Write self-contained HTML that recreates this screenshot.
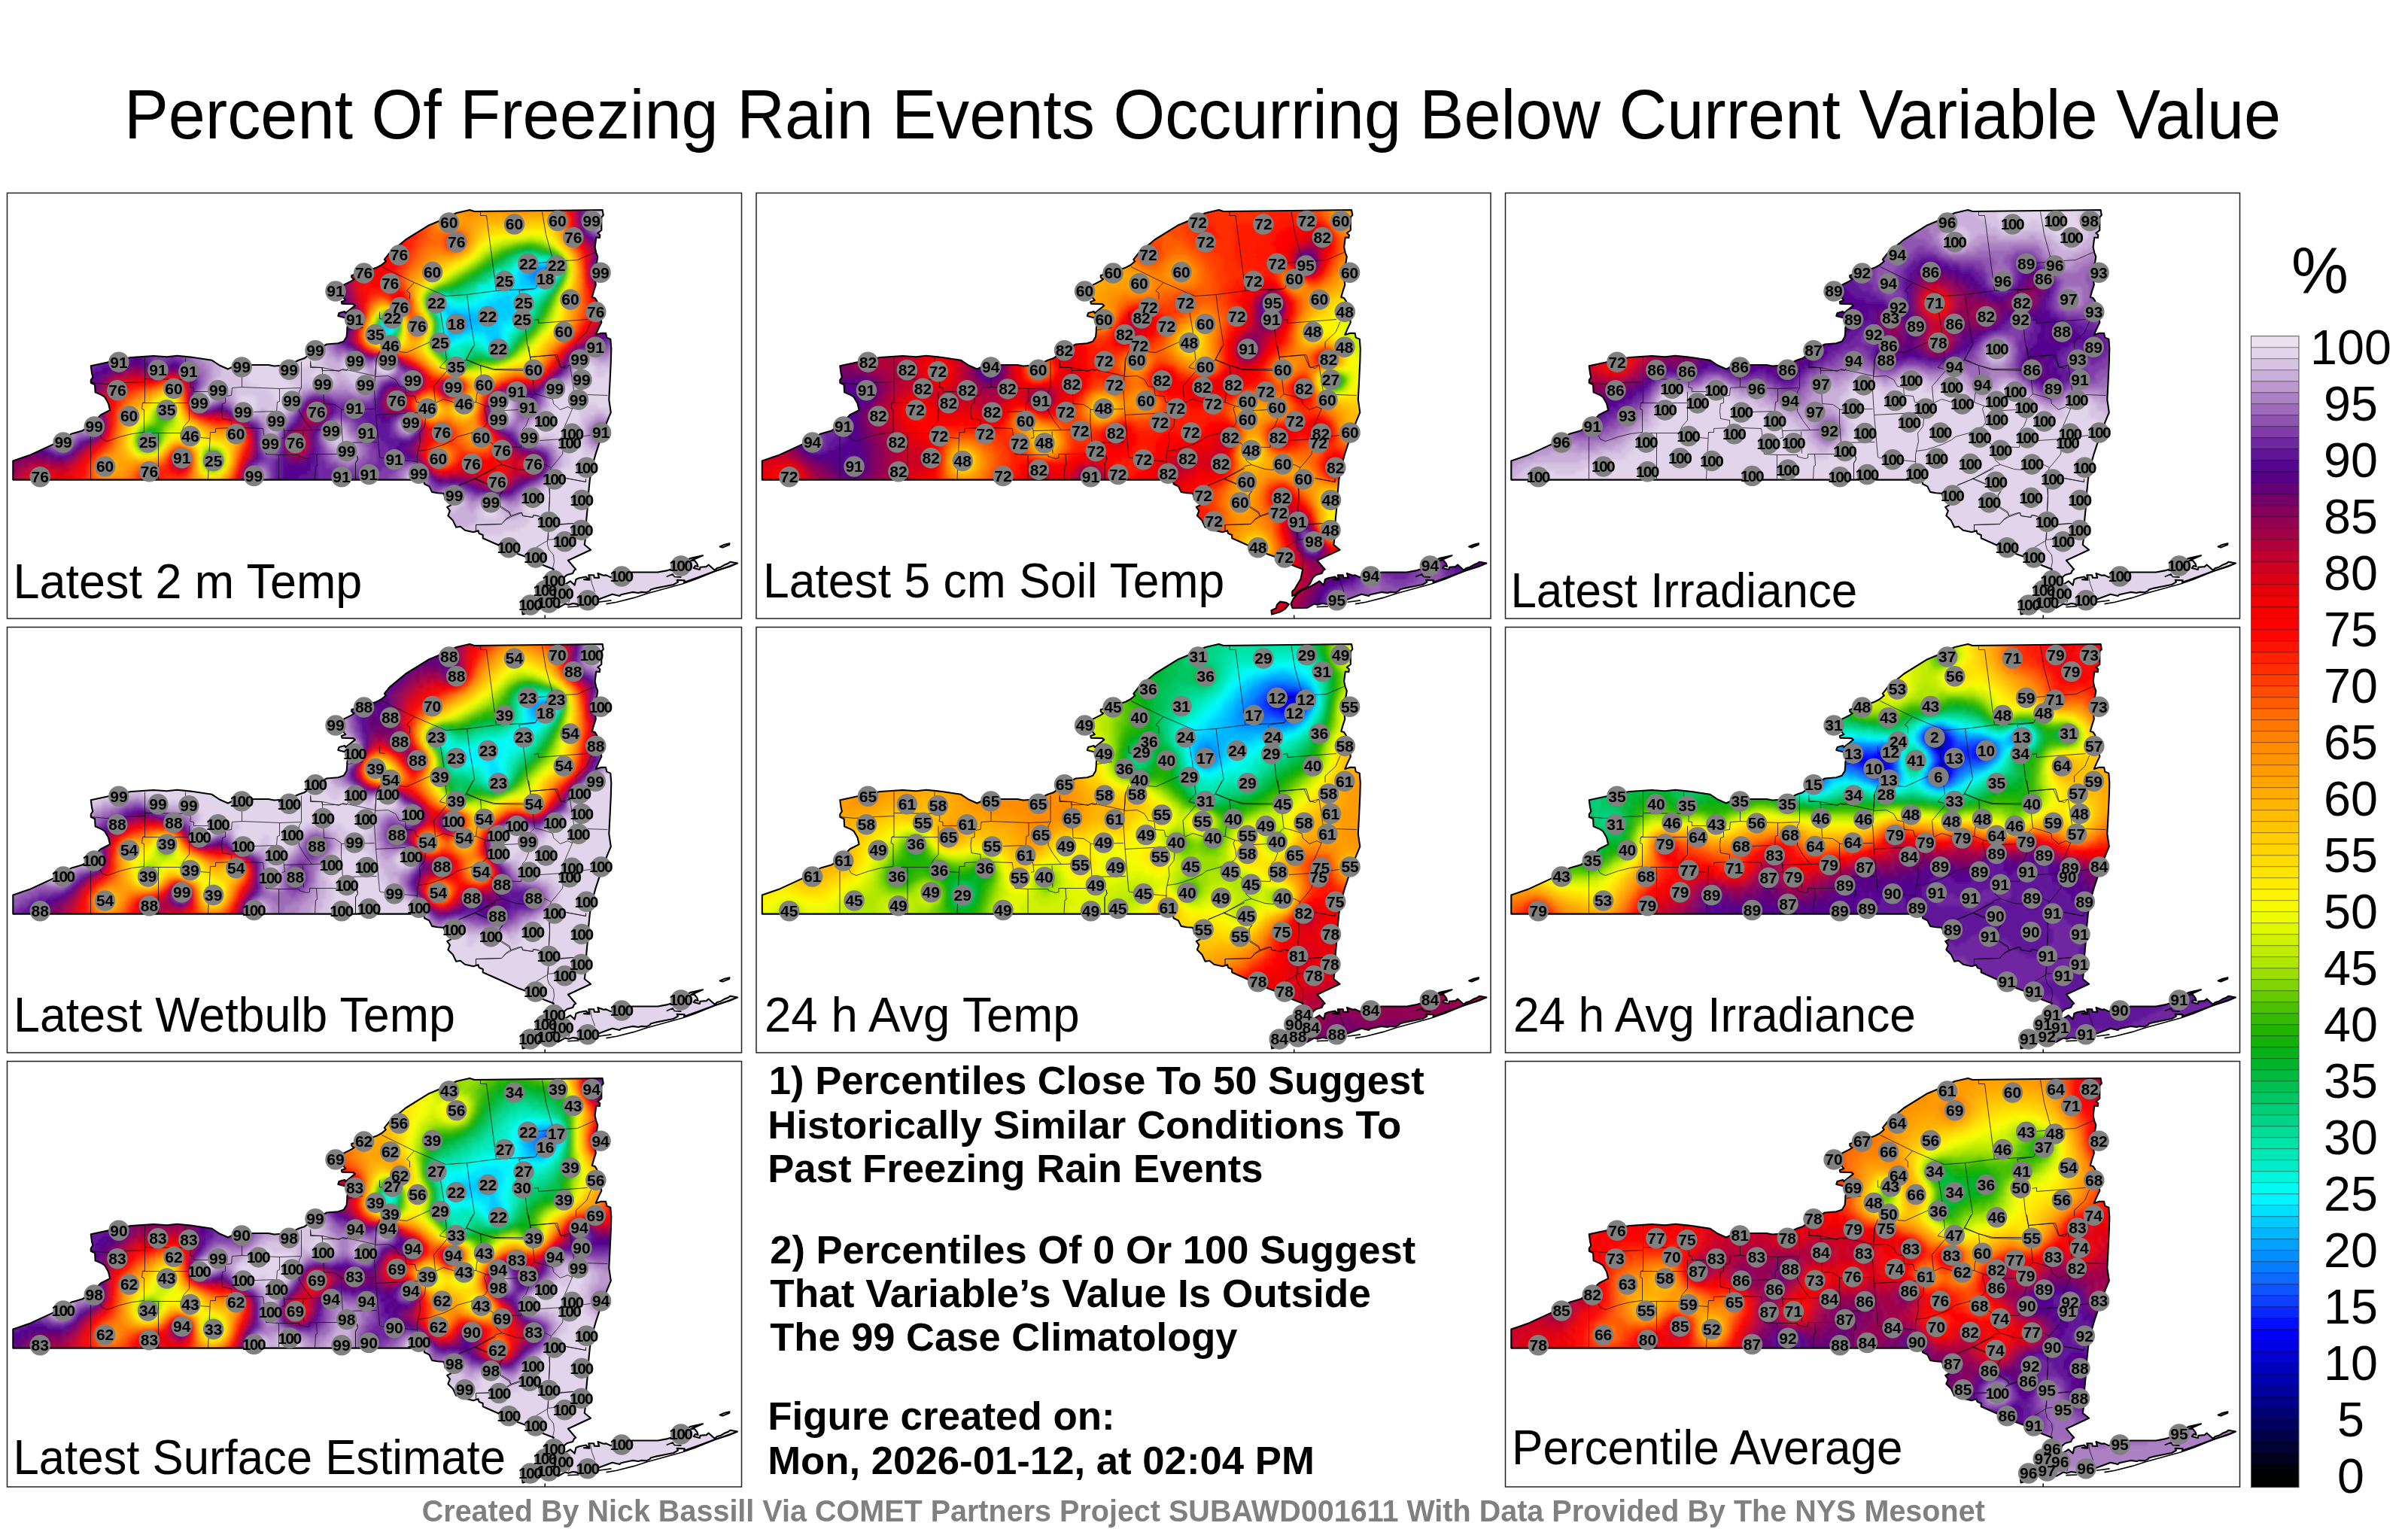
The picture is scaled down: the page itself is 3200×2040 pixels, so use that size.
<!DOCTYPE html><html><head><meta charset="utf-8"><title>Freezing Rain Percentiles</title><style>html,body{margin:0;padding:0;background:#fff}svg{display:block}text{font-family:"Liberation Sans",sans-serif}</style></head><body><svg width="3200" height="2040" viewBox="0 0 3200 2040"><g opacity="0.999"><defs><clipPath id="c"><path d="M7.8,381.1 7.8,356.1 29.5,348.6 62.0,333.6 85.8,319.9 99.6,316.1 109.6,309.8 124.6,294.8 136.6,288.6 134.6,279.8 129.6,271.1 125.8,268.6 117.1,264.8 116.6,254.8 111.3,252.3 111.3,248.5 113.8,244.8 112.6,239.8 111.3,229.8 134.6,224.8 164.6,218.5 194.6,216.5 212.2,217.8 225.9,216.3 247.2,218.5 272.2,222.3 282.2,229.0 293.5,234.0 302.2,229.8 324.7,228.5 347.3,228.5 354.8,230.0 374.8,228.5 387.3,222.3 394.8,219.8 409.8,208.5 424.8,201.0 439.8,199.8 447.3,197.3 451.1,191.0 451.8,183.5 451.8,179.6 453.6,172.1 449.8,165.9 439.8,163.4 441.1,159.6 448.6,157.6 449.8,159.6 462.3,149.6 459.8,147.6 444.8,147.1 444.3,144.6 449.8,142.6 447.3,139.6 444.8,129.6 447.3,122.1 457.3,117.1 461.1,114.6 457.8,112.1 457.8,109.6 464.8,107.6 474.9,104.6 489.9,99.6 497.4,95.8 503.3,90.8 501.3,88.3 508.3,79.6 529.6,62.0 559.6,43.3 574.6,37.0 597.2,26.5 614.7,22.5 620.9,24.5 791.1,22.5 792.3,29.5 789.8,32.0 789.8,49.5 784.8,53.3 787.8,55.8 787.3,59.5 782.8,59.0 781.1,72.1 782.8,79.6 784.8,84.6 783.6,92.1 779.8,99.6 781.1,112.1 782.3,122.1 779.8,129.6 777.3,138.4 781.1,139.6 783.6,143.4 786.1,149.6 788.6,162.1 789.8,172.1 786.1,179.6 782.3,188.4 788.6,186.4 795.6,186.4 796.8,192.1 801.8,194.1 802.8,207.2 802.3,224.7 801.1,249.7 799.8,274.7 802.3,291.7 797.3,303.6 789.8,323.6 782.3,346.1 777.3,363.6 774.3,381.1 772.8,396.2 771.0,421.2 769.8,433.7 768.5,458.7 767.3,467.5 775.6,474.2 745.4,488.3 755.7,500.2 753.7,501.3 751.6,505.4 744.1,507.5 740.0,510.9 735.9,519.2 733.8,521.2 731.7,524.6 723.5,527.4 719.4,530.1 715.3,534.2 712.3,535.6 712.3,529.4 715.3,526.7 719.4,519.8 723.5,513.0 724.9,506.1 726.3,500.0 713.9,495.2 689.3,483.5 679.7,480.1 654.7,468.7 632.2,458.7 632.2,454.5 627.2,452.5 625.9,448.7 619.7,450.7 608.4,448.2 602.2,443.2 596.7,444.2 592.2,434.9 585.9,428.7 588.4,422.4 584.7,417.4 589.7,414.9 588.4,409.9 582.2,407.4 580.9,401.2 579.7,399.2 572.1,398.7 564.6,397.4 560.9,389.9 554.6,386.7 553.4,381.1Z M712.6,551.6 710.5,545.9 713.9,539.0 719.4,532.2 724.9,528.1 731.7,525.3 744.8,518.2 748.3,515.8 754.2,521.1 755.9,513.5 760.0,511.8 769.3,510.0 772.2,512.9 766.4,513.7 773.9,514.1 772.8,507.7 779.7,507.7 780.3,511.2 786.7,511.4 785.0,505.6 792.5,508.3 796.0,507.9 801.8,510.6 815.8,507.5 830.9,504.0 864.6,504.0 876.2,501.9 883.2,499.8 897.2,492.6 907.6,485.6 924.5,481.9 908.8,488.5 913.5,488.5 916.9,492.6 918.1,496.6 914.6,495.5 912.3,498.4 920.4,500.5 921.0,497.2 929.2,496.6 932.1,494.0 940.2,501.3 943.7,498.4 948.3,497.2 953.0,494.3 957.6,492.6 961.1,490.2 970.4,492.0 960.0,496.6 940.8,502.5 920.4,510.0 899.5,517.6 900.1,514.7 890.2,514.4 891.4,517.2 885.5,520.5 873.9,522.8 862.3,525.1 855.3,526.9 854.2,528.6 849.5,530.9 842.5,530.4 839.0,531.5 830.9,530.4 815.8,533.8 814.0,535.6 804.2,533.3 786.7,539.7 775.1,543.7 760.0,546.6 751.8,545.5 746.0,547.2 741.4,546.1 732.1,551.3Z M684.5,554.8 690.6,552.0 692.0,547.2 696.1,543.1 703.7,544.2 707.8,546.6 703.0,552.7 696.1,556.8 685.1,559.9Z M947.2,469.9 952.4,467.6 960.0,465.8 959.4,467.6 950.7,471.1Z"/></clipPath><filter id="b" x="-5%" y="-5%" width="110%" height="110%"><feGaussianBlur stdDeviation="2.2"/></filter><g id="o"><path d="M111,252 131,254 158,252 183,251M183,219 183,278 180,279 179,287 182,288 182,318M182,318 166,320 150,324 133,330 126,327 124,323 118,314M111,324 111,380M183,247 243,248M237,219 237,225 244,253 243,258 248,259 248,264 267,264M180,279 242,279M242,264 242,279 242,302 235,310 231,319M182,319 201,319 231,319M201,319 201,380M257,325 269,326M298,312 277,313 277,318 270,318 269,337 267,380M312,245 312,258 299,259 298,269 290,270 290,279 286,280 285,290 286,300 298,302 298,307 298,312M312,258 362,260 390,259M391,224 391,259 388,264 388,290 395,302 405,315 368,316M362,260 362,277 359,278 358,290 328,291M358,290 366,304 368,316 369,325 365,326M298,312 313,312 340,313 341,319 344,347 361,348 361,380M361,348 388,348 388,350 398,353 402,352 402,347 411,347 412,362 410,363 409,380M393,317 394,346M403,225 403,232 419,232 441,237 446,234 451,235 466,238 488,243M419,232 419,239 421,280 435,281 444,287 444,305 446,332 446,347 411,347M444,288 488,287M446,332 491,331M465,349 466,354 463,359 463,380M405,315 445,314M489,244 488,262 490,294 495,351M489,244 506,243 516,248 521,257 529,258 530,269 542,270 544,278 556,279 569,279M491,219 489,244M619,204 610,222 628,229 648,234 686,234M610,222 584,237 567,257 569,279M629,229 630,240 624,269 623,278M569,279 580,274 593,278 623,278 636,283 634,287 637,297 638,305 635,310 616,319M636,283 661,289 680,288 701,267M490,295 546,292 556,300 555,310 548,319 549,330 546,343 545,349 545,370M495,351 497,352 545,357M546,343 560,341 581,334 593,328 598,324 616,319M616,319 645,333 647,337 683,338M647,337 651,355 658,361 676,367 686,368 715,361 723,365M658,361 650,363 646,366 623,379 600,389M621,379 640,387 658,397 655,401 656,418 667,425 670,430M623,460 623,441 657,440 663,434 670,430 684,425 685,429 699,431 700,428 706,429 720,437M693,300 689,310 685,314 683,338M708,329 738,327 775,322M751,287 741,310 740,330 738,347 730,357 723,365 721,370 721,395 721,409 720,424 719,460M742,379 769,384 769,380M735,440 771,438M693,204 695,218 699,250 701,267 713,270 725,274 726,280 735,288 745,284 751,287M695,218 731,215 736,232 746,229 748,229 753,262 752,269 751,287M771,268 798,269M680,288 693,300M463,381 463,359 466,354 465,349M498,98 541,119 583,137 611,135 650,130 702,127M629,25 629,30 637,30 650,130M711,25 716,55 724,84 741,90 758,89 776,81 781,79M724,84 717,92 706,93M724,84 713,106 702,127 680,130 683,138 689,181 691,200 695,218 696,223M541,119 531,130 535,133 535,141M495,158 495,167 502,168M453,182 473,179M576,159 580,183 583,213 584,222 576,230 575,232 583,234M611,135 615,166 618,183 621,202 610,221 629,229 646,235 686,236M521,211 531,212 562,198M495,210 490,223 490,233 489,244M700,169 706,168 706,173 771,168M776,171 770,185 756,198 756,206M695,218 728,215 735,231 743,233 748,228M403,223 404,231 418,232 419,236 441,236 445,235 451,236 453,233M601,388 621,380 649,366M621,380 638,387M659,396 654,402M657,417 668,424 669,429M623,448 623,441 657,440 663,433 669,429 681,425 684,425 685,429 698,431 699,428 707,430M720,391 721,402 720,418 720,423M734,441 752,439M718,461 727,460M718,462 703,471M719,452 718,462 718,467 720,474 726,481 727,490 725,499M743,379 769,384 769,380M775,509 777,519 781,530M749,537 746,545" fill="none" stroke="#000" stroke-opacity="0.8" stroke-width="0.9" clip-path="url(#c)"/><path d="M7.8,381.1 7.8,356.1 29.5,348.6 62.0,333.6 85.8,319.9 99.6,316.1 109.6,309.8 124.6,294.8 136.6,288.6 134.6,279.8 129.6,271.1 125.8,268.6 117.1,264.8 116.6,254.8 111.3,252.3 111.3,248.5 113.8,244.8 112.6,239.8 111.3,229.8 134.6,224.8 164.6,218.5 194.6,216.5 212.2,217.8 225.9,216.3 247.2,218.5 272.2,222.3 282.2,229.0 293.5,234.0 302.2,229.8 324.7,228.5 347.3,228.5 354.8,230.0 374.8,228.5 387.3,222.3 394.8,219.8 409.8,208.5 424.8,201.0 439.8,199.8 447.3,197.3 451.1,191.0 451.8,183.5 451.8,179.6 453.6,172.1 449.8,165.9 439.8,163.4 441.1,159.6 448.6,157.6 449.8,159.6 462.3,149.6 459.8,147.6 444.8,147.1 444.3,144.6 449.8,142.6 447.3,139.6 444.8,129.6 447.3,122.1 457.3,117.1 461.1,114.6 457.8,112.1 457.8,109.6 464.8,107.6 474.9,104.6 489.9,99.6 497.4,95.8 503.3,90.8 501.3,88.3 508.3,79.6 529.6,62.0 559.6,43.3 574.6,37.0 597.2,26.5 614.7,22.5 620.9,24.5 791.1,22.5 792.3,29.5 789.8,32.0 789.8,49.5 784.8,53.3 787.8,55.8 787.3,59.5 782.8,59.0 781.1,72.1 782.8,79.6 784.8,84.6 783.6,92.1 779.8,99.6 781.1,112.1 782.3,122.1 779.8,129.6 777.3,138.4 781.1,139.6 783.6,143.4 786.1,149.6 788.6,162.1 789.8,172.1 786.1,179.6 782.3,188.4 788.6,186.4 795.6,186.4 796.8,192.1 801.8,194.1 802.8,207.2 802.3,224.7 801.1,249.7 799.8,274.7 802.3,291.7 797.3,303.6 789.8,323.6 782.3,346.1 777.3,363.6 774.3,381.1 772.8,396.2 771.0,421.2 769.8,433.7 768.5,458.7 767.3,467.5 775.6,474.2 745.4,488.3 755.7,500.2 753.7,501.3 751.6,505.4 744.1,507.5 740.0,510.9 735.9,519.2 733.8,521.2 731.7,524.6 723.5,527.4 719.4,530.1 715.3,534.2 712.3,535.6 712.3,529.4 715.3,526.7 719.4,519.8 723.5,513.0 724.9,506.1 726.3,500.0 713.9,495.2 689.3,483.5 679.7,480.1 654.7,468.7 632.2,458.7 632.2,454.5 627.2,452.5 625.9,448.7 619.7,450.7 608.4,448.2 602.2,443.2 596.7,444.2 592.2,434.9 585.9,428.7 588.4,422.4 584.7,417.4 589.7,414.9 588.4,409.9 582.2,407.4 580.9,401.2 579.7,399.2 572.1,398.7 564.6,397.4 560.9,389.9 554.6,386.7 553.4,381.1Z M712.6,551.6 710.5,545.9 713.9,539.0 719.4,532.2 724.9,528.1 731.7,525.3 744.8,518.2 748.3,515.8 754.2,521.1 755.9,513.5 760.0,511.8 769.3,510.0 772.2,512.9 766.4,513.7 773.9,514.1 772.8,507.7 779.7,507.7 780.3,511.2 786.7,511.4 785.0,505.6 792.5,508.3 796.0,507.9 801.8,510.6 815.8,507.5 830.9,504.0 864.6,504.0 876.2,501.9 883.2,499.8 897.2,492.6 907.6,485.6 924.5,481.9 908.8,488.5 913.5,488.5 916.9,492.6 918.1,496.6 914.6,495.5 912.3,498.4 920.4,500.5 921.0,497.2 929.2,496.6 932.1,494.0 940.2,501.3 943.7,498.4 948.3,497.2 953.0,494.3 957.6,492.6 961.1,490.2 970.4,492.0 960.0,496.6 940.8,502.5 920.4,510.0 899.5,517.6 900.1,514.7 890.2,514.4 891.4,517.2 885.5,520.5 873.9,522.8 862.3,525.1 855.3,526.9 854.2,528.6 849.5,530.9 842.5,530.4 839.0,531.5 830.9,530.4 815.8,533.8 814.0,535.6 804.2,533.3 786.7,539.7 775.1,543.7 760.0,546.6 751.8,545.5 746.0,547.2 741.4,546.1 732.1,551.3Z M684.5,554.8 690.6,552.0 692.0,547.2 696.1,543.1 703.7,544.2 707.8,546.6 703.0,552.7 696.1,556.8 685.1,559.9Z M947.2,469.9 952.4,467.6 960.0,465.8 959.4,467.6 950.7,471.1Z" fill="none" stroke="#000" stroke-width="2.1" stroke-linejoin="round"/><path d="M744.8,550.1 760.0,549.5" fill="none" stroke="#000" stroke-width="1.6"/><path d="M785.5,543.7 803.0,541.4" fill="none" stroke="#000" stroke-width="1.6"/><path d="M970.4,492.0 940.8,502.7 914.6,513.5 897.2,519.5 850.7,532.3 833.2,537.9 810.0,543.7 796.0,546.1" fill="none" stroke="#000" stroke-width="1.6"/><path d="M876.2,510.0 884.4,506.5 886.7,510.0 896.0,510.6" fill="none" stroke="#000" stroke-width="1.6"/></g></defs>
<text transform="translate(164.9,184.0) scale(0.9450,1)" font-size="93.4">Percent Of Freezing Rain Events Occurring Below Current Variable Value</text>
<g transform="translate(9.5,256.5)"><rect x="0" y="0" width="976" height="565.5" fill="#fff" stroke="#222" stroke-width="1.5"/><g clip-path="url(#c)"><g filter="url(#b)"><g transform="scale(5) translate(0,.5)" stroke-width="1.25" fill="none"><path stroke="#0d69ff" d="M143 20h1m-3 1h3m-2 1h1"/><path stroke="#087cff" d="M141 20h2m1 0h1m-5 1h1m0 1h1m1 0h1m-25 12h2m-2 1h2"/><path stroke="#038fff" d="M143 19h2m-6 1h2m-2 1h1m4 0h1m-6 1h2m0 1h2m-24 10h3m-4 1h1m2 0h1m-4 1h1m2 0h1m-3 1h1"/><path stroke="#00a2ff" d="M139 19h4m2 0h1m-8 1h1m6 0h1m-8 1h1m-1 1h1m0 1h2m2 0h1m-26 9h4m-4 1h1m3 0h1m-22 1h2m19 0h1m-22 1h1m20 0h1m-5 1h1m1 0h2"/><path stroke="#00b6ff" d="M138 19h1m-2 1h1m-1 1h1m-1 1h1m6 0h1m-7 1h1m0 1h3m-28 5h2m-1 1h2m1 1h2m-3 1h1m4 0h3m-24 1h1m15 0h1m5 0h4m-27 1h1m16 0h1m5 0h3m-26 1h1m16 0h1m5 0h1m-7 1h1m4 0h1m-6 1h4m8 1h2m-2 1h2m-2 1h2"/><path stroke="#00caff" d="M138 18h2m3 0h2m-8 1h1m-2 1h1m-1 1h1m8 0h1m-10 1h1m-1 1h2m-2 1h3m3 0h1m-11 3h2m-4 1h4m-18 1h1m11 0h7m-18 1h1m8 0h9m-19 1h2m2 0h15m-10 1h10m-33 1h1m24 0h6m-7 1h5m-29 1h1m21 0h7m-8 1h8m-10 1h1m5 0h4m-15 1h3m9 0h1m-1 1h1m2 0h1m-4 1h1m1 1h1"/><path stroke="#00e0ff" d="M140 18h3m-7 1h1m-2 2h1m-1 1h1m-2 1h2m8 0h1m-13 1h4m-5 1h10m-11 1h8m-9 1h3m2 0h3m-23 1h2m11 0h3m4 0h2m-19 1h1m7 0h3m7 0h1m-22 1h1m3 0h8m9 0h1m-21 1h1m19 0h2m-21 1h1m18 0h2m-4 1h3m-5 1h3m-3 1h1m-32 1h2m14 0h1m14 0h1m-16 1h1m5 0h5m4 0h1m-13 1h2m6 0h1m3 0h1m-16 1h3m8 0h1m3 1h1m-3 1h1"/><path stroke="#00f4ff" d="M137 18h1m7 0h1m0 1h1m-12 1h1m-2 1h1m-2 1h2m10 0h1m-14 1h2m-3 1h1m11 0h1m-14 1h1m10 0h1m-13 1h1m8 0h2m-13 1h2m8 0h1m-22 1h1m8 0h2m9 0h1m-19 1h1m4 0h2m11 0h1m-1 1h1m-21 3h1m19 0h1m-21 1h1m17 0h2m-20 1h1m15 0h2m-2 1h1m-1 1h1m-18 1h1m5 0h2m2 0h2m-12 1h1m3 0h1m-4 1h2m9 0h1m0 1h1m2 0h1"/><path stroke="#00fbf3" d="M136 18h1m-2 1h1m10 1h1m-15 2h1m-2 1h1m-2 1h1m-2 1h1m12 0h1m-16 1h2m11 0h1m-15 1h1m11 0h1m-22 1h1m6 0h1m12 0h1m-25 1h1m5 0h4m14 0h1m-1 1h1m-24 1h1m22 0h1m-23 1h1m21 0h1m-38 1h1m35 1h1m-3 1h1m-33 1h1m30 0h1m-11 2h2m7 0h1m-13 1h1m5 0h1m5 0h1m-15 1h1"/><path stroke="#00f4dc" d="M137 17h5m-12 3h1m3 0h1m-5 1h4m12 0h1m-18 1h3m-4 1h3m-6 1h5m-5 1h4m-4 1h2m14 0h1m-18 1h2m13 0h1m-27 1h1m4 0h1m3 0h2m14 0h2m-2 1h1m-26 1h1m24 0h1m-1 1h1m-2 2h1m-39 2h1m35 0h1m-21 2h1m17 0h1m-13 2h5m-11 1h1m3 0h1m6 0h1m5 0h1m-6 1h1m1 1h2m-94 23h1m-1 1h1"/><path stroke="#00edc8" d="M142 17h3m-10 1h1m10 0h1m-13 1h1m-2 1h1m10 4h1m-2 1h1m-29 2h2m6 0h1m16 0h1m-22 1h3m16 4h1m-24 1h1m21 1h1m-2 1h1m-38 1h1m15 0h1m18 0h1m-35 1h2m31 1h1m-14 2h2m3 0h1m-10 1h4m-66 30h1"/><path stroke="#00e8b8" d="M136 17h1m-5 3h1m12 3h1m-22 3h1m17 0h1m-29 1h1m2 0h1m3 0h2m18 0h1m-2 1h1m-2 1h1m-1 1h1m-2 3h1m-40 1h1m3 0h1m11 0h1m-13 1h1m11 0h1m19 1h1m-2 1h1m-21 2h1m18 0h1m-12 1h3m-5 1h1m5 0h1m5 0h1m-15 1h3m7 0h1m2 0h1m-13 1h2m-83 22h1m15 5h1m0 1h1"/><path stroke="#00e3a8" d="M138 16h2m5 1h1m-12 1h1m-2 1h1m12 3h1m-23 3h1m-2 1h1m-6 1h3m18 4h1m-26 1h1m22 3h1m-39 2h1m14 1h1m-1 2h1m18 0h1m-19 1h1m5 0h2m2 0h1m-9 1h1m3 0h1m5 0h1m-10 1h1m0 1h2m-85 21h1m-1 1h1m1 0h1m16 4h1"/><path stroke="#00dc98" d="M137 16h1m2 0h1m-6 1h1m-4 2h1m-2 1h1m-3 1h1m-2 1h1m-2 1h1m-5 2h1m20 0h1m-24 1h2m20 0h1m-31 1h1m28 0h1m-2 1h1m-2 1h1m-28 2h1m-13 1h1m37 0h1m-2 2h1m-3 2h1m-35 1h1m11 0h1m20 0h1m-2 1h1m-12 3h2m-4 2h1m-4 1h1m-82 20h1"/><path stroke="#00d488" d="M136 16h1m4 0h2m-9 1h1m-2 1h1m13 1h1m-1 1h1m-21 2h1m-2 1h1m-3 1h1m20 0h1m-24 1h1m-7 1h1m2 0h2m-9 3h1m27 1h1m-27 3h1m24 0h1m-37 3h1m30 3h1m-19 3h1m5 0h1m3 0h1m5 0h1m-16 1h1m11 0h1m-9 1h1m-3 1h1m-82 19h1m-2 3h1"/><path stroke="#00cd77" d="M135 16h1m7 0h1m2 1h1m-15 1h1m-2 1h1m-3 1h1m-2 1h1m-3 1h1m-2 1h1m-3 1h1m-3 1h1m-7 1h1m1 0h2m-7 2h1m29 0h1m-2 1h1m-2 2h1m-41 1h1m-2 1h1m3 0h1m34 2h1m-41 1h1m15 0h1m22 0h1m-40 1h1m37 0h1m-37 1h2m33 0h1m-3 3h1m-11 1h3m-4 1h1m5 0h1m1 0h1m-11 2h1m-85 19h1m17 5h1m-2 1h1m-1 1h1m0 1h1"/><path stroke="#00c664" d="M138 15h2m4 1h1m-12 1h1m13 1h1m-18 1h1m-4 2h1m19 0h1m-24 2h1m21 0h1m-25 1h1m-3 1h1m-7 1h1m29 0h1m-2 1h1m-32 3h1m28 0h1m-40 2h1m37 0h1m-27 2h1m24 0h1m-26 1h1m-16 3h1m34 2h1m-21 1h1m0 1h1m7 1h1m3 0h1m3 0h1m-15 1h1m4 0h1m-5 1h1m-80 20h1m-4 2h1m1 0h1m16 2h1m-1 3h1"/><path stroke="#00bf51" d="M136 15h2m2 0h1m-7 1h1m-3 1h1m-2 1h1m-3 1h1m-2 1h1m-3 1h1m-2 1h1m-3 1h1m-3 1h1m-3 1h1m25 0h1m-4 4h1m-2 2h1m-29 1h1m26 1h1m-43 2h1m39 1h1m-37 2h1m10 1h1m21 0h1m-20 4h1m7 0h1m1 0h1m-6 2h1m-83 19h1m-5 1h1m-1 1h1m3 0h1m16 5h1"/><path stroke="#00b93e" d="M141 15h1m-9 1h1m11 0h1m-16 2h1m-4 2h1m-4 2h1m22 0h1m-26 1h1m-6 2h2m-6 1h1m-2 1h1m30 1h1m-3 4h1m-3 3h1m-37 2h1m33 0h1m-25 1h1m22 0h1m-24 2h1m19 2h1m-9 1h1m-84 14h1m-6 6h2m14 6h1m2 1h1m-4 2h1"/><path stroke="#00b32a" d="M135 15h1m6 0h2m-13 2h1m-3 1h1m-2 1h1m-3 1h1m-2 1h1m-3 1h1m-4 2h1m25 0h1m-31 1h1m27 2h1m-3 3h1m-31 1h1m27 3h1m-7 7h1m-3 2h1m-10 1h1m-2 1h1m-82 13h2m-8 6h1"/><path stroke="#06b018" d="M137 14h3m-6 1h1m-3 1h1m-3 1h1m-4 2h1m-4 2h1m-4 2h1m-3 1h1m-5 1h1m29 1h1m-3 3h1m-2 2h1m-30 2h1m27 0h1m-44 1h1m40 2h1m-27 1h1m24 0h1m-41 1h1m38 0h1m-2 1h1m-2 1h1m-22 2h1m1 2h1m7 0h1m2 0h3m-13 1h1m1 1h1m-79 11h1m-1 2h1m-6 4h1m2 0h1m-5 4h1"/><path stroke="#12b008" d="M136 14h1m3 0h1m-8 1h1m10 0h1m-14 1h1m14 0h1m-18 1h1m17 0h1m-20 1h1m-3 1h1m-2 1h1m-3 1h1m-2 1h1m-3 1h1m26 0h1m-30 1h1m-5 1h1m-4 3h1m32 0h1m-34 1h1m31 1h1m-45 2h1m42 0h1m-3 3h1m-40 4h1m11 2h1m1 2h1m9 1h2m3 0h1m-8 1h1m-4 1h1m-79 13h1m-3 6h1m-2 2h1m-3 1h1m18 1h1m-1 3h1"/><path stroke="#22b300" d="M135 14h1m5 0h1m-10 1h1m-3 1h1m-4 2h1m20 1h1m-25 1h1m23 0h1m-28 2h1m-3 1h1m-3 1h1m28 1h1m-35 1h1m-9 8h1m36 0h1m-38 1h1m-8 1h1m15 0h1m-17 1h1m5 1h1m-4 1h1m1 0h1m32 2h1m-2 1h1m-2 1h1m-3 1h1m-11 2h1m-80 10h1m0 1h1m-4 1h1m2 0h1m-4 1h1m0 1h1m-5 2h3m0 2h1m-5 4h1m17 0h1m-3 2h1m-1 1h1m1 2h1"/><path stroke="#36b900" d="M134 14h1m7 0h1m-12 1h1m13 0h1m-18 2h1m-4 2h1m-4 2h1m25 0h1m-29 1h1m-5 2h1m-6 3h1m33 0h1m-2 2h1m-34 1h1m31 1h1m-2 2h1m-30 1h1m-1 1h1m-10 1h1m35 0h1m-2 1h1m-2 1h1m-2 1h1m-2 1h1m-13 5h1m-7 1h1m3 0h1m-82 10h1m-2 1h1m2 2h1m-4 1h1m1 0h1m-3 2h1m-6 1h1m4 0h1m-7 2h1m5 1h1m-3 2h1m14 0h1m1 0h1m-1 5h1"/><path stroke="#4cc100" d="M137 13h4m-8 1h1m9 0h1m-15 2h1m-3 1h1m-2 1h1m21 0h1m-26 2h1m-3 1h1m-4 2h1m-4 1h1m31 0h1m-35 1h1m30 5h1m-33 2h1m30 0h1m-46 1h1m42 2h1m-43 4h1m12 0h1m-1 1h1m12 5h1m-87 16h3m-6 1h1m-3 4h1m17 3h1m0 4h1"/><path stroke="#64cb00" d="M135 13h2m4 0h1m-10 1h1m-3 1h1m-3 1h1m-4 2h1m-2 1h1m-3 1h1m-4 2h1m28 0h1m-32 1h1m28 3h1m-2 2h1m-46 3h2m1 1h1m38 2h1m-46 1h1m42 2h1m-2 1h1m-2 1h1m-2 1h1m-2 1h1m-24 1h1m21 0h1m-22 1h1m19 0h1m-20 1h1m16 0h1m-17 1h1m9 0h4m-7 1h1m-81 10h1m-5 2h1m-1 1h1m-1 1h1m3 0h1m-6 1h1m3 0h1m-2 1h1m-1 1h1m-8 1h1m0 4h1m21 2h1m-1 1h1m-6 1h1"/><path stroke="#7ed500" d="M134 13h1m7 0h1m-12 1h1m12 0h1m-16 1h1m-3 1h1m19 0h1m-22 1h1m-4 2h1m-4 2h1m-3 1h1m-5 2h1m-4 2h1m33 3h1m-2 2h1m-41 2h1m38 0h1m-2 2h1m-2 1h1m-38 1h1m-8 1h1m14 0h1m-10 1h1m8 2h1m17 4h1m-91 11h1m-4 5h1m3 3h1m-8 3h1m21 1h1"/><path stroke="#9adf00" d="M138 12h2m-7 1h1m-4 1h1m-3 1h1m17 0h1m1 2h1m-25 1h1m-4 2h1m-3 1h1m-4 2h1m31 0h1m-37 2h1m34 0h1m-2 2h1m-36 4h1m32 1h1m-2 2h1m-46 5h1m38 2h1m-5 3h1m-17 2h1m6 0h2m-85 9h2m-4 2h1m4 1h1m-1 1h1m-7 1h1m4 1h1m-9 1h1m6 0h1m-2 3h1m-2 2h1m-2 1h1m12 0h1m4 1h1m-2 4h1"/><path stroke="#b0e700" d="M136 12h2m2 0h2m-11 1h2m10 0h1m-15 1h1m15 0h1m-20 2h1m-2 1h1m-4 2h1m-6 3h1m-8 6h1m34 2h1m-34 3h1m31 0h1m-33 4h1m28 0h1m-38 1h1m35 0h1m-2 1h1m-2 1h1m-3 2h1m-2 1h1m-5 2h1m-6 1h1m-83 11h1m-7 2h1m5 1h1m-9 1h1m6 1h1m-10 1h1m7 0h1m10 4h2m2 5h1"/><path stroke="#c0ec00" d="M134 12h2m6 0h1m-13 1h1m-3 1h1m-2 1h1m-5 3h1m-4 2h1m28 0h1m-32 1h1m-4 2h1m-3 1h1m-4 3h1m35 1h1m-37 1h1m-12 2h1m45 0h1m-48 1h1m-2 2h1m45 1h1m-2 1h1m-42 4h1m11 3h1m0 1h1m12 2h1m-7 1h2m-80 8h1m77 1h1m-84 2h1m-2 2h1m6 1h1m-3 3h1m5 0h1m-8 2h1m13 1h1m-4 6h1m1 1h1"/><path stroke="#d0f100" d="M139 11h1m-8 1h2m-5 1h1m14 0h1m-19 2h1m-2 1h1m-2 1h1m-4 2h1m27 0h1m-31 1h1m29 1h1m-34 1h1m31 2h1m-38 1h1m35 1h1m-2 3h1m-45 2h1m42 1h1m-2 2h1m-5 5h1m-39 1h1m36 0h1m-2 1h1m-27 1h1m24 0h1m-2 1h1m-3 1h1m-20 1h1m16 0h1m-5 1h1m-9 1h1m2 0h2m-85 8h1m-2 1h1m4 0h1m77 0h1m-12 1h2m8 0h1m-87 4h1m8 1h1m-2 1h1m2 0h3m-2 1h1m1 0h1m-17 1h1m-1 1h1m18 1h1m-19 1h1m22 0h1m-22 1h2m17 5h1"/><path stroke="#dff700" d="M137 11h2m1 0h2m-11 1h1m11 0h1m-16 1h1m-2 1h1m19 1h1m-26 3h1m26 0h1m-30 1h1m-4 2h1m31 1h1m-36 1h1m-3 1h1m-3 2h1m-1 4h1m35 0h1m-2 3h1m-34 1h1m-1 2h1m30 0h1m-48 1h1m45 0h1m-2 1h1m-38 1h1m6 0h1m-12 1h1m10 0h1m4 6h1m12 0h1m-11 1h1m5 0h1m-84 7h1m68 2h2m-75 1h1m-2 2h1m-2 1h1m8 0h1m-1 1h1m-12 1h1m10 0h2m-3 1h2m3 0h1m-17 1h1m8 1h1m6 0h1m-17 2h1m22 0h1m-19 2h1m12 1h1m1 4h1"/><path stroke="#edfc00" d="M135 11h2m5 0h1m-14 1h2m14 1h1m-20 1h1m19 0h1m-22 1h1m-2 1h1m23 0h1m-26 1h1m-6 3h1m-4 2h1m32 3h1m-2 2h1m-2 4h1m-36 1h1m0 3h1m31 0h1m-49 1h1m6 4h1m7 1h1m27 0h1m-2 1h1m-2 1h1m-3 1h1m-3 1h1m-4 1h1m-5 1h2m-87 7h1m1 0h1m77 1h2m-3 1h1m-1 1h1m1 0h1m-86 1h1m7 1h1m1 3h1m-5 2h1m2 0h1m3 0h1m-3 1h1m1 0h1m-11 3h1m10 0h1m-17 1h1m15 0h1m-1 2h1"/><path stroke="#f7fb00" d="M139 10h2m-10 1h4m8 0h1m-16 1h1m15 0h1m-18 1h1m-7 5h1m-3 1h1m-4 2h1m-4 2h1m35 0h1m-3 5h1m-2 4h1m-50 1h1m47 1h1m-41 1h1m-1 1h1m38 0h1m-2 1h1m-2 1h1m-46 1h1m43 0h1m-2 1h1m-5 4h1m-98 11h1m4 0h1m68 2h1m-69 1h1m-10 1h1m-2 1h1m-2 1h1m11 0h1m1 1h1m-16 1h1m10 1h2m5 2h4m-14 1h1m9 0h1m6 3h1m-8 2h1m5 1h1m-2 1h1"/><path stroke="#fcf400" d="M137 10h2m2 0h2m-14 1h2m-5 2h1m-2 1h1m-4 3h1m26 0h1m-33 3h1m-7 4h1m-2 1h1m37 1h1m-2 3h1m-2 4h1m-42 1h1m39 1h1m-41 2h1m-10 1h1m8 0h1m5 0h1m-13 2h1m11 2h1m27 0h1m-28 1h1m25 0h1m-26 1h1m23 0h1m-24 1h1m19 0h1m-4 1h1m-14 1h1m9 0h1m-5 1h2m-88 8h1m74 0h1m-77 1h1m74 1h1m8 0h1m-72 5h1m-4 2h1m3 0h1m-2 1h1m4 0h1m1 1h1m-25 1h1m0 1h1m4 0h1m18 0h1m-1 2h1m-7 3h1"/><path stroke="#ffec00" d="M136 10h1m6 0h1m-16 1h1m15 0h1m-18 1h1m17 0h1m-22 3h1m-2 1h1m-4 2h1m-3 1h1m-5 3h1m-3 1h1m36 1h1m-3 6h1m-50 1h1m11 0h1m-7 1h1m41 2h1m-51 1h1m7 5h1m36 0h1m-2 1h1m-3 3h1m-4 1h1m-21 1h1m16 0h1m-4 1h1m-7 1h1m2 0h1m-87 6h1m82 2h1m-79 1h1m-10 1h1m83 0h1m-86 1h1m10 1h1m0 1h1m-15 1h1m15 0h1m1 2h1m-20 1h1m10 0h1m2 0h1m5 0h1m-21 1h1m9 0h1m6 0h1m6 0h1m1 2h1"/><path stroke="#ffe400" d="M138 9h5m-13 1h6m8 0h1m-18 1h1m-2 1h1m-2 1h1m20 0h1m0 1h1m0 1h1m-28 2h1m-3 1h1m-3 1h1m-2 1h1m-2 1h1m-7 6h1m38 0h1m-40 1h1m-10 2h1m46 1h1m-1 1h1m-37 1h1m34 2h1m-2 1h1m-2 1h1m-2 1h1m-39 1h1m36 0h1m-33 1h1m29 2h1m-2 1h1m-4 2h1m-15 3h1m4 0h1m-86 5h2m0 1h1m66 1h2m10 0h1m-5 2h1m-9 1h1m1 0h1m8 0h1m-89 2h1m-3 4h1m11 1h1m8 0h1m-22 2h1m17 0h1m7 5h1m-8 1h1m1 2h2"/><path stroke="#ffdc00" d="M137 9h1m5 0h1m-16 1h2m15 1h1m-22 3h1m25 5h1m-1 1h1m-1 1h1m-38 1h1m-3 1h1m-2 1h1m38 1h1m-41 1h1m-1 3h1m-11 1h1m-3 2h1m49 1h1m-37 4h1m-2 2h1m-13 1h1m11 1h1m30 0h1m-3 3h1m-3 1h2m-6 1h1m-17 1h1m12 0h1m-3 1h1m-4 1h1m-85 4h1m80 1h1m-85 1h1m81 0h1m-84 1h1m7 0h1m64 0h1m8 0h1m-84 1h1m73 0h1m3 0h1m8 0h1m-89 1h1m10 1h1m-14 2h1m14 0h1m-17 2h1m18 0h1m0 1h1m-8 1h1m8 0h1m-7 1h1m8 0h1m0 1h1m-26 2h1m21 6h1"/><path stroke="#ffd400" d="M139 8h5m-15 1h3m4 0h1m7 0h1m-18 1h1m-2 1h1m-2 1h1m-3 3h1m-2 1h1m26 0h1m-32 2h1m31 0h1m-35 1h1m-2 1h1m-2 1h1m35 1h1m-42 3h1m38 3h1m-1 1h1m-48 1h1m1 1h1m1 2h1m41 1h1m-2 2h1m-2 1h1m-2 1h1m-2 1h1m-39 1h1m36 0h1m-32 3h1m28 0h1m-29 1h1m0 1h1m10 4h1m1 0h1m-88 5h1m83 0h1m-11 1h1m5 3h1m-86 1h1m-2 1h1m16 2h1m4 3h1m2 1h1m-27 2h1m8 0h1m8 0h1m-11 1h1m-6 1h3m13 4h1m5 0h1"/><path stroke="#ffcc00" d="M138 8h1m5 0h1m-17 1h1m3 0h4m9 0h1m-20 1h1m18 0h1m0 2h1m-23 1h1m-5 4h1m-4 1h1m-6 4h1m37 1h1m-2 3h1m-41 4h1m38 0h1m-1 1h1m-39 1h1m-15 2h1m-1 5h1m13 3h1m30 0h1m-2 2h1m-2 1h1m-26 1h1m19 0h1m-4 1h1m-11 1h1m5 1h1m-84 4h1m0 2h1m68 1h1m-81 2h1m79 0h1m6 1h1m-75 1h1m-16 2h1m23 3h3m-16 1h1m-2 1h1m-9 3h1m3 0h1m19 3h1m-7 2h1m3 0h1"/><path stroke="#ffc400" d="M139 7h6m-17 1h4m5 0h1m7 0h1m-19 1h1m-3 2h1m21 2h1m-25 1h1m-3 2h1m-3 1h1m-5 2h1m-2 1h1m-2 1h1m-4 2h1m-2 1h1m40 0h1m-2 3h1m-2 5h1m-38 2h1m-1 2h1m34 1h1m-37 1h1m34 0h1m-40 1h1m2 1h1m-1 1h1m32 0h1m-8 5h4m-23 1h1m12 1h1m-7 1h1m1 1h1m-84 2h2m-4 1h1m80 1h1m-85 1h1m72 0h1m-75 1h1m-2 1h1m82 0h1m-73 1h1m76 0h1m-91 1h1m78 0h1m7 0h1m1 0h1m-91 2h1m16 0h1m2 2h1m0 1h1m-23 1h1m27 0h1m-29 1h1m15 0h1m11 0h1m-29 1h1m17 0h1m9 0h1m-1 1h1m-28 1h1m17 0h1m8 0h1m-1 1h1"/><path stroke="#ffbc00" d="M138 7h1m6 0h1m-19 1h1m4 0h1m2 0h2m-11 1h1m-2 1h1m20 1h1m-23 1h1m23 2h1m-27 1h1m27 2h1m-35 1h1m-6 4h1m38 3h1m-53 5h1m49 3h1m-1 1h1m-38 1h1m35 0h1m-1 1h1m-53 1h1m10 1h1m37 1h1m-48 1h1m8 0h1m36 0h1m-42 1h2m37 2h1m-2 2h1m-2 1h1m-8 1h1m-5 2h1m-5 1h1m1 0h1m-89 4h1m85 1h1m-91 2h1m80 0h1m-83 1h1m84 0h1m-6 1h1m5 0h1m-88 1h1m18 2h1m-21 1h1m-1 1h1m22 0h1m3 0h2m-29 4h1m1 2h1m5 0h1m10 0h1m-1 1h1m8 0h1m-9 4h1m1 1h2"/><path stroke="#ffb400" d="M139 6h6m-18 1h5m5 0h1m-12 1h1m6 0h2m11 0h1m-22 1h1m20 0h1m-1 1h1m-23 1h1m24 4h1m-32 2h1m-4 1h1m-2 1h1m-2 1h1m-2 1h1m-3 1h1m-2 1h1m-2 2h1m-1 1h1m-1 1h1m40 1h1m-1 1h1m-1 1h1m-53 1h1m11 0h1m-14 2h1m51 2h1m-54 1h1m10 1h1m-12 1h1m13 1h1m-3 1h2m-8 1h1m2 0h1m4 1h1m32 0h1m-33 1h1m0 1h1m29 0h1m-30 1h1m2 2h1m17 0h1m-14 1h1m9 0h1m-90 4h1m2 0h1m-6 1h1m83 0h1m-79 1h1m66 0h1m11 0h1m-89 1h1m-2 1h1m82 0h1m5 0h1m-79 1h1m63 1h1m4 0h1m-84 1h1m15 1h1m-18 2h1m23 2h3m2 0h1m-1 1h1m-17 1h1m1 0h1m13 0h1m-30 3h1m0 1h1m17 2h1m-1 1h1m6 2h1m-6 1h1m2 0h1"/><path stroke="#ffac00" d="M128 6h3m6 0h2m6 0h1m-29 1h2m7 0h1m5 0h2m1 0h2m9 0h1m-22 1h1m-2 1h1m-1 1h1m22 2h1m-25 1h1m-4 3h1m29 0h1m-35 1h2m33 3h1m-41 1h1m39 0h1m-44 3h1m41 2h1m-43 2h1m-7 2h1m46 1h1m-1 1h1m-1 1h1m-44 3h1m40 1h1m-2 1h1m-40 1h2m36 0h1m-2 1h1m-40 1h1m2 0h1m34 0h1m-31 5h1m26 0h1m-19 3h1m0 1h1m3 0h1m-4 1h2m-2 1h1m-3 1h1m1 0h1m-88 1h1m73 0h1m2 1h1m4 0h1m-5 1h1m-83 1h1m82 0h2m6 0h1m-8 1h1m-71 1h1m63 0h1m2 0h1m8 0h1m-3 1h1m-91 1h1m18 0h1m2 2h1m71 1h1m-1 1h1m-81 1h1m-16 1h1m-1 1h1m-1 1h1m10 0h1m-11 1h1m82 0h1m-88 1h2m-3 1h3m30 0h1m-34 1h2m22 1h1m7 0h1"/><path stroke="#ffa400" d="M129 5h2m7 0h6m-28 1h4m6 0h2m3 0h3m1 0h2m-21 1h1m2 0h1m4 0h2m8 0h1m-19 1h3m5 0h1m-2 4h1m-2 2h1m-8 3h1m-2 1h1m-2 1h1m37 0h1m-40 1h1m-3 1h1m-2 1h1m41 0h1m-44 1h1m42 0h1m-2 4h1m-52 2h2m4 3h1m4 1h1m38 1h1m-44 1h1m41 1h1m-39 1h1m-11 4h1m5 0h2m34 2h1m-2 2h1m-8 2h5m-8 1h1m-3 1h1m-4 2h1m-4 1h1m-79 1h1m-11 2h1m-2 1h1m74 0h1m-78 2h1m83 0h1m1 1h1m-88 1h1m88 0h1m1 0h1m-71 2h1m1 1h1m3 0h3m63 1h1m-95 1h1m93 0h1m1 0h1m-97 1h1m12 1h1m4 0h1m11 0h1m-19 1h1m71 1h2m-88 1h3m9 0h1m74 0h1m-90 1h1m2 0h7m-11 1h1m3 0h1m-5 1h1m2 0h2m-4 1h2m23 2h1m4 0h1"/><path stroke="#ff9c00" d="M117 5h2m7 0h3m2 0h7m6 0h1m-25 1h1m3 0h2m8 0h1m11 0h1m-32 1h1m4 0h4m-5 1h1m3 0h1m-1 1h1m-1 1h1m-1 1h1m23 0h1m0 2h1m-28 2h1m-3 1h1m-6 1h1m-2 1h1m37 0h1m-40 1h1m-2 1h1m-3 1h1m-2 1h1m42 2h1m-1 1h1m-2 3h1m-43 1h1m41 0h1m-45 5h1m-12 1h1m53 0h1m-43 3h1m1 0h1m-2 4h1m34 0h1m-35 1h1m4 4h1m24 0h1m-21 1h1m-77 3h1m79 0h1m-84 1h1m84 0h1m-88 1h1m-3 1h1m76 0h1m6 0h1m-88 2h1m12 0h1m70 0h1m-86 1h1m-2 2h1m83 0h1m3 1h1m-90 3h1m24 0h3m66 0h2m-96 1h1m30 0h1m61 0h1m2 0h1m-66 1h1m61 0h1m0 1h2m-97 2h1m19 0h1m10 0h1m-32 1h1m-3 1h1m-3 1h1m10 0h2m-8 1h2m-2 1h1m-6 1h1m2 0h2m20 1h1m1 2h3"/><path stroke="#ff9400" d="M126 4h17m-27 1h1m2 0h3m2 0h2m19 0h1m-31 1h1m5 0h3m-9 2h1m4 0h3m24 0h1m-32 1h2m4 0h1m24 0h1m-1 1h1m1 4h1m-35 2h4m-6 1h1m-2 1h1m-2 1h1m-2 1h1m-4 3h1m-1 1h1m-1 1h1m43 1h1m-54 3h1m-2 1h1m10 0h1m41 0h1m-47 1h1m45 0h1m-55 1h1m12 0h1m40 0h1m-45 1h1m41 4h1m-41 1h1m38 0h1m-53 1h1m50 0h1m-51 1h1m48 0h1m-47 1h1m44 0h1m-38 1h1m2 2h1m31 0h1m-32 1h1m20 3h1m-5 2h1m-87 1h1m1 0h1m0 1h1m79 1h1m-16 1h1m-77 1h1m74 0h1m6 1h1m-8 1h1m-79 1h1m15 0h1m76 0h1m-9 1h2m-69 1h1m73 0h1m-73 1h1m69 0h3m-94 1h1m22 0h1m69 0h1m-1 1h1m-63 3h1m64 0h1m-98 1h1m85 1h1m-88 1h1m31 0h1m55 0h1m-91 1h1m89 0h1m-79 1h1m75 0h2m-84 1h2m-10 1h1m6 0h1m27 0h1m-30 1h1m-5 1h3m29 0h1m-9 1h1m6 0h1m-7 1h1m3 0h1"/><path stroke="#ff8c00" d="M127 3h13m-23 1h4m2 0h3m17 0h2m-23 1h2m-10 2h1m32 0h1m-34 1h1m0 1h1m2 0h1m2 0h1m0 1h1m-1 3h1m27 2h1m-38 1h2m-3 1h1m38 0h1m-41 1h1m-2 1h1m-2 1h1m-2 1h1m-2 1h1m-1 4h1m43 1h1m-51 2h1m48 4h1m-1 1h1m-2 2h1m-38 10h1m28 0h1m-29 1h1m26 0h1m-11 2h1m-4 2h1m-89 1h1m-3 1h1m-3 1h1m89 0h1m-93 1h1m12 0h1m-15 1h1m-3 4h1m81 0h2m4 0h1m-89 1h1m89 0h1m1 1h1m1 0h1m-64 1h1m60 0h1m-1 1h1m-94 1h1m92 0h1m-94 1h1m93 0h1m-96 2h1m85 0h1m-88 1h1m85 0h1m-54 1h1m52 0h1m-75 1h1m-16 1h1m7 1h1m-9 1h1m6 0h1m-7 1h1m3 0h2m19 2h1m5 0h1"/><path stroke="#ff8200" d="M123 3h4m13 0h2m-21 1h2m-8 1h1m30 0h1m-33 1h1m32 0h1m-34 3h1m4 0h2m1 2h1m-1 1h1m25 0h1m-28 2h1m-9 1h3m4 0h1m-9 1h1m-2 1h1m-2 1h1m-2 1h1m-2 1h1m-2 1h1m43 7h1m-1 1h1m-1 1h1m-56 1h1m11 0h1m42 0h1m-57 3h1m14 0h1m-1 2h1m-4 1h1m-10 4h1m7 1h1m1 1h1m34 0h1m-2 2h1m-25 3h1m14 0h1m-13 1h1m0 1h1m-82 1h1m80 1h1m3 0h1m-91 1h1m84 0h1m-88 1h1m80 1h1m2 0h1m6 0h1m-95 2h1m-2 2h1m17 0h1m75 0h1m-11 1h1m9 0h1m-6 1h1m4 0h1m-71 1h1m66 0h1m3 0h1m-5 1h1m4 0h1m-98 1h1m97 1h1m-1 1h1m-100 1h1m15 0h1m2 0h1m13 0h1m62 0h3m-11 1h1m-91 1h1m90 0h1m-93 1h1m15 0h1m-18 1h1m35 0h1m55 0h1m-83 1h1m-2 1h1m-2 1h1m16 0h1m9 0h1m-29 1h1m17 0h1m-24 1h5m18 0h1m-1 1h1"/><path stroke="#ff7600" d="M119 3h4m19 0h2m1 1h1m-33 4h1m-1 1h1m0 1h3m4 0h1m26 1h1m0 2h1m-38 1h3m-4 1h2m3 0h1m-6 1h1m39 0h1m-42 1h1m-2 1h1m-2 1h1m-2 1h1m-2 2h1m45 0h1m-47 1h1m45 0h1m-47 1h1m45 0h1m-1 1h1m-46 2h1m-9 1h1m-3 1h1m53 3h1m-1 1h1m-2 2h1m-42 2h1m39 0h1m-2 1h1m-2 1h1m-2 1h1m-2 1h1m-41 1h1m38 0h1m-36 2h1m24 4h1m2 0h2m-8 1h1m-3 1h1m-85 1h1m-8 1h1m-4 1h1m76 0h1m-67 1h1m67 0h1m-83 1h1m-2 1h1m93 0h1m-96 2h1m79 1h1m-61 1h1m64 0h3m-66 1h1m2 1h5m60 0h1m-92 1h1m91 1h1m5 0h1m-66 1h1m58 0h1m0 1h1m0 1h1m-97 1h1m33 0h1m51 0h1m3 0h1m-76 1h1m6 0h1m67 1h1m-78 1h1m-6 1h1m-13 1h1m25 0h1m-26 2h1m7 0h1m-8 1h1m5 0h1m26 0h1m-33 1h5m17 0h1m8 0h1"/><path stroke="#ff6a00" d="M144 3h1m1 1h1m0 1h1m-35 1h1m-1 1h1m-1 3h1m3 0h1m30 0h1m-36 1h3m-3 1h2m-3 1h3m-4 1h1m3 0h1m34 0h1m-41 1h1m6 0h3m-10 1h1m-2 1h1m-2 1h1m43 1h1m-1 1h1m-47 1h1m45 0h1m-47 4h1m45 1h1m-1 1h1m-55 1h1m1 0h1m51 0h1m-1 1h1m-50 1h1m48 0h1m-47 2h1m1 0h1m0 1h1m41 1h1m-42 1h1m-4 1h1m42 0h1m-57 1h1m13 0h1m-5 5h1m2 1h1m35 1h1m-34 1h1m30 2h1m-27 1h3m17 0h2m2 0h1m-97 2h1m-4 1h1m81 0h1m-86 1h1m8 1h1m64 0h1m-79 1h1m-4 3h1m16 0h1m63 3h1m6 1h1m-90 1h1m30 0h1m59 1h1m-59 1h1m-35 2h1m33 0h1m58 0h1m-76 1h1m67 0h3m5 0h1m4 0h1m-85 1h1m-19 1h1m-2 1h1m88 1h1m3 0h1m-95 1h1m12 0h1m12 0h1m10 0h1m-27 1h1m-12 1h1m9 0h1m-11 1h1m0 1h1m7 0h1m15 0h1m-24 1h1m5 0h2m14 0h1"/><path stroke="#ff5c00" d="M145 3h1m-34 4h1m35 0h1m-37 1h1m35 0h1m-37 1h1m35 0h1m-37 1h1m5 0h3m-9 1h1m8 0h1m-11 1h2m2 0h1m-5 1h1m3 0h1m5 0h1m-12 1h1m-2 1h1m41 0h1m-43 1h1m-2 1h1m43 1h1m-46 1h1m-2 1h1m-2 2h1m-1 1h1m1 5h1m-12 2h1m55 1h1m-1 1h1m-58 1h1m-2 3h1m-1 2h1m2 3h1m46 2h1m-34 3h1m30 0h1m-31 1h1m1 1h1m25 0h1m-9 1h1m-91 1h1m1 0h1m83 1h1m-93 1h1m-3 1h1m78 0h1m12 0h1m-95 1h1m76 0h1m-79 1h1m84 0h2m-10 1h1m16 1h1m-17 1h1m-81 2h1m-1 1h1m23 0h1m71 0h1m-7 1h1m0 2h1m-93 1h1m91 0h1m-1 1h1m7 0h1m-102 1h1m17 0h1m71 0h1m3 0h1m-96 1h1m21 0h1m69 0h1m4 0h4m-66 1h1m56 0h1m-70 1h1m68 0h1m-96 1h1m17 0h1m7 0h1m65 1h1m-83 3h1m14 0h1m10 0h1m-37 1h1m9 0h1m13 0h1m-24 1h1m8 0h1m12 0h1"/><path stroke="#ff4c00" d="M112 6h1m35 0h1m-38 3h1m-1 1h1m-1 1h1m4 0h1m-7 1h1m10 0h1m27 0h1m-40 1h1m-2 1h1m6 0h1m3 0h1m-13 2h1m43 1h1m-46 1h1m-2 1h1m-2 2h1m-1 3h1m0 2h1m-10 2h1m-2 1h1m5 0h1m4 0h1m45 0h1m-1 1h1m-49 1h1m1 0h1m-1 1h1m-1 1h1m44 0h1m-46 1h1m-1 1h1m43 0h1m-2 2h1m-2 1h1m-2 1h1m-54 1h1m51 0h1m-2 1h1m-44 1h1m41 0h1m-38 2h1m34 1h1m-31 3h1m16 2h1m-92 1h1m-5 1h1m10 0h1m80 0h1m-95 1h1m-3 1h1m87 0h1m-12 1h1m-79 1h1m-2 2h1m95 0h1m-97 1h1m19 0h1m1 1h1m2 1h1m58 0h1m3 0h1m0 1h1m7 0h1m-65 1h1m56 0h1m7 0h1m-100 1h1m90 0h1m-1 1h1m8 0h1m-10 1h1m-58 1h1m50 0h1m4 0h3m7 0h1m-10 1h1m2 0h1m4 0h1m-16 1h1m-52 1h1m50 0h1m-76 2h4m73 0h1m1 0h1m-95 1h1m12 0h1m24 0h1m-39 1h1m11 0h1m13 0h1m-3 2h1m-24 1h1m10 0h1m8 0h3m12 0h1"/><path stroke="#ff3d00" d="M146 3h1m0 1h1m-37 3h1m-1 1h1m-2 1h1m-1 1h1m-1 1h1m6 0h1m-9 1h1m6 0h1m-8 1h1m6 0h1m-9 1h1m8 0h1m-10 1h1m-2 1h1m44 0h1m-46 1h1m-2 1h1m-2 2h1m-1 5h1m47 0h1m-1 1h1m-56 1h2m53 0h1m-53 1h1m51 0h1m-47 2h1m45 1h1m-1 1h1m-46 1h1m43 1h1m-2 2h1m-58 3h1m11 4h1m37 1h1m-25 5h1m12 0h1m-93 1h1m-4 1h1m-5 1h1m-3 1h1m77 0h1m15 1h1m-97 1h1m16 1h1m-19 1h1m18 1h1m76 1h1m-1 1h1m-71 1h3m54 0h1m1 0h3m-56 1h1m-34 1h1m-2 3h1m87 0h4m-93 1h1m-2 1h1m86 0h1m7 0h2m-98 1h1m94 0h1m4 0h2m-103 1h1m18 0h1m75 1h1m-97 1h1m-1 3h1m11 0h1m12 0h1m-26 1h1m11 0h1m7 0h4m13 0h1m-38 1h1m18 0h2"/><path stroke="#ff2e00" d="M148 5h1m-39 2h1m-1 1h1m-2 1h1m-1 1h1m-1 1h1m10 0h1m28 0h1m-42 1h1m-1 1h1m41 0h1m-33 1h2m31 0h1m-45 1h1m-2 2h1m-2 2h1m-2 1h1m-1 1h1m-1 1h1m-1 1h1m-1 1h1m48 0h1m-57 3h1m2 0h1m5 0h1m-11 1h1m57 2h1m-49 1h1m-12 1h1m57 1h1m-45 1h1m-16 1h1m13 1h2m-14 5h1m5 1h1m42 1h1m-37 2h1m32 2h1m-2 1h1m-97 2h1m-9 1h1m8 0h1m82 0h1m-97 1h1m78 0h1m-82 1h1m-2 1h1m84 0h1m-87 2h1m78 1h1m-57 3h1m5 1h1m-31 1h1m88 0h1m0 1h1m-1 1h1m9 0h1m-102 1h1m90 0h1m-5 1h1m-53 2h1m65 0h1m-9 1h4m2 0h2m-9 1h1m-98 1h1m38 0h1m-21 1h1m75 0h1m-83 2h1m24 0h1m-40 1h1m20 0h3m1 0h1m-12 1h1m5 0h1m-7 1h1m4 0h1m18 0h1"/><path stroke="#ff1f00" d="M147 3h1m-39 5h1m-2 1h1m40 0h1m-42 1h1m40 0h1m-42 1h1m9 0h2m-13 1h1m9 0h1m2 0h1m-14 1h1m9 0h1m2 0h1m-14 1h1m44 1h1m-47 1h1m-2 2h1m-2 1h1m48 3h1m-1 1h1m-57 3h3m-4 1h1m57 1h1m-1 1h1m-60 2h1m58 0h1m-1 1h1m-3 3h1m-3 3h1m-2 1h1m-2 1h1m-3 2h1m-42 1h1m1 1h1m2 2h1m32 0h1m-33 1h1m0 1h1m21 1h6m-100 1h1m80 0h1m9 0h1m-97 1h2m-5 1h1m88 0h1m-92 1h1m83 0h1m5 0h1m-92 2h1m96 0h1m-99 5h1m-1 1h1m30 0h1m66 0h1m-11 1h1m0 1h1m-55 1h1m-1 1h1m53 0h1m-55 1h1m49 0h1m15 0h1m-18 1h1m16 0h1m-1 1h1m-107 1h1m38 0h1m65 0h1m-9 1h1m-79 1h1m69 0h1m6 0h1m-7 1h1m-93 1h1m14 0h1m2 0h3m6 0h1m-28 1h1m19 0h2m-8 1h1m5 0h1m3 0h1m-25 1h1m18 0h1m-20 1h1m14 0h4"/><path stroke="#ff1200" d="M148 4h1m0 2h1m-1 1h1m-1 1h1m-43 1h1m-1 1h1m-1 1h1m-2 1h1m-1 1h1m-1 1h1m-1 1h1m-2 2h1m-2 1h1m-2 2h1m49 0h1m-51 1h1m49 0h1m-51 1h1m-1 1h1m-1 1h1m-7 1h3m4 0h1m-9 1h1m3 0h1m4 0h1m48 0h1m-54 1h1m52 0h1m-60 2h1m-1 1h1m59 0h1m-2 3h1m-47 1h1m44 0h1m-45 1h1m42 1h1m-2 1h1m-5 4h1m-47 1h1m42 3h1m-102 4h1m69 0h2m-82 2h2m-4 1h1m79 0h1m1 0h1m14 0h1m-2 1h1m-99 1h1m78 0h1m-62 1h1m-20 2h1m-1 1h1m-1 1h1m21 0h1m2 1h2m55 0h1m3 2h2m11 0h1m-101 2h1m89 0h1m-3 1h2m12 0h1m-104 1h1m-2 1h1m37 0h1m-40 1h1m19 0h1m2 0h1m-5 1h1m85 0h1m-108 1h1m98 0h7m-107 2h1m20 0h1m18 0h1m56 0h1m-82 1h2m3 0h1m72 0h2m-77 1h1m2 0h1m3 0h1m-28 1h1m19 0h1m19 0h1m-41 1h1m15 0h1m2 0h1m-20 1h1"/><path stroke="#ff0600" d="M148 3h1m-43 7h1m-1 1h1m-2 1h1m12 0h2m30 0h1m-46 1h1m12 0h2m31 0h1m-47 1h1m-1 1h1m-1 1h1m-2 1h1m48 0h1m-51 1h1m49 0h1m-51 1h1m49 0h1m-52 1h1m-1 1h1m-1 1h1m-7 1h2m4 0h1m-7 1h4m-4 1h1m3 0h1m2 0h1m50 0h1m-54 1h1m-7 1h1m-1 1h1m6 0h1m3 0h1m48 0h1m-1 1h1m-52 1h1m1 0h1m48 1h1m-1 1h1m-62 2h1m13 1h1m44 0h1m-9 9h1m-38 1h1m-65 4h1m95 0h1m-102 1h1m92 0h1m-101 1h1m88 0h1m-92 1h1m-2 1h1m79 0h1m-63 1h1m-20 1h1m78 0h1m-80 1h1m78 0h1m18 0h1m-72 4h2m3 1h1m50 0h1m-50 1h1m50 0h1m-51 1h1m52 0h1m11 0h1m-13 1h1m-3 1h1m-3 1h1m17 1h1m-20 1h1m18 0h1m-83 1h1m62 0h1m18 0h1m-69 1h1m65 0h2m-109 1h1m98 0h2m-3 1h1m-100 1h1m93 0h1m-95 1h1m15 0h1m2 0h1m4 0h1m1 0h1m-11 1h1m2 0h1m-21 1h1m17 0h2m21 0h1m-42 1h1"/><path stroke="#fc0000" d="M149 5h1m-45 5h1m-2 1h2m-2 1h1m-1 1h1m-1 1h1m47 0h1m-49 1h1m-1 1h1m48 0h1m-51 1h1m-2 1h1m-2 1h2m-7 1h3m1 0h2m-7 1h7m-7 1h7m-7 1h1m2 0h4m-7 1h1m4 0h3m-8 1h1m5 0h2m-8 1h1m6 0h1m1 0h1m50 1h1m-53 2h1m2 0h1m47 5h1m-62 3h1m-1 1h1m57 0h1m-58 2h1m5 2h1m3 1h1m41 0h1m-41 1h1m36 3h1m-2 1h1m-101 1h1m69 0h1m2 0h1m3 0h1m-86 1h5m7 0h1m66 0h1m-83 1h1m80 0h2m16 0h1m-102 1h1m17 0h1m-1 1h1m-20 1h1m87 0h1m1 0h1m-71 3h1m77 0h1m-18 2h1m-53 1h1m68 0h1m-15 2h1m-86 1h1m86 0h2m-1 1h1m-90 1h1m86 0h1m16 1h1m-20 1h1m-89 1h1m39 0h1m67 0h1m-110 1h1m88 1h1m18 0h1m-9 1h8m-110 1h1m27 0h1m78 0h3m-87 1h1m17 0h1m55 0h1m10 0h3m-112 1h1m17 0h2m6 0h1m83 0h2m-112 1h1m17 0h2m90 0h2m-122 1h1m8 0h1m111 0h1m-114 1h2m41 0h1"/><path stroke="#f70000" d="M149 4h1m0 7h1m-48 1h1m-1 1h1m-1 1h1m-1 1h1m49 0h1m-52 1h2m-3 1h2m-4 1h3m-6 1h5m-6 1h1m3 0h1m-6 1h1m-1 1h1m-1 1h1m-1 1h1m59 0h1m-61 1h1m-1 1h1m8 0h1m-10 1h1m7 0h1m2 0h1m50 2h1m-52 1h1m50 0h1m-1 1h1m-1 1h1m-2 1h1m-63 3h1m59 0h1m-2 1h1m-60 2h1m56 0h1m-2 1h1m-55 1h1m52 0h1m-50 1h1m47 0h1m-4 4h1m-34 2h1m-71 1h1m3 0h1m95 0h1m-110 1h2m78 0h1m20 0h1m-104 1h1m79 1h1m-83 1h1m78 1h1m-5 1h2m1 0h1m-80 2h1m21 1h1m32 0h1m25 0h1m17 0h1m-76 1h1m74 0h1m-69 1h1m2 1h1m-35 1h1m85 1h1m-1 1h2m14 0h1m-18 1h1m-88 1h1m50 0h1m-53 1h1m106 0h1m-87 1h2m16 1h1m67 0h1m-111 1h1m21 0h1m87 0h1m-112 1h1m41 0h1m67 0h1m8 0h1m-20 1h7m3 0h1m8 0h1m-121 1h1m98 0h1m8 0h1m3 0h1m-114 1h1m109 0h1m2 0h1m-124 1h3m7 0h1m109 0h1m2 0h1m-125 1h2m1 0h2m5 0h1m111 0h1m-123 1h5m3 0h2"/><path stroke="#ef0004" d="M149 3h1m0 5h1m-1 1h1m-1 1h1m0 2h1m-50 1h1m49 0h1m-53 1h3m-3 1h3m-4 1h3m-4 1h3m-5 1h3m-5 1h2m-2 1h1m-2 1h1m-1 1h1m60 1h1m0 3h1m-53 1h2m-11 1h1m8 0h3m50 0h1m-63 1h1m9 0h2m-12 4h1m60 1h1m-2 1h1m-57 7h1m8 3h1m37 0h1m-37 1h1m0 1h1m-80 3h1m82 0h1m23 0h1m-110 1h1m17 0h1m63 0h1m-84 1h1m85 0h1m-88 2h1m75 0h2m12 0h1m9 0h1m-101 1h1m77 0h1m-79 1h1m78 0h1m-25 1h1m24 0h1m-81 1h1m53 0h1m-55 1h1m24 0h1m-26 1h1m-1 1h1m99 0h1m-16 2h1m-1 1h1m-49 1h1m65 0h1m-67 1h1m12 0h1m33 0h1m-36 1h1m55 2h1m-85 1h1m-6 1h1m4 0h1m82 0h1m6 0h1m-120 1h1m23 0h1m68 0h1m18 0h1m6 0h1m1 0h1m-123 1h1m25 0h1m2 0h1m65 0h1m5 0h1m5 0h2m-119 1h3m6 0h1m43 0h1m65 0h1m-121 1h1m3 0h1m4 0h2m109 0h1m-116 1h5m111 0h1m2 0h1m-126 1h1m5 0h3"/><path stroke="#e5000c" d="M150 6h1m-1 1h1m2 7h1m-61 6h1m-1 3h1m-1 1h1m-1 1h1m61 0h1m-63 1h1m62 1h1m-63 3h1m62 0h1m-64 1h1m62 0h1m-64 1h1m61 1h1m-3 3h1m-2 1h1m-2 1h1m-56 4h1m7 2h1m40 0h1m-114 5h4m3 0h1m70 0h1m4 0h1m-87 1h1m103 0h4m1 0h1m-112 1h1m85 0h1m16 0h1m-3 1h1m-103 1h1m80 0h1m6 0h1m-14 1h1m2 0h2m-5 1h1m0 1h3m-25 1h1m-29 2h3m25 0h2m-24 1h1m3 2h1m47 0h1m-86 2h1m37 0h1m11 1h2m33 0h1m19 1h1m-109 1h1m40 0h1m12 0h1m32 0h1m-89 1h1m87 0h1m21 0h1m-112 1h1m88 0h1m-91 1h1m42 0h1m68 0h1m-114 1h1m91 0h1m20 0h1m4 0h1m2 0h1m-79 1h1m69 0h1m4 0h1m-18 1h5m7 0h1m5 0h2m-133 1h1m3 0h1m4 0h1m98 0h2m9 0h1m5 0h1m-127 1h1m5 0h4m45 0h1m70 0h1m-127 1h1m123 1h1"/><path stroke="#da0016" d="M150 4h1m-1 1h1m0 6h1m2 5h1m-1 1h1m-1 1h1m-62 1h1m-2 2h1m-1 1h1m61 0h1m-62 5h1m-1 1h1m63 1h1m-1 3h1m-2 2h1m-64 1h1m61 0h1m-5 4h1m-2 1h1m-55 2h1m6 1h1m43 0h1m-3 3h1m-2 1h1m-102 1h2m98 0h1m-113 1h2m4 0h3m6 0h1m70 0h2m-90 1h1m17 0h1m63 0h1m8 0h1m19 0h1m-114 2h1m75 1h1m24 0h1m-103 2h1m-1 1h1m21 0h1m53 0h1m-20 1h1m-1 1h1m-28 1h1m53 2h1m17 1h1m-18 1h1m17 0h1m-19 1h1m-87 1h1m52 0h1m-55 1h1m50 0h1m2 0h1m-4 1h1m2 0h1m53 0h1m-69 1h1m-21 1h1m88 0h1m-1 1h1m4 0h2m-7 1h1m2 0h1m-119 1h1m114 0h1m2 0h1m-130 1h4m6 0h1m27 0h2m86 0h1m3 0h1m-132 1h1m5 0h4m98 0h1m2 0h2m5 0h2m7 0h1m-129 1h1m120 0h1m-122 1h1m55 0h1m65 0h1m4 0h1m-128 1h1m55 0h1m67 0h1m1 0h1"/><path stroke="#ce0022" d="M150 3h1m1 9h1m0 1h1m0 2h1m-1 4h1m-63 1h1m61 0h1m-1 1h1m-63 2h1m-1 1h1m62 0h1m-64 1h1m-1 1h1m63 0h1m0 2h1m-65 1h1m63 4h1m-3 3h1m-2 1h1m-63 1h1m0 2h1m0 1h1m54 0h1m-2 1h1m-43 3h1m39 0h1m-39 1h1m-67 2h1m2 0h1m-16 1h1m111 0h1m-115 1h1m-2 1h1m104 0h1m-13 1h1m-95 1h1m75 0h1m1 0h1m14 0h1m-94 1h1m74 1h1m25 0h1m-46 1h1m-57 1h1m-1 1h1m23 0h1m29 0h1m-24 1h1m22 0h1m-21 1h1m1 1h1m-37 2h1m37 0h1m11 1h2m52 0h1m-56 1h1m55 0h1m-22 1h1m21 0h1m-112 2h1m54 0h2m55 0h1m-114 1h1m43 0h1m-46 1h1m90 0h1m23 0h1m2 0h1m2 0h1m-123 1h1m115 0h2m-119 1h1m116 0h2m-130 1h1m4 0h2m1 0h3m117 0h3m3 0h1m-136 1h1m113 0h5m-120 1h1m120 0h1m7 0h1m-130 1h1m-2 1h2m123 0h1"/><path stroke="#c0002f" d="M151 10h1m2 4h1m-64 6h1m-1 1h1m-1 1h1m0 5h1m64 0h1m0 2h1m-1 1h1m-1 1h1m-2 3h1m-2 1h1m-65 2h1m60 1h1m-62 1h1m59 0h1m-6 5h1m-116 4h4m74 0h1m-82 1h1m85 1h1m25 0h1m-32 1h1m-85 1h1m82 0h1m20 0h1m-26 1h1m1 0h1m-7 1h1m-54 1h1m32 1h1m19 0h1m-22 1h1m22 0h1m2 0h1m-81 2h1m31 0h1m24 0h1m-3 1h1m27 0h1m17 0h1m-102 2h1m51 2h1m31 1h1m-89 2h1m110 0h1m-59 1h1m2 0h1m30 0h1m-63 1h1m86 0h1m0 1h2m-74 1h1m77 0h1m-135 1h4m5 0h1m27 0h1m2 0h1m93 0h1m-137 1h1m7 0h1m48 0h1m-59 1h1m129 0h2m1 0h3m-137 1h1m120 0h1m-122 1h1m122 0h1m6 0h1m-132 1h1m124 0h1m4 0h1"/><path stroke="#b0003d" d="M151 8h1m-1 1h1m0 2h1m-62 12h1m-1 1h1m-1 1h1m64 0h1m-65 3h1m65 0h1m-66 2h1m64 2h1m-1 1h1m-66 1h1m-2 2h1m63 0h1m-2 1h1m-5 3h1m-57 2h1m8 2h1m4 3h1m-79 1h1m4 0h1m4 0h1m-14 1h1m18 0h1m-21 1h1m-2 1h1m21 0h1m84 0h1m4 0h2m-92 1h1m66 0h1m-91 1h1m22 0h1m52 0h1m4 0h1m-82 1h1m22 0h1m-24 1h1m-1 1h1m57 0h1m43 0h1m-79 1h1m34 0h1m17 0h1m1 0h2m-22 1h1m-59 2h1m53 0h1m1 0h1m-57 1h1m83 1h1m-34 1h1m-53 1h1m49 0h1m34 0h1m-32 1h1m-57 1h1m55 0h1m29 0h1m-31 1h1m29 0h1m-90 1h1m113 0h1m-116 1h1m56 0h2m31 0h1m25 0h1m-118 1h1m25 0h1m19 0h1m-48 1h1m-12 1h1m4 0h5m95 0h1m-108 1h1m107 0h1m-110 1h1m58 0h1m50 0h1m22 0h1m-135 1h1m113 0h1m5 0h2m10 0h1m-134 1h2m122 0h1m-126 1h2m128 1h2"/><path stroke="#a10049" d="M151 3h1m-1 1h1m-1 1h1m-1 1h1m-1 1h1m1 5h1m0 1h1m0 2h1m-1 1h1m-1 1h1m-66 3h1m-1 1h1m-1 1h1m64 1h1m-65 3h1m65 0h1m-67 1h1m0 2h1m0 2h1m63 4h1m-4 3h1m-2 1h1m-52 4h1m45 0h1m-44 2h1m1 1h1m38 0h1m-115 1h4m109 0h1m-117 1h2m6 0h1m8 0h1m97 0h1m-118 1h1m-2 1h1m93 1h1m16 0h1m2 0h1m-116 1h1m76 0h2m12 1h1m11 1h1m-29 1h1m-21 1h1m-56 1h1m75 0h1m25 0h1m-77 1h1m2 0h3m22 0h1m27 0h1m19 0h1m-49 1h1m28 0h1m18 0h1m-67 1h1m1 1h1m64 0h1m-65 1h1m11 1h1m1 0h1m31 0h1m-46 1h1m13 0h1m51 0h1m-108 1h1m40 0h1m8 0h1m57 0h1m-68 1h1m8 0h1m58 0h1m-113 1h1m43 0h1m8 0h1m-10 1h1m13 0h1m-35 1h1m29 0h1m2 0h1m57 0h4m1 1h1m-136 1h5m5 0h1m27 0h1m65 0h1m-107 1h2m39 0h1m17 0h1m-61 1h1m137 0h1m-141 1h2m137 0h1m-141 1h2m60 0h1m52 0h1m1 0h5m13 0h1m-136 1h1m61 0h1m61 0h1m9 0h1m-73 1h1m63 0h1m6 0h1m-5 1h1"/><path stroke="#930053" d="M152 10h1m2 4h1m-66 9h1m-1 1h1m65 0h1m-67 1h1m0 3h1m1 4h1m65 0h1m-67 1h1m64 1h1m-2 2h1m-2 1h1m-66 1h1m63 0h1m-64 2h1m0 1h1m56 0h1m-2 1h1m-3 3h1m-117 2h1m4 0h1m6 0h2m-17 1h1m9 0h3m69 1h1m32 0h1m-96 1h1m61 0h1m31 0h1m-118 1h1m89 0h1m18 0h3m-113 1h1m76 0h1m2 0h1m26 0h1m-108 1h1m104 0h1m-106 1h1m75 0h1m-19 1h1m1 1h1m15 0h1m-22 1h1m-55 1h1m26 0h2m3 0h1m1 1h1m24 0h1m-6 1h1m3 0h1m-5 1h3m-4 1h2m49 0h1m-65 1h1m13 0h1m50 0h1m-22 2h1m-88 1h1m-3 1h1m87 0h1m25 0h1m-116 1h1m54 0h1m33 0h1m26 0h1m-118 1h1m27 0h1m18 0h1m74 0h1m-124 1h1m91 0h1m-106 1h2m5 0h5m31 0h1m-46 1h2m42 0h1m-47 1h3m-3 1h1m113 1h1m21 0h3m-16 1h1m1 1h1m2 1h1m3 0h1"/><path stroke="#84005e" d="M153 11h1m0 1h1m0 1h1m-1 5h1m-67 4h1m65 0h1m1 3h1m-68 1h1m-1 1h1m0 2h1m0 1h1m66 3h1m-68 2h1m65 0h1m-68 2h1m-1 2h1m62 0h1m-3 1h1m-59 2h1m53 2h1m-116 2h3m-6 1h1m11 0h1m2 0h1m-19 1h1m-2 1h1m-2 1h1m-2 1h1m116 0h1m-34 1h1m-9 1h1m17 0h1m-38 2h1m1 0h1m1 2h1m14 0h1m0 1h3m-26 3h1m3 0h1m-6 1h1m2 0h1m-56 1h1m49 0h1m4 0h1m-7 1h1m5 0h1m51 0h1m-53 1h1m52 0h1m-54 1h1m27 0h1m-29 1h1m55 1h1m-63 1h1m4 0h1m28 0h1m-105 1h7m5 0h1m30 0h1m17 0h1m9 0h4m-78 1h3m60 0h1m77 0h1m-143 1h2m140 0h1m-2 2h1m-3 1h1m-19 1h2m12 0h1m-12 1h1m9 0h1m-8 1h1m5 0h1"/><path stroke="#74006a" d="M152 3h1m-1 1h1m-1 5h1m3 5h1m-1 1h1m-1 1h1m-2 3h1m-1 1h1m-1 1h1m-67 2h1m-1 1h1m-1 1h1m0 3h1m68 6h1m-69 2h1m66 0h1m-2 1h1m-2 1h1m-2 1h1m-60 4h2m-67 3h2m73 0h1m40 0h1m-120 1h2m7 0h1m8 0h1m61 0h1m37 0h1m-121 1h1m20 0h1m97 0h1m-121 1h1m22 0h1m-25 1h1m91 0h1m2 0h1m-18 1h2m5 0h1m-87 1h1m81 0h1m26 0h1m5 0h2m-117 1h1m93 0h1m-95 1h1m75 1h1m-51 1h1m35 0h1m13 0h1m-76 1h1m33 1h1m26 0h1m14 0h1m3 0h1m-80 1h1m34 0h1m17 0h1m-17 1h1m15 0h1m30 1h1m-45 1h1m10 0h1m4 0h1m-58 2h1m84 0h1m-87 1h1m-3 1h1m112 0h1m-28 1h1m27 0h1m-118 1h1m61 0h1m26 0h1m29 0h1m-134 1h5m8 0h1m123 0h1m-142 1h4m7 0h2m2 0h1m58 0h1m4 0h1m62 0h1m-143 1h1m75 0h2m-15 2h1m78 0h1m-31 1h1m0 1h1m26 0h1m-25 1h1m3 0h1m15 0h1m-14 1h1m2 1h1m3 1h2"/><path stroke="#640078" d="M152 5h1m-1 1h1m-1 1h1m-1 1h1m0 2h1m0 1h1m0 1h1m0 1h1m-69 10h1m67 0h1m-68 3h1m-1 1h1m-1 1h1m0 1h1m0 1h1m0 1h1m66 4h1m-70 2h1m67 0h1m-69 1h1m66 0h1m-68 1h1m0 1h1m61 0h1m-62 1h1m58 0h1m-57 2h1m2 0h1m2 0h1m47 0h1m-47 1h1m-72 1h4m68 0h1m43 0h1m-119 1h1m5 0h1m6 0h2m-18 1h1m10 0h1m2 0h1m-17 1h1m83 0h1m-86 1h1m119 0h1m-122 1h1m25 0h1m-27 1h1m25 0h1m51 0h1m-80 1h1m26 0h1m50 0h1m5 0h2m29 0h1m2 0h1m-119 1h1m-1 1h1m76 0h1m-20 1h1m3 0h1m43 0h1m-50 1h1m-30 1h1m4 0h3m41 0h1m-76 1h1m53 0h1m26 0h2m-22 1h1m15 0h1m-77 1h1m58 0h1m43 0h1m-65 1h1m12 0h1m5 0h1m-59 1h1m83 0h1m-29 1h1m27 0h1m21 0h1m-66 2h1m14 0h1m26 0h1m-89 1h1m45 0h1m6 0h1m7 0h1m25 0h1m-89 1h1m46 0h1m6 0h1m7 0h1m24 0h1m-103 1h3m59 0h1m6 0h1m32 0h1m31 0h2m-139 1h3m5 0h2m55 0h1m13 0h1m26 0h1m-95 1h2m30 0h1m62 0h1m-64 1h1m29 0h1m2 0h1m30 0h1m0 1h1m0 1h1m2 3h2m1 0h3m17 0h2m-76 1h1m58 0h1m12 0h1m-11 1h1m8 0h1m-6 1h1m2 0h1"/><path stroke="#570086" d="M156 17h1m-69 7h1m68 0h1m-70 1h1m0 4h1m2 5h1m-3 2h1m68 0h1m-4 3h1m-3 1h1m-62 2h1m56 0h1m-52 1h2m-68 1h3m-5 1h1m4 0h1m-9 1h2m7 0h1m4 0h1m2 0h1m59 0h1m-81 1h2m12 0h2m106 0h1m-124 1h1m23 0h1m-26 1h1m-2 1h1m120 0h1m-122 1h1m77 0h1m3 0h1m37 0h1m-10 1h1m2 0h1m4 0h1m-43 1h1m30 0h1m7 0h2m-58 1h1m15 2h1m-45 1h1m23 0h1m7 0h1m-28 1h1m39 0h1m-1 1h2m1 0h1m-26 1h1m-53 1h1m50 0h1m-2 1h1m6 0h1m47 0h1m-65 1h1m7 0h1m-9 1h1m14 0h1m51 0h1m-112 1h1m50 0h1m60 0h1m-29 1h1m28 0h1m-130 1h1m98 0h1m30 0h1m-130 1h3m71 0h1m23 0h1m34 0h1m-130 1h1m4 0h1m56 0h1m7 0h1m24 0h1m35 0h1m-77 1h1m6 0h1m6 0h1m-35 1h1m18 0h1m8 0h1m4 0h2m62 0h1m-80 1h1m9 0h5m-16 2h1m-1 2h1m75 0h1m-19 1h1m14 0h1m-13 1h1m3 1h1m4 0h1"/><path stroke="#550690" d="M153 3h1m-1 6h1m1 2h1m0 1h1m0 1h1m-1 1h1m-1 1h1m-1 1h1m-2 2h1m-70 6h1m0 2h1m-1 1h1m-1 1h1m-1 1h1m0 1h2m0 1h1m0 1h1m-2 3h1m68 1h1m-72 1h1m69 0h1m-71 1h1m68 0h1m-70 1h1m67 0h1m-68 1h1m64 0h1m-4 1h1m-120 2h3m-4 1h1m3 0h1m112 0h1m-120 1h1m6 0h1m5 0h3m-21 1h3m18 0h1m101 0h1m-126 1h2m22 0h1m59 0h1m-86 1h2m122 0h1m-125 1h1m26 0h1m-29 1h1m79 0h3m5 0h1m-89 1h1m77 1h1m16 0h1m2 0h1m14 0h2m-87 1h1m87 0h1m2 0h1m-60 1h1m1 0h1m14 0h1m30 0h1m9 0h1m-91 1h1m29 0h1m5 0h1m12 0h1m-13 1h1m41 0h1m-71 1h1m39 0h1m-13 1h1m11 0h1m-22 1h1m20 0h1m4 0h1m24 0h1m-66 1h1m35 0h3m6 0h1m-44 1h1m63 0h1m-48 2h1m49 0h1m-60 1h1m34 0h1m-88 1h1m85 0h1m-89 1h1m84 0h2m-99 1h2m9 0h1m84 0h2m-95 1h1m6 0h1m85 0h2m36 0h1m-130 1h1m2 0h1m88 0h2m-25 1h1m24 0h2m35 0h1m-71 1h1m7 0h1m-9 1h1m5 0h2m62 0h1m-71 1h8m-8 1h7m62 0h1m-80 1h1m9 0h5m34 0h1m28 0h1m-69 1h4m36 0h1m-42 1h4m44 0h1m16 0h1m-15 1h1m11 0h1m-10 1h2m6 0h1"/><path stroke="#601498" d="M153 4h1m0 6h1m2 2h1m-2 10h1m-70 3h1m-1 1h1m-1 1h1m-1 1h1m-1 1h1m-1 1h2m1 1h1m1 2h1m-3 2h1m-2 1h1m-2 1h1m71 0h1m-73 1h1m70 0h1m-72 1h1m69 0h1m-70 1h1m66 0h2m-67 1h1m61 0h1m-121 1h4m-5 1h1m3 0h2m56 0h1m-65 1h2m5 0h1m6 0h1m-21 1h6m12 0h1m3 0h1m-24 1h2m13 0h1m2 0h1m-20 1h1m-2 1h1m27 0h1m-29 1h1m87 0h1m35 0h1m-126 1h1m29 0h1m49 0h1m16 0h2m-20 1h1m5 0h1m2 0h1m7 0h1m-19 2h1m32 0h1m9 0h1m-93 1h1m30 0h1m3 0h1m52 0h2m1 0h1m-55 1h1m10 0h1m40 0h2m-84 1h2m20 0h1m8 0h1m9 0h1m40 0h1m-88 1h3m33 0h1m8 0h2m30 0h1m-106 1h1m53 0h1m9 0h1m5 0h5m30 0h1m-105 1h1m36 0h1m24 0h1m7 0h4m9 0h1m-32 1h1m8 0h1m9 0h4m3 0h1m-28 1h1m8 0h1m10 0h7m-36 1h1m7 0h1m8 0h1m11 0h7m-78 1h1m71 0h6m31 0h1m-111 1h1m58 0h1m14 0h5m32 0h1m-115 1h1m61 0h1m16 0h8m28 0h1m-128 1h1m73 0h1m17 0h4m-95 1h1m72 0h1m18 0h2m34 0h1m-127 1h1m70 0h1m18 0h2m-90 1h2m52 0h1m4 0h1m9 0h1m19 0h2m39 0h1m-98 1h1m20 0h1m4 0h1m9 0h1m19 0h4m-40 1h1m4 0h2m9 0h1m25 0h1m-38 1h2m8 0h2m-12 1h2m8 0h2m60 0h1m-73 1h2m7 0h3m-12 1h2m5 0h5m-12 1h2m4 0h6m4 0h2m51 0h1m-71 1h2m4 0h6m32 0h6m2 1h1m13 0h1m-13 1h2m5 1h3"/><path stroke="#7027a0" d="M154 3h1m-2 2h1m-1 3h1m2 3h1m0 6h1m-2 2h1m0 4h1m-72 8h4m-4 1h3m2 0h1m-6 1h2m0 1h1m2 0h1m-3 1h1m-3 3h1m72 0h1m-2 1h1m-72 1h1m69 0h1m-69 1h1m63 0h2m-125 1h2m4 0h2m53 0h1m58 0h1m-122 1h2m6 0h1m4 0h2m105 0h1m-127 1h6m8 0h1m3 0h2m1 0h2m49 0h1m-75 1h2m14 0h1m2 0h1m107 0h1m-129 1h2m16 0h2m6 0h1m56 0h1m-84 1h1m26 0h1m56 0h2m41 0h1m-2 1h1m-128 1h1m29 0h1m53 1h1m39 0h1m-95 1h1m92 0h1m-46 1h1m43 0h1m-7 1h1m-52 1h1m11 0h1m-11 1h1m49 0h1m2 0h1m-86 1h1m32 0h9m40 0h1m1 0h1m-81 1h1m17 0h1m10 0h8m41 0h2m-79 1h1m27 0h1m1 0h3m-17 1h1m14 0h3m10 0h1m-41 1h1m27 0h3m-29 1h1m26 0h2m7 0h1m-9 1h1m7 0h1m28 0h1m-59 1h1m20 0h2m6 0h1m5 0h1m25 0h1m22 0h2m-64 1h2m5 0h2m3 0h1m49 0h1m-139 1h1m76 0h3m-90 1h1m8 0h1m78 0h3m36 0h1m-127 1h1m6 0h1m49 0h1m4 0h1m10 0h1m13 0h4m37 0h1m-127 1h1m3 0h1m50 0h1m4 0h1m10 0h1m14 0h3m41 0h1m-60 1h1m14 0h4m-34 1h1m2 0h1m11 0h1m14 0h4m-35 1h1m2 0h1m12 0h2m13 0h10m-43 1h1m4 0h1m12 0h2m11 0h7m6 0h1m-46 1h1m5 0h1m12 0h4m7 0h6m-30 1h1m12 0h8m2 0h6m12 0h1m-42 1h1m12 0h16m43 0h1m-73 1h1m12 0h4m2 0h9m14 0h1m-49 1h1m4 0h1m12 0h11m20 0h1m24 0h1m-18 1h1m1 1h1m11 0h1m-6 1h1m3 0h1"/><path stroke="#803da8" d="M153 6h1m-1 1h1m0 2h1m0 1h1m1 1h1m0 1h1m-1 4h1m-3 4h1m-1 1h1m-68 11h2m-3 1h4m-3 1h2m70 3h1m-76 1h1m74 0h1m-75 1h1m72 0h1m-74 1h1m71 0h1m-122 1h2m49 0h1m66 0h2m-128 1h1m8 0h7m-21 1h5m9 0h4m2 0h2m-26 1h3m15 0h3m5 0h1m47 0h1m1 0h1m-78 1h2m17 0h2m6 0h1m55 0h1m-84 1h1m27 0h1m100 0h1m-101 1h1m0 1h1m57 0h1m-8 1h3m42 0h1m-48 1h1m6 1h1m12 0h1m-70 1h1m30 1h3m48 0h4m-57 1h1m6 0h1m49 0h1m4 0h1m-64 1h1m9 0h9m39 0h1m4 0h1m-88 1h1m3 0h1m77 0h1m3 0h1m-5 1h1m2 0h1m-51 1h1m47 0h2m-77 1h1m24 0h4m-67 1h1m40 0h1m9 0h1m10 0h1m4 0h1m11 0h1m-30 1h1m17 0h1m-69 1h1m42 0h1m24 0h2m38 0h1m24 0h2m-92 1h1m15 0h1m9 0h1m9 0h1m52 0h1m2 0h1m-139 1h2m44 0h1m26 0h1m9 0h1m30 0h1m20 0h1m1 0h1m-141 1h1m48 0h1m4 0h1m21 0h2m61 0h1m-148 1h1m56 0h1m4 0h1m10 0h1m11 0h2m-86 1h1m84 0h1m42 0h2m-128 1h1m1 0h1m68 0h1m11 0h2m45 0h1m-76 1h1m2 0h1m12 0h1m11 0h2m-29 1h2m13 0h1m11 0h2m46 0h1m-77 1h2m15 0h1m9 0h3m46 0h1m-79 1h1m2 0h1m15 0h3m6 0h2m7 0h2m39 0h1m-76 1h1m17 0h7m6 0h4m6 0h1m-20 1h2m6 0h4m40 0h1m-45 1h3m-33 1h1m28 0h3m40 0h1m-49 1h7m12 0h1m26 0h1m-27 1h3m4 0h1m16 0h1m-16 1h1m13 0h1m-13 1h2m2 0h2"/><path stroke="#8f54b0" d="M155 3h1m-2 1h1m1 6h1m1 1h1m-1 6h1m-2 1h1m-73 20h1m0 1h1m74 0h1m-2 1h1m-117 1h2m41 0h2m69 0h2m-114 1h2m42 0h2m60 0h1m-106 1h1m45 0h1m-46 1h1m53 0h1m-55 1h1m0 1h1m0 1h1m53 0h1m44 0h1m-99 1h1m51 0h2m43 0h1m-98 1h1m48 0h1m3 0h1m-54 1h1m-1 1h1m46 0h1m8 0h1m9 1h1m-38 1h1m3 0h2m11 0h1m44 0h1m-56 1h6m3 0h1m38 0h1m-80 1h2m71 0h1m-80 1h1m8 0h1m17 0h1m63 0h1m-2 1h1m-65 1h1m59 0h1m2 0h1m-117 1h1m51 0h1m29 0h2m29 0h3m-73 1h1m22 0h2m38 0h1m-106 1h1m42 0h1m17 0h1m5 0h1m11 0h1m4 0h1m21 0h1m26 0h2m-86 1h1m10 0h1m6 0h1m11 0h1m4 0h1m24 0h2m21 0h1m2 0h1m-137 1h1m68 0h1m42 0h1m19 0h1m-137 1h2m51 0h1m10 0h1m9 0h1m11 0h2m52 0h1m-77 1h1m9 0h1m42 0h1m19 0h1m1 0h2m-143 1h1m76 0h1m42 0h1m-122 1h1m67 0h1m10 0h1m45 0h2m-129 1h1m53 0h1m2 0h1m23 0h1m-27 1h2m14 0h1m9 0h1m48 0h1m-60 1h1m8 0h2m-10 1h2m5 0h2m-28 1h2m19 0h2m1 0h3m11 0h2m1 0h1m-5 1h1m39 0h1m-81 1h1m4 0h1m33 0h1m-35 1h1m32 0h2m7 0h1m-48 1h1m36 0h2m-38 1h1m2 0h1m31 0h3m37 0h1m-29 1h1m3 0h2m1 0h1m18 0h1m-26 1h2m6 0h1m1 1h1m2 0h2m7 0h1m-5 1h4"/><path stroke="#9d6bb9" d="M156 3h1m-3 2h1m-1 3h1m0 1h1m1 1h2m-2 12h1m-74 16h1m0 1h1m0 1h1m74 0h1m-76 1h1m73 0h1m-113 1h1m38 0h3m63 0h7m-112 1h2m101 0h1m-103 1h1m44 0h1m3 0h1m51 0h1m-102 1h2m44 0h2m-47 1h2m51 0h1m-53 1h2m50 0h1m-52 1h1m49 0h1m2 0h1m1 0h1m41 0h1m-98 1h1m46 0h1m47 0h1m-96 1h1m45 0h1m6 0h1m2 0h1m36 0h1m-49 2h1m20 0h1m24 0h1m-94 1h1m28 0h1m6 0h6m4 0h1m-19 1h1m14 0h3m34 0h1m3 0h1m7 0h1m-88 1h1m2 0h1m76 0h1m6 0h1m-90 1h1m81 0h1m-76 1h1m15 0h1m58 0h1m5 0h1m-81 1h1m73 0h1m4 0h1m-119 1h1m40 0h1m71 0h1m3 0h1m-66 1h1m12 0h2m15 0h1m30 0h3m-48 1h1m43 0h2m20 0h1m2 0h1m-25 1h1m19 0h1m4 0h1m-143 1h2m52 0h1m18 0h1m12 0h1m2 0h1m-90 1h1m73 0h1m43 0h1m18 0h1m-145 1h1m5 0h1m137 0h1m-145 1h1m72 0h1m8 0h1m62 0h3m-147 1h1m81 0h1m48 0h1m-59 1h1m8 0h1m49 0h1m-59 1h1m7 0h1m-9 1h1m6 0h1m51 0h1m-58 1h1m3 0h1m52 0h1m-56 1h1m16 0h1m-43 1h1m2 0h1m36 0h1m-2 1h1m-41 1h1m39 0h1m38 0h1m-76 1h1m34 0h2m6 0h1m30 0h1m-77 1h2m35 0h2m6 0h1m29 0h1m-31 1h1m6 0h1m20 0h1m-29 1h2m2 0h1m21 0h1m-27 1h3m8 0h1m13 0h1m-14 1h2m5 0h1m4 0h1m-3 1h1"/><path stroke="#ac81c3" d="M157 3h1m-3 1h1m-2 2h1m1 3h1m2 1h1m-2 8h1m-2 1h1m-74 20h1m0 1h1m-1 1h1m75 0h1m-113 1h2m35 0h1m73 0h1m-111 1h2m35 0h2m3 0h1m63 0h4m-110 1h2m-1 1h2m44 0h1m52 0h1m-99 1h2m42 0h1m53 0h1m-98 1h1m-1 1h1m47 0h1m4 0h1m-54 1h1m44 0h1m6 0h1m2 0h1m39 0h1m-52 1h1m48 0h1m-95 1h1m44 0h1m19 0h1m26 0h1m-94 1h1m28 0h11m5 0h1m-19 1h1m13 0h4m47 0h1m-94 1h1m5 0h3m74 0h1m-80 1h1m4 0h1m17 0h1m51 1h1m12 0h1m-68 2h1m65 0h1m-78 1h3m7 0h1m54 0h1m10 0h1m-118 1h1m43 0h1m39 0h1m26 0h1m3 0h1m17 0h4m-141 1h1m48 0h1m4 0h1m12 0h1m2 0h1m41 0h3m2 0h2m17 0h1m4 0h1m-145 1h4m48 0h1m3 0h1m17 0h1m13 0h1m31 0h1m17 0h1m-138 1h1m2 0h3m45 0h1m15 0h1m5 0h1m14 0h1m30 0h1m17 0h1m-138 1h1m50 0h1m15 0h1m6 0h1m62 0h1m-87 1h1m15 0h1m7 0h1m44 0h1m-126 1h1m3 0h1m51 0h1m2 0h1m20 0h1m45 0h4m13 0h1m-143 1h1m1 0h1m52 0h1m2 0h1m13 0h1m7 0h1m50 0h1m12 0h2m-90 1h2m15 0h1m6 0h1m51 0h1m-59 1h1m5 0h1m51 0h1m-59 1h2m3 0h1m-4 1h3m53 1h1m-80 1h2m38 0h1m2 0h1m-42 1h1m36 0h1m4 0h1m33 0h1m-77 1h1m36 0h1m-1 1h1m-1 1h1m4 1h1m29 0h1m-25 1h1m3 0h1m-7 1h2m5 0h1m-8 1h1m7 0h1m2 0h2m9 0h1m-14 1h1m8 0h1m1 0h2"/><path stroke="#bb98ce" d="M158 3h2m-4 1h2m-3 1h1m-2 2h1m2 2h3m-77 30h1m0 1h1m-1 1h1m-34 1h2m32 0h1m75 0h1m-110 1h2m31 0h2m2 0h3m60 0h1m1 0h2m4 0h2m-110 1h2m33 0h2m4 0h1m5 0h1m57 0h3m-107 1h2m39 0h1m-41 1h1m40 0h1m1 0h1m-44 1h1m41 0h2m4 0h1m47 0h1m-97 1h1m41 0h5m49 0h1m-97 1h1m42 0h1m51 0h1m-97 1h1m34 0h2m16 0h1m40 0h2m-96 1h1m33 0h5m4 0h1m-19 1h2m11 0h2m-35 1h1m-4 1h1m3 0h1m17 0h1m53 0h2m10 0h1m-94 1h1m9 0h1m73 0h1m8 0h1m-93 1h2m7 0h1m15 0h1m57 0h1m8 0h1m-69 1h1m53 0h1m4 0h1m7 0h1m-69 1h1m54 0h1m4 0h1m-68 1h2m65 0h1m21 0h3m-91 1h1m4 0h1m31 0h1m27 0h1m5 0h1m15 0h1m4 0h1m-89 1h1m14 0h2m15 0h1m33 0h1m15 0h1m-135 1h1m2 0h1m45 0h1m15 0h1m3 0h1m47 0h1m-123 1h2m52 0h1m1 0h1m34 0h1m-91 1h1m54 0h1m18 0h1m-79 1h1m3 0h1m54 0h1m19 0h1m62 0h1m-70 1h1m56 0h3m9 0h1m-141 1h1m71 0h1m5 0h1m52 0h1m9 0h2m-70 1h1m4 0h1m-1 1h1m53 0h1m-58 1h3m54 0h1m-1 1h1m-1 1h1m-40 1h2m36 0h1m-79 1h1m38 0h1m3 1h1m-46 1h1m1 0h1m42 0h1m32 0h1m-38 1h1m3 0h1m31 0h1m-34 1h1m31 0h1m-25 1h3m18 0h1m-23 1h1m20 0h1m-23 1h1m5 0h1m5 0h3m-8 1h1m1 0h2m5 0h1m4 0h1m-15 1h3m7 0h4m-13 1h1m9 0h2"/><path stroke="#c9afd9" d="M158 4h2m-4 1h1m2 0h1m-5 3h1m2 0h2m-3 12h1m-1 1h1m-76 18h1m-1 1h2m-1 1h1m-31 1h1m29 0h2m-31 1h2m28 0h1m68 0h1m-100 1h2m28 0h3m2 0h1m11 0h1m49 0h1m3 0h2m3 0h2m-107 1h2m27 0h5m9 0h1m3 0h1m53 0h5m-106 1h2m28 0h4m5 0h1m-40 1h2m29 0h3m6 0h1m2 0h1m-44 1h2m30 0h3m5 0h1m55 0h1m-97 1h1m31 0h4m5 0h1m9 0h1m43 0h1m-97 1h1m24 0h1m6 0h2m2 0h2m4 0h1m10 0h1m41 0h2m-97 1h1m23 0h9m5 0h1m52 0h1m-94 1h2m4 0h3m16 0h1m15 0h3m48 0h1m-94 1h1m3 0h3m1 0h2m16 0h1m66 0h1m-91 1h1m5 0h1m-8 1h1m22 0h1m56 0h1m-59 1h1m-15 1h1m5 0h2m5 0h1m68 0h1m-82 1h1m2 0h4m73 0h1m13 0h3m-90 1h1m3 0h1m59 0h1m7 0h1m12 0h2m3 0h2m-140 1h2m46 0h1m2 0h1m33 0h1m23 0h1m9 0h1m12 0h2m6 0h1m-142 1h1m2 0h1m45 0h1m69 0h1m13 0h1m-84 1h2m14 0h1m1 0h1m16 0h1m1 0h1m30 0h1m14 0h1m-140 1h1m55 0h1m14 0h1m3 0h1m47 0h1m15 0h1m-141 1h1m1 0h1m53 0h2m14 0h1m3 0h1m47 0h1m15 0h1m-141 1h1m55 0h1m15 0h1m4 0h1m47 0h1m2 0h4m8 0h1m-141 1h1m1 0h1m70 0h1m3 0h2m53 0h1m7 0h1m-85 1h2m16 0h1m3 0h1m54 0h1m7 0h1m-67 1h1m2 0h1m54 0h2m7 0h4m-71 1h2m1 0h1m55 0h1m-1 1h1m-1 1h1m-1 1h1m-2 1h1m-82 1h2m78 0h1m-79 1h1m38 0h1m37 0h1m-79 1h1m39 0h1m0 1h3m33 0h1m-2 1h1m-4 1h1m-20 1h1m17 0h1m-23 1h1m3 0h1m16 0h1m-23 1h2m4 0h1m4 0h1m3 0h1m6 0h1m-23 1h2m3 0h2m3 0h1m5 0h1m4 0h1m-22 1h3m1 0h4m1 0h1m6 0h2m2 0h2m-22 1h10m7 0h5m-22 1h10m7 0h4m-20 1h9m-8 1h6"/><path stroke="#d7c4e3" d="M157 5h2m-4 1h1m2 0h2m-5 1h1m2 0h2m-4 1h2m-78 32h2m0 1h1m-1 1h1m-1 1h2m-28 1h2m1 0h1m22 0h2m6 0h3m7 0h1m53 0h1m-98 1h4m20 0h3m5 0h1m3 0h1m57 0h1m3 0h1m5 0h1m-105 1h5m14 0h9m4 0h1m3 0h1m4 0h1m3 0h1m48 0h1m4 0h6m-105 1h6m12 0h7m1 0h3m3 0h2m2 0h2m4 0h1m1 0h1m49 0h1m4 0h5m-104 1h6m11 0h7m4 0h2m3 0h5m57 0h1m3 0h3m-103 1h8m10 0h8m3 0h2m4 0h5m11 0h1m43 0h2m-98 1h10m10 0h4m1 0h3m1 0h2m6 0h2m1 0h1m55 0h2m-98 1h12m9 0h2m15 0h3m22 0h1m27 0h7m-99 1h4m3 0h9m6 0h1m72 0h4m-101 1h3m6 0h10m5 0h1m73 0h3m-100 1h1m7 0h1m4 0h5m5 0h1m67 0h1m6 0h2m-92 1h1m4 0h6m3 0h1m54 0h1m13 0h1m-84 1h1m4 0h6m2 0h1m58 0h1m10 0h2m8 0h3m-91 1h1m2 0h5m59 0h1m10 0h1m7 0h9m-98 1h2m4 0h5m59 0h1m9 0h2m7 0h4m3 0h3m-92 1h3m69 0h1m9 0h2m7 0h1m-92 1h2m59 0h2m8 0h1m10 0h1m-132 1h2m47 0h2m33 0h1m1 0h1m32 0h1m11 0h1m-132 1h2m64 0h1m18 0h1m32 0h1m12 0h1m-65 1h1m49 0h1m13 0h1m-139 1h1m73 0h1m49 0h1m3 0h4m6 0h1m-139 1h2m54 0h1m15 0h4m49 0h2m4 0h2m5 0h1m-139 1h1m54 0h2m16 0h3m56 0h2m4 0h1m-65 1h3m56 0h1m4 0h2m-65 1h2m57 0h1m4 0h2m-65 1h1m57 0h2m3 0h5m-10 1h2m6 0h2m-10 1h2m-2 1h2m-3 1h1m-41 1h3m36 0h1m-82 1h2m40 0h1m-1 1h3m34 0h1m-2 2h1m-4 1h3m-26 1h3m-3 1h1m1 0h1m18 0h1m-22 1h1m1 0h2m6 0h1m1 0h1m-13 1h3m6 0h1m3 0h1m6 0h1m-20 1h1m6 0h2m3 0h1m6 0h1m-13 1h2m3 0h2m5 0h2m-14 1h7m4 0h3m-14 1h14m-16 1h15m-20 1h18m-17 1h13m-10 1h5"/><path stroke="#e2d4eb" d="M156 6h2m-2 1h2m-79 34h3m-5 1h5m-7 1h7m-22 1h22m70 0h2m-93 1h20m9 0h3m6 0h3m50 0h3m-93 1h14m14 0h3m6 0h3m50 0h4m-93 1h12m7 0h1m8 0h2m7 0h1m51 0h4m5 0h1m-99 1h11m7 0h4m68 0h3m3 0h3m-98 1h10m8 0h3m68 0h9m-97 1h10m8 0h1m10 0h1m58 0h9m-95 1h9m77 0h9m-92 1h6m69 0h4m4 0h9m-91 1h5m69 0h5m3 0h9m-111 1h2m9 0h4m5 0h5m69 0h6m2 0h9m-111 1h2m9 0h4m6 0h3m56 0h2m12 0h17m-100 1h4m6 0h2m56 0h3m13 0h8m3 0h5m-100 1h4m64 0h3m12 0h7m9 0h1m-32 1h3m12 0h7m-22 1h3m10 0h9m-10 1h10m-46 1h1m34 0h11m-12 1h12m-66 1h2m51 0h13m-66 1h2m51 0h3m4 0h6m-5 1h5m-4 1h4m-4 1h4m-3 1h4m-3 1h3m-3 1h6m-6 1h8m-8 1h7m-9 1h9m-10 1h10m-49 1h2m35 0h12m-12 1h12m-13 1h13m-13 1h12m-13 1h13m-17 1h17m-38 1h1m20 0h17m-38 1h1m9 0h1m9 0h18m-29 1h3m8 0h18m-29 1h3m8 0h18m-29 1h3m9 0h17m-17 1h17m-17 1h17m-18 1h18m-20 1h20m-24 1h24m-29 1h29m35 0h2m-68 1h30m33 0h6m-68 1h30m32 0h6m-66 1h29m31 0h5m-63 1h27m24 0h6m1 0h4m-59 1h23m23 0h8m4 0h3m-59 1h19m23 0h11m1 0h7m-59 1h15m23 0h21m-57 1h14m3 0h2m6 0h32m-54 1h52m-51 1h48m-48 1h45m-46 1h43m-44 1h42m-42 1h37m-37 1h34m-37 1h33m-34 1h27m-28 1h22m-23 1h21m-21 1h13m-13 1h6m-5 1h2"/></g></g></g><use href="#o"/><path d="M731.5 37.0h0M776.8 37.0h0M587.2 39.5h0M674.0 41.5h0M752.3 59.0h0M597.2 65.3h0M520.9 82.6h0M692.2 93.8h0M730.3 96.6h0M565.1 105.1h0M788.6 105.8h0M474.1 106.6h0M715.3 114.6h0M661.0 117.1h0M509.1 120.3h0M436.5 130.6h0M748.5 141.6h0M570.4 146.4h0M686.5 146.4h0M522.1 152.1h0M782.3 157.9h0M638.9 164.1h0M512.1 166.6h0M462.1 167.9h0M684.7 168.4h0M596.7 173.9h0M545.4 177.1h0M739.8 184.6h0M489.6 187.9h0M575.4 198.9h0M509.6 202.7h0M781.8 204.7h0M653.0 207.2h0M409.5 209.2h0M760.5 221.4h0M505.8 222.2h0M462.8 223.4h0M148.4 224.7h0M596.7 230.9h0M311.7 231.4h0M374.8 234.7h0M699.7 234.7h0M200.4 235.2h0M241.4 237.2h0M763.5 247.9h0M539.1 249.2h0M419.5 253.9h0M633.9 254.7h0M476.3 255.4h0M592.9 257.9h0M221.4 259.7h0M728.0 259.7h0M146.4 262.2h0M280.2 262.2h0M677.2 263.9h0M759.0 274.7h0M517.9 276.0h0M378.5 276.5h0M652.7 276.7h0M255.4 279.2h0M607.2 280.5h0M692.2 285.5h0M461.6 286.5h0M558.4 286.5h0M212.2 288.5h0M411.5 291.0h0M313.5 291.5h0M162.1 296.5h0M652.7 301.0h0M357.8 303.0h0M716.0 303.5h0M536.6 304.7h0M115.8 310.5h0M430.8 316.0h0M577.9 318.5h0M789.1 318.5h0M477.8 319.0h0M750.5 319.7h0M304.2 320.2h0M243.4 323.0h0M630.2 324.7h0M693.5 325.5h0M74.6 331.5h0M187.1 331.5h0M383.0 332.2h0M747.3 332.2h0M349.8 333.0h0M657.7 341.8h0M451.3 343.0h0M232.2 352.3h0M572.9 352.8h0M514.6 354.3h0M274.2 356.0h0M617.7 359.8h0M699.7 360.5h0M130.1 363.5h0M769.8 364.8h0M188.9 370.3h0M547.1 372.8h0M480.8 374.0h0M328.0 376.0h0M43.8 377.3h0M444.5 377.3h0M727.3 380.6h0M651.5 383.7h0M594.2 401.7h0M698.5 404.9h0M763.5 407.9h0M642.9 411.2h0M719.8 436.9h0M763.0 447.9h0M741.0 463.2h0M666.7 471.2h0M702.2 484.5h0M895.4 495.5h0M816.6 509.5h0M726.5 515.0h0M714.8 528.3h0M737.3 532.0h0M771.5 541.3h0M719.8 544.5h0M695.2 547.5h0" stroke="#808080" stroke-width="27.5" stroke-linecap="round" fill="none"/><g font-size="21" font-weight="bold" text-anchor="middle"><text x="731.5" y="44.3">60</text><text x="776.8" y="44.3">99</text><text x="587.2" y="46.8">60</text><text x="674.0" y="48.8">60</text><text x="752.3" y="66.3">76</text><text x="597.2" y="72.6">76</text><text x="520.9" y="89.9">76</text><text x="692.2" y="101.1">22</text><text x="730.3" y="103.9">22</text><text x="565.1" y="112.4">60</text><text x="788.6" y="113.1">99</text><text x="474.1" y="113.9">76</text><text x="715.3" y="121.9">18</text><text x="661.0" y="124.4">25</text><text x="509.1" y="127.6">76</text><text x="436.5" y="137.9">91</text><text x="748.5" y="148.9">60</text><text x="570.4" y="153.7">22</text><text x="686.5" y="153.7">25</text><text x="522.1" y="159.4">76</text><text x="782.3" y="165.2">76</text><text x="638.9" y="171.4">22</text><text x="512.1" y="173.9">22</text><text x="462.1" y="175.2">91</text><text x="684.7" y="175.7">25</text><text x="596.7" y="181.2">18</text><text x="545.4" y="184.4">76</text><text x="739.8" y="191.9">60</text><text x="489.6" y="195.2">35</text><text x="575.4" y="206.2">25</text><text x="509.6" y="210.0">46</text><text x="781.8" y="212.0">91</text><text x="653.0" y="214.5">22</text><text x="409.5" y="216.5">99</text><text x="760.5" y="228.7">99</text><text x="505.8" y="229.5">99</text><text x="462.8" y="230.7">99</text><text x="148.4" y="232.0">91</text><text x="596.7" y="238.2">35</text><text x="311.7" y="238.7">99</text><text x="374.8" y="242.0">99</text><text x="699.7" y="242.0">60</text><text x="200.4" y="242.5">91</text><text x="241.4" y="244.5">91</text><text x="763.5" y="255.2">99</text><text x="539.1" y="256.5">99</text><text x="419.5" y="261.2">99</text><text x="633.9" y="262.0">60</text><text x="476.3" y="262.7">99</text><text x="592.9" y="265.2">99</text><text x="221.4" y="267.0">60</text><text x="728.0" y="267.0">99</text><text x="146.4" y="269.5">76</text><text x="280.2" y="269.5">99</text><text x="677.2" y="271.2">91</text><text x="759.0" y="282.0">99</text><text x="517.9" y="283.3">76</text><text x="378.5" y="283.8">99</text><text x="652.7" y="284.0">99</text><text x="255.4" y="286.5">99</text><text x="607.2" y="287.8">46</text><text x="692.2" y="292.8">91</text><text x="461.6" y="293.8">91</text><text x="558.4" y="293.8">46</text><text x="212.2" y="295.8">35</text><text x="411.5" y="298.3">76</text><text x="313.5" y="298.8">99</text><text x="162.1" y="303.8">60</text><text x="652.7" y="308.3">99</text><text x="357.8" y="310.3">99</text><text x="715.4" y="310.8" letter-spacing="-1.6">100</text><text x="536.6" y="312.0">99</text><text x="115.8" y="317.8">99</text><text x="430.8" y="323.3">99</text><text x="577.9" y="325.8">76</text><text x="789.1" y="325.8">91</text><text x="477.8" y="326.3">91</text><text x="749.9" y="327.0" letter-spacing="-1.6">100</text><text x="304.2" y="327.5">60</text><text x="243.4" y="330.3">46</text><text x="630.2" y="332.0">60</text><text x="693.5" y="332.8">99</text><text x="74.6" y="338.8">99</text><text x="187.1" y="338.8">25</text><text x="383.0" y="339.5">76</text><text x="746.7" y="339.5" letter-spacing="-1.6">100</text><text x="349.8" y="340.3">99</text><text x="657.7" y="349.1">76</text><text x="451.3" y="350.3">99</text><text x="232.2" y="359.6">91</text><text x="572.9" y="360.1">60</text><text x="514.6" y="361.6">91</text><text x="274.2" y="363.3">25</text><text x="617.7" y="367.1">76</text><text x="699.7" y="367.8">76</text><text x="130.1" y="370.8">60</text><text x="769.2" y="372.1" letter-spacing="-1.6">100</text><text x="188.9" y="377.6">76</text><text x="547.1" y="380.1">99</text><text x="480.8" y="381.3">91</text><text x="328.0" y="383.3">99</text><text x="43.8" y="384.6">76</text><text x="444.5" y="384.6">91</text><text x="726.7" y="387.9" letter-spacing="-1.6">100</text><text x="651.5" y="391.0">76</text><text x="594.2" y="409.0">99</text><text x="697.9" y="412.2" letter-spacing="-1.6">100</text><text x="762.9" y="415.2" letter-spacing="-1.6">100</text><text x="642.9" y="418.5">99</text><text x="719.2" y="444.2" letter-spacing="-1.6">100</text><text x="762.4" y="455.2" letter-spacing="-1.6">100</text><text x="740.4" y="470.5" letter-spacing="-1.6">100</text><text x="666.1" y="478.5" letter-spacing="-1.6">100</text><text x="701.6" y="491.8" letter-spacing="-1.6">100</text><text x="894.8" y="502.8" letter-spacing="-1.6">100</text><text x="816.0" y="516.8" letter-spacing="-1.6">100</text><text x="725.9" y="522.3" letter-spacing="-1.6">100</text><text x="714.2" y="535.6" letter-spacing="-1.6">100</text><text x="736.7" y="539.3" letter-spacing="-1.6">100</text><text x="770.9" y="548.6" letter-spacing="-1.6">100</text><text x="719.2" y="551.8" letter-spacing="-1.6">100</text><text x="694.6" y="554.8" letter-spacing="-1.6">100</text></g><text transform="translate(8.1,538.2) scale(0.9828,1)" font-size="64">Latest 2 m Temp</text><path d="M714.7 565.5v-4.5" stroke="#000" stroke-width="1.5"/></g>
<g transform="translate(1005,256.5)"><rect x="0" y="0" width="976" height="565.5" fill="#fff" stroke="#222" stroke-width="1.5"/><g clip-path="url(#c)"><g filter="url(#b)"><g transform="scale(5) translate(0,.5)" stroke-width="1.25" fill="none"><path stroke="#00e8b8" d="M152 49h2"/><path stroke="#00e3a8" d="M153 50h1"/><path stroke="#00dc98" d="M152 50h1"/><path stroke="#00cd77" d="M154 49h1m-1 1h1"/><path stroke="#00bf51" d="M153 51h1"/><path stroke="#00b93e" d="M153 48h1m-3 1h1m-1 1h1m0 1h1"/><path stroke="#00b32a" d="M152 48h1m1 0h1m-1 3h1"/><path stroke="#06b018" d="M155 49h1m-1 1h1"/><path stroke="#36b900" d="M151 48h1m3 0h1m-5 3h1m3 0h1"/><path stroke="#4cc100" d="M156 49h1m-4 3h1"/><path stroke="#64cb00" d="M156 50h1m-5 2h1m1 0h1"/><path stroke="#7ed500" d="M156 48h1m-7 1h1m-1 1h1"/><path stroke="#9adf00" d="M154 47h1m1 4h1m-2 1h1"/><path stroke="#b0e700" d="M153 47h1m1 0h1m1 2h1"/><path stroke="#c0ec00" d="M157 38h1m-2 1h3m-2 1h2m-1 1h1m-2 7h1m-1 2h1m-7 2h1"/><path stroke="#d0f100" d="M157 37h1m-2 1h1m1 0h2m-1 1h1m-4 1h1m2 0h1m-3 1h1m1 0h1m-8 6h1m3 0h1m-7 1h1m-1 3h1m6 0h1m-2 1h1"/><path stroke="#dff700" d="M156 31h3m-4 1h4m-3 1h3m-3 1h3m-2 1h1m-10 1h2m6 0h3m-3 1h1m1 0h2m-5 1h1m4 0h1m-46 1h1m44 0h1m-1 1h1m-1 1h1m-3 1h3m-4 5h1m0 1h1m-1 1h1m-6 4h2m-63 4h1m-17 9h1m54 2h1m20 13h1m-1 7h2m-2 1h2m-21 5h1"/><path stroke="#edfc00" d="M156 30h3m-4 1h1m3 1h1m-5 1h1m3 0h1m-5 1h1m3 0h1m-12 1h2m5 0h2m1 0h2m-13 1h1m7 0h1m3 0h2m-13 1h2m5 0h1m4 0h2m-1 1h1m-48 1h1m40 0h1m5 0h1m-47 1h1m45 0h1m-6 1h1m4 0h1m-5 1h1m3 0h1m-4 1h3m-3 4h1m-1 3h1m-1 1h1m-2 1h1m-3 1h1m-64 3h1m-17 9h1m55 3h1m-79 3h2m97 10h1m-2 1h2m-1 5h1m-22 6h2m-2 1h1"/><path stroke="#f7fb00" d="M157 29h1m-3 1h1m-2 1h1m-1 1h1m-1 1h1m-1 1h1m-5 1h1m3 0h1m-5 1h1m3 0h1m-8 1h1m6 0h1m-40 1h1m38 0h1m-39 1h1m-3 1h1m40 0h1m1 3h1m3 0h1m-4 1h4m-4 1h4m-6 1h5m-10 1h1m7 0h2m-2 1h1m-1 1h1m-1 1h1m-8 3h1m3 0h1m-66 4h1m-15 9h1m53 1h1m-1 2h2m-79 1h2m96 17h1m1 1h1"/><path stroke="#fcf400" d="M155 29h2m1 0h1m-5 1h1m-2 2h1m-1 1h1m-5 1h2m1 0h2m-7 1h1m3 0h3m-3 1h3m-4 1h1m2 0h1m-40 1h1m1 0h1m31 0h1m-33 2h1m-2 1h1m40 1h1m0 2h1m-1 1h1m-3 1h1m5 0h1m-1 1h1m-2 1h2m-2 1h2m-2 1h1m-2 1h1m-2 1h1m-2 1h1m-67 3h1m1 0h1m-1 1h1m-19 8h1m1 0h1m-3 1h1m0 1h1m55 0h1m-3 1h1m-77 4h2m96 8h2m-3 1h1m-1 1h1m0 1h2m-2 3h2m0 1h1m-1 2h1m-24 5h1m2 0h1m-3 1h2"/><path stroke="#ffec00" d="M156 28h3m-6 3h1m-2 2h1m-5 1h1m2 0h1m-1 3h2m-6 1h1m1 0h1m3 0h1m-41 1h1m40 0h1m-41 2h1m1 0h1m32 8h1m-1 1h1m11 0h1m-2 1h2m-12 1h1m8 0h1m-2 1h1m-68 5h2m-17 6h1m0 3h1m52 2h1m-75 1h1m74 0h2m-80 1h1m2 0h1m94 9h1m2 1h1m-1 1h1m-1 1h1m-3 1h2m-2 1h2m-1 5h1m-22 2h2m-3 1h1m2 0h1"/><path stroke="#ffe400" d="M155 28h1m-2 1h1m-2 1h1m-2 1h1m-1 1h1m-4 1h3m-5 1h1m-2 2h1m-32 1h2m29 0h1m-30 1h1m32 0h1m-34 1h1m-5 1h1m3 0h1m37 1h1m0 4h1m-3 1h1m5 6h2m-11 1h1m7 0h2m-7 1h3m-65 1h1m-3 2h1m2 1h1m-19 6h1m-1 3h1m54 0h1m2 1h1m-80 1h2m77 0h1m-81 1h1m-1 2h1m2 0h1m97 8h1m-4 3h1m2 1h1m-1 2h1m-4 1h1m-1 1h1m-21 4h1m-1 3h1m2 0h1"/><path stroke="#ffdc00" d="M156 27h2m-4 1h1m-2 1h1m-2 1h1m-3 2h2m-4 1h1m-3 2h1m-33 2h1m-2 1h1m32 0h1m4 0h2m-40 3h1m3 0h1m-3 1h2m39 1h1m-8 5h1m11 5h1m-9 1h1m3 0h5m-71 1h1m1 0h1m-4 1h1m-14 8h1m-4 1h1m3 0h1m-1 1h1m52 0h2m0 1h1m-78 2h1m73 1h1m2 0h1m-80 3h2m96 6h1m-3 2h1m0 3h1m2 1h1m-4 1h1m-1 3h1m0 1h1m1 0h1m-21 2h1m-5 2h1m2 2h1"/><path stroke="#ffd400" d="M157 26h1m-3 1h1m-3 1h1m-2 1h1m-2 1h1m-1 1h1m-3 1h1m-33 5h1m35 2h1m0 1h1m-41 2h1m41 2h1m-7 3h1m-2 4h1m7 4h5m-68 1h1m-1 1h1m-5 1h1m-17 6h1m-1 2h1m3 1h1m-26 2h1m3 1h1m-1 1h1m73 0h2m18 8h1m1 0h1m-4 1h1m4 1h1m-6 1h1m4 0h1m-1 1h1m-5 2h1m3 2h1m-1 1h1m-1 1h1m-24 2h2m-4 2h1m4 0h1m-1 1h1"/><path stroke="#ffcc00" d="M157 25h1m-2 1h1m-3 1h1m-3 1h1m-2 1h1m-2 2h1m-4 2h1m-2 1h1m-32 2h3m-5 1h1m4 1h1m-7 1h1m5 0h1m28 0h3m-38 1h1m5 0h1m-2 2h1m35 4h1m-2 8h1m-63 1h1m64 0h2m1 1h4m-71 3h2m-18 4h2m1 1h1m51 2h1m-55 2h1m52 0h1m-1 1h1m4 0h1m-83 2h1m80 0h1m-77 1h1m-5 1h1m2 0h1m97 6h1m0 1h1m-6 3h1m4 1h1m-1 1h1m-1 1h1m-25 5h1m-2 1h1m-1 3h1m4 0h1m-2 1h1"/><path stroke="#ffc400" d="M157 24h1m-2 1h1m-2 1h1m-3 1h1m-4 3h1m-2 1h1m-2 1h1m-35 4h1m30 0h1m-28 1h1m26 0h1m-34 1h1m33 1h1m5 0h1m-41 2h1m5 0h1m-6 1h1m4 0h1m36 0h1m-41 1h3m37 2h1m-6 8h1m-57 2h1m59 0h1m1 1h2m-69 1h1m68 0h4m-68 1h1m65 0h2m-88 5h1m2 0h1m53 2h2m0 1h1m-60 1h1m-21 1h2m21 0h1m56 0h1m-78 1h1m-6 1h1m81 0h1m-5 1h1m-79 1h1m97 7h1m-17 12h1m0 1h1"/><path stroke="#ffbc00" d="M157 23h1m-2 1h1m-2 1h1m-2 1h1m-3 1h1m-2 1h1m-2 1h1m-2 1h1m-2 1h1m-33 4h3m26 0h1m-28 1h1m26 2h1m4 1h2m-38 4h1m3 0h1m-2 1h2m-28 10h2m58 0h1m1 1h1m-65 1h1m5 0h1m59 0h1m-61 1h1m34 0h2m25 0h1m-69 1h1m68 0h2m-70 1h1m2 0h1m64 0h4m-3 1h3m-3 1h1m-87 2h1m-1 1h1m-1 1h1m5 0h1m-1 1h1m49 1h1m-77 1h1m2 0h1m18 0h1m53 2h1m4 1h1m-4 1h3m-77 1h1m-4 1h2m96 4h1m2 1h1m-7 1h1m-1 1h1m0 3h1m-1 1h1m-20 5h3m21 0h1m-26 1h1m22 0h1m-25 1h1m-1 1h1m-1 1h1m5 2h1"/><path stroke="#ffb400" d="M156 6h1m-1 1h1m0 15h1m-2 1h1m-2 1h1m-2 1h1m-2 1h1m-3 1h1m-2 1h1m-2 1h1m-3 3h1m-2 1h1m-32 2h1m3 0h1m-7 1h1m5 0h1m-8 1h1m6 0h1m-1 1h1m-1 1h1m25 0h1m-27 1h1m33 0h1m-35 1h1m34 0h1m-43 1h1m6 0h1m-1 1h1m35 0h1m-40 1h1m2 0h1m35 0h1m-39 1h3m32 1h1m-4 1h1m-1 5h1m-57 2h1m36 1h1m-1 1h2m0 1h1m23 0h1m-27 1h3m24 0h1m-28 1h2m25 0h1m-1 1h2m-87 1h1m85 0h1m1 0h1m-88 1h3m82 0h3m-83 1h1m79 0h2m-81 1h1m50 1h1m-58 1h1m5 1h1m54 0h1m-57 1h1m-27 1h1m5 1h1m76 0h1m-78 1h1m76 0h1m-78 1h1m71 0h1m3 0h1m-83 1h1m78 0h2m-80 1h1m2 0h1m93 4h2m1 0h1m-5 1h1m-1 3h1m0 4h1m-1 1h1m-21 3h1m20 0h1m-23 1h1m5 0h1m18 0h1m-19 3h1"/><path stroke="#ffac00" d="M155 5h3m-3 1h1m1 0h2m-4 1h1m1 0h2m-3 1h2m-65 12h3m16 0h2m43 0h1m-66 1h5m15 0h2m43 0h1m-66 1h5m3 0h1m55 0h1m-69 1h1m10 0h4m39 0h2m11 0h1m-69 1h3m10 0h3m40 0h1m10 0h1m-68 1h3m63 0h1m-67 1h3m62 0h1m-65 1h1m61 0h1m-2 1h1m-2 1h1m-1 1h1m-58 1h2m54 0h1m-57 1h2m-2 1h2m23 1h4m25 0h1m-32 1h1m-4 4h1m-1 1h1m34 0h3m-38 1h1m1 2h1m-14 1h2m13 0h1m-15 1h1m38 1h1m-1 1h1m7 1h1m-1 1h1m-59 5h1m3 0h1m-6 1h1m5 0h1m6 0h2m27 0h1m20 0h1m-24 1h1m2 0h1m5 0h1m15 0h1m-26 1h1m3 0h1m3 0h2m16 0h1m-61 1h1m33 0h1m3 0h1m22 0h1m-25 1h1m23 0h1m-86 1h1m58 0h2m-61 1h1m1 0h1m83 0h1m-86 1h1m3 0h1m80 0h1m-86 1h1m84 0h1m-27 1h2m25 0h2m-27 1h1m-77 3h1m16 0h1m-17 1h1m76 0h1m-7 2h1m6 0h1m2 0h1m-5 1h1m2 0h3m-83 1h1m71 0h1m2 0h1m5 0h2m-84 1h1m72 0h3m-3 1h2m12 0h2m-16 1h2m13 0h2m-18 1h3m-3 1h2m18 0h1m4 0h1m-26 1h2m-3 1h3m-3 1h2m-2 1h2m19 1h1m0 5h1m-19 1h1m1 1h1m-7 2h1m-1 1h1m7 0h1m-9 1h1m7 1h1"/><path stroke="#ffa400" d="M156 4h3m-1 1h2m-6 1h1m4 0h1m-6 1h1m4 0h1m-5 1h1m2 0h2m-3 1h2m-1 9h1m-66 1h4m15 0h2m43 0h1m-68 1h3m3 0h2m13 0h1m2 0h1m-25 1h2m5 0h4m10 0h1m2 0h1m41 0h1m-68 1h3m5 0h3m1 0h2m9 0h2m28 0h1m12 0h1m-67 1h10m4 0h1m-14 1h6m2 0h2m42 0h1m-53 1h3m7 0h2m50 0h1m-63 1h2m59 0h1m-65 1h1m1 0h2m58 0h1m-62 1h3m57 0h1m-59 1h2m-2 1h3m54 0h1m-58 1h1m2 0h1m-4 1h1m2 0h1m52 0h1m-57 1h1m27 0h1m-28 1h1m23 0h1m4 1h1m-1 1h1m23 0h1m-1 1h1m-34 1h1m32 0h1m0 2h1m-26 3h1m-19 1h1m11 0h1m5 0h1m-21 1h1m15 0h1m3 0h1m19 0h1m13 0h1m-81 1h2m42 0h2m19 0h1m1 0h1m-68 1h2m63 0h1m8 3h1m-48 4h3m-3 1h1m2 0h1m24 0h1m2 0h1m-37 1h1m5 0h2m29 0h1m3 0h1m15 0h1m-66 1h1m45 0h3m2 0h1m14 0h1m-21 1h1m1 0h3m16 0h1m-67 1h1m4 0h1m34 0h1m3 0h1m-62 1h1m18 0h1m40 0h1m23 0h1m-87 1h1m60 0h1m24 0h1m-86 1h1m5 0h1m78 0h1m-85 2h1m84 0h1m-29 2h1m4 0h1m-81 1h3m16 0h1m-22 1h1m82 0h1m0 2h1m-86 1h1m85 0h2m1 0h1m-12 1h1m6 0h2m3 0h1m-8 1h5m2 0h3m-11 1h1m8 0h4m-92 1h2m73 0h1m2 0h1m10 0h1m2 0h1m-18 1h1m2 0h1m11 0h1m2 0h1m-16 1h1m12 0h3m-20 1h1m2 0h1m16 0h1m-21 1h1m2 0h1m16 0h1m-22 1h1m3 0h1m16 0h1m-22 1h1m2 0h1m-4 1h1m2 0h1m-4 1h4m-2 1h1m0 5h2m1 0h1m-5 1h1m-2 1h1m23 0h1m-17 1h1m-2 5h1"/><path stroke="#ff9c00" d="M156 3h4m-6 1h2m3 0h1m-6 1h1m1 4h1m2 0h1m-2 1h2m-2 7h1m-63 1h1m60 0h1m-61 1h1m13 0h1m2 0h1m-17 1h2m10 0h1m45 0h1m-56 1h1m8 0h1m44 0h1m-53 1h1m7 0h1m2 0h1m26 0h1m-1 1h1m12 0h1m-59 1h2m5 0h1m40 0h1m8 0h1m-61 1h7m2 0h2m47 0h1m-60 1h2m56 0h1m-60 1h2m55 0h1m-62 1h1m3 0h2m-6 1h3m2 0h1m54 0h1m-59 1h1m3 0h1m-5 1h1m56 0h1m-58 1h1m3 1h1m23 0h1m1 0h1m25 0h1m-56 1h1m1 0h1m27 0h1m-8 1h1m30 0h1m-33 1h1m7 1h1m-1 1h1m-1 1h1m23 0h1m-25 1h1m28 0h1m2 0h1m-33 1h1m-10 1h1m8 0h1m-21 1h2m10 0h1m-14 1h1m-1 1h1m2 0h1m12 0h1m23 0h1m1 0h1m-42 1h2m15 0h1m33 0h1m-11 1h1m-3 1h2m-50 5h2m9 0h1m-14 1h1m14 0h1m25 0h2m18 0h1m-55 1h1m3 0h1m50 0h1m-64 1h1m12 0h1m2 0h1m29 0h3m2 0h1m-44 1h1m31 0h1m-41 1h1m39 0h1m6 0h1m-2 1h1m20 0h1m-86 1h1m19 0h1m1 0h1m36 0h1m3 0h1m-60 1h1m55 0h1m1 0h1m-63 1h1m60 0h2m-62 1h1m7 0h1m51 0h2m23 0h1m-27 1h1m2 0h1m-62 1h1m7 0h1m77 0h2m-80 1h1m-28 1h1m4 1h1m20 0h1m48 0h1m-53 1h2m50 0h1m-78 1h1m7 0h1m68 0h1m8 0h1m-79 1h1m81 0h1m-91 1h1m7 0h1m82 0h2m-15 1h1m14 0h2m-94 1h1m5 0h1m70 0h1m4 0h2m2 0h4m4 0h1m-94 1h1m2 0h1m76 0h2m7 0h1m4 0h1m-20 1h1m4 0h1m-6 1h1m19 0h3m-19 1h1m13 0h2m7 0h1m-29 1h1m4 0h1m-7 2h1m4 0h1m16 0h1m-23 1h1m4 0h1m-1 1h1m-5 1h2m1 0h1m18 0h1m-22 1h3m-1 3h3m-4 1h1m4 0h1m-7 1h1m6 0h1m19 1h1m-29 1h1m-1 1h1m8 3h1"/><path stroke="#ff9400" d="M154 3h2m-3 2h1m-1 1h1m0 2h1m0 1h1m1 1h1m0 1h1m-1 5h1m-2 1h1m-61 1h1m13 0h4m-17 1h2m10 0h1m45 0h1m-57 1h2m13 0h1m39 0h1m-54 1h2m5 0h1m5 0h1m-12 1h1m5 0h1m4 0h1m27 0h1m10 0h1m-51 1h1m6 0h3m30 0h1m8 0h1m-50 1h1m36 0h1m10 0h1m-49 1h1m38 0h2m5 0h1m-57 1h3m2 0h4m45 0h2m-57 1h2m52 0h1m-55 1h1m53 0h1m-55 1h1m-7 1h2m5 0h1m-7 1h1m5 0h1m-1 1h1m23 0h2m-31 1h1m26 0h1m3 0h1m-28 1h1m20 0h1m-24 1h1m29 0h1m-11 2h1m-2 2h1m-1 1h1m33 0h1m5 0h1m-41 1h1m34 0h3m6 1h1m-53 1h1m0 1h1m9 0h1m26 0h2m-68 1h2m38 0h1m27 0h1m-70 1h1m2 0h1m22 0h1m2 0h1m13 0h1m3 0h1m17 0h1m3 0h1m-5 1h1m9 0h1m-59 6h1m2 0h1m7 0h1m1 0h1m45 0h1m-55 1h1m4 0h1m-13 1h1m44 0h1m3 0h3m-43 1h1m2 0h1m27 0h1m23 0h1m-52 1h3m36 0h1m12 0h1m-58 1h1m42 0h1m14 0h1m-84 1h1m56 0h1m6 0h3m-65 1h1m19 0h1m40 0h1m20 0h1m-81 1h1m57 0h1m21 0h1m-78 1h1m51 0h1m2 0h1m-4 1h1m2 0h1m-54 1h1m75 0h1m0 1h1m-101 2h1m22 0h1m54 0h1m-85 2h1m7 0h1m15 0h1m2 0h1m57 0h1m1 1h3m-13 1h1m13 0h1m1 1h1m-94 1h1m7 0h1m86 0h1m-11 1h2m9 0h1m-91 1h1m70 0h1m6 0h1m5 0h1m-8 1h1m8 0h1m4 0h1m-22 1h1m5 0h1m10 0h1m6 0h2m-26 1h1m17 0h1m1 1h1m-22 1h1m5 0h1m-1 1h1m15 1h1m-23 1h1m-1 1h1m4 0h1m-5 1h1m3 0h1m17 0h1m-22 1h4m-4 1h5m-5 1h2m3 0h1m-6 1h1m21 0h1m-24 1h1m-1 1h1m8 0h1m0 3h1"/><path stroke="#ff8c00" d="M153 3h1m-1 1h1m-1 3h1m2 3h1m0 1h1m0 1h1m-2 4h1m-60 1h1m13 0h2m-16 1h2m10 0h1m45 0h1m-57 1h1m8 0h1m5 0h1m39 0h1m-54 1h1m6 0h1m6 0h1m-13 1h1m3 0h1m7 0h1m37 0h1m-50 1h1m2 0h2m43 0h1m-49 1h1m3 0h2m3 0h2m-11 1h1m39 0h1m5 0h1m-47 1h1m36 0h1m2 0h1m3 0h1m-53 1h2m4 0h2m42 0h1m-53 1h2m49 0h1m-53 1h2m50 0h1m-53 1h1m51 0h1m-1 1h1m-60 1h1m0 1h1m28 0h1m2 0h1m24 0h1m-58 1h1m5 0h1m20 0h1m5 0h1m-33 1h1m23 0h1m7 0h1m22 0h1m-55 1h1m1 0h1m19 0h1m8 1h1m-1 1h1m-12 1h1m10 0h1m29 2h1m-8 1h1m8 0h1m-44 1h1m10 0h1m23 0h1m-47 1h1m3 0h1m7 0h1m9 0h1m-24 1h1m13 0h1m8 0h1m17 0h1m2 0h2m-71 1h1m2 0h1m21 0h1m4 0h1m17 0h1m16 0h1m4 0h1m-29 1h1m27 0h1m6 0h1m-78 1h1m2 0h1m23 0h2m40 0h1m-69 1h2m62 0h1m2 0h1m6 3h1m-48 1h2m-9 1h1m5 0h1m3 0h1m-9 1h1m2 0h1m29 0h1m2 0h1m-36 1h3m5 0h1m22 0h1m5 0h1m1 0h1m13 0h1m-53 1h2m5 0h1m34 0h1m-44 1h1m2 0h1m3 0h1m35 1h1m-71 1h1m1 0h1m15 0h1m6 0h1m42 0h1m15 0h1m-86 1h1m19 0h1m45 0h1m-67 1h1m6 0h1m52 0h1m-51 1h1m75 0h1m-86 1h1m9 0h1m-10 1h1m57 1h1m4 0h1m21 0h1m-103 1h3m15 0h1m84 0h2m-107 1h1m5 0h1m69 0h1m-78 1h1m7 0h1m13 0h1m-14 2h1m80 0h1m-82 1h1m82 0h1m-84 1h1m67 0h1m16 0h1m-18 1h1m-78 1h1m7 0h1m68 0h1m-77 1h1m5 0h1m77 0h2m1 0h2m7 0h1m-95 1h3m70 0h1m14 0h1m6 0h1m-16 1h1m18 0h2m-29 1h1m6 0h1m-8 1h1m6 0h1m12 0h1m0 1h1m-23 1h1m-1 1h1m6 0h1m-8 1h1m6 0h1m-1 1h1m-7 1h1m5 0h1m-6 1h1m4 0h2m15 0h1m-23 1h1m5 0h2m-8 1h1m6 0h1m-8 1h1m7 0h1m-10 1h1m9 0h1m-11 1h1m-1 1h1m-1 1h1m10 0h1m-1 2h1m-2 2h1"/><path stroke="#ff8200" d="M152 4h1m-1 1h1m1 4h1m0 1h1m0 1h1m0 1h1m-1 1h1m-1 1h1m-1 1h1m-2 1h1m-58 1h1m10 0h2m2 0h1m41 0h1m-57 1h1m8 0h1m5 0h1m39 0h1m-55 1h1m6 0h1m7 0h1m-14 1h1m4 0h1m45 0h1m-50 1h3m33 0h1m-36 1h2m8 0h1m23 0h1m-35 1h3m7 0h1m23 0h1m11 0h1m-47 1h9m-9 1h1m39 0h3m-44 1h1m37 0h4m-50 1h7m41 0h1m-50 1h1m-2 1h1m-1 1h1m-10 1h1m8 0h1m22 0h3m24 0h1m-59 1h1m28 0h1m4 0h1m-8 1h1m29 0h1m-57 1h1m33 0h1m-34 1h1m32 0h1m-12 1h1m31 0h1m-1 1h1m-1 1h1m-23 1h1m21 0h1m-35 1h1m11 0h1m21 0h1m-35 1h1m11 0h1m21 0h1m4 0h1m-49 1h3m40 0h2m1 0h1m-6 1h5m-72 1h2m68 0h2m-33 1h1m30 0h1m-47 1h1m4 0h1m17 0h1m27 0h1m-51 1h1m2 0h1m14 0h3m17 0h1m9 0h1m-48 1h2m45 0h1m-9 1h2m-41 3h1m2 0h1m-15 1h1m9 0h1m-12 1h1m8 0h2m6 0h1m32 0h2m9 0h1m-15 1h1m4 0h1m-54 1h1m39 0h1m23 0h1m-65 1h1m10 0h2m5 0h1m21 0h1m24 0h1m-66 1h1m9 0h1m3 0h3m23 0h1m25 0h1m-15 1h1m-66 1h1m53 0h1m25 0h1m-78 1h1m56 0h1m-66 1h1m59 0h1m25 1h1m-22 1h1m-54 1h1m-29 1h1m3 0h1m23 0h1m-10 1h1m85 0h1m-79 1h1m55 0h1m-77 1h1m13 0h1m4 0h1m57 0h1m4 1h2m0 1h2m0 1h1m-87 1h1m86 0h1m0 1h1m-90 1h1m67 0h1m10 0h1m-86 1h1m3 0h2m76 0h1m14 0h1m-25 1h1m16 0h1m11 0h1m-22 1h1m9 0h1m-20 1h1m-1 1h1m7 0h1m-1 1h1m13 0h1m-15 1h1m-1 1h1m14 0h1m-24 1h1m7 0h1m-1 1h2m-9 1h1m7 0h1m-9 1h1m8 0h1m-10 1h1m8 0h1m-10 1h1m9 0h1m-12 1h1m-1 1h1m-1 1h1m11 0h1m15 0h2m-18 4h1"/><path stroke="#ff7600" d="M152 3h1m-1 3h1m0 2h1m2 4h1m-1 1h1m-1 1h1m-1 1h1m-58 1h1m10 0h5m-15 1h1m8 0h1m5 0h1m39 0h1m-48 1h1m7 0h1m-15 1h1m4 0h1m9 0h1m36 0h1m-51 1h4m9 0h1m-1 1h1m22 0h1m1 0h1m10 0h1m-37 1h1m34 0h1m-36 1h1m33 0h1m-37 1h2m29 0h1m3 0h1m-44 1h6m-7 1h2m-4 1h2m38 0h1m-48 1h1m47 0h1m-50 1h1m48 0h1m-28 1h3m24 0h1m-29 1h1m3 0h1m-36 1h1m8 0h1m19 0h1m6 0h1m-36 1h1m25 0h1m8 0h1m-29 1h1m17 0h1m-20 1h1m17 0h1m31 0h1m-54 1h3m29 0h1m-13 1h1m11 0h1m-14 2h1m-7 3h1m5 0h1m32 0h1m4 0h1m-50 1h1m5 0h1m5 0h1m29 0h1m5 0h1m7 0h1m-51 1h1m6 0h1m10 0h1m15 0h1m15 0h1m-58 1h1m6 0h1m7 0h1m32 0h1m7 0h1m-77 1h1m36 0h1m22 0h1m6 0h2m1 0h2m-51 1h1m17 0h1m3 0h1m22 0h1m-71 1h1m2 0h1m22 0h1m37 0h1m4 0h1m-43 1h2m36 0h1m2 0h1m-42 1h2m-2 1h3m-12 1h2m6 0h1m48 0h1m-54 1h2m1 0h1m31 0h2m1 1h1m3 0h1m-32 1h1m-1 1h1m34 0h1m8 0h1m-10 1h1m9 0h1m-54 1h3m3 0h1m36 0h1m10 0h1m-84 1h1m3 0h1m13 0h1m8 0h1m30 0h1m12 0h1m12 0h1m-66 1h1m5 0h1m41 0h2m-60 1h1m11 0h2m43 0h1m18 0h1m-75 1h1m53 0h1m-6 1h1m4 0h1m-54 1h1m47 0h1m25 0h1m-85 1h1m-20 1h1m5 0h1m76 0h1m20 0h1m-106 1h1m7 0h1m21 0h1m75 0h1m-98 1h1m0 1h1m76 0h4m-81 1h1m82 0h2m-96 1h1m10 0h1m84 0h1m-97 1h1m10 0h1m85 0h1m-87 1h1m-2 1h1m-10 1h1m8 0h1m88 0h1m-98 1h1m6 0h1m76 0h1m4 0h1m9 0h1m-99 1h5m77 0h1m20 0h1m-32 1h1m8 1h1m10 0h1m-22 1h1m21 0h1m-23 1h1m-1 1h1m-1 1h1m9 0h1m-1 1h1m-10 1h1m9 0h1m-11 1h1m9 0h1m-11 1h1m10 0h1m12 0h1m-25 1h1m10 0h1m-12 1h1m-2 2h1m12 0h1m13 0h1m-15 6h1"/><path stroke="#ff6a00" d="M151 3h1m-1 1h1m-1 1h1m0 2h1m1 3h1m0 1h1m-56 3h1m10 0h2m-13 1h1m8 0h6m-15 1h1m8 0h1m5 0h1m39 0h1m-48 1h1m7 0h1m-16 1h1m5 0h1m9 0h1m36 0h1m-52 1h4m11 0h1m-1 1h1m34 0h1m-36 1h1m-1 1h1m25 0h1m-27 1h1m26 0h1m-29 1h2m21 0h1m8 0h1m-37 1h4m24 0h1m-34 1h3m31 0h1m-37 1h2m-10 1h3m2 0h3m-9 1h1m20 0h3m-25 1h1m20 0h1m3 0h1m-6 1h1m5 0h1m-9 1h1m29 0h1m-59 1h1m8 0h1m16 0h1m10 0h1m-1 1h1m19 0h1m-21 1h1m-35 1h1m20 0h1m-2 2h1m12 0h1m-1 1h1m-15 1h1m13 0h1m19 0h1m-35 1h1m13 0h1m19 0h1m6 0h1m-51 1h1m4 0h1m3 0h1m13 0h1m18 0h1m-37 1h1m3 0h1m12 0h1m16 0h1m-67 1h1m2 0h1m20 0h1m7 0h1m4 0h1m35 0h1m-75 1h1m4 0h1m44 0h1m14 0h1m8 0h1m-75 1h1m24 0h1m15 0h1m32 0h1m-75 1h1m4 0h1m25 0h1m11 0h1m28 0h1m1 0h1m-49 1h1m3 0h1m-4 1h1m2 0h1m44 0h1m-49 1h1m2 0h1m35 0h3m-42 1h1m3 0h1m-14 1h1m2 0h1m4 0h1m5 0h1m-8 1h1m7 0h1m26 0h1m5 0h2m-34 1h1m21 0h1m5 0h3m3 0h1m-54 1h1m39 0h1m13 0h1m7 0h1m-64 2h1m19 0h1m19 0h1m-57 1h2m14 0h1m18 0h1m20 0h1m-27 1h4m-36 1h1m6 0h1m62 0h1m-71 1h1m10 0h1m9 0h1m2 0h1m35 0h1m-61 1h1m85 0h1m-86 1h1m11 0h1m-12 1h1m-18 1h4m98 0h1m-105 1h1m7 0h1m11 0h1m56 0h1m-69 1h1m0 1h1m10 0h1m8 0h1m65 0h2m9 0h1m-109 1h1m11 0h1m10 0h1m6 0h1m46 0h1m14 0h7m-99 1h1m11 0h1m64 0h1m18 0h2m-86 1h1m84 0h1m-86 1h1m-13 1h1m76 0h1m20 0h1m-99 1h1m10 0h1m65 0h1m-77 2h1m8 0h1m65 0h1m10 0h2m1 0h1m-89 1h1m5 0h2m65 0h1m16 0h1m-19 2h1m9 1h1m-12 1h1m10 0h1m-12 1h1m10 0h1m12 0h1m-24 2h1m10 0h1m12 0h1m-25 1h1m11 0h1m-13 1h1m11 0h1m-13 2h1m-1 1h1m-1 1h1m12 0h1m-15 1h1m14 2h1m-1 1h1m-1 1h1m-1 1h1"/><path stroke="#ff5c00" d="M149 3h2m-1 1h1m-1 1h1m0 1h1m-45 3h2m44 0h1m-49 1h4m-5 1h1m2 0h4m-3 1h5m42 0h1m-48 1h6m41 0h1m-55 1h1m6 0h3m2 0h2m40 0h1m-48 1h1m6 0h2m38 0h1m-55 1h1m6 0h1m7 0h2m-17 1h1m5 0h1m9 0h2m35 0h1m-53 1h1m3 0h1m11 0h1m0 1h1m33 0h1m-35 1h1m-1 1h2m18 0h1m12 0h1m-34 1h2m18 0h1m11 0h1m-33 1h2m29 0h1m-32 1h2m26 0h2m-32 1h4m-10 1h3m2 0h5m-13 1h3m6 0h4m22 0h1m-43 1h2m3 0h3m8 0h5m22 0h1m-47 1h1m18 0h1m3 0h2m21 0h1m-48 1h1m18 0h1m5 0h1m21 0h1m-49 1h1m18 0h1m7 0h1m20 0h1m-32 1h1m9 0h1m0 1h1m-14 1h1m-18 1h1m-2 1h1m29 0h1m-35 1h3m17 0h1m13 0h1m18 0h1m-1 1h1m-35 1h1m33 0h1m-36 1h1m-7 1h4m1 0h2m33 0h1m-44 1h1m6 0h3m32 0h1m-66 1h1m21 0h1m8 0h3m38 0h1m-52 1h1m12 0h1m37 0h1m-52 1h1m14 0h1m35 0h1m-52 1h1m7 0h1m7 0h1m9 0h1m13 0h1m-40 1h1m16 0h1m6 0h1m14 0h1m8 0h1m-69 1h1m65 0h1m-70 1h2m22 0h1m38 0h1m-40 1h1m-1 1h1m40 0h1m-51 1h1m4 0h2m1 0h1m40 0h2m-52 1h1m40 0h1m3 0h1m3 0h1m2 0h1m7 0h1m-62 1h1m19 1h1m-22 1h1m20 0h1m18 0h1m15 0h1m6 0h1m-8 1h1m7 0h1m-82 1h1m36 0h1m35 0h1m8 0h1m-84 1h1m17 0h1m10 0h3m4 0h2m20 0h1m14 0h1m10 0h1m-77 1h1m10 0h1m7 0h1m31 0h1m11 0h1m13 0h1m-74 1h1m7 0h1m47 0h1m-56 1h1m53 0h1m-68 1h1m13 0h1m71 0h1m-73 1h1m-31 1h1m4 0h2m23 0h1m52 0h1m-76 1h1m21 0h1m72 0h1m-95 1h2m19 0h1m53 0h1m10 0h2m7 0h1m-107 1h1m11 0h1m64 0h1m9 0h1m6 0h3m2 0h1m7 0h1m-95 1h1m85 0h1m-87 1h1m12 0h3m69 0h1m-86 1h1m63 0h1m20 0h1m-86 1h1m63 0h1m20 0h1m-87 1h1m-1 1h1m86 0h1m-100 1h1m10 0h1m64 0h1m23 0h1m-90 1h1m77 0h1m12 0h2m-103 1h1m8 0h1m75 0h1m-13 1h1m10 0h1m7 0h1m-21 1h1m20 0h1m-22 1h1m21 0h1m0 1h1m-24 2h1m11 0h1m-13 1h1m12 0h1m0 1h1m10 0h1m-12 1h1m-14 1h1m12 0h1m-1 1h1m11 0h1m-27 1h1m13 0h1m-15 1h1m26 0h1m-29 1h1m15 1h1m13 0h1m-15 5h1m-2 1h1"/><path stroke="#ff4c00" d="M147 3h2m-1 1h2m-1 1h1m0 1h1m-41 1h2m39 0h1m-43 1h4m39 0h1m-44 1h4m-4 1h5m-9 1h2m4 0h3m40 0h1m-52 1h5m5 0h2m-13 1h2m2 0h2m6 0h2m-14 1h1m4 0h1m7 0h2m-16 1h1m5 0h1m9 0h1m-11 1h1m10 0h1m35 0h1m-53 1h1m3 0h1m12 0h2m-18 1h3m13 0h2m32 0h1m-34 1h2m-2 1h2m17 0h3m10 0h1m-32 1h1m21 0h1m-23 1h1m-1 1h2m16 0h1m-19 1h2m-2 1h2m-9 1h2m5 0h2m-12 1h1m4 0h1m4 0h2m-14 1h2m5 0h1m5 0h2m-25 1h1m4 0h6m6 0h1m6 0h1m-9 1h1m7 0h2m-12 1h2m9 0h1m-29 1h1m14 0h2m11 0h2m-15 1h1m13 0h1m17 0h1m-49 1h1m14 0h1m13 0h1m-15 1h1m13 0h1m-16 1h1m32 0h1m-55 1h1m3 0h1m15 1h1m14 0h1m-17 1h1m15 0h1m-18 1h1m34 0h1m-42 1h1m4 0h1m34 0h1m11 0h1m-14 1h1m8 0h1m-73 1h1m19 0h1m26 0h1m14 0h1m-67 1h1m4 0h1m28 0h3m14 0h1m13 0h1m-43 1h1m9 0h1m4 0h1m37 0h1m-53 2h1m16 0h1m-42 1h1m24 0h1m5 0h1m14 0h2m16 0h1m9 0h1m-74 1h1m29 0h1m38 0h1m-40 1h1m33 0h1m3 0h1m5 0h1m-58 1h3m4 0h1m40 0h1m1 0h1m-45 1h1m34 0h2m7 0h1m-7 1h1m1 0h1m-10 1h1m13 0h1m6 0h1m-63 1h1m39 0h1m21 0h1m-24 1h1m22 0h1m-64 1h1m21 0h1m17 0h1m23 0h1m-78 1h1m12 0h1m21 0h1m17 0h1m24 0h1m-77 1h1m10 0h1m20 0h1m35 0h1m-66 1h4m5 0h1m13 0h5m35 0h1m-74 1h1m13 0h2m4 0h1m5 0h1m-27 1h1m14 0h1m6 0h3m36 0h1m6 1h1m-84 1h6m11 0h1m65 0h1m18 0h1m-104 1h1m7 0h2m9 0h1m12 0h1m44 0h1m25 0h1m-105 1h1m10 0h2m91 0h1m-105 1h1m12 0h1m7 0h1m73 0h2m2 0h1m5 0h1m-93 1h2m17 0h1m55 0h1m3 0h2m6 0h1m-87 1h1m7 0h1m8 0h1m-18 1h1m10 0h1m3 0h1m69 0h1m-86 1h1m-1 1h1m-2 1h1m85 0h1m-87 1h1m-2 1h1m-13 1h1m11 0h1m62 0h1m28 0h3m-96 1h2m61 0h1m12 0h1m3 0h1m-19 1h1m-2 1h1m12 0h1m-14 1h1m-1 1h1m12 0h1m-14 1h1m12 0h1m-14 1h1m24 0h1m-26 1h1m0 1h1m-1 1h1m-1 1h1m-1 1h1m-2 1h1m-2 1h2m15 1h1m0 4h1m-2 3h1"/><path stroke="#ff3d00" d="M144 3h3m-2 1h3m-3 1h4m-37 1h3m34 0h1m-38 1h3m-2 1h2m-2 1h2m-1 1h2m37 0h1m-40 1h2m-1 1h2m37 0h1m-51 1h2m10 0h2m36 0h1m-52 1h1m1 0h2m10 0h2m35 0h1m-53 1h1m3 0h1m11 0h3m33 0h1m-53 1h1m3 0h1m12 0h4m-20 1h3m15 0h3m29 0h1m-33 1h3m-2 1h2m28 0h1m-31 1h2m-2 1h3m13 0h1m12 0h1m-30 1h3m-2 1h2m21 0h1m2 0h1m-27 1h1m-1 1h1m16 0h1m-18 1h1m17 0h1m-30 1h4m7 0h2m17 0h1m-32 1h1m3 0h1m8 0h1m18 0h1m-44 1h4m6 0h2m3 0h1m8 0h1m-27 1h1m7 0h6m2 0h1m10 0h1m-29 1h1m10 0h5m12 0h2m-17 1h1m15 0h1m16 0h1m-34 1h1m15 0h1m-2 1h1m16 1h1m-19 1h1m-32 1h1m14 0h1m15 0h1m-37 1h5m14 0h1m-2 1h1m34 0h1m-38 1h2m17 0h1m-25 1h1m23 0h1m26 0h2m-55 1h1m25 0h1m29 0h1m-59 1h1m-1 1h1m-2 1h1m11 0h1m2 0h1m13 0h1m12 0h1m-66 1h1m6 0h1m16 0h1m9 0h1m5 0h1m-34 1h1m16 0h1m8 0h1m7 0h1m9 0h1m-27 1h1m17 0h4m2 0h1m23 0h2m-70 1h1m20 0h1m38 0h1m-47 1h2m5 0h1m-9 1h1m3 0h2m1 0h1m7 0h1m32 0h1m-50 1h1m16 0h1m24 0h1m2 0h1m3 0h1m-51 1h1m18 0h1m21 0h1m6 0h1m5 0h1m-35 1h1m0 1h1m33 0h1m-58 1h1m22 0h1m15 0h1m18 0h1m-60 1h1m23 0h1m14 0h2m18 0h1m4 0h1m-81 1h1m15 0h1m23 0h1m15 0h1m18 0h2m4 0h1m-68 1h3m22 0h1m17 0h1m17 0h1m7 0h1m-85 1h1m13 0h5m10 0h1m1 0h2m5 0h1m20 0h1m14 0h1m-59 1h4m14 0h4m22 0h1m9 0h1m15 0h1m-71 1h1m3 0h2m-22 1h1m15 0h1m5 0h1m38 0h1m-79 1h2m6 0h2m8 0h1m14 0h1m44 0h1m-79 1h1m10 0h3m5 0h1m-7 1h2m5 0h1m12 0h1m61 0h3m-84 1h2m17 0h1m43 0h1m16 0h1m5 0h1m3 0h1m-90 1h1m5 0h1m67 0h3m14 0h1m-92 1h2m83 0h1m6 0h1m-93 1h2m7 0h1m5 0h1m-16 1h2m82 0h1m-101 1h1m15 0h1m83 0h1m-101 1h1m14 0h1m-16 1h1m14 0h1m61 0h1m23 0h1m-102 1h1m13 0h1m87 0h1m-103 1h1m13 0h1m-14 1h1m12 0h1m58 1h1m13 0h1m5 0h1m-22 1h1m21 0h1m-24 1h2m13 0h1m8 0h1m-25 1h2m23 0h1m-26 1h2m24 0h1m-26 1h1m14 0h1m-16 1h1m15 0h1m-16 1h1m15 0h1m-17 1h1m15 0h1m9 0h1m-27 1h1m15 0h1m-17 1h1m15 0h1m-18 1h1m16 0h1m-19 1h1m17 0h1m0 3h1m14 0h1m-16 1h1m-1 2h1m-1 1h1"/><path stroke="#ff2e00" d="M119 3h25m-27 1h21m3 0h4m-30 1h21m7 0h2m-30 1h21m8 0h5m-34 1h3m2 0h15m15 0h1m-36 1h3m3 0h7m4 0h2m17 0h1m-37 1h3m4 0h5m25 0h1m-37 1h2m4 0h5m-11 1h3m4 0h4m-10 1h2m3 0h5m-9 1h9m-23 1h1m14 0h8m-24 1h3m15 0h6m-24 1h3m17 0h4m26 0h1m-30 1h3m-3 1h4m-4 1h4m10 0h3m-17 1h8m6 0h1m3 0h1m-18 1h8m-8 1h8m5 0h1m11 0h1m-26 1h2m3 0h2m15 0h2m-25 1h3m12 0h1m-16 1h2m-2 1h2m-1 1h1m-14 1h3m10 0h1m-14 1h3m10 0h2m16 0h1m-39 1h1m6 0h2m12 0h1m16 0h1m-37 1h1m19 0h1m15 0h1m-36 1h2m17 0h1m-32 1h1m12 0h1m-1 1h1m16 0h1m15 0h1m-34 1h1m15 0h1m-32 1h1m13 0h1m-2 1h1m33 0h1m-55 1h1m5 0h1m12 0h1m17 0h1m16 0h1m-54 1h5m12 0h1m-16 1h2m10 0h2m36 0h1m-43 1h1m40 0h1m-46 1h3m41 0h1m-46 1h2m42 0h1m10 0h1m-56 1h2m41 0h1m11 0h1m-78 1h1m6 0h1m13 0h2m13 0h2m40 0h1m2 0h1m-61 1h3m28 0h1m11 0h1m-65 1h1m21 0h2m40 0h1m-58 1h1m16 0h1m8 0h1m8 0h1m7 0h1m13 0h1m-64 1h1m4 0h1m12 0h3m3 0h1m38 0h1m10 0h1m-58 1h1m2 0h2m2 0h1m7 0h1m31 0h1m-42 1h1m40 0h1m4 0h1m5 0h1m-19 1h1m4 0h1m1 0h1m4 0h1m-56 2h1m21 0h1m-24 1h1m23 0h1m14 0h2m-42 1h1m24 0h2m10 0h3m23 0h1m-79 1h2m12 0h1m25 0h3m8 0h3m21 0h4m-75 1h1m8 0h2m25 0h2m10 0h3m21 0h4m-82 1h1m7 0h1m4 0h2m26 0h2m14 0h1m19 0h1m-48 1h1m8 0h2m34 0h2m8 0h1m-87 1h1m27 0h1m5 0h1m4 0h2m31 0h1m-73 1h1m17 0h3m5 0h1m8 0h4m10 0h1m20 0h1m16 0h1m-104 1h9m6 0h2m17 0h5m1 0h1m24 0h1m-67 1h1m10 0h8m16 0h2m1 0h3m-41 1h1m14 0h5m15 0h6m-41 1h1m15 0h2m17 0h6m46 0h1m7 0h1m3 0h1m4 0h1m-105 1h1m16 0h1m3 0h1m13 0h1m3 0h3m46 0h1m4 0h2m7 0h3m-105 1h1m16 0h2m2 0h1m12 0h1m67 0h1m3 0h1m-107 1h1m17 0h1m3 0h1m10 0h1m-34 1h1m17 0h1m5 0h1m7 0h1m68 0h1m6 0h1m-109 1h1m17 0h1m-2 1h2m-3 1h2m59 0h1m-62 1h1m30 0h1m-33 1h2m59 0h1m30 0h1m-93 1h1m59 0h1m-76 1h1m14 0h1m58 0h1m14 0h3m-20 1h1m-2 1h1m-2 1h1m-1 1h1m-1 1h1m16 0h1m-18 1h2m-1 1h1m17 0h1m8 0h1m-27 1h1m-1 1h1m-1 1h1m-2 1h2m-4 1h3m-2 1h1m19 2h1m13 1h1m1 0h1m-17 5h1"/><path stroke="#ff1f00" d="M138 4h3m-5 1h7m-7 1h8m-26 1h2m15 0h4m3 0h8m-32 1h3m7 0h4m2 0h4m-20 1h4m5 0h10m-19 1h4m5 0h9m-17 1h4m4 0h8m18 0h1m-35 1h3m5 0h7m-7 1h6m-6 1h6m-6 1h5m21 0h1m-27 1h6m-6 1h6m4 0h1m14 0h1m-25 1h12m12 0h1m-25 1h10m-6 1h6m13 0h1m-19 1h2m2 0h1m-5 1h1m3 0h1m7 0h1m-19 1h3m2 0h1m5 0h1m-12 1h4m-5 1h2m-2 1h2m-2 1h1m-1 1h1m0 1h1m-29 1h1m4 0h1m22 0h1m-30 1h1m7 0h1m-10 1h1m9 0h1m0 1h1m18 0h1m14 0h1m-35 1h1m18 0h1m-33 1h1m12 0h1m17 0h1m-20 1h1m17 0h1m15 0h1m-48 1h1m11 0h1m18 0h1m-40 1h1m18 0h1m-19 1h1m5 0h1m10 0h1m19 0h1m15 0h1m-53 1h2m2 0h2m7 0h1m22 0h1m14 0h1m-51 1h9m26 0h1m-36 1h5m30 0h1m24 0h1m-73 1h1m12 0h3m31 0h1m-54 1h1m6 0h1m11 0h3m31 0h1m28 0h1m-64 1h2m32 0h1m10 0h1m-88 1h1m41 0h2m14 0h1m3 0h1m-64 1h2m41 0h3m18 0h1m11 0h1m-53 1h1m17 0h6m17 0h1m9 0h1m11 0h1m-46 1h1m3 0h3m8 0h1m38 0h1m-50 1h2m39 0h1m6 0h1m-55 1h1m42 0h5m-49 1h1m47 0h1m-29 1h1m1 1h1m16 0h1m15 0h1m-33 1h3m8 0h3m19 0h1m3 0h1m-65 1h1m27 0h2m7 0h1m23 0h3m-105 1h2m27 0h1m10 0h1m29 0h2m5 0h1m-78 1h2m37 0h1m29 0h4m3 0h3m-45 1h4m30 0h14m21 0h3m2 0h1m-85 1h1m41 0h10m7 0h1m18 0h1m-46 1h1m7 0h11m21 0h5m-94 1h7m8 0h1m34 0h1m4 0h2m5 0h3m1 0h2m9 0h1m-80 1h2m9 0h6m26 0h1m9 0h5m7 0h2m1 0h1m36 0h1m-106 1h1m37 0h1m3 0h1m11 0h3m10 0h1m37 0h1m-106 1h1m41 0h1m53 0h3m6 0h1m-87 1h3m20 0h1m52 0h1m5 0h2m1 0h1m-86 1h3m15 0h3m3 0h1m10 0h2m-36 1h2m14 0h8m9 0h3m48 0h3m-87 1h3m12 0h1m16 0h4m22 0h1m24 0h1m4 0h1m-89 1h5m9 0h1m17 0h4m22 0h1m-59 1h2m7 0h4m18 0h5m22 0h1m23 0h1m-83 1h1m27 0h6m24 0h1m-60 1h2m26 0h5m50 0h1m-103 1h1m17 0h2m27 0h1m1 0h2m26 0h1m-119 1h2m39 0h1m17 0h2m28 0h2m54 0h1m-145 1h1m39 0h1m16 0h2m56 0h1m-76 1h1m16 0h2m54 0h2m-4 1h2m16 0h1m-20 1h2m16 0h1m-19 1h1m17 0h1m-20 1h2m17 0h1m7 0h1m-28 1h2m26 0h1m-29 1h2m18 0h1m8 0h1m-30 1h3m-3 1h4m-4 1h4m-5 1h5m27 0h1m-32 1h3m29 1h1m-11 2h1m0 3h1m-1 1h1m-1 1h1m-1 1h1m-2 2h1"/><path stroke="#ff1200" d="M139 7h3m-4 1h9m3 0h1m-14 1h4m-5 1h3m-4 1h3m-4 1h4m15 0h1m-21 1h4m16 0h1m-21 1h5m15 0h1m-22 1h6m-5 1h6m13 0h1m-20 1h4m1 0h2m0 1h1m0 1h1m-7 2h2m13 0h1m-17 1h3m12 0h1m-17 1h1m-3 1h2m-5 1h3m-3 1h1m-2 1h2m-2 1h1m14 0h1m-15 1h1m-29 1h4m24 0h1m-24 1h1m22 0h1m-23 1h1m21 0h1m13 0h1m-46 1h1m9 0h1m20 0h1m-33 1h1m10 0h1m-1 1h1m-2 1h1m19 0h1m-42 2h1m8 0h1m9 0h1m20 0h1m14 0h1m-55 1h1m7 0h1m8 0h1m-17 1h1m6 0h1m5 0h1m-13 1h1m49 0h1m-62 1h1m10 0h1m48 0h1m-50 1h2m46 0h1m16 0h1m-66 1h2m-2 1h2m60 0h2m-105 1h1m1 0h1m29 0h1m8 0h2m17 0h1m1 0h1m14 0h1m9 0h1m-86 1h1m29 0h1m9 0h1m15 0h1m28 0h1m-88 1h2m22 1h1m6 0h1m9 0h1m23 0h5m16 0h2m9 0h1m-72 1h3m12 0h1m43 0h3m-30 1h1m24 0h1m-25 1h1m40 0h1m-62 1h1m21 0h1m18 0h1m14 0h1m4 0h1m-63 1h1m24 0h3m10 0h3m21 0h1m-64 1h1m28 0h1m6 0h1m25 0h1m-105 1h1m39 0h1m30 0h2m4 0h1m-79 1h1m2 0h1m23 0h1m12 0h1m32 0h5m-78 1h1m2 0h1m22 0h1m12 0h1m34 0h3m-77 1h4m103 0h2m-107 1h1m74 0h7m20 0h2m4 0h1m-98 1h1m10 0h1m29 0h1m2 0h1m19 0h2m6 0h1m17 0h1m7 0h1m-106 1h3m7 0h3m4 0h1m28 0h1m13 0h5m6 0h1m18 0h1m5 0h2m-98 1h1m52 0h1m5 0h7m4 0h2m17 0h1m-90 1h1m43 0h1m9 0h1m3 0h3m4 0h3m1 0h2m26 0h2m-99 1h1m43 0h1m9 0h6m29 0h1m6 0h1m3 0h1m-100 1h1m42 0h1m9 0h5m21 0h1m14 0h1m8 0h1m-52 1h2m2 0h2m32 0h1m2 0h1m-50 1h1m7 0h1m3 0h2m20 0h1m-43 1h2m2 0h4m7 0h1m4 0h1m47 0h1m2 0h1m-73 1h1m13 0h3m4 0h1m-35 1h2m4 0h1m4 0h1m13 0h4m5 0h1m52 0h1m-89 1h1m25 0h1m6 0h2m46 0h1m-103 1h1m20 0h1m30 0h3m-96 1h2m59 0h2m29 0h2m50 0h1m-143 1h1m58 0h1m26 0h1m2 0h2m24 0h1m28 0h3m-149 1h1m1 0h1m37 0h1m19 0h2m27 0h2m24 0h1m-116 1h2m38 0h1m19 0h2m50 0h2m-3 1h1m22 0h1m-25 1h1m24 0h1m-27 1h2m25 0h1m-28 1h1m-1 1h1m-2 1h2m-2 1h2m-2 1h2m22 0h1m-25 1h2m22 0h1m-1 1h1m-1 3h1m11 2h1m-12 1h1m11 0h1m-13 5h1m-1 1h1"/><path stroke="#ff0600" d="M147 8h3m-9 1h5m5 0h1m-13 1h4m9 0h1m-15 1h3m-3 1h2m-3 1h3m-2 1h1m-1 1h2m12 0h1m-14 1h1m11 3h1m-8 2h1m-11 2h1m2 0h1m0 1h1m-8 1h1m7 0h1m-11 1h2m9 0h1m-12 1h1m11 0h1m-14 1h1m13 1h1m-1 1h1m-44 1h1m4 0h1m37 0h1m-45 1h1m6 0h1m0 1h1m-1 1h1m21 0h1m-23 1h1m20 0h1m13 0h1m-47 1h1m9 1h1m34 0h1m-57 1h1m0 1h1m16 0h1m22 0h1m13 0h1m-54 1h1m8 0h1m3 0h1m38 0h1m-52 1h1m49 0h1m-51 1h1m-10 1h1m8 0h1m-18 1h1m16 0h1m47 0h1m-89 1h3m20 0h1m8 0h1m7 0h1m-42 1h1m23 0h1m16 0h1m20 0h1m-63 1h1m3 0h1m19 0h1m17 0h1m21 0h1m22 0h1m-85 1h1m29 0h1m8 0h1m16 0h1m5 0h1m11 0h1m9 0h1m-17 1h5m10 0h1m12 0h1m-74 1h1m3 0h1m35 0h3m16 0h1m14 0h1m-60 1h1m25 0h1m15 0h1m12 0h1m-31 1h1m15 0h1m13 0h1m-34 1h5m-30 1h1m28 0h1m7 0h2m20 0h1m-61 1h1m30 0h1m4 0h1m24 0h2m-105 1h1m1 0h1m25 0h2m10 0h1m33 0h4m-79 1h1m31 0h1m-33 1h1m4 0h1m28 0h1m4 0h1m-35 1h1m20 0h1m-26 1h2m1 0h3m18 0h1m81 0h1m-105 1h11m1 0h4m5 0h1m31 0h2m22 0h2m3 0h1m19 0h1m-101 1h2m13 0h4m35 0h1m19 0h2m21 0h1m2 0h1m-101 1h2m45 0h1m26 0h1m7 0h1m15 0h3m-100 1h1m53 0h1m7 0h4m6 0h1m17 0h1m6 0h1m2 0h1m-47 1h1m6 0h11m30 0h1m3 0h1m-106 1h1m44 0h1m7 0h1m5 0h2m-60 1h1m43 0h1m6 0h1m6 0h1m32 0h2m-93 1h1m44 0h1m4 0h2m6 0h1m-21 1h2m4 0h3m1 0h3m6 0h1m47 0h2m-71 1h1m7 0h5m8 0h1m45 0h1m4 0h1m-85 1h4m6 0h1m11 0h1m-47 1h1m21 0h1m8 0h2m13 0h1m9 0h1m-35 1h1m23 0h1m8 0h1m21 0h1m-120 1h1m2 0h1m37 0h1m46 0h1m6 0h2m53 0h1m-151 1h1m3 0h1m36 0h1m21 0h1m30 0h1m22 0h1m-118 1h1m3 0h1m35 0h1m22 0h1m25 0h1m2 0h2m20 0h2m-116 1h1m2 0h1m36 0h1m22 0h1m27 0h1m20 0h1m-3 1h2m20 0h1m1 0h1m-25 1h1m20 0h1m-23 1h1m-2 1h2m-1 1h1m21 0h1m0 1h1m0 1h1m7 1h1m-9 3h1m-1 1h1m0 3h1m13 2h2m-15 1h1m-1 1h1m-1 1h1m-1 1h1"/><path stroke="#fc0000" d="M146 9h1m-4 1h2m-4 1h2m9 0h1m-13 1h2m-2 1h1m-2 1h2m11 0h1m-13 2h1m-1 1h1m10 0h1m-1 1h1m-9 2h1m2 2h1m1 0h1m-14 1h2m-4 1h1m-2 1h1m-4 3h1m-1 1h1m-1 1h1m-30 1h1m2 0h1m25 0h1m-1 1h1m-1 1h1m11 1h1m-46 1h1m31 0h1m-24 1h1m21 0h1m12 0h1m-46 1h1m8 0h1m21 0h1m-24 1h1m35 0h1m-45 1h1m5 0h1m36 0h1m-54 1h1m10 0h3m26 0h1m-40 1h1m38 0h1m-48 1h1m7 0h1m38 0h1m10 0h1m13 0h1m1 0h1m-67 1h1m38 0h1m23 0h1m-103 1h2m30 0h1m6 0h1m38 0h1m23 0h1m-104 1h1m3 0h1m35 0h1m38 0h1m8 0h1m-85 1h1m29 0h1m44 0h1m7 0h1m-54 1h1m6 0h1m18 0h1m2 0h1m14 0h1m7 0h1m-87 1h1m3 0h1m19 0h1m16 0h1m44 0h1m-86 1h3m29 0h1m7 0h1m17 0h1m5 0h1m10 0h1m8 0h1m-61 1h1m5 0h1m9 0h1m17 0h1m9 0h1m14 0h1m12 0h1m-33 1h2m1 0h1m-29 1h1m20 0h1m2 0h2m1 0h1m-29 1h1m28 0h1m7 0h5m-44 1h1m30 0h1m5 0h1m25 0h1m-106 1h2m39 0h1m32 0h2m1 0h1m-79 1h1m3 0h1m23 0h1m2 0h1m-27 1h1m21 0h1m12 0h1m-35 1h1m19 0h1m11 0h1m-39 1h1m5 0h2m-8 1h1m6 0h11m90 0h3m-109 1h1m16 0h2m2 0h1m58 0h3m21 0h1m-104 1h2m53 0h1m22 0h1m4 0h1m11 0h1m1 0h2m4 0h1m5 0h1m-109 1h1m54 0h1m20 0h1m21 0h1m3 0h1m-102 1h1m46 0h1m6 0h1m19 0h1m7 0h1m14 0h1m9 0h1m-107 1h1m45 0h1m6 0h1m18 0h2m7 0h1m14 0h1m6 0h1m1 0h1m-53 1h1m8 0h4m2 0h4m19 0h1m3 0h1m-49 1h1m4 0h1m8 0h2m17 0h1m-33 1h1m2 0h1m9 0h1m-60 1h1m46 0h1m10 0h1m-59 1h1m36 0h2m1 0h4m14 0h1m48 0h1m-108 1h1m34 0h1m9 0h1m11 0h1m45 0h1m4 0h1m-86 1h1m6 0h1m2 0h2m10 0h1m11 0h1m19 0h1m-120 1h4m94 0h1m46 0h1m4 0h1m-152 1h1m4 0h1m59 0h1m32 0h1m20 0h1m27 0h1m-148 1h1m40 0h1m23 0h1m23 0h1m6 0h2m19 0h1m-118 1h1m39 0h1m24 0h1m29 0h2m15 0h3m-115 1h1m4 0h1m34 0h1m24 0h1m24 0h2m1 0h3m15 0h2m-3 1h1m23 0h1m-26 1h2m-3 1h2m22 1h1m5 0h1m0 1h1m0 1h1m0 1h1m1 4h1m-9 3h1m9 0h1m-10 3h1m11 0h1m2 0h1m-16 5h1"/><path stroke="#f70000" d="M147 9h2m1 0h1m-6 1h2m-4 1h2m-3 1h1m9 0h1m-12 1h1m10 0h1m-12 1h1m-2 1h1m10 1h1m-11 2h1m0 1h1m7 1h1m-4 2h1m-14 2h1m2 0h1m-7 2h1m-2 1h1m-1 1h1m10 0h1m-41 3h2m-4 1h1m4 0h1m-7 1h1m6 0h1m35 0h1m-45 1h1m7 0h1m23 0h1m-25 1h1m-2 1h1m-2 1h1m35 0h1m-45 1h1m6 0h1m23 0h1m-43 1h1m15 0h1m36 1h1m-53 1h1m50 0h1m-90 2h2m30 0h1m55 0h1m-90 1h1m2 0h2m34 0h1m-41 1h1m23 0h1m10 0h1m4 0h1m-41 1h1m5 0h1m17 0h1m16 0h1m-42 1h1m5 0h1m34 0h1m20 0h2m22 0h1m-52 1h1m29 0h1m20 0h1m-86 1h1m3 0h1m19 0h1m52 0h1m6 0h1m-83 1h2m28 0h1m32 0h1m-26 1h1m19 0h1m1 1h2m4 0h1m12 0h1m-44 1h1m36 0h1m21 0h1m-62 1h1m32 0h1m28 0h1m-105 1h1m2 0h2m24 0h1m11 0h1m35 0h1m-79 1h1m5 0h1m21 0h1m12 0h1m-42 1h1m6 0h1m26 0h1m5 0h1m-41 1h1m7 0h1m27 0h1m-37 1h1m8 0h3m2 0h4m8 0h1m-8 1h2m4 0h1m-25 1h2m19 0h2m84 0h1m3 0h1m-111 1h2m51 0h1m27 0h1m16 0h1m-97 1h1m49 0h1m27 0h1m15 0h1m3 0h1m10 0h1m-110 1h2m75 0h1m26 0h1m-103 1h1m74 0h1m29 0h1m-105 1h1m46 0h1m4 0h1m13 0h2m4 0h2m-73 1h1m46 0h1m2 0h1m11 0h2m-16 1h2m11 0h1m-2 1h1m17 0h1m-39 1h1m19 0h1m17 0h1m26 0h1m-69 1h1m7 0h1m13 0h1m18 0h1m-54 1h1m4 0h1m5 0h1m67 0h1m4 0h1m-152 1h1m41 0h1m23 0h1m7 0h3m11 0h1m11 0h1m-102 1h1m41 0h1m24 0h1m32 0h1m18 0h1m31 0h1m-152 1h1m6 0h1m33 0h1m25 0h1m31 0h2m12 0h5m-118 1h1m6 0h1m32 0h1m26 0h1m22 0h1m7 0h2m12 0h1m-113 1h1m6 0h1m31 0h2m26 0h1m29 0h2m12 0h1m-2 1h1m-2 1h1m27 0h1m-31 1h2m24 0h1m4 0h1m-5 2h1m0 1h1m0 2h1m6 1h1m-8 4h1m0 3h1m0 3h1m-1 1h1m-1 1h1"/><path stroke="#ef0004" d="M149 9h1m-3 1h1m3 0h1m-7 1h1m-3 1h2m-3 1h1m-2 2h1m9 0h1m-11 1h1m-1 1h1m8 2h1m-2 2h1m-15 3h2m-4 1h1m-2 1h1m-2 1h1m-2 2h1m-1 1h1m-1 1h1m-1 1h1m10 0h1m-12 1h1m-27 2h1m24 0h1m10 0h1m-45 1h1m31 0h1m-2 1h1m-27 1h1m36 0h1m-56 1h1m12 0h2m1 0h1m26 0h1m10 0h1m-54 1h1m0 2h1m49 0h1m15 0h1m-107 1h2m2 0h2m34 0h1m40 0h1m-82 1h1m23 0h1m10 0h1m45 0h1m7 0h1m-91 1h1m6 0h1m32 0h1m41 0h1m6 0h1m-90 1h1m36 0h1m3 0h1m40 0h1m5 0h1m-64 1h1m11 0h1m3 0h1m39 0h1m4 0h1m-86 1h1m5 0h1m17 0h1m16 0h1m19 0h1m17 0h1m5 0h1m-80 1h1m28 0h1m5 0h1m23 0h1m-64 1h1m2 0h1m19 0h1m8 0h1m6 0h1m23 0h1m5 0h1m3 0h3m6 0h1m14 0h2m-75 1h3m36 0h1m4 0h1m6 0h1m5 0h1m14 0h1m2 0h1m-62 1h1m29 0h1m6 0h2m19 0h1m-61 1h1m31 0h1m4 0h1m25 0h1m-106 1h2m38 0h1m34 0h4m25 0h1m-107 1h1m5 0h1m22 0h1m1 0h1m-25 1h1m-9 1h1m8 0h1m18 0h1m-29 1h1m9 0h1m5 0h3m8 0h1m10 0h2m-27 1h2m4 0h2m-20 1h1m20 0h1m2 0h1m-24 2h1m54 0h1m1 0h1m25 0h3m21 0h1m-107 1h2m55 0h1m23 0h1m24 0h1m-106 1h1m55 0h1m22 0h1m19 0h1m6 0h1m-106 1h2m48 0h1m4 0h1m38 0h1m3 0h1m-97 1h1m74 0h1m5 0h1m11 0h1m1 0h1m-95 1h1m48 0h2m14 0h9m-73 1h1m61 0h2m14 0h1m-18 1h2m-2 1h1m44 0h2m-70 1h1m4 0h2m15 0h1m-102 1h4m37 0h1m25 0h1m2 0h1m7 0h1m7 0h1m13 0h1m-103 1h1m5 0h1m35 0h1m25 0h1m5 0h1m3 0h1m41 0h1m-122 1h1m7 0h1m33 0h1m33 0h3m11 0h1m11 0h1m11 0h6m30 0h2m-153 1h2m39 0h2m60 0h1m10 0h1m-115 1h2m39 0h1m28 0h1m31 0h2m8 0h2m-115 1h3m38 0h1m29 0h1m21 0h1m8 0h3m7 0h2m-3 1h2m-3 1h2m25 0h1m3 2h1m0 1h1m0 1h1m-5 1h1m-1 2h1m-1 1h1m-1 2h1m8 1h1m-9 2h1m0 3h1m11 0h2m-14 4h1m-1 1h1m-5 7h1m-2 1h1m-2 1h1m-2 1h1"/><path stroke="#e5000c" d="M150 10h1m-5 1h1m4 0h1m-7 1h1m-3 1h1m-2 1h1m8 0h1m-2 4h1m-6 3h1m-12 4h1m3 0h1m0 1h1m0 1h1m-10 1h1m9 1h1m-1 1h1m-1 1h1m-42 1h1m2 0h1m-5 1h1m4 0h1m-7 1h1m5 0h1m25 0h1m9 0h1m-44 1h1m5 1h1m35 0h1m-44 1h1m5 0h1m-7 1h1m3 0h1m26 0h1m-46 1h1m15 0h1m-16 1h1m42 0h1m9 0h1m-58 1h1m4 0h1m41 0h1m-82 1h6m28 0h1m4 0h1m41 0h1m-83 1h1m6 0h1m28 0h1m3 0h1m49 0h1m-91 1h1m6 0h1m32 0h1m65 0h1m1 0h1m-101 1h1m28 0h3m43 0h1m-76 1h1m29 0h3m42 0h1m3 0h1m-88 1h1m7 0h1m29 0h1m1 0h1m41 0h1m2 0h1m-86 1h1m7 0h1m28 0h1m3 0h1m23 0h1m15 0h1m3 0h1m-85 1h1m23 0h1m36 0h1m17 0h1m4 0h1m-84 1h1m4 0h1m17 0h1m10 0h1m25 0h1m10 0h3m3 0h1m-77 1h3m20 0h1m3 0h5m6 0h1m21 0h1m1 0h1m6 0h1m4 0h1m1 0h1m-40 1h1m36 0h1m2 0h3m19 0h1m-66 1h2m33 0h1m-78 1h2m2 0h2m23 0h3m-25 1h1m20 0h1m3 0h1m8 0h1m-43 1h1m8 0h1m18 0h1m5 0h1m-25 1h1m6 0h2m8 0h1m-17 1h5m3 0h2m-21 1h1m20 0h1m4 0h1m-27 1h1m22 0h2m-24 1h1m108 0h3m-112 1h1m56 0h1m54 0h1m-112 1h1m85 0h1m11 0h1m1 0h1m-100 1h1m51 0h1m28 0h1m14 0h1m13 0h1m-111 1h2m78 0h1m-80 1h3m49 0h1m2 0h1m23 0h1m17 0h1m-95 1h1m74 0h2m3 0h1m-15 1h2m3 0h5m-74 1h1m62 0h1m-2 1h1m-63 1h1m38 0h4m18 0h1m43 0h1m2 0h1m-152 1h2m4 0h1m63 0h2m31 0h1m-106 1h2m7 0h1m33 0h1m31 0h1m5 0h1m22 0h1m10 0h3m32 0h1m2 0h1m-156 1h3m40 0h2m27 0h1m5 0h1m3 0h1m23 0h1m9 0h1m-117 1h2m10 0h1m29 0h1m29 0h1m6 0h4m10 0h1m12 0h1m7 0h2m-116 1h2m10 0h1m28 0h2m36 0h3m11 0h1m12 0h1m6 0h1m-114 1h1m11 0h1m28 0h1m31 0h2m3 0h3m25 0h1m5 0h1m-4 1h3m27 1h2m-3 1h1m2 0h1m-4 1h1m0 1h1m2 0h1m-3 1h1m4 1h1m0 1h1m-7 3h1m10 5h1m-10 1h1m9 0h1m0 1h1m2 0h1m-14 2h1m-1 1h1m-1 1h1m-1 1h1m-3 4h1m-3 3h1m-2 1h1m-2 1h1m-2 1h1m-2 1h1"/><path stroke="#da0016" d="M148 10h2m-3 1h1m-2 1h1m4 0h1m-8 1h1m6 0h1m-9 1h1m-2 1h1m7 0h1m-1 1h1m-1 1h1m-9 1h1m-10 8h1m-2 1h1m-2 2h1m-1 1h1m-1 1h1m-31 1h2m0 3h1m26 0h1m-34 1h1m4 0h1m26 0h1m-29 1h1m26 0h1m9 0h1m-2 1h1m-2 1h1m-57 1h1m1 0h1m-39 1h2m89 0h1m-93 1h2m6 0h1m28 0h1m-38 1h1m8 0h1m30 0h1m66 0h1m1 0h1m-110 1h1m8 0h1m15 0h1m12 0h3m43 0h1m5 0h1m-91 1h1m24 0h1m63 0h1m-90 1h1m24 0h1m59 0h3m-88 1h1m9 0h1m14 0h1m14 0h1m43 0h2m-61 1h1m13 0h1m1 0h1m22 0h2m17 0h1m1 0h1m-85 1h1m7 0h1m28 0h1m3 0h1m23 0h1m18 0h1m-84 1h1m6 0h1m32 0h1m23 0h1m14 0h1m3 0h1m-83 1h1m3 0h2m17 0h1m9 0h2m27 0h1m11 0h1m3 0h1m2 0h1m-81 1h3m19 0h3m8 0h4m32 0h1m3 0h1m-81 1h3m25 0h3m9 0h1m36 0h3m24 0h2m-108 1h1m6 0h3m19 0h1m12 0h1m-43 1h1m8 0h1m18 0h1m-30 1h1m10 0h1m6 0h2m8 0h1m13 0h1m-43 1h1m11 0h2m1 0h3m2 0h2m15 0h1m3 0h1m-42 1h1m21 0h1m4 0h1m-28 1h1m22 0h4m-27 1h1m0 1h1m-1 1h1m109 0h1m-110 1h1m54 0h1m2 0h1m25 0h1m15 0h1m8 0h1m2 0h1m-113 1h2m56 0h1m42 0h1m8 0h2m-111 1h1m53 0h1m2 0h1m24 0h1m3 0h1m13 0h1m-101 1h2m53 0h2m25 0h1m-82 1h4m77 0h1m-77 1h1m66 0h3m5 0h1m2 0h1m-14 1h1m4 0h5m3 0h1m-78 1h1m62 0h1m6 0h3m4 0h1m-125 1h10m99 0h1m8 0h2m4 0h1m28 0h2m-155 1h4m42 0h1m38 0h1m5 0h1m16 0h1m8 0h3m4 0h1m27 0h1m2 0h1m-156 1h2m39 0h4m28 0h1m10 0h1m7 0h1m14 0h1m8 0h1m3 0h4m-112 1h1m28 0h2m40 0h1m23 0h1m6 0h2m-76 1h2m31 0h1m4 0h1m34 0h1m-101 1h1m26 0h1m32 0h1m3 0h2m3 0h1m24 0h1m4 0h1m-100 1h1m25 0h2m34 0h3m3 0h2m10 0h1m13 0h5m29 4h1m-2 1h2m-1 1h3m-3 1h1m5 3h1m-7 4h1m0 2h1m0 3h1m-1 5h1m-1 1h1m-2 1h1m-1 1h1m-2 1h1m-2 2h1m-2 1h1m-2 1h1m-2 1h2m-3 1h2m-3 1h2"/><path stroke="#ce0022" d="M148 11h1m-2 1h1m-3 1h1m4 1h1m-9 2h1m-1 1h1m6 3h1m-2 1h1m-14 4h3m-7 7h1m-32 1h1m2 0h1m27 0h1m8 0h1m-42 1h1m3 0h1m27 0h1m-34 1h1m40 0h1m-39 1h1m36 0h1m-39 1h1m36 0h1m-41 1h3m36 0h1m-10 1h1m-47 1h1m53 0h1m-97 1h1m40 0h1m2 0h1m-44 1h3m9 0h2m29 0h1m50 0h1m-95 1h3m10 0h1m27 0h2m44 0h1m-87 1h2m10 0h1m97 0h1m-111 1h2m10 0h1m74 0h4m-90 1h1m10 0h1m-12 1h1m0 1h1m9 0h1m29 0h1m43 0h1m-85 1h1m9 0h1m14 0h1m13 0h1m1 0h1m40 0h1m1 0h1m-84 1h1m8 0h1m14 0h1m12 0h1m25 0h2m-64 1h1m6 0h2m14 0h1m12 0h2m1 0h1m32 0h1m1 0h1m5 0h2m17 0h2m-107 1h3m3 0h2m3 0h2m16 0h1m3 0h1m6 0h1m37 0h1m1 0h1m24 0h1m-107 1h2m3 0h7m17 0h1m3 0h1m-35 1h1m10 0h1m17 0h1m4 0h1m-35 1h1m10 0h2m4 0h4m7 0h1m13 0h1m-44 1h1m12 0h1m3 0h2m2 0h2m-23 1h1m14 0h1m7 0h1m4 0h1m-30 1h2m23 0h1m2 0h1m-29 1h2m-2 1h2m-1 1h2m-1 1h1m111 0h2m-114 1h2m57 0h1m27 0h2m-88 1h1m55 0h1m28 0h1m2 0h1m11 0h1m-100 1h1m55 0h2m26 0h1m14 0h2m-101 1h1m83 0h1m1 0h1m-87 1h2m82 0h2m-86 1h7m76 0h2m-123 1h2m37 0h3m3 0h1m65 0h4m5 0h3m-124 1h8m32 0h3m68 0h1m4 0h1m3 0h1m-111 1h1m29 0h3m3 0h1m63 0h1m5 0h2m2 0h1m-110 1h1m28 0h6m40 0h1m3 0h1m18 0h1m5 0h2m3 0h2m-110 1h1m26 0h2m35 0h1m31 0h1m5 0h2m37 0h2m-116 1h2m32 0h1m3 0h1m6 0h1m7 0h1m19 0h2m-101 1h1m25 0h1m37 0h1m5 0h1m23 0h2m2 0h2m-75 1h2m34 0h3m6 0h1m24 0h4m-98 1h1m23 0h1m44 0h1m55 3h2m-2 1h1m4 3h1m-4 1h1m6 4h1m-8 1h1m1 5h1m8 0h1m0 1h3m-12 2h1m-1 1h1m-1 1h1m-1 1h1m-2 2h1m-1 1h1m-2 1h1m-2 1h2m-2 1h1m-2 1h1m-2 1h2m-2 1h1m-2 1h1m-2 1h1m-2 1h2"/><path stroke="#c0002f" d="M149 11h2m-3 1h1m1 0h1m-5 1h1m3 0h1m-7 1h1m-2 1h1m-1 4h1m0 1h1m1 1h1m-13 5h1m-2 1h1m-2 1h1m7 0h1m-1 4h1m-40 1h2m-3 1h1m1 0h1m-4 1h4m28 0h1m-34 1h3m29 0h1m-34 1h3m29 0h1m-2 1h1m6 0h1m-1 1h1m-9 1h1m-90 1h1m42 0h2m51 0h1m-105 1h10m41 0h2m44 0h1m-99 1h5m1 0h5m14 0h1m78 0h1m17 0h1m-122 1h2m5 0h4m13 0h1m12 0h1m60 0h1m3 0h1m-94 1h2m13 0h1m12 0h1m-28 1h2m12 0h1m12 0h1m-28 1h2m12 0h1m12 0h1m-28 1h3m11 0h1m12 0h1m-28 1h3m11 0h1m12 0h1m15 0h1m23 0h2m17 0h1m-89 1h6m10 0h1m12 0h1m14 0h3m40 0h3m-90 1h5m1 0h1m9 0h2m11 0h1m15 0h1m34 0h1m-82 1h2m3 0h3m7 0h4m10 0h2m5 0h1m4 0h1m39 0h1m26 0h1m-110 1h2m12 0h8m7 0h2m5 0h1m6 0h1m-44 1h1m12 0h11m4 0h2m13 0h1m-45 1h2m13 0h4m4 0h2m4 0h1m7 0h1m-38 1h1m14 0h3m6 0h2m3 0h1m8 0h1m4 0h1m-45 1h2m24 0h1m2 0h1m11 0h1m1 0h1m-45 1h2m26 0h2m-30 1h2m-2 1h2m-1 1h2m-1 1h2m-1 1h1m58 0h1m53 0h2m-114 1h1m57 0h2m27 0h2m13 0h1m-103 1h2m86 0h1m-89 1h2m85 0h1m-87 1h1m-35 1h1m33 0h1m-36 1h5m30 0h2m3 0h3m-38 1h2m28 0h2m3 0h2m1 0h1m65 0h4m5 0h3m-86 1h2m3 0h3m65 0h5m5 0h3m-112 1h1m25 0h2m47 0h1m22 0h5m7 0h2m29 0h2m-142 1h1m24 0h1m35 0h2m9 0h1m5 0h1m17 0h5m-101 1h1m24 0h1m35 0h1m1 0h1m31 0h4m-98 1h1m22 0h2m35 0h3m7 0h1m7 0h1m16 0h2m-97 1h1m21 0h2m54 0h1m-78 1h1m20 0h2m54 0h1m47 4h1m1 3h2m-3 2h1m4 0h1m-6 3h1m0 3h1m7 0h1m-7 5h1m0 1h1m-1 1h1m-1 1h1m-1 1h1m-2 1h1m-1 1h1m-1 1h1m-2 1h1m-1 1h1m-2 1h1m-2 1h1m-1 1h1m-2 1h1m-2 1h2m-3 1h2"/><path stroke="#b0003d" d="M149 12h1m-3 1h3m-5 1h1m3 0h1m-1 1h1m-1 1h1m-1 3h1m-3 2h1m-10 5h1m0 1h1m-8 2h1m7 0h1m-9 1h1m-1 1h1m7 0h1m-9 1h1m-1 1h1m-32 1h1m30 0h1m6 0h1m-8 1h1m-2 1h1m5 0h1m-8 1h1m4 0h2m-3 2h1m-1 1h1m-8 1h1m-101 2h2m5 0h1m20 0h1m-28 1h2m2 0h5m18 0h1m73 0h1m1 0h1m-104 1h11m16 0h1m-25 1h9m15 0h1m-21 1h5m15 0h1m-20 1h4m15 0h1m-20 1h4m15 0h1m-20 1h2m17 0h2m9 0h1m-31 1h2m5 0h1m12 0h2m8 0h1m-31 1h1m19 0h3m6 0h1m8 0h1m2 0h1m-43 1h1m22 0h4m1 0h2m-30 1h1m24 0h4m8 0h1m-39 1h1m25 0h4m-31 1h2m26 0h3m-31 1h1m27 0h2m13 0h1m-45 1h1m-1 1h1m-1 1h1m-1 1h2m-1 1h2m-1 1h2m-1 1h2m-2 1h2m87 0h1m-89 1h1m-1 1h2m-33 1h3m28 0h2m-30 1h1m27 0h2m-28 1h1m25 0h2m7 0h1m-35 1h1m24 0h2m-2 1h2m50 0h2m-54 1h2m-24 1h1m21 0h2m37 0h1m9 0h1m-71 1h1m19 0h2m-22 1h2m17 0h2m48 0h1m-69 1h1m17 0h2m48 0h1m60 8h1m-5 2h1m-1 1h1m5 0h1m-6 3h1m0 3h1m7 0h1m-8 2h1m7 0h1m-1 1h2m-8 2h1m-1 1h1m-1 1h1m-2 1h2m-2 1h1m-1 1h1m-2 1h1m-1 1h1m-2 1h1m-2 1h2m-2 1h1m-2 1h1m-1 1h1m-2 1h1"/><path stroke="#a10049" d="M146 14h3m-5 1h1m-2 1h1m5 1h1m-1 1h1m-15 8h1m-3 2h1m6 2h1m-3 5h1m-7 1h2m2 0h1m-6 1h1m1 0h2m-6 1h1m4 0h1m-7 1h1m4 3h1m-108 1h1m101 0h1m3 0h1m-107 1h2m28 0h1m9 0h1m63 0h1m-104 1h1m28 0h1m-29 1h3m25 0h1m-26 1h4m21 0h1m-24 1h3m20 0h1m9 0h1m-33 1h2m20 0h1m9 0h1m-33 1h2m21 0h1m-23 1h1m22 0h2m5 0h1m-31 1h1m23 0h6m10 0h2m-43 1h1m27 0h1m15 0h1m-45 1h1m43 0h1m-46 1h1m44 0h1m-47 1h1m-1 1h1m-2 1h1m-1 1h1m-1 1h1m-1 1h1m0 1h1m-1 1h2m-1 1h2m-1 1h1m-1 1h2m-30 1h2m26 0h2m-28 1h1m25 0h2m-27 1h1m24 0h2m-25 1h1m22 0h2m-24 1h1m21 0h2m-23 1h1m20 0h2m-22 1h1m19 0h2m50 0h1m3 0h1m-76 1h1m18 0h2m55 0h1m-76 1h1m16 0h2m50 0h1m-69 1h1m14 0h2m-17 1h2m12 0h3m51 0h1m56 8h1m6 6h1m42 0h1m-50 2h1m0 2h1m6 0h1m-1 1h1m-7 1h1m5 0h1m-6 1h1m0 1h1m-1 1h2m-2 1h1m-1 1h1m-2 1h1m-1 1h1m-2 1h1m-1 1h1m-2 1h1m-1 1h1m-2 1h1m-2 1h2m-2 1h1"/><path stroke="#930053" d="M148 15h1m-6 2h1m-1 1h1m4 2h1m-13 6h2m-4 1h1m4 6h1m-7 1h1m-1 1h1m0 1h2m-4 1h1m0 1h1m-1 1h1m-1 2h1m-6 1h1m-104 1h1m-2 1h2m31 0h1m-33 1h2m39 0h1m-41 1h2m38 0h1m-39 1h3m35 0h1m-36 1h2m24 0h1m-25 1h1m23 0h1m-25 1h1m24 0h1m6 0h1m-32 1h1m25 0h5m-31 1h1m-2 1h1m39 0h1m-41 1h1m-2 1h1m40 0h1m-43 1h1m42 0h1m2 0h1m-47 1h1m-2 1h1m-1 1h1m-1 1h1m-1 1h1m-1 1h2m-1 1h1m-1 1h2m-1 1h2m-2 1h2m-26 1h1m24 0h1m-25 1h1m23 0h1m-24 1h1m22 0h1m-1 1h1m-21 1h1m19 0h1m-20 1h1m18 0h1m-19 1h2m15 0h2m53 0h1m-72 1h2m14 0h2m-17 1h2m12 0h2m58 0h1m-74 1h2m10 0h2m53 0h1m5 0h1m-73 1h3m7 0h2m60 0h1m51 8h2m1 2h1m-5 3h1m48 1h1m-49 1h1m44 0h6m-49 4h1m0 1h1m0 1h5m-4 1h5m-4 1h2m-3 1h2m-2 1h1m-2 1h1m-1 1h1m-2 1h1m-1 1h1m-2 1h1m-1 1h1m-2 1h1m-1 1h1m-2 1h1"/><path stroke="#84005e" d="M145 15h1m1 0h1m0 1h1m-10 12h1m-7 1h1m-1 1h1m-1 1h1m-1 1h1m5 0h1m-7 1h1m4 1h1m-5 1h1m2 0h1m-8 3h3m-5 2h1m4 0h1m-6 1h1m0 2h1m1 0h1m-111 1h3m41 0h1m-45 1h4m32 0h1m-35 1h3m31 0h1m-33 1h3m29 0h1m-29 1h2m34 0h1m-34 1h1m25 0h1m6 0h1m-34 1h1m26 0h2m2 0h2m-32 1h1m-1 1h1m43 1h1m-46 1h1m40 0h1m-44 3h1m-2 1h1m-1 1h1m-1 1h1m-1 1h1m-1 1h1m0 1h1m-1 1h1m-1 1h2m-24 1h1m22 0h1m-23 1h1m21 0h2m-23 1h1m20 0h2m-22 1h1m19 0h2m-21 1h1m18 0h2m-19 1h1m16 0h2m-18 1h2m14 0h2m-16 1h1m13 0h1m56 0h2m-72 1h2m11 0h1m54 0h1m-68 1h2m9 0h1m-11 1h2m7 0h1m-8 1h7m57 0h1m55 9h1m2 0h1m-4 3h1m4 0h1m0 1h1m1 3h1m37 0h6m-50 1h1m46 0h2m-43 2h1m-4 1h1m1 0h2m5 2h2m-7 1h5m-6 1h2m-3 1h2m-3 1h2m-2 1h1m-2 1h1m-1 1h1m-2 1h1m-1 1h1m-2 1h1m-1 1h1m-2 1h2"/><path stroke="#74006a" d="M146 15h1m-3 1h1m-1 3h1m0 1h1m-8 7h1m-5 7h1m0 1h2m-8 4h1m2 0h1m-1 3h1m-3 1h1m-111 2h1m37 0h1m6 0h1m-46 1h3m42 0h1m-45 1h4m33 0h1m6 0h1m-45 1h8m29 0h1m-29 1h2m27 0h1m4 0h1m-4 1h2m-31 1h1m-1 1h1m-1 1h1m41 0h1m1 0h1m0 1h1m-47 1h1m45 0h1m-48 1h1m44 0h2m-48 1h1m-2 1h1m-1 1h1m-1 1h1m-1 1h1m-1 1h1m0 1h1m-1 1h1m-1 1h1m-21 1h1m19 0h2m-21 1h1m19 0h1m-20 1h1m18 0h1m-19 1h1m17 0h1m-18 1h1m16 0h1m-16 1h2m13 0h1m-14 1h2m11 0h1m-13 1h2m10 0h1m-11 1h1m8 0h2m59 0h1m-70 1h2m5 0h2m56 0h1m-65 1h7m57 0h1m3 1h1m51 10h1m-1 1h1m3 0h1m-4 3h1m6 3h1m37 0h3m-41 1h1m37 0h4m0 1h2m-46 1h1m46 0h1m-40 3h2m-6 1h3m-4 1h1m-2 1h1m-2 1h1m-2 1h1m-1 1h1m-2 1h1m-1 1h1m-2 1h1m-1 1h1m-1 1h1"/><path stroke="#640078" d="M148 17h1m-1 2h1m-2 1h1m-13 7h1m-2 1h1m4 1h1m-1 1h1m-1 1h1m-6 2h1m3 0h1m-4 1h1m1 0h1m-8 5h2m-3 1h1m2 0h1m-1 1h1m-4 1h1m-71 2h1m4 0h1m-7 2h1m0 2h1m4 0h1m-45 1h10m30 0h1m2 0h1m-44 1h4m7 0h1m-11 1h1m9 0h1m-1 2h1m43 0h1m-45 1h1m-2 1h1m43 0h1m-47 1h2m-3 1h2m-2 1h1m-1 1h1m-1 1h1m-1 1h1m-1 1h1m-1 1h2m-2 1h2m-1 1h1m-19 1h1m17 0h1m-1 1h2m-2 1h2m-17 1h1m15 0h1m-16 1h2m13 0h1m-13 1h3m9 0h1m-11 1h2m8 0h1m-10 1h2m7 0h1m-9 1h2m5 0h1m58 0h1m-65 1h2m2 0h1m62 0h1m-1 1h1m-4 1h1m1 0h1m53 9h2m-2 4h1m0 3h1m0 2h1m38 0h3m-41 1h1m2 0h1m36 0h1m4 0h1m-3 1h6m-3 1h4m-2 1h2m-38 1h1m-4 1h2m-5 1h3m-4 1h1m-2 1h1m-2 1h1m-1 1h1m-2 1h1m-1 1h1m-2 1h1m-1 1h1m-1 1h1"/><path stroke="#570086" d="M145 16h1m1 0h1m0 2h1m-3 2h1m-11 7h2m-4 2h1m-1 3h1m1 2h1m-8 7h1m0 1h2m-73 3h1m-1 2h1m1 2h2m-39 1h3m2 0h2m-9 1h4m-4 1h3m6 0h1m-10 1h2m-2 1h2m6 0h1m43 0h1m-47 1h2m-5 1h3m-3 1h2m-2 1h2m-1 1h1m-1 1h1m-1 1h1m-1 1h1m-1 1h1m-1 1h1m-1 1h2m-17 1h1m14 0h2m-17 1h1m14 0h2m-16 1h1m14 0h1m-14 1h1m13 0h1m-13 1h5m7 0h1m-9 1h2m6 0h1m-8 1h2m5 0h1m-7 1h1m5 0h1m-6 1h2m2 0h1m60 0h2m-65 1h2m60 0h1m-1 1h1m0 1h1m56 10h1m-3 2h1m0 3h1m36 3h3m-37 1h2m34 0h3m-1 1h3m-1 1h5m-2 1h4m-35 1h1m32 0h2m-37 1h2m-4 1h2m-5 1h2m-3 1h1m-2 1h1m-2 2h1m-1 1h1m-2 1h1m-1 1h1"/><path stroke="#550690" d="M146 16h1m-3 1h1m-1 1h1m-7 10h1m-5 2h1m-1 1h1m3 1h1m-4 1h1m-6 7h2m-1 1h1m-72 3h1m2 0h1m0 1h1m-6 1h1m4 0h1m-1 1h1m-5 1h1m2 0h1m-37 2h2m-3 1h1m3 0h1m-6 1h2m3 0h1m-7 1h3m3 0h1m-7 1h6m45 0h2m-52 1h3m48 0h1m-53 2h1m-2 1h2m-1 1h2m-2 1h2m-1 1h1m-1 1h1m-1 1h1m-2 1h2m-15 1h1m12 0h2m-3 1h3m-14 1h1m8 0h5m-13 1h1m5 0h8m-12 1h13m-7 1h3m3 0h1m-6 1h2m3 0h1m-5 1h1m3 0h1m-5 1h2m2 0h1m-3 1h2m62 1h1m-2 1h2m53 11h1m-1 1h1m1 0h1m0 1h1m-3 2h1m4 1h1m-5 2h1m3 1h1m31 1h2m0 1h2m0 1h2m-23 1h9m13 0h4m-30 1h1m27 0h4m-33 1h1m29 0h2m-34 1h2m-5 1h3m-5 1h2m-3 1h1m-2 1h1m-1 1h1m-2 2h1m-1 1h1"/><path stroke="#601498" d="M147 17h1m-13 11h1m2 3h1m-2 2h1m-8 8h1m-70 3h2m-3 1h1m-1 2h1m0 1h2m-36 3h3m-3 1h3m-3 1h3m45 2h1m-54 4h2m-3 1h3m-5 1h6m-2 1h2m-3 1h3m-4 1h3m-12 1h1m7 0h4m-12 1h1m6 0h4m-4 1h2m-7 1h1m2 0h2m5 2h3m-3 1h3m-3 1h3m-2 1h2m61 2h1m55 12h1m-1 1h1m-1 1h2m-2 1h1m2 0h1m-2 5h1m32 1h2m1 1h1m-8 1h1m7 0h2m-12 1h1m10 0h2m-25 1h1m4 0h7m12 0h3m-28 1h1m25 0h3m-30 1h1m27 0h1m-31 1h2m-5 1h2m-4 1h1m-2 1h1m-2 2h1m-1 1h1m-1 1h1"/><path stroke="#7027a0" d="M145 19h1m1 0h1m-13 10h1m2 0h1m-1 1h1m-4 1h1m-1 1h1m1 0h1m-2 1h1m-74 12h1m-4 1h1m2 0h1m-3 1h1m1 0h1m-48 15h7m-9 1h1m2 0h5m-9 1h1m4 0h3m-3 1h2m-2 1h1m-6 1h1m3 0h2m-4 1h2m131 23h1m-4 2h1m3 0h1m-1 1h1m-3 1h2m28 2h2m1 0h2m-6 1h1m5 0h1m-9 1h2m6 0h2m-22 1h4m7 0h2m8 0h2m-24 1h1m5 0h7m9 0h3m-26 1h1m8 0h4m11 0h3m-28 1h1m-4 1h3m-6 1h2m-3 1h1m-2 1h1m-1 1h1m-1 1h1m-1 1h1"/><path stroke="#803da8" d="M145 17h2m0 1h1m-12 10h2m-3 2h1m0 2h1m-76 13h2m-2 1h1m0 1h1m-48 16h2m-3 1h1m1 0h2m-5 1h1m3 0h1m-5 1h1m3 0h1m-4 1h3m128 23h2m-2 1h1m-1 1h1m33 5h1m-3 1h1m2 0h2m-6 1h1m4 0h1m-7 1h2m5 0h1m-21 1h1m2 0h2m7 0h2m6 0h1m-22 1h1m4 0h3m4 0h3m6 0h2m-24 1h1m6 0h8m7 0h3m-26 1h2m8 0h4m9 0h1m-28 1h5m-7 1h1m-2 1h1m-1 1h1m-1 2h1"/><path stroke="#8f54b0" d="M145 18h1m0 1h1m-11 12h2m-76 15h1m-48 18h1m-2 1h3m-3 1h3m129 28h1m31 4h2m-3 1h4m-4 1h1m2 0h2m-19 1h2m11 0h6m-20 1h1m2 0h1m10 0h6m-21 1h1m3 0h2m8 0h7m-21 1h1m4 0h3m4 0h9m-22 1h3m3 0h12m-24 1h9m3 0h9m-22 1h1m3 0h6m-4 1h3m-10 1h1m0 1h1"/><path stroke="#9d6bb9" d="M146 18h1m-11 11h2m-2 1h2m8 61h2m0 3h1m29 6h2m-17 2h2m-3 1h3m-3 1h4m-3 1h3m-3 1h3m-12 1h3m6 0h8m-18 1h1m1 0h4m3 0h2m-11 1h5m-4 1h2"/><path stroke="#ac81c3" d="M148 92h1m-3 1h1m0 1h1m6 14h1"/><path stroke="#bb98ce" d="M146 92h1m1 1h1"/><path stroke="#c9afd9" d="M147 92h1m-1 1h1"/></g></g></g><use href="#o"/><path d="M731.5 37.0h0M776.8 37.0h0M587.2 39.5h0M674.0 41.5h0M752.3 59.0h0M597.2 65.3h0M520.9 82.6h0M692.2 93.8h0M730.3 96.6h0M565.1 105.1h0M788.6 105.8h0M474.1 106.6h0M715.3 114.6h0M661.0 117.1h0M509.1 120.3h0M436.5 130.6h0M748.5 141.6h0M570.4 146.4h0M686.5 146.4h0M522.1 152.1h0M782.3 157.9h0M638.9 164.1h0M512.1 166.6h0M462.1 167.9h0M684.7 168.4h0M596.7 173.9h0M545.4 177.1h0M739.8 184.6h0M489.6 187.9h0M575.4 198.9h0M509.6 202.7h0M781.8 204.7h0M653.0 207.2h0M409.5 209.2h0M760.5 221.4h0M505.8 222.2h0M462.8 223.4h0M148.4 224.7h0M596.7 230.9h0M311.7 231.4h0M374.8 234.7h0M699.7 234.7h0M200.4 235.2h0M241.4 237.2h0M763.5 247.9h0M539.1 249.2h0M419.5 253.9h0M633.9 254.7h0M476.3 255.4h0M592.9 257.9h0M221.4 259.7h0M728.0 259.7h0M334.0 260.4h0M146.4 262.2h0M280.2 262.2h0M677.2 263.9h0M759.0 274.7h0M517.9 276.0h0M378.5 276.5h0M652.7 276.7h0M255.4 279.2h0M607.2 280.5h0M692.2 285.5h0M461.6 286.5h0M558.4 286.5h0M212.2 288.5h0M411.5 291.0h0M313.5 291.5h0M162.1 296.5h0M652.7 301.0h0M357.8 303.0h0M716.0 303.5h0M536.6 304.7h0M115.8 310.5h0M430.8 316.0h0M577.9 318.5h0M789.1 318.5h0M477.8 319.0h0M750.5 319.7h0M304.2 320.2h0M243.4 323.0h0M630.2 324.7h0M693.5 325.5h0M74.6 331.5h0M187.1 331.5h0M383.0 332.2h0M747.3 332.2h0M349.8 333.0h0M657.7 341.8h0M451.3 343.0h0M232.2 352.3h0M572.9 352.8h0M514.6 354.3h0M274.2 356.0h0M617.7 359.8h0M699.7 360.5h0M130.1 363.5h0M769.8 364.8h0M375.5 367.8h0M188.9 370.3h0M547.1 372.8h0M480.8 374.0h0M328.0 376.0h0M43.8 377.3h0M444.5 377.3h0M727.3 380.6h0M651.5 383.7h0M594.2 401.7h0M698.5 404.9h0M763.5 407.9h0M642.9 411.2h0M719.8 436.9h0M763.0 447.9h0M741.0 463.2h0M666.7 471.2h0M702.2 484.5h0M895.4 495.5h0M816.6 509.5h0M771.5 541.3h0M694.4 424.8h0M608.2 436.2h0" stroke="#808080" stroke-width="27.5" stroke-linecap="round" fill="none"/><g font-size="21" font-weight="bold" text-anchor="middle"><text x="731.5" y="44.3">72</text><text x="776.8" y="44.3">60</text><text x="587.2" y="46.8">72</text><text x="674.0" y="48.8">72</text><text x="752.3" y="66.3">82</text><text x="597.2" y="72.6">72</text><text x="520.9" y="89.9">72</text><text x="692.2" y="101.1">72</text><text x="730.3" y="103.9">95</text><text x="565.1" y="112.4">60</text><text x="788.6" y="113.1">60</text><text x="474.1" y="113.9">60</text><text x="715.3" y="121.9">60</text><text x="661.0" y="124.4">72</text><text x="509.1" y="127.6">60</text><text x="436.5" y="137.9">60</text><text x="748.5" y="148.9">60</text><text x="570.4" y="153.7">72</text><text x="686.5" y="153.7">95</text><text x="522.1" y="159.4">72</text><text x="782.3" y="165.2">48</text><text x="638.9" y="171.4">72</text><text x="512.1" y="173.9">82</text><text x="462.1" y="175.2">60</text><text x="684.7" y="175.7">91</text><text x="596.7" y="181.2">60</text><text x="545.4" y="184.4">72</text><text x="739.8" y="191.9">48</text><text x="489.6" y="195.2">82</text><text x="575.4" y="206.2">48</text><text x="509.6" y="210.0">72</text><text x="781.8" y="212.0">48</text><text x="653.0" y="214.5">91</text><text x="409.5" y="216.5">82</text><text x="760.5" y="228.7">82</text><text x="505.8" y="229.5">60</text><text x="462.8" y="230.7">72</text><text x="148.4" y="232.0">82</text><text x="596.7" y="238.2">60</text><text x="311.7" y="238.7">94</text><text x="374.8" y="242.0">60</text><text x="699.7" y="242.0">60</text><text x="200.4" y="242.5">82</text><text x="241.4" y="244.5">72</text><text x="763.5" y="255.2">27</text><text x="539.1" y="256.5">82</text><text x="419.5" y="261.2">82</text><text x="633.9" y="262.0">82</text><text x="476.3" y="262.7">72</text><text x="592.9" y="265.2">82</text><text x="221.4" y="267.0">82</text><text x="728.0" y="267.0">82</text><text x="334.0" y="267.7">82</text><text x="146.4" y="269.5">91</text><text x="280.2" y="269.5">82</text><text x="677.2" y="271.2">72</text><text x="759.0" y="282.0">60</text><text x="517.9" y="283.3">60</text><text x="378.5" y="283.8">91</text><text x="652.7" y="284.0">60</text><text x="255.4" y="286.5">82</text><text x="607.2" y="287.8">72</text><text x="692.2" y="292.8">60</text><text x="461.6" y="293.8">48</text><text x="558.4" y="293.8">72</text><text x="212.2" y="295.8">72</text><text x="411.5" y="298.3">72</text><text x="313.5" y="298.8">82</text><text x="162.1" y="303.8">82</text><text x="652.7" y="308.3">60</text><text x="357.8" y="310.3">60</text><text x="716.0" y="310.8">72</text><text x="536.6" y="312.0">72</text><text x="115.8" y="317.8">91</text><text x="430.8" y="323.3">72</text><text x="577.9" y="325.8">72</text><text x="789.1" y="325.8">60</text><text x="477.8" y="326.3">82</text><text x="750.5" y="327.0">82</text><text x="304.2" y="327.5">72</text><text x="243.4" y="330.3">72</text><text x="630.2" y="332.0">82</text><text x="693.5" y="332.8">82</text><text x="74.6" y="338.8">94</text><text x="187.1" y="338.8">82</text><text x="383.0" y="339.5">48</text><text x="747.3" y="339.5">72</text><text x="349.8" y="340.3">72</text><text x="657.7" y="349.1">48</text><text x="451.3" y="350.3">72</text><text x="232.2" y="359.6">82</text><text x="572.9" y="360.1">82</text><text x="514.6" y="361.6">72</text><text x="274.2" y="363.3">48</text><text x="617.7" y="367.1">82</text><text x="699.7" y="367.8">60</text><text x="130.1" y="370.8">91</text><text x="769.8" y="372.1">82</text><text x="375.5" y="375.1">82</text><text x="188.9" y="377.6">82</text><text x="547.1" y="380.1">82</text><text x="480.8" y="381.3">72</text><text x="328.0" y="383.3">72</text><text x="43.8" y="384.6">72</text><text x="444.5" y="384.6">91</text><text x="727.3" y="387.9">60</text><text x="651.5" y="391.0">60</text><text x="594.2" y="409.0">72</text><text x="698.5" y="412.2">82</text><text x="763.5" y="415.2">48</text><text x="642.9" y="418.5">60</text><text x="719.8" y="444.2">91</text><text x="763.0" y="455.2">48</text><text x="741.0" y="470.5">98</text><text x="666.7" y="478.5">48</text><text x="702.2" y="491.8">72</text><text x="895.4" y="502.8">94</text><text x="816.6" y="516.8">94</text><text x="771.5" y="548.6">95</text><text x="694.4" y="432.1">72</text><text x="608.2" y="443.5">72</text></g><text transform="translate(9.0,537.8) scale(0.9760,1)" font-size="64">Latest 5 cm Soil Temp</text><path d="M714.7 565.5v-4.5" stroke="#000" stroke-width="1.5"/></g>
<g transform="translate(2000.5,256.5)"><rect x="0" y="0" width="976" height="565.5" fill="#fff" stroke="#222" stroke-width="1.5"/><g clip-path="url(#c)"><g filter="url(#b)"><g transform="scale(5) translate(0,.5)" stroke-width="1.25" fill="none"><path stroke="#ff2e00" d="M114 29h1"/><path stroke="#ff1f00" d="M113 28h2m-2 1h1m-85 14h1m-2 1h3m-2 1h1"/><path stroke="#ff1200" d="M115 28h1m-1 1h1m-3 1h2m-87 13h1m1 0h1m-3 2h1m1 0h1"/><path stroke="#ff0600" d="M113 27h2m-3 1h1m-1 1h1m2 1h1m-86 12h1m-4 1h1m3 0h1m-5 1h1m3 0h1m-5 1h1m1 1h1"/><path stroke="#fc0000" d="M115 27h1m0 1h1m-1 1h1m-5 1h1m0 1h2m-84 11h1m-6 1h1m-1 1h1m4 1h1m-4 1h1m1 0h1"/><path stroke="#f70000" d="M112 27h1m3 3h1m-2 1h1m-84 11h1m-8 1h1m6 0h1m-1 1h1m-7 1h1m5 0h1m-6 1h1m3 0h1m-3 1h1"/><path stroke="#ef0004" d="M113 26h3m0 1h1m-6 1h1m-1 1h1m0 2h1m3 0h1m-3 1h1m-82 10h1m-1 1h1m-9 1h1m-1 1h1m0 1h1m0 1h2m1 0h1"/><path stroke="#e5000c" d="M112 26h1m-2 1h1m5 1h1m-1 1h1m-7 1h1m5 0h1m-5 2h1m1 0h1m-2 6h2m-2 1h2m-92 5h1m8 0h1m-10 1h1m8 0h1m-9 1h1m6 0h1m-7 1h1m4 0h1"/><path stroke="#da0016" d="M113 25h2m1 1h1m0 1h1m-7 4h1m5 0h1m-6 1h1m3 0h1m-3 1h1m-1 4h2m-3 2h1m2 0h1m-3 1h2m-82 2h1m-1 1h1m-13 1h2m10 0h1m-12 1h1m0 1h1m8 0h1m-9 1h1m6 0h1m-6 1h4"/><path stroke="#ce0022" d="M112 25h1m2 0h1m-5 1h1m5 0h1m-8 2h1m7 0h1m-9 1h1m7 0h1m-1 1h1m-6 3h1m1 0h1m-2 1h1m-1 2h2m-3 1h1m2 0h1m-4 1h1m2 0h1m-4 2h1m2 0h1m-82 2h2m-2 1h1m-15 1h1m13 0h1m-16 1h3m11 0h1m-13 1h2m-1 1h2m0 1h2m4 0h1"/><path stroke="#c0002f" d="M113 24h2m-4 1h1m4 0h1m-7 2h1m7 0h1m-9 3h1m7 1h1m-8 1h1m5 0h1m-6 1h1m3 0h1m-4 1h1m1 0h1m-3 1h3m-3 1h1m2 0h1m-5 2h1m4 0h1m-6 1h1m4 0h1m-80 2h1m75 0h2m-79 1h1m-2 1h1m-1 1h1m-2 1h1m-16 1h2m12 0h1m-14 1h2m10 0h1m-11 1h2m7 0h1m-7 1h5"/><path stroke="#b0003d" d="M112 24h1m2 0h2m0 1h1m-8 1h1m7 0h1m0 1h1m-1 1h1m16 0h3m-20 1h1m16 0h2m-19 1h1m-10 1h1m15 0h2m-10 1h1m7 0h3m-12 1h1m8 0h2m-26 1h1m9 0h1m3 0h1m-1 1h1m-5 2h1m4 0h1m-6 3h1m4 0h1m-79 1h1m73 0h1m2 0h1m-79 1h2m-3 1h2m-2 1h1m-2 1h1m-2 1h1m-2 1h1m-14 1h2m10 0h1m-12 1h4m5 0h1"/><path stroke="#a10049" d="M112 23h4m-5 1h1m5 0h1m-8 1h1m7 0h1m0 1h1m-11 1h1m10 0h1m15 0h3m-30 1h1m10 0h1m18 0h1m-31 1h1m10 0h2m16 0h1m-30 1h1m10 0h1m4 0h4m-10 1h1m4 0h2m2 0h1m-19 1h1m13 0h2m3 0h1m-29 1h2m8 0h1m13 0h1m2 0h1m-28 1h1m1 0h1m13 0h1m8 0h2m-26 1h2m8 0h1m4 0h1m-6 1h1m4 0h1m0 2h1m-8 1h1m6 0h1m-7 2h1m4 0h1m-78 1h2m-3 1h2m-3 1h2m-3 1h2m-3 1h2m-3 1h1m-2 1h1m-15 1h2m10 0h1m-13 1h11"/><path stroke="#930053" d="M112 22h3m-4 1h1m4 0h2m-8 1h1m7 0h1m0 1h1m-11 1h1m10 0h1m16 0h3m-19 1h1m17 0h1m-19 1h3m11 0h1m-14 1h6m7 0h1m3 0h1m-19 1h4m4 0h1m6 0h3m-30 1h1m10 0h4m5 0h1m-29 1h2m16 0h5m-24 1h1m2 0h1m14 0h1m4 0h2m4 0h1m-30 1h1m3 0h1m6 0h1m6 0h1m5 0h2m2 0h1m-28 1h1m2 0h1m-3 1h2m14 0h1m-8 1h1m6 0h1m-8 1h1m-1 2h1m6 0h1m-75 1h2m-4 1h5m66 0h4m-76 1h3m-4 1h2m-3 1h2m-3 1h1m-3 1h2m-3 1h1m-3 1h2m-4 1h2m-12 1h9"/><path stroke="#84005e" d="M112 21h3m-4 1h1m3 0h2m-7 1h1m7 0h1m22 0h2m-34 1h1m9 0h2m19 0h3m-34 1h1m10 0h2m16 0h4m-21 1h2m13 0h1m3 0h1m-19 1h3m10 0h1m4 0h1m-17 1h4m6 0h1m5 0h1m-13 1h2m4 0h1m5 0h1m-11 1h1m3 0h2m3 0h1m-10 1h1m-31 1h1m8 0h1m20 0h1m-27 1h1m5 0h1m8 0h4m7 0h1m-12 1h1m2 0h2m5 0h1m-30 1h1m10 0h1m6 0h1m5 0h4m-27 1h1m2 0h1m6 0h1m7 0h1m-18 1h3m14 0h1m-18 1h2m6 0h1m8 0h1m-18 1h2m6 0h1m8 0h1m-18 1h1m7 0h1m0 1h1m6 0h1m-72 1h3m62 0h1m-69 1h6m-8 1h8m11 0h3m-23 1h2m2 0h5m12 0h1m11 0h1m-36 1h2m6 0h2m-11 1h1m-3 1h1m-2 1h1m-3 1h1m-4 1h2m-10 1h7m-7 1h3"/><path stroke="#74006a" d="M112 20h3m-4 1h1m3 0h2m-7 1h1m6 0h2m21 0h3m-34 1h1m9 0h2m18 0h2m2 0h1m-23 1h1m16 0h2m3 0h1m-36 1h1m13 0h2m13 0h1m4 0h1m-35 1h1m14 0h2m10 0h1m5 0h2m-35 1h1m16 0h2m7 0h1m6 0h1m-34 1h1m19 0h1m4 0h1m7 0h1m-34 1h1m21 0h4m7 0h1m-34 1h1m22 0h3m6 0h1m-41 1h2m6 0h1m22 0h2m3 0h3m-40 1h1m3 0h1m27 0h1m-33 1h1m9 0h1m-11 1h1m5 0h1m4 0h1m9 0h2m8 0h1m-26 1h1m4 0h1m8 0h5m4 0h1m-29 1h1m4 0h1m4 0h1m9 0h6m-25 1h1m3 0h1m4 0h1m9 0h1m-20 1h1m2 0h2m14 0h1m-20 1h1m2 0h2m3 0h1m10 0h1m-41 1h2m19 0h1m1 0h2m4 0h1m9 0h1m-41 1h3m19 0h3m6 0h1m-61 1h3m24 0h1m23 0h2m8 0h1m5 0h1m-68 1h2m23 0h2m36 0h3m-66 1h1m9 0h1m3 0h2m6 0h5m-34 1h2m5 0h1m9 0h2m1 0h2m7 0h2m1 0h2m62 0h3m-101 1h1m3 0h2m2 0h1m11 0h3m9 0h4m62 0h3m-103 1h1m7 0h3m24 0h2m64 0h2m-105 1h2m-3 1h1m-3 1h2m-4 1h2m-5 1h3m-7 1h4m-7 1h4"/><path stroke="#640078" d="M112 19h2m-4 1h2m3 0h2m22 0h2m-32 1h2m6 0h2m20 0h4m-34 1h1m9 0h2m17 0h2m3 0h1m-36 1h1m12 0h2m15 0h1m-31 1h1m13 0h2m13 0h1m-14 1h2m10 0h1m6 0h1m-19 1h2m16 0h1m-17 1h2m4 0h1m8 0h1m-14 1h4m9 0h1m-2 2h1m-44 1h2m2 0h1m30 0h3m3 0h2m-43 1h1m5 0h1m3 0h1m23 0h1m-35 1h1m6 0h1m25 0h1m-26 1h1m2 0h1m21 0h1m-33 1h1m6 0h1m22 0h1m-24 1h1m19 0h2m-28 1h1m5 0h1m2 0h1m11 0h4m-19 1h4m11 0h2m-41 1h2m16 0h1m5 0h3m12 0h1m-40 1h2m16 0h1m4 0h4m11 0h1m-39 1h2m16 0h1m3 0h2m3 0h1m9 0h1m-67 1h1m24 0h5m17 0h1m2 0h2m5 0h1m7 0h1m-67 1h4m21 0h4m19 0h4m8 0h1m3 0h1m-66 1h2m6 0h1m6 0h6m5 0h2m60 0h4m-92 1h1m7 0h1m5 0h2m3 0h2m5 0h1m60 0h1m3 0h1m-101 1h3m5 0h1m9 0h1m3 0h1m6 0h2m4 0h1m60 0h1m3 0h1m-103 1h2m4 0h1m3 0h1m11 0h1m9 0h2m2 0h1m62 0h1m2 0h1m-104 1h1m34 0h2m64 0h3m-106 1h1m-2 1h1m-3 1h1m-3 1h2m-5 1h3m-6 1h3m-4 1h2"/><path stroke="#570086" d="M110 19h2m2 0h2m22 0h3m-32 1h1m7 0h2m19 0h1m2 0h1m-34 1h1m10 0h2m17 0h1m4 0h1m-36 1h1m12 0h2m14 0h1m6 0h1m-38 1h1m15 0h2m12 0h1m6 0h1m-38 1h1m16 0h2m10 0h1m7 0h1m-38 1h1m18 0h1m8 0h1m8 0h1m-38 1h1m19 0h1m6 0h1m-48 1h1m19 0h1m21 0h2m1 0h1m10 0h1m-57 1h1m19 0h1m35 0h1m-57 1h2m18 0h1m34 0h1m-56 1h3m7 0h5m5 0h1m34 0h1m-57 1h6m5 0h1m5 0h1m3 0h1m33 0h2m-57 1h7m4 0h1m7 0h3m25 0h2m4 0h3m-56 1h6m5 0h1m8 0h3m23 0h1m-45 1h2m8 0h1m8 0h2m-2 1h1m1 0h1m20 0h1m13 0h5m-50 1h1m7 0h3m18 0h1m15 0h6m-43 1h2m16 0h2m17 0h6m-66 1h2m14 0h1m22 0h2m19 0h6m-66 1h2m36 0h1m22 0h4m-65 1h1m14 0h1m21 0h1m-38 1h1m14 0h1m6 0h3m11 0h1m-38 1h1m15 0h1m5 0h5m9 0h1m20 0h3m-62 1h2m16 0h1m4 0h1m6 0h1m5 0h1m21 0h5m-91 1h5m21 0h3m18 0h3m11 0h1m23 0h1m4 0h1m-92 1h2m4 0h1m8 0h3m8 0h2m63 0h2m-94 1h1m7 0h1m5 0h2m2 0h2m7 0h1m64 0h2m-103 1h1m1 0h2m14 0h2m1 0h2m6 0h1m5 0h1m60 0h1m4 0h2m-105 1h1m6 0h3m22 0h2m2 0h1m62 0h1m3 0h3m-108 1h1m102 0h5m-109 1h1m106 0h2m-111 1h2m108 0h1m-112 1h1m-3 1h2m-5 1h3m-5 1h3m-5 1h3m-4 1h1"/><path stroke="#550690" d="M110 18h6m21 0h3m-31 1h1m6 0h2m19 0h1m3 0h1m-34 1h1m10 0h2m16 0h1m4 0h1m-36 1h1m13 0h3m13 0h1m-31 1h1m15 0h2m-37 1h2m16 0h1m18 0h1m10 0h1m8 0h1m-59 1h3m16 0h1m19 0h1m18 0h1m-59 1h4m15 0h1m20 0h1m-41 1h5m14 0h1m21 0h2m3 0h1m10 0h1m-57 1h5m38 0h1m12 0h1m-57 1h8m-7 1h12m42 0h1m-54 1h7m5 0h1m40 0h1m-52 1h5m7 0h1m1 0h1m36 0h2m-52 1h4m38 0h4m3 0h3m-53 1h5m36 0h1m6 0h7m-57 1h5m2 0h1m34 0h1m8 0h8m-60 1h5m4 0h1m9 0h1m22 0h1m10 0h2m5 0h2m-62 1h3m37 0h2m11 0h2m6 0h2m-64 1h3m8 0h1m27 0h1m13 0h3m6 0h3m-67 1h3m10 0h1m25 0h1m15 0h3m6 0h7m-71 1h2m11 0h1m23 0h2m16 0h4m4 0h3m1 0h5m-73 1h2m35 0h2m16 0h10m4 0h4m-73 1h1m12 0h1m22 0h2m16 0h9m7 0h3m-74 1h2m12 0h1m21 0h1m17 0h2m3 0h4m-64 1h2m13 0h1m6 0h6m7 0h1m19 0h1m5 0h3m-65 1h1m16 0h1m3 0h2m7 0h2m1 0h2m20 0h1m6 0h2m-92 1h4m22 0h2m18 0h3m34 0h1m7 0h1m-94 1h2m4 0h1m8 0h2m10 0h1m57 0h1m7 0h2m-104 1h1m7 0h1m7 0h1m5 0h2m2 0h2m7 0h1m66 0h2m-106 1h1m4 0h1m3 0h1m10 0h3m7 0h1m5 0h1m60 0h1m7 0h2m-109 1h1m32 0h5m63 0h1m5 0h2m-110 1h1m103 0h2m2 0h2m-111 1h1m105 0h2m1 0h1m-112 1h2m108 0h1m-112 1h1m-3 1h2m-4 1h2m-4 1h2m-5 1h3m-5 1h3m-4 1h3"/><path stroke="#601498" d="M110 17h5m22 0h3m-32 1h2m6 0h2m18 0h1m3 0h2m-35 1h2m9 0h3m15 0h1m5 0h1m-53 1h1m15 0h2m13 0h4m11 0h1m6 0h1m-54 1h2m14 0h1m17 0h2m10 0h1m7 0h1m-56 1h3m14 0h1m18 0h2m9 0h1m8 0h1m-56 1h3m12 0h1m20 0h2m-38 1h4m11 0h1m21 0h1m7 0h1m-45 1h4m10 0h1m22 0h1m5 0h1m10 0h1m-54 1h5m33 0h3m12 0h1m-53 1h6m7 0h1m-11 1h5m5 0h1m37 0h1m-44 1h1m4 0h1m37 0h1m-42 1h1m2 0h1m37 0h1m-40 1h1m39 0h1m-1 1h2m-13 1h1m3 0h2m7 0h2m-54 1h2m36 0h1m6 0h1m8 0h3m-58 1h4m34 0h1m7 0h2m9 0h3m-62 1h3m3 0h1m32 0h1m8 0h2m10 0h5m-66 1h3m34 0h1m10 0h2m12 0h5m-69 1h4m33 0h1m12 0h2m16 0h2m-71 1h4m6 0h1m26 0h1m12 0h3m11 0h1m5 0h2m-73 1h3m8 0h1m25 0h1m13 0h2m10 0h4m4 0h2m-74 1h3m8 0h1m25 0h1m14 0h1m9 0h2m3 0h2m3 0h2m-74 1h1m10 0h1m23 0h2m14 0h1m9 0h2m5 0h5m-74 1h1m11 0h1m21 0h2m16 0h1m9 0h1m8 0h2m-75 1h2m13 0h1m6 0h2m2 0h3m5 0h2m27 0h2m-66 1h1m16 0h1m3 0h1m10 0h1m21 0h1m9 0h2m-94 1h4m22 0h2m65 0h2m-97 1h1m5 0h1m8 0h2m10 0h1m57 0h1m9 0h3m-108 1h1m2 0h1m5 0h1m8 0h1m3 0h2m3 0h2m7 0h1m69 0h5m-113 1h1m7 0h2m21 0h1m5 0h1m61 0h1m8 0h3m-112 1h1m33 0h4m63 0h2m6 0h1m-111 1h1m103 0h1m4 0h1m-111 1h1m105 0h2m1 0h1m-112 1h2m-3 1h1m-3 1h2m-4 1h3m-5 1h3m-5 1h3m-4 1h2m-6 1h5m-5 1h3"/><path stroke="#7027a0" d="M109 16h6m22 0h3m-32 1h2m5 0h2m19 0h1m3 0h1m-34 1h1m10 0h3m14 0h1m-43 1h2m11 0h1m14 0h4m10 0h1m-45 1h4m10 0h1m19 0h2m8 0h1m8 0h1m-53 1h3m10 0h1m20 0h2m7 0h1m9 0h1m-54 1h4m8 0h2m21 0h1m7 0h1m-43 1h4m7 0h1m30 0h1m10 0h1m-53 1h4m6 0h1m23 0h1m5 0h1m11 0h1m-52 1h3m6 0h1m24 0h1m3 0h1m12 0h1m-50 1h3m5 0h1m-7 1h2m4 0h1m39 0h1m-45 1h1m3 0h1m39 0h1m-44 1h1m42 0h1m-42 1h2m39 0h1m0 1h1m0 1h2m-14 1h3m11 0h4m-19 1h1m3 0h2m12 0h5m-24 1h2m4 0h1m14 0h5m-64 1h3m34 0h2m4 0h2m17 0h3m-66 1h2m2 0h1m30 0h1m7 0h2m19 0h3m-68 1h2m3 0h1m28 0h1m9 0h2m20 0h2m-69 1h3m2 0h1m28 0h1m9 0h2m22 0h1m-71 1h8m27 0h1m10 0h2m22 0h1m-72 1h4m2 0h2m27 0h1m11 0h2m12 0h3m7 0h1m-74 1h3m6 0h1m26 0h1m12 0h1m12 0h5m5 0h2m-75 1h2m8 0h1m24 0h2m13 0h1m11 0h2m4 0h2m2 0h2m-75 1h2m10 0h1m9 0h2m10 0h1m16 0h1m11 0h2m5 0h4m-76 1h2m13 0h1m5 0h2m5 0h3m1 0h2m31 0h2m5 0h2m-75 1h1m17 0h3m33 0h1m12 0h3m2 0h1m-102 1h5m22 0h1m55 0h1m13 0h5m-112 1h2m7 0h1m6 0h1m6 0h3m10 0h1m57 0h1m15 0h2m-114 1h1m5 0h1m2 0h1m10 0h4m4 0h2m7 0h1m59 0h1m12 0h4m-84 1h2m4 0h1m61 0h1m9 0h3m-79 1h4m64 0h1m6 0h1m-111 1h1m103 0h1m4 0h1m-111 1h1m106 0h3m-112 1h2m-3 1h2m-3 1h1m-3 1h2m-4 1h3m-5 1h3m-4 1h2m-9 1h2m3 0h3m-7 1h5"/><path stroke="#803da8" d="M109 14h3m-4 1h6m-7 1h2m6 0h1m19 0h2m3 0h1m-43 1h2m6 0h2m9 0h2m15 0h2m5 0h1m-46 1h4m5 0h2m14 0h6m7 0h1m7 0h1m-48 1h5m4 0h2m19 0h3m6 0h1m8 0h1m-49 1h4m4 0h2m22 0h1m6 0h1m-40 1h4m4 0h2m23 0h1m-33 1h3m4 0h1m24 0h1m17 0h1m-50 1h2m4 0h1m24 0h1m5 0h1m12 0h1m-50 1h2m3 0h1m25 0h1m17 0h1m-50 1h2m3 0h1m26 0h3m-33 1h2m1 0h2m41 0h1m-46 1h4m41 0h1m-45 1h3m41 0h1m-44 1h3m40 0h1m-1 1h1m0 1h2m0 1h11m-7 1h7m-25 1h3m19 0h3m-25 1h4m20 0h1m-26 1h4m22 0h1m-65 1h2m32 0h7m24 0h1m-67 1h3m30 0h1m6 0h2m24 0h1m-67 1h2m38 0h1m25 0h1m-27 1h1m25 0h1m-69 1h2m30 0h1m35 0h1m-72 1h6m28 0h1m36 0h1m-74 1h3m3 0h2m27 0h2m10 0h1m14 0h4m6 0h2m-75 1h2m7 0h1m23 0h4m11 0h1m14 0h5m4 0h3m-77 1h3m9 0h1m8 0h5m6 0h2m16 0h1m14 0h5m2 0h4m-78 1h2m13 0h2m3 0h2m7 0h4m19 0h1m16 0h2m1 0h5m-79 1h2m18 0h1m53 0h3m-105 1h1m3 0h2m21 0h1m55 0h1m18 0h2m-115 1h1m3 0h1m4 0h1m7 0h2m4 0h4m10 0h1m57 0h1m17 0h2m-117 1h1m8 0h1m19 0h2m7 0h2m72 0h3m-116 1h1m31 0h2m4 0h2m61 0h1m8 0h1m-77 1h5m63 0h1m6 0h1m-111 1h1m36 0h1m67 0h1m3 0h1m-111 1h1m-2 1h1m-3 1h2m-3 1h2m-3 1h1m-3 1h2m-4 1h2m-3 1h2m-13 1h4m5 0h2m58 0h2m-68 1h7m59 0h2"/><path stroke="#8f54b0" d="M104 11h5m-6 1h9m-10 1h11m-13 1h3m2 0h4m3 0h3m-15 1h3m2 0h3m6 0h2m19 0h6m-42 1h8m9 0h2m15 0h2m6 0h1m-42 1h6m13 0h11m2 0h2m8 0h1m-43 1h5m22 0h4m1 0h2m9 0h1m-44 1h4m24 0h2m3 0h1m10 0h1m11 0h2m-59 1h4m25 0h2m15 0h1m9 0h3m-59 1h4m26 0h1m4 0h1m11 0h1m7 0h4m-59 1h4m26 0h1m4 0h1m12 0h1m6 0h4m-59 1h4m26 0h1m18 0h1m5 0h4m-58 1h3m27 0h1m2 0h1m21 0h3m-58 1h3m44 0h1m7 0h3m-56 1h1m44 0h1m7 0h3m-3 1h3m-3 1h4m-12 1h1m6 0h5m-12 1h1m5 0h6m-10 1h10m-30 7h1m3 0h2m-8 1h1m6 0h1m-9 1h1m-1 1h1m8 0h1m-11 1h1m9 0h1m-45 1h3m31 0h1m-37 1h7m28 0h2m-38 1h2m5 0h2m22 0h6m9 0h1m26 0h1m-77 1h4m8 0h1m7 0h1m4 0h2m4 0h2m16 0h1m25 0h2m-79 1h2m14 0h2m1 0h2m31 0h1m22 0h4m-108 1h3m24 0h2m43 0h1m30 0h4m-118 1h3m6 0h1m5 0h1m21 0h1m45 0h1m30 0h2m-118 1h1m5 0h2m1 0h2m8 0h9m11 0h1m45 0h1m11 0h1m16 0h3m-118 1h1m29 0h1m8 0h1m59 0h1m10 0h5m-116 1h1m31 0h2m5 0h1m70 0h1m-78 1h3m1 0h3m63 0h1m-105 1h1m35 0h4m65 0h4m-110 1h1m-2 1h1m-2 1h1m-3 1h2m-3 1h2m-4 1h3m-4 1h2m53 0h4m-61 1h3m54 0h1m2 0h1m-74 1h5m7 0h2m56 0h1m2 0h1m-70 1h8m58 0h3"/><path stroke="#9d6bb9" d="M109 8h2m-4 1h6m-8 1h8m-4 1h5m-2 1h2m-1 1h2m-12 1h2m10 0h1m18 0h8m-39 1h2m11 0h1m8 0h10m6 0h2m-25 1h15m9 0h1m-13 1h2m11 0h1m-13 1h1m12 0h1m10 0h4m-29 1h3m20 0h3m-26 1h4m12 0h1m5 0h3m-25 1h1m2 0h1m13 0h7m-24 1h1m2 0h1m14 0h6m-24 1h1m2 0h1m15 0h5m-23 1h2m15 0h7m-7 1h1m4 0h2m-2 1h2m-8 1h1m5 0h2m-8 1h1m5 0h2m-2 1h1m-6 1h5m-23 8h3m-5 1h1m4 0h1m-7 1h1m6 0h1m-1 1h1m-9 1h1m7 0h1m-9 1h1m7 0h1m-9 1h1m7 0h1m-45 1h5m30 0h2m6 0h1m-45 1h3m3 0h2m9 0h4m8 0h10m5 0h1m-49 1h5m7 0h2m5 0h1m6 0h6m5 0h7m4 0h2m-52 1h2m14 0h4m20 0h3m1 0h2m5 0h2m25 0h1m-109 1h2m2 0h1m23 0h2m41 0h2m1 0h2m7 0h1m22 0h3m-116 1h1m5 0h1m6 0h1m21 0h1m43 0h1m1 0h2m8 0h1m20 0h4m-113 1h1m11 0h4m3 0h2m10 0h1m44 0h3m10 0h1m16 0h5m-120 1h1m28 0h2m8 0h2m59 0h1m9 0h1m-112 1h1m30 0h2m7 0h1m61 0h1m6 0h1m-77 1h2m4 0h2m62 0h1m4 0h1m-110 1h1m34 0h6m65 0h2m-109 1h1m38 0h1m-41 1h1m-2 1h2m-3 1h2m-3 1h1m50 0h4m-57 1h2m50 0h1m-54 1h2m51 0h1m4 0h1m-61 1h2m53 0h1m4 0h1m-76 1h5m8 0h3m54 0h1m3 0h1m-77 1h1m5 0h10m57 0h3m-79 1h1"/><path stroke="#ac81c3" d="M115 5h1m-4 1h5m-7 1h8m-7 1h6m-4 1h3m-3 1h3m-2 1h1m-1 1h2m-1 1h1m10 0h16m-26 1h1m7 0h10m8 0h1m-26 1h1m4 0h3m18 0h1m-1 1h2m10 0h4m-15 1h1m8 0h6m-14 1h1m5 0h4m-10 1h1m4 0h3m-6 1h5m-21 1h2m-2 1h2m-2 1h2m16 2h4m-5 1h2m1 0h2m-5 1h1m3 0h1m-5 1h1m3 0h1m-5 1h2m1 0h2m-24 10h1m2 0h1m0 1h1m-7 1h1m-1 1h1m-1 1h1m5 0h1m-7 1h1m5 0h1m-7 1h2m3 0h1m-41 1h3m33 0h5m-43 1h3m2 0h2m8 0h2m2 0h2m6 0h5m7 0h4m-48 1h6m7 0h1m4 0h2m7 0h4m6 0h1m6 0h5m-79 1h2m26 0h2m2 0h2m11 0h2m21 0h1m5 0h2m4 0h1m-94 1h1m2 0h1m7 0h1m4 0h1m23 0h1m40 0h2m4 0h1m6 0h1m-96 1h1m6 0h1m1 0h2m8 0h1m4 0h3m13 0h1m42 0h1m3 0h1m31 0h2m-100 1h2m4 0h1m12 0h1m43 0h3m11 0h1m11 0h11m-122 1h1m28 0h1m10 0h2m58 0h1m8 0h1m8 0h4m-123 1h1m30 0h2m8 0h1m60 0h1m6 0h1m-110 1h1m31 0h2m6 0h2m61 0h2m2 0h2m-110 1h1m34 0h3m1 0h3m-43 1h1m37 0h3m-41 1h1m-2 1h1m47 0h4m-54 1h2m47 0h1m4 0h1m-56 1h2m47 0h1m5 0h1m-57 1h2m48 0h1m6 0h1m-60 1h3m49 0h1m6 0h1m-61 1h2m51 0h1m5 0h1m-77 1h5m10 0h3m53 0h1m3 0h1m-79 1h5m2 0h11m57 0h3m-81 1h6m7 0h5m-20 1h4m-7 1h4m-5 1h2"/><path stroke="#bb98ce" d="M117 4h3m-4 1h4m-3 1h3m-2 1h2m-3 1h2m-3 1h2m-2 1h1m-2 1h1m9 0h6m8 0h2m-17 1h19m15 0h1m-43 1h1m6 0h3m16 0h3m12 0h1m-41 1h1m4 0h2m19 0h2m10 0h3m-40 1h4m22 0h2m7 0h5m-13 1h1m5 0h4m-10 1h1m3 0h4m-7 1h5m-5 1h4m0 7h1m-2 1h3m-3 1h3m-2 1h1m-21 10h2m-4 1h1m4 1h1m-1 1h1m-6 2h1m3 0h1m-4 1h3m-39 2h2m12 0h2m-18 1h2m3 0h2m7 0h1m4 0h2m4 0h6m-37 1h2m2 0h3m6 0h2m2 0h2m8 0h4m5 0h2m8 0h4m-92 1h2m9 0h4m25 0h7m10 0h2m20 0h1m7 0h2m3 0h1m-89 1h1m4 0h1m6 0h1m22 0h2m3 0h2m34 0h1m5 0h2m6 0h1m-97 1h1m6 0h3m9 0h2m2 0h4m14 0h1m41 0h1m3 0h1m9 0h1m-77 1h7m13 0h2m41 0h3m11 0h1m10 0h1m3 0h4m-118 1h1m27 0h2m11 0h3m56 0h1m15 0h6m-93 1h2m10 0h3m57 0h1m6 0h1m9 0h4m-123 1h1m31 0h2m7 0h5m58 0h5m-110 1h1m34 0h2m3 0h9m-49 1h1m36 0h13m-51 1h1m39 0h7m4 0h1m-53 1h2m42 0h3m6 0h1m-55 1h2m43 0h2m7 0h1m-56 1h2m45 0h1m-49 1h1m47 0h1m-51 1h2m48 0h1m7 0h1m-60 1h2m50 0h1m5 0h1m-75 1h2m11 0h4m52 0h1m3 0h1m-76 1h7m5 0h5m56 0h1m-78 1h17m-20 1h7m7 0h1m-18 1h6m-8 1h5m-5 1h3m-3 1h1"/><path stroke="#c9afd9" d="M119 3h5m-4 1h4m-4 1h5m-5 1h6m31 0h3m-40 1h8m27 0h5m-41 1h10m26 0h5m-42 1h2m2 0h9m24 0h5m-43 1h1m5 0h9m5 0h6m12 0h5m-44 1h1m6 0h2m6 0h8m2 0h4m10 0h4m-43 1h1m6 0h1m19 0h3m8 0h4m-41 1h1m4 0h1m22 0h2m6 0h4m-39 1h1m2 0h1m23 0h3m4 0h3m-9 1h7m-7 1h5m-5 1h3m-20 23h1m2 0h1m-5 1h1m3 0h1m-5 1h1m3 0h1m-5 1h1m3 0h1m-4 1h3m-39 4h3m10 0h4m-18 1h1m3 0h2m6 0h1m5 0h2m4 0h5m-31 1h2m6 0h2m2 0h2m8 0h4m5 0h1m10 0h3m-93 1h1m3 0h1m6 0h1m3 0h2m25 0h3m2 0h2m9 0h3m19 0h1m8 0h1m4 0h1m-90 1h1m3 0h2m6 0h1m23 0h8m31 0h2m5 0h2m6 0h1m-97 1h1m7 0h1m10 0h2m22 0h6m33 0h2m3 0h2m8 0h1m12 0h3m-93 1h7m16 0h5m36 0h3m11 0h1m9 0h1m5 0h1m-116 1h1m25 0h3m15 0h5m51 0h1m15 0h2m-118 1h1m26 0h4m14 0h4m52 0h2m5 0h1m8 0h5m-123 1h1m30 0h3m14 0h2m54 0h5m9 0h5m-123 1h1m33 0h2m13 0h2m69 0h3m-124 1h2m34 0h3m12 0h1m-52 1h1m37 0h4m10 0h1m-54 1h2m38 0h3m10 0h1m-55 1h2m40 0h3m9 0h1m-57 1h2m43 0h2m9 0h1m-58 1h2m45 0h1m9 0h1m-59 1h2m46 0h2m7 0h1m-59 1h2m48 0h2m5 0h1m-60 1h3m50 0h3m1 0h2m-63 1h6m52 0h3m-74 1h7m1 0h6m-18 1h15m-18 1h15m-17 1h4m-6 1h4m-5 1h4m-4 1h3m-3 1h2m-2 1h1"/><path stroke="#d7c4e3" d="M124 3h7m22 0h7m-36 1h7m22 0h7m-35 1h6m21 0h8m-34 1h5m21 0h5m-29 1h4m7 0h3m10 0h3m-26 1h3m6 0h6m9 0h2m-35 1h2m9 0h3m2 0h9m8 0h2m-37 1h5m9 0h5m6 0h3m7 0h2m-38 1h2m2 0h2m22 0h2m6 0h2m-38 1h1m3 0h2m23 0h2m4 0h2m-36 1h1m2 0h1m25 0h6m-34 1h2m27 0h4m-22 26h2m-3 1h1m-1 1h1m-1 1h3m-39 6h3m9 0h2m2 0h1m-18 1h2m3 0h1m6 0h2m4 0h2m4 0h5m-78 1h3m8 0h3m34 0h2m5 0h2m3 0h2m6 0h5m4 0h2m10 0h4m-94 1h1m3 0h1m6 0h1m4 0h1m32 0h1m7 0h5m7 0h4m6 0h1m9 0h1m4 0h1m-90 1h2m1 0h3m5 0h2m30 0h2m8 0h2m20 0h1m7 0h1m6 0h1m-97 1h1m7 0h2m8 0h2m28 0h2m32 0h2m3 0h2m8 0h1m11 0h1m2 0h2m-114 1h1m18 0h6m23 0h2m33 0h4m11 0h1m9 0h1m4 0h2m-115 1h1m21 0h4m22 0h2m49 0h1m8 0h1m5 0h2m-117 1h1m24 0h5m19 0h2m50 0h2m5 0h1m6 0h2m-117 1h1m26 0h6m17 0h1m51 0h7m6 0h4m-119 1h1m31 0h2m16 0h2m53 0h4m6 0h7m-123 1h2m33 0h2m15 0h1m65 0h5m-123 1h2m33 0h3m14 0h2m67 0h1m-123 1h2m35 0h3m13 0h2m-57 1h3m38 0h2m12 0h2m-58 1h2m41 0h2m11 0h1m-58 1h2m43 0h1m10 0h2m-59 1h2m44 0h2m8 0h2m-59 1h3m45 0h2m6 0h2m-59 1h3m46 0h3m3 0h2m-62 1h7m48 0h6m-64 1h9m50 0h4m-66 1h4m-17 1h16m-18 1h4m1 0h11m-17 1h3m6 0h6m-16 1h3m-4 1h3m-4 1h4"/><path stroke="#e2d4eb" d="M131 3h22m-22 1h22m-22 1h21m-21 1h21m-20 1h7m3 0h10m-20 1h6m6 0h9m-19 1h2m9 0h8m-7 1h7m-34 1h2m26 0h6m-35 1h3m27 0h4m-33 1h2m9 28h2m-2 1h2m-25 7h2m-15 1h3m9 0h4m-17 1h5m7 0h6m5 0h4m-77 1h3m8 0h4m34 0h7m5 0h7m4 0h6m11 0h4m-94 1h5m6 0h5m34 0h8m2 0h20m9 0h6m-95 1h7m2 0h8m32 0h32m7 0h8m13 0h2m-111 1h18m31 0h33m4 0h11m11 0h4m-112 1h21m28 0h49m10 0h5m-114 1h24m26 0h50m8 0h6m-114 1h26m24 0h51m7 0h6m-114 1h31m20 0h53m4 0h6m-114 1h33m18 0h65m-116 1h33m19 0h67m-120 1h35m18 0h68m-122 1h38m16 0h67m-123 1h41m14 0h68m-124 1h43m13 0h68m-125 1h44m12 0h68m-124 1h45m10 0h69m-125 1h46m8 0h71m-126 1h48m6 0h71m-126 1h50m4 0h72m-134 1h134m-135 1h134m-148 1h1m11 0h136m-150 1h6m6 0h138m-151 1h151m-152 1h152m-152 1h152m-48 1h47m-45 1h45m-45 1h45m-42 1h42m-41 1h41m-41 1h41m-41 1h41m-41 1h41m-41 1h41m-40 1h40m-39 1h39m-38 1h38m-37 1h37m-34 1h34m35 0h2m-68 1h30m33 0h6m-68 1h30m32 0h6m-66 1h29m31 0h5m-63 1h27m24 0h6m1 0h4m-59 1h23m23 0h8m4 0h3m-59 1h19m23 0h11m1 0h7m-59 1h15m23 0h21m-57 1h14m3 0h2m6 0h32m-54 1h52m-51 1h48m-48 1h45m-46 1h43m-44 1h42m-42 1h37m-37 1h34m-37 1h33m-34 1h27m-28 1h22m-23 1h21m-21 1h13m-13 1h6m-5 1h2"/></g></g></g><use href="#o"/><path d="M731.5 37.0h0M776.8 37.0h0M587.2 39.5h0M674.0 41.5h0M752.3 59.0h0M597.2 65.3h0M520.9 82.6h0M692.2 93.8h0M730.3 96.6h0M565.1 105.1h0M788.6 105.8h0M474.1 106.6h0M715.3 114.6h0M661.0 117.1h0M509.1 120.3h0M436.5 130.6h0M748.5 141.6h0M570.4 146.4h0M686.5 146.4h0M522.1 152.1h0M782.3 157.9h0M638.9 164.1h0M512.1 166.6h0M462.1 167.9h0M684.7 168.4h0M596.7 173.9h0M545.4 177.1h0M739.8 184.6h0M489.6 187.9h0M575.4 198.9h0M509.6 202.7h0M781.8 204.7h0M653.0 207.2h0M409.5 209.2h0M760.5 221.4h0M505.8 222.2h0M462.8 223.4h0M148.4 224.7h0M596.7 230.9h0M311.7 231.4h0M374.8 234.7h0M699.7 234.7h0M200.4 235.2h0M241.4 237.2h0M763.5 247.9h0M539.1 249.2h0M419.5 253.9h0M633.9 254.7h0M476.3 255.4h0M592.9 257.9h0M221.4 259.7h0M728.0 259.7h0M334.0 260.4h0M146.4 262.2h0M280.2 262.2h0M677.2 263.9h0M759.0 274.7h0M517.9 276.0h0M378.5 276.5h0M652.7 276.7h0M255.4 279.2h0M607.2 280.5h0M692.2 285.5h0M461.6 286.5h0M558.4 286.5h0M212.2 288.5h0M411.5 291.0h0M313.5 291.5h0M162.1 296.5h0M652.7 301.0h0M357.8 303.0h0M716.0 303.5h0M536.6 304.7h0M115.8 310.5h0M430.8 316.0h0M577.9 318.5h0M789.1 318.5h0M477.8 319.0h0M750.5 319.7h0M304.2 320.2h0M243.4 323.0h0M630.2 324.7h0M693.5 325.5h0M74.6 331.5h0M187.1 331.5h0M383.0 332.2h0M747.3 332.2h0M349.8 333.0h0M657.7 341.8h0M451.3 343.0h0M232.2 352.3h0M572.9 352.8h0M514.6 354.3h0M274.2 356.0h0M617.7 359.8h0M699.7 360.5h0M130.1 363.5h0M769.8 364.8h0M375.5 367.8h0M188.9 370.3h0M547.1 372.8h0M480.8 374.0h0M328.0 376.0h0M43.8 377.3h0M444.5 377.3h0M727.3 380.6h0M651.5 383.7h0M594.2 401.7h0M698.5 404.9h0M763.5 407.9h0M642.9 411.2h0M719.8 436.9h0M763.0 447.9h0M741.0 463.2h0M666.7 471.2h0M702.2 484.5h0M895.4 495.5h0M816.6 509.5h0M726.5 515.0h0M714.8 528.3h0M737.3 532.0h0M771.5 541.3h0M719.8 544.5h0M695.2 547.5h0" stroke="#808080" stroke-width="27.5" stroke-linecap="round" fill="none"/><g font-size="21" font-weight="bold" text-anchor="middle"><text x="730.9" y="44.3" letter-spacing="-1.6">100</text><text x="776.8" y="44.3">98</text><text x="587.2" y="46.8">96</text><text x="673.4" y="48.8" letter-spacing="-1.6">100</text><text x="751.7" y="66.3" letter-spacing="-1.6">100</text><text x="596.6" y="72.6" letter-spacing="-1.6">100</text><text x="520.9" y="89.9">94</text><text x="692.2" y="101.1">89</text><text x="730.3" y="103.9">96</text><text x="565.1" y="112.4">86</text><text x="788.6" y="113.1">93</text><text x="474.1" y="113.9">92</text><text x="715.3" y="121.9">86</text><text x="661.0" y="124.4">96</text><text x="509.1" y="127.6">94</text><text x="436.5" y="137.9">89</text><text x="748.5" y="148.9">97</text><text x="570.4" y="153.7">71</text><text x="686.5" y="153.7">82</text><text x="522.1" y="159.4">92</text><text x="782.3" y="165.2">93</text><text x="638.9" y="171.4">82</text><text x="512.1" y="173.9">83</text><text x="462.1" y="175.2">89</text><text x="684.7" y="175.7">92</text><text x="596.7" y="181.2">86</text><text x="545.4" y="184.4">89</text><text x="739.8" y="191.9">88</text><text x="489.6" y="195.2">92</text><text x="575.4" y="206.2">78</text><text x="509.6" y="210.0">86</text><text x="781.8" y="212.0">89</text><text x="652.4" y="214.5" letter-spacing="-1.6">100</text><text x="409.5" y="216.5">87</text><text x="760.5" y="228.7">93</text><text x="505.8" y="229.5">88</text><text x="462.8" y="230.7">94</text><text x="148.4" y="232.0">72</text><text x="596.7" y="238.2">94</text><text x="311.7" y="238.7">86</text><text x="374.8" y="242.0">86</text><text x="699.7" y="242.0">86</text><text x="200.4" y="242.5">86</text><text x="241.4" y="244.5">86</text><text x="763.5" y="255.2">91</text><text x="538.5" y="256.5" letter-spacing="-1.6">100</text><text x="419.5" y="261.2">97</text><text x="633.9" y="262.0">94</text><text x="475.7" y="262.7" letter-spacing="-1.6">100</text><text x="592.3" y="265.2" letter-spacing="-1.6">100</text><text x="220.8" y="267.0" letter-spacing="-1.6">100</text><text x="728.0" y="267.0">89</text><text x="334.0" y="267.7">96</text><text x="146.4" y="269.5">86</text><text x="279.6" y="269.5" letter-spacing="-1.6">100</text><text x="676.6" y="271.2" letter-spacing="-1.6">100</text><text x="758.4" y="282.0" letter-spacing="-1.6">100</text><text x="517.3" y="283.3" letter-spacing="-1.6">100</text><text x="378.5" y="283.8">94</text><text x="652.1" y="284.0" letter-spacing="-1.6">100</text><text x="254.8" y="286.5" letter-spacing="-1.6">100</text><text x="606.6" y="287.8" letter-spacing="-1.6">100</text><text x="691.6" y="292.8" letter-spacing="-1.6">100</text><text x="461.0" y="293.8" letter-spacing="-1.6">100</text><text x="557.8" y="293.8" letter-spacing="-1.6">100</text><text x="211.6" y="295.8" letter-spacing="-1.6">100</text><text x="411.5" y="298.3">97</text><text x="312.9" y="298.8" letter-spacing="-1.6">100</text><text x="162.1" y="303.8">93</text><text x="652.1" y="308.3" letter-spacing="-1.6">100</text><text x="357.2" y="310.3" letter-spacing="-1.6">100</text><text x="715.4" y="310.8" letter-spacing="-1.6">100</text><text x="536.0" y="312.0" letter-spacing="-1.6">100</text><text x="115.8" y="317.8">91</text><text x="430.8" y="323.3">92</text><text x="577.3" y="325.8" letter-spacing="-1.6">100</text><text x="788.5" y="325.8" letter-spacing="-1.6">100</text><text x="477.2" y="326.3" letter-spacing="-1.6">100</text><text x="749.9" y="327.0" letter-spacing="-1.6">100</text><text x="303.6" y="327.5" letter-spacing="-1.6">100</text><text x="242.8" y="330.3" letter-spacing="-1.6">100</text><text x="629.6" y="332.0" letter-spacing="-1.6">100</text><text x="692.9" y="332.8" letter-spacing="-1.6">100</text><text x="74.6" y="338.8">96</text><text x="186.5" y="338.8" letter-spacing="-1.6">100</text><text x="382.4" y="339.5" letter-spacing="-1.6">100</text><text x="746.7" y="339.5" letter-spacing="-1.6">100</text><text x="349.2" y="340.3" letter-spacing="-1.6">100</text><text x="657.1" y="349.1" letter-spacing="-1.6">100</text><text x="450.7" y="350.3" letter-spacing="-1.6">100</text><text x="231.6" y="359.6" letter-spacing="-1.6">100</text><text x="572.3" y="360.1" letter-spacing="-1.6">100</text><text x="514.0" y="361.6" letter-spacing="-1.6">100</text><text x="273.6" y="363.3" letter-spacing="-1.6">100</text><text x="617.1" y="367.1" letter-spacing="-1.6">100</text><text x="699.1" y="367.8" letter-spacing="-1.6">100</text><text x="129.5" y="370.8" letter-spacing="-1.6">100</text><text x="769.2" y="372.1" letter-spacing="-1.6">100</text><text x="374.9" y="375.1" letter-spacing="-1.6">100</text><text x="188.3" y="377.6" letter-spacing="-1.6">100</text><text x="546.5" y="380.1" letter-spacing="-1.6">100</text><text x="480.2" y="381.3" letter-spacing="-1.6">100</text><text x="327.4" y="383.3" letter-spacing="-1.6">100</text><text x="43.2" y="384.6" letter-spacing="-1.6">100</text><text x="443.9" y="384.6" letter-spacing="-1.6">100</text><text x="726.7" y="387.9" letter-spacing="-1.6">100</text><text x="650.9" y="391.0" letter-spacing="-1.6">100</text><text x="593.6" y="409.0" letter-spacing="-1.6">100</text><text x="697.9" y="412.2" letter-spacing="-1.6">100</text><text x="762.9" y="415.2" letter-spacing="-1.6">100</text><text x="642.3" y="418.5" letter-spacing="-1.6">100</text><text x="719.2" y="444.2" letter-spacing="-1.6">100</text><text x="762.4" y="455.2" letter-spacing="-1.6">100</text><text x="740.4" y="470.5" letter-spacing="-1.6">100</text><text x="666.1" y="478.5" letter-spacing="-1.6">100</text><text x="701.6" y="491.8" letter-spacing="-1.6">100</text><text x="894.8" y="502.8" letter-spacing="-1.6">100</text><text x="816.0" y="516.8" letter-spacing="-1.6">100</text><text x="725.9" y="522.3" letter-spacing="-1.6">100</text><text x="714.2" y="535.6" letter-spacing="-1.6">100</text><text x="736.7" y="539.3" letter-spacing="-1.6">100</text><text x="770.9" y="548.6" letter-spacing="-1.6">100</text><text x="719.2" y="551.8" letter-spacing="-1.6">100</text><text x="694.6" y="554.8" letter-spacing="-1.6">100</text></g><text transform="translate(6.9,550.0) scale(0.9670,1)" font-size="64">Latest Irradiance</text><path d="M714.7 565.5v-4.5" stroke="#000" stroke-width="1.5"/></g>
<g transform="translate(9.5,833.5)"><rect x="0" y="0" width="976" height="565.5" fill="#fff" stroke="#222" stroke-width="1.5"/><g clip-path="url(#c)"><g filter="url(#b)"><g transform="scale(5) translate(0,.5)" stroke-width="1.25" fill="none"><path stroke="#0d69ff" d="M142 21h2m-2 1h1"/><path stroke="#087cff" d="M142 20h2m-3 1h1m-1 1h1m1 0h1"/><path stroke="#038fff" d="M141 20h1m2 0h1m-5 1h1m3 0h1m-5 1h1m0 1h2"/><path stroke="#00a2ff" d="M142 19h3m-6 1h2m-2 1h1m4 1h1m-5 1h1m2 0h1"/><path stroke="#00b6ff" d="M139 19h3m3 0h1m-1 1h1m-7 2h1m-1 1h1m1 1h1"/><path stroke="#00caff" d="M138 19h1m-1 1h1m-1 1h1m6 0h1m-8 1h1m0 2h2m1 0h1m-29 5h1m14 10h2m-2 1h2"/><path stroke="#00e0ff" d="M138 18h2m-2 5h1m5 0h1m-7 1h1m4 0h1m-6 1h4m-4 1h1m-2 1h2m-3 1h2m-23 1h1m19 0h3m-12 3h4m-11 1h3m4 0h4m-11 1h4m3 0h4m-11 1h3m5 0h3m-2 1h2m-2 1h3m-3 1h3m-3 1h1m2 0h1m-1 1h1m-2 1h1"/><path stroke="#00f4ff" d="M140 18h5m-8 1h1m-1 1h1m-1 1h1m-1 1h1m7 0h1m-9 3h1m4 0h1m-6 1h1m1 0h2m-5 1h1m2 0h1m-5 1h1m2 0h1m-23 1h1m17 0h1m3 0h1m-24 1h2m16 0h5m-12 1h7m1 0h1m-15 1h1m3 0h2m4 0h2m-10 1h4m4 0h2m-14 1h1m4 0h3m4 0h2m-10 1h5m3 0h1m-5 1h2m2 0h1m-4 1h1m3 0h1m-5 1h1m3 0h1m-4 2h1m0 1h1"/><path stroke="#00fbf3" d="M137 18h1m7 0h1m0 1h1m-1 1h1m-10 3h1m-1 1h1m-2 2h1m4 0h1m-7 1h1m4 0h1m-27 1h2m18 0h1m4 0h1m-8 1h2m-20 1h1m12 0h6m5 0h1m-15 1h2m7 0h1m1 0h2m-19 1h2m1 0h3m8 0h3m-17 1h1m13 0h1m-1 1h1m-15 1h1m12 0h1m-13 1h7m5 0h1m-6 1h1m0 2h1m3 2h1"/><path stroke="#00f4dc" d="M136 20h1m7 4h1m-9 1h1m6 0h1m-9 1h1m-2 1h1m-2 1h1m-6 1h4m7 0h1m-23 1h1m7 0h2m-12 1h9m13 0h1m-21 1h1m17 0h2m-4 1h2m-2 1h1m-2 1h1m-1 1h1m-9 1h2m6 0h1m-7 1h1m5 0h1m-1 1h1m-6 1h1m4 0h1m-5 1h1"/><path stroke="#00edc8" d="M138 17h3m-5 2h1m-1 2h1m9 0h1m-11 1h1m-1 1h1m8 0h1m-10 1h1m5 2h1m-10 1h1m7 0h1m-26 1h1m14 0h2m7 0h1m-28 1h1m3 0h1m8 0h2m-10 1h1m4 0h2m14 0h1m-2 1h1m-23 1h1m20 0h1m-21 1h1m17 0h1m-19 1h1m16 0h1m-2 1h1m-16 1h1m0 1h5m1 1h1m0 1h1m2 3h2"/><path stroke="#00e8b8" d="M137 17h1m3 0h3m-8 1h1m-2 7h1m-2 1h1m-3 1h1m-20 1h1m13 0h4m-13 1h1m5 0h2m14 0h1m-22 1h4m13 3h1m-2 1h1m-19 1h1m16 0h1m-2 1h1m-1 1h1m-12 1h3m8 0h1m-9 1h1m0 1h1m0 1h1m4 0h1"/><path stroke="#00e3a8" d="M144 17h1m1 1h1m-1 4h1m-12 2h1m8 1h1m-12 1h1m9 0h1m-13 1h1m10 0h1m-26 1h1m7 0h2m14 0h1m-19 1h1m-11 1h1m26 0h1m-27 1h1m24 0h1m-2 1h1m-23 1h1m20 0h1m-21 3h1m16 0h1m-17 1h1m0 1h3m2 1h1m8 0h1m-6 3h1m2 0h1"/><path stroke="#00dc98" d="M136 17h1m-2 2h1m-1 1h1m-1 1h1m-1 1h1m-1 1h1m9 1h1m-12 1h1m-21 2h2m11 0h4m-7 1h1m-6 1h4m18 0h1m-27 3h1m20 2h1m-2 1h1m-19 2h1m16 0h1m-17 1h1m3 1h2m1 1h1m7 0h1m-8 1h1"/><path stroke="#00d488" d="M138 16h2m5 1h1m-11 1h1m-2 6h1m-3 2h1m-17 1h1m8 0h2m16 0h1m-26 1h1m4 0h1m18 0h1m-3 3h1m-2 1h1m-2 1h1m-23 1h1m20 0h1m-2 1h1m-2 1h1m-2 2h1m-16 1h3m1 1h2m0 1h1m1 1h1"/><path stroke="#00cd77" d="M137 16h1m2 0h2m5 3h1m-1 1h1m-14 3h1m11 0h1m-14 2h1m-7 1h5m12 0h1m-28 1h1m6 0h1m-6 1h4m19 1h1m-2 1h1m-3 3h1m-24 2h1m18 2h1m-19 1h1m0 1h1m15 0h1m-15 1h3m1 1h1m8 0h1m-8 1h1m5 0h1m-4 1h2"/><path stroke="#00c664" d="M136 16h1m5 0h1m-8 1h1m-2 2h1m-1 1h1m-1 1h1m12 0h1m-14 1h1m-3 3h1m12 0h1m-21 1h2m-4 1h1m19 1h1m-3 3h1m-2 1h1m-26 1h1m22 1h1m-2 1h1m-22 1h1m19 0h1m-21 1h1m18 1h1m-19 1h1m0 1h2m14 0h1m-15 1h4m-4 1h1m-1 1h1m7 0h1"/><path stroke="#00bf51" d="M143 16h1m-10 2h1m-2 6h1m12 0h1m-20 1h5m-8 1h1m-12 1h1m4 0h1m2 0h2m21 0h1m-33 2h1m29 1h1m-30 1h1m0 1h1m25 1h1m-2 1h1m-2 1h1m-2 1h1m-2 1h1m-21 1h1m2 3h1m-1 1h1m1 0h5m-7 1h1m1 0h1m5 0h1m3 0h1m-13 1h2"/><path stroke="#00b93e" d="M138 15h2m4 1h1m1 1h1m0 1h1m-1 4h1m-15 1h1m-9 2h2m-4 1h1m21 0h1m-27 1h2m-9 1h1m30 1h1m-3 3h1m-27 2h1m0 5h1m18 0h1m-19 1h1m0 1h1m-1 1h1m14 0h1m-16 1h1m3 0h1m3 0h1m-6 1h1"/><path stroke="#00b32a" d="M137 15h1m2 0h1m-6 1h1m-2 1h1m-2 2h1m-1 1h1m-1 1h1m-1 1h1m-6 2h1m3 0h1m-9 1h1m-10 1h2m5 0h1m21 2h1m-3 3h1m-3 3h1m-2 1h1m-2 1h1m-2 1h1m-2 1h1m-21 2h1m0 1h1m16 0h1m-12 2h3m6 0h1m-15 1h1m3 0h1m-4 1h1"/><path stroke="#06b018" d="M136 15h1m4 0h1m-9 3h1m13 5h1m-22 1h2m1 0h3m-9 1h1m22 0h1m-33 1h1m2 0h2m1 0h2m23 1h1m-34 3h1m30 0h1m-2 2h1m-2 1h1m-27 2h1m-1 1h1m-1 1h1m-1 1h1m-1 1h1m20 0h1m-2 1h1m-19 2h1m10 2h2m-10 1h2"/><path stroke="#12b008" d="M135 15h1m6 0h1m-9 1h1m10 0h1m-13 1h1m-2 3h1m-1 1h1m-1 1h1m-5 1h1m3 0h1m-9 1h2m-4 1h1m-4 1h1m24 3h1m-2 2h1m-30 2h1m26 1h1m-2 1h1m-2 1h1m-2 1h1m-2 1h1m-22 3h1m17 1h1m-18 1h1m5 1h1m3 0h1m2 0h1m-13 1h1m3 0h1"/><path stroke="#22b300" d="M137 14h3m3 1h1m-12 3h1m-1 1h1m-7 4h2m1 0h3m-9 1h1m23 0h1m-27 1h1m24 1h1m-35 1h1m32 1h1m-2 2h1m-32 2h1m29 0h1m-2 1h1m-45 4h1m16 3h1m20 0h1m-2 1h1m-3 2h1m-10 1h3m4 0h1m-91 14h2m5 6h1m-12 1h1"/><path stroke="#36b900" d="M136 14h1m3 0h1m-7 1h1m-2 1h1m-3 3h1m16 0h1m-19 1h2m16 0h1m-19 1h2m16 0h1m-22 1h5m-7 1h1m-6 2h1m-8 1h1m32 1h1m-2 2h1m-2 2h1m-3 3h1m-2 1h1m-2 1h1m-2 1h1m-2 1h1m-2 1h1m-22 3h1m0 2h1m5 1h1m-82 12h1m-1 2h1m-6 7h1m16 4h1m-1 1h1"/><path stroke="#4cc100" d="M135 14h1m5 0h1m2 1h1m1 1h1m-15 1h1m14 0h1m-17 1h1m-3 3h1m-4 1h1m-3 1h1m-3 1h1m-6 1h3m27 0h1m-36 6h1m30 2h1m-30 1h1m-16 3h1m-2 1h2m14 1h1m22 1h1m-23 1h1m20 0h1m-2 1h1m-12 3h1m-6 1h3m-81 11h1m-1 2h1m6 4h1m-12 1h1m11 0h1m-14 1h1m1 0h1m-3 1h1m18 4h1m-1 1h1"/><path stroke="#64cb00" d="M133 15h1m-2 1h1m-3 3h1m-2 1h1m-3 1h2m-4 1h1m22 0h1m-26 1h1m-3 1h1m-7 1h2m29 3h1m-2 2h1m-2 2h1m-2 2h1m-2 1h1m-2 1h1m-45 1h1m16 0h1m25 0h1m-27 1h1m24 0h1m-2 1h1m-23 4h1m17 0h1m-3 1h1m-8 1h5m-8 1h1m-80 12h1m3 5h1m-12 1h1m1 0h1m8 0h1m-10 2h1"/><path stroke="#7ed500" d="M136 13h4m-6 1h1m7 0h1m-12 3h1m-2 1h1m17 0h1m-20 1h1m-2 1h1m-3 1h1m-3 1h1m-3 1h1m25 0h1m-29 1h1m26 2h1m-37 3h1m34 0h1m-2 2h1m-2 2h1m-31 2h1m-1 1h1m-15 2h1m13 2h1m22 1h1m-2 1h1m-20 3h1m12 0h1m-8 1h1m-84 12h1m-1 1h1m2 0h1m-3 1h2m6 3h1m-1 2h1m4 4h1"/><path stroke="#9adf00" d="M135 13h1m4 0h1m-8 1h1m-2 1h1m12 0h1m-15 1h1m-2 1h1m-2 1h1m-2 1h1m-2 1h1m-3 1h1m-3 1h1m-3 1h1m-3 1h1m-6 1h1m32 2h1m-37 1h1m33 4h1m-2 2h1m-2 1h1m-46 1h1m43 0h1m-2 1h1m-45 1h1m42 0h1m-2 1h1m-2 1h1m-24 2h1m19 1h1m-3 1h1m-16 2h1m5 0h3m-84 11h1m-4 3h1m2 0h1m-7 3h2m0 1h1m10 0h1m-16 1h1m3 0h1m8 0h1m-12 2h1m17 2h1m-3 1h1m-1 1h1"/><path stroke="#b0e700" d="M134 13h1m6 0h1m1 1h1m-18 6h1m-3 1h1m-7 3h1m29 0h1m-37 2h1m34 2h1m-2 2h1m-34 3h1m31 0h1m-2 2h1m-2 1h1m-44 1h1m13 4h1m23 0h1m-2 1h1m-22 2h1m14 1h1m-5 1h1m-88 11h1m0 4h1m5 1h1m-12 1h1m2 0h1m6 0h1m-12 1h1m14 1h1m-16 1h1m0 1h1m16 2h1m2 1h1m-3 2h1"/><path stroke="#c0ec00" d="M135 12h4m-6 1h1m-2 1h1m-2 1h1m-2 1h1m-2 1h1m-2 1h1m-2 1h1m-3 1h1m-4 2h1m-3 1h1m-4 1h1m30 1h1m-38 2h1m-1 3h1m34 1h1m-2 3h1m-47 2h1m42 1h1m-2 1h1m-43 1h2m39 0h1m-2 1h1m-25 3h1m20 0h1m-3 1h1m-7 2h1m-4 1h2m-88 12h1m-1 1h1m0 1h1m1 0h1m-6 1h3m6 0h1m1 0h1m1 1h1m-5 1h1m-8 2h1m-2 1h1m17 4h1m-2 1h1"/><path stroke="#d0f100" d="M134 12h1m4 0h2m1 1h1m1 1h1m2 2h1m0 1h1m-23 2h1m-4 2h1m-3 1h1m-3 1h1m-4 1h1m-4 1h1m34 1h1m-2 3h1m-36 3h1m33 0h1m-1 1h1m-2 2h1m-49 1h1m46 0h1m-44 2h1m-4 1h1m14 0h1m25 2h1m-2 1h1m-2 1h1m-3 1h1m-4 1h1m-4 1h1m-8 1h3m2 0h1m-87 9h2m-4 2h1m4 0h1m-1 1h1m-1 1h1m-7 1h2m3 0h1m-8 1h1m3 0h2m-7 1h1m4 0h1m-1 1h1m6 1h1m6 3h2m0 1h1"/><path stroke="#dff700" d="M135 11h3m-5 1h1m-2 1h1m-2 1h1m-2 1h1m15 0h1m-18 1h1m-2 1h1m-2 1h1m-4 2h1m24 0h1m-28 1h1m26 0h1m-1 1h1m-35 2h1m32 3h1m-2 3h1m-35 4h1m32 0h1m-1 1h1m-2 1h1m-3 1h1m-31 1h1m28 0h1m-42 1h1m39 0h1m-29 1h1m26 0h1m-27 2h1m24 0h1m-2 1h1m-3 1h2m-22 1h1m4 2h1m3 1h2m-89 12h1m-2 1h1m6 0h1m-10 1h1m6 0h4m3 0h1m-5 1h1m-12 2h1m5 0h1m10 0h1m-17 2h1m17 1h1m-1 4h1"/><path stroke="#edfc00" d="M134 11h1m3 0h2m1 1h1m1 1h1m-18 5h1m-2 1h1m23 0h1m-27 1h1m-4 2h1m-3 1h1m30 0h1m-2 5h1m-2 3h1m-48 5h1m0 1h1m11 0h1m30 0h1m-6 6h1m-25 1h1m22 0h1m-6 1h1m-17 1h1m12 0h1m-11 1h1m7 0h1m-5 1h1m2 0h1m-88 8h1m-2 1h1m-2 2h1m-3 2h1m8 0h2m-13 2h1m6 0h1m-8 1h1m10 0h1m5 0h1m-18 2h1m14 0h2m5 2h1m-1 4h1"/><path stroke="#f7fb00" d="M134 10h4m-5 1h1m6 0h1m-9 1h1m9 0h1m-12 1h1m-2 1h1m14 0h1m-17 1h1m-2 1h1m-2 1h1m-4 2h1m-4 2h1m-3 1h1m-3 1h1m-4 1h1m34 0h1m-39 2h1m36 3h1m-38 2h1m35 1h1m-1 1h1m-35 2h1m-1 1h1m29 2h1m-2 1h1m-2 1h1m-29 1h1m26 0h1m-2 3h1m-6 1h1m2 0h3m-9 1h1m-7 3h2m-84 7h1m0 1h1m-7 1h1m-2 2h1m7 0h1m-11 1h1m11 0h1m-14 1h1m7 1h3m-4 1h1m-2 2h1m10 0h1m-13 1h1m13 0h2m-3 1h1m-1 1h1m-1 1h1"/><path stroke="#fcf400" d="M135 9h1m-3 1h1m4 0h1m-7 1h1m11 2h1m-19 4h1m-2 1h1m23 0h1m-28 2h1m-11 5h1m36 0h1m-1 1h1m-2 4h1m-53 7h1m0 2h1m42 3h1m-27 1h1m25 0h1m-6 2h2m-18 2h1m9 0h1m-7 1h1m-87 11h1m7 0h1m-12 1h3m-3 1h1m15 1h1m0 1h1m-6 2h1m5 1h1m-1 1h1m2 0h1m-20 1h2m19 1h1m-1 1h1m-6 1h1m1 2h2"/><path stroke="#ffec00" d="M134 9h1m1 0h2m1 1h1m1 1h1m-11 1h1m11 0h1m-14 1h1m-2 1h1m-2 1h1m-2 1h1m-5 3h1m-4 2h1m-3 1h1m-3 1h1m32 4h1m-40 1h1m-1 1h1m37 2h1m-2 3h1m-50 1h1m48 0h1m-2 1h2m-3 1h2m-51 1h1m5 0h1m41 0h1m-43 1h1m38 2h1m-29 1h1m26 2h1m-1 1h1m-9 1h1m6 0h1m-12 2h1m-5 1h1m2 0h1m-2 1h1m-93 9h1m1 0h1m-4 1h1m-1 1h1m14 0h1m-16 1h1m-1 1h1m-1 1h1m8 0h1m1 0h1m-4 1h1m10 0h1m-5 1h1m4 0h1m-20 1h1m16 0h1m4 0h1m-19 1h1m18 3h1"/><path stroke="#ffe400" d="M134 8h2m-3 1h1m4 0h1m-7 1h1m7 0h1m-10 1h1m10 0h1m-13 1h1m16 3h1m0 1h1m-24 1h1m-2 1h1m-4 2h1m-3 1h1m-7 3h1m35 4h1m-2 4h1m-37 1h1m-14 2h1m45 3h1m-3 1h1m-2 1h1m-2 2h1m-27 3h1m0 1h1m21 0h1m-9 1h1m-6 3h1m-87 6h1m-2 1h1m-2 1h1m-6 1h2m1 0h1m-4 1h1m13 0h1m-4 4h1m8 0h1m7 0h1m-28 1h1m20 1h1m-20 2h1m21 0h1m-6 4h1m0 1h1"/><path stroke="#ffdc00" d="M136 8h1m2 1h1m1 1h1m-13 3h1m-2 1h1m17 0h1m-20 1h1m-2 1h1m-5 3h1m-6 3h1m-3 1h1m-6 4h1m38 2h1m-2 4h1m-1 1h1m-1 1h1m-53 1h1m4 0h1m45 1h1m-36 2h1m-13 1h2m10 0h1m28 3h1m-28 1h1m18 2h1m3 0h1m2 0h1m-23 1h1m3 1h1m4 2h1m-7 6h2m-87 2h1m8 0h1m-14 3h1m16 0h1m9 3h1m-15 1h1m7 0h1m5 0h2m-28 1h1m21 0h1m-16 1h1m9 0h1m6 0h1m-7 1h1m62 2h1m-89 2h1m29 1h1"/><path stroke="#ffd400" d="M133 8h1m3 0h1m-6 1h1m-2 1h1m-2 1h1m12 0h1m-15 1h1m14 0h1m0 1h1m3 4h1m-27 1h1m-4 2h1m29 0h1m-33 1h1m31 0h1m-1 1h1m-1 1h1m-40 2h1m-2 5h1m38 0h1m-53 5h1m50 1h1m-47 1h1m9 1h1m33 0h1m-3 1h1m-46 1h1m43 0h1m-32 1h1m29 0h1m-30 2h1m27 1h1m-8 2h1m1 0h1m-8 2h1m-2 1h1m-5 1h1m-84 5h2m68 2h2m8 0h1m-89 1h3m-4 4h1m25 2h1m66 0h1m-84 1h1m15 0h1m66 0h1m-85 1h1m5 0h1m8 0h3m-26 1h1m0 1h1m4 0h1m-15 4h1m31 0h1m-32 1h1"/><path stroke="#ffcc00" d="M134 7h3m-5 1h1m5 0h1m1 1h1m1 1h1m-15 3h1m-2 1h1m-2 1h1m-2 1h1m-2 1h1m-4 2h1m28 0h1m-32 1h1m-4 2h1m-3 1h1m-3 1h1m37 0h1m-1 1h1m-41 1h1m39 0h1m-2 5h1m-39 1h1m-12 3h1m-3 5h1m3 0h1m38 5h1m-7 1h1m-5 1h1m-9 2h1m1 2h2m-87 4h1m80 0h2m-85 1h1m5 0h1m66 0h2m-76 1h1m84 0h1m-91 1h1m13 1h1m0 1h1m3 2h1m-20 1h1m19 0h1m6 0h2m-29 1h1m20 0h1m7 0h1m-19 1h2m9 0h1m1 0h2m1 1h1m-2 1h1m-1 1h1m-8 1h1m6 0h1m56 1h1m-90 1h1m0 1h1m-3 1h1m1 0h1"/><path stroke="#ffc400" d="M133 7h1m3 0h1m1 1h1m-9 1h1m9 0h1m-12 1h1m-2 1h1m-2 1h1m-7 6h1m-6 3h1m32 6h1m-1 1h1m-2 4h1m-38 2h1m-1 3h1m-10 1h1m-8 1h1m6 0h1m41 0h1m-34 3h1m29 0h1m-5 5h2m-19 1h1m2 3h1m-5 5h1m-85 1h1m8 0h1m74 0h1m-90 2h1m-1 1h1m-1 1h1m25 3h1m66 0h1m1 0h1m-95 1h1m22 0h1m5 0h1m62 0h1m1 0h1m-95 1h1m27 0h1m-12 1h1m64 2h1m-64 1h1m6 0h1m-34 1h1m1 0h1m24 2h1m1 1h2"/><path stroke="#ffbc00" d="M138 7h1m-8 1h1m8 0h1m1 1h1m0 1h1m0 1h1m-18 2h1m-2 1h1m-2 1h1m-2 1h1m-2 1h1m26 1h1m-31 1h1m-3 1h1m-4 2h1m34 7h1m-2 4h1m-1 1h1m-2 3h1m-2 1h1m-4 2h1m-2 1h1m-2 2h1m-30 1h1m0 1h1m0 1h1m25 0h1m-25 1h1m14 0h1m7 0h1m-11 1h1m-2 1h1m-2 1h1m-90 5h1m3 0h1m79 0h1m-1 1h1m-90 1h2m77 0h1m7 1h1m-72 3h1m-20 1h1m26 1h1m65 0h2m-72 1h1m-23 3h1m26 0h1m-27 1h1m2 1h2m77 0h1m-58 2h1m55 0h1m-87 1h1m-3 2h1m26 0h1"/><path stroke="#ffb400" d="M134 6h3m-5 1h1m6 0h1m1 1h1m-12 1h1m-2 1h1m-2 1h1m16 1h1m0 1h1m0 1h1m0 1h1m0 1h1m-29 2h1m-6 3h1m-4 2h1m36 7h1m-41 1h1m1 4h1m36 0h1m-48 1h1m9 0h1m33 3h1m-44 1h1m7 0h1m30 4h1m-6 3h1m-15 3h1m3 1h1m-4 1h2m-4 2h2m-87 2h1m75 0h1m-81 1h1m89 0h1m-93 1h1m80 0h1m9 0h1m-75 2h1m3 2h1m-22 1h1m21 0h1m7 0h1m-7 1h2m-15 2h1m3 0h1m78 0h1m-85 1h1m-2 1h1m9 0h1m-16 1h1m-10 1h2m85 0h1m-86 1h1m22 0h1m63 0h1m-92 1h1m-1 1h1m3 0h1m28 0h1m-33 1h1m1 0h1"/><path stroke="#ffac00" d="M133 6h1m3 0h1m2 1h1m1 1h1m0 1h1m0 1h1m-18 2h1m-2 1h1m-8 6h1m-3 1h1m-7 4h1m-2 1h1m-2 3h1m-9 7h1m47 1h1m-47 1h1m7 2h1m-15 1h1m47 0h1m-35 1h1m31 1h1m-32 1h1m20 4h1m2 0h1m-17 1h1m1 1h1m1 4h1m-14 2h2m-81 2h1m13 1h1m64 0h1m8 0h1m-64 5h1m68 0h1m-96 1h1m91 0h1m-93 1h1m-1 1h1m29 0h1m-2 1h1m-29 1h1m26 0h1m-26 1h1m3 0h1m74 0h1m-86 1h1m87 0h1m-66 2h1m4 2h1"/><path stroke="#ffa400" d="M132 6h1m5 0h1m-8 1h1m-2 1h1m-2 1h1m-2 1h1m-2 1h1m-3 3h1m-2 1h1m-2 1h1m-2 1h1m27 0h1m-31 1h1m-7 4h1m36 0h1m-40 1h1m38 0h1m-1 1h1m-1 1h1m-1 1h1m-43 1h1m41 0h1m-43 2h1m40 2h1m-1 1h1m-53 2h2m-4 1h1m-2 2h1m-1 1h1m52 0h1m-5 3h1m-34 1h1m30 3h1m-27 2h1m17 0h2m-5 1h1m-9 3h1m2 1h1m-4 1h1m0 1h1m-87 1h1m81 0h1m3 0h1m-89 1h1m73 0h1m-1 1h1m8 0h1m-7 1h1m-67 1h1m-18 1h1m-1 1h1m20 0h1m2 2h1m1 0h1m66 0h1m-1 2h1m-81 1h1m80 0h1m1 0h1m-96 1h1m16 0h1m-16 2h1m25 0h1m56 0h1m-92 1h1m3 0h1m-6 1h1m4 0h1m-1 1h1m28 0h1m-35 2h1m3 0h1m23 0h1m-27 1h1"/><path stroke="#ff9c00" d="M133 5h5m1 1h1m-10 1h1m10 0h1m1 1h1m0 1h1m0 2h1m-20 1h1m-9 7h1m32 1h1m-37 1h1m35 0h1m-43 5h1m41 2h1m-41 5h1m38 0h1m-2 4h1m-39 1h1m-8 1h1m42 0h1m-5 4h1m-31 2h1m0 1h1m26 1h1m-19 5h1m1 1h1m-5 1h1m-9 1h1m-80 1h2m9 0h1m73 0h1m-6 1h1m4 1h1m3 0h1m-94 1h1m90 0h2m-74 1h1m-20 2h1m27 0h3m63 0h2m-71 1h1m6 1h1m64 0h1m-1 1h1m-84 1h2m-15 2h1m82 0h1m-88 1h3m1 0h2m6 0h1m-10 1h1m28 0h1m53 1h1m2 0h1m-88 2h1m-5 2h1m1 0h1m26 0h1"/><path stroke="#ff9400" d="M138 5h1m-8 1h1m8 0h1m1 1h1m-14 1h1m-2 1h1m-2 1h1m18 2h1m-22 1h1m-5 4h1m-3 1h1m31 1h1m-36 1h1m-4 2h1m-4 2h1m40 5h1m-43 1h1m-13 4h1m2 0h1m49 0h1m-47 4h1m-1 2h1m41 0h1m-3 2h1m-33 2h1m29 2h1m-4 2h1m-10 1h1m-2 1h1m-8 3h1m-83 1h2m-5 1h1m6 0h1m-12 1h1m80 0h1m9 0h1m-94 1h1m-2 1h1m89 1h1m-68 3h1m69 0h1m-94 1h1m-1 1h1m-1 1h1m31 0h1m-33 1h1m-1 1h1m-1 1h1m29 0h1m54 0h1m-90 1h1m3 0h1m19 0h1m-20 1h1m-2 1h1m-8 1h1m6 0h1m-8 1h1m27 0h1m-23 1h1m27 0h1m-30 1h1m24 0h1m1 0h1"/><path stroke="#ff8c00" d="M135 4h1m-4 1h1m6 0h1m-10 1h1m10 0h1m-13 1h1m13 0h1m0 1h1m0 2h1m-20 1h1m-3 3h1m-2 1h1m-2 1h1m-6 3h1m-4 2h1m-4 2h1m-3 2h1m41 5h1m-2 5h1m-56 1h1m14 4h1m-10 1h1m8 0h1m34 0h1m-35 2h1m31 1h1m-29 3h1m3 1h1m12 0h1m5 0h1m-11 3h1m-2 1h1m-86 2h1m67 1h1m7 2h1m5 0h1m-11 1h1m8 1h1m-2 1h1m-69 2h1m2 0h1m64 2h1m0 2h1m-82 1h1m18 0h1m-34 1h2m11 0h1m-18 2h1m7 0h3m-4 1h1m27 0h1m54 1h2m-86 1h1m27 0h1m-35 2h1m31 0h1"/><path stroke="#ff8200" d="M133 4h2m1 0h2m-7 1h1m8 0h1m1 1h1m1 1h1m-17 1h1m-2 1h1m17 0h1m-20 1h1m-2 2h1m21 1h1m0 1h1m0 1h1m0 1h1m-31 1h1m-3 1h1m32 0h1m-37 2h1m-4 2h1m38 9h1m-42 1h1m-9 3h1m0 1h1m46 0h1m-40 1h1m-17 2h1m52 0h1m-53 1h1m3 1h1m1 0h1m7 1h1m26 6h1m2 0h1m-20 1h1m0 1h1m3 3h1m-88 1h1m85 0h1m-90 1h1m-5 1h1m13 1h1m68 0h1m-6 1h1m7 0h1m-71 1h1m63 0h1m-63 1h1m70 0h1m1 0h1m-72 1h1m69 0h3m-70 1h2m4 0h1m60 0h1m3 0h1m-65 1h1m59 0h1m-1 2h1m-94 1h1m32 0h1m64 0h1m-99 1h1m95 0h1m-99 1h1m21 0h1m63 0h1m2 0h1m-92 1h1m14 0h1m19 0h1m56 0h1m-83 1h2m80 0h1m-95 1h1m7 1h1m-9 2h1m27 0h1m-23 1h1m22 0h1m-28 1h3"/><path stroke="#ff7600" d="M132 4h1m5 0h1m-9 1h1m10 0h1m-13 1h1m13 0h1m-16 1h1m-2 1h1m17 0h1m-21 3h1m20 0h1m-23 2h1m-9 6h1m35 5h1m-1 1h1m-1 1h1m-1 1h1m-2 5h1m-51 2h1m9 0h1m-8 3h1m44 1h1m-45 1h1m4 0h1m-6 1h1m41 0h1m-49 1h1m3 0h1m40 2h1m-34 1h1m0 1h1m30 0h1m-31 1h1m19 2h1m-3 1h1m-94 5h1m72 0h2m-78 1h1m78 0h1m3 1h1m-72 2h1m76 0h1m-12 1h1m5 0h1m-91 1h1m-1 1h1m-1 1h1m97 1h1m-99 1h1m-1 1h1m-2 2h1m18 0h1m76 0h1m1 0h1m-15 2h1m-76 1h1m12 0h1m61 0h1m-81 1h1m26 1h1m-30 2h1m-3 2h1"/><path stroke="#ff6a00" d="M134 3h4m-7 1h1m7 0h2m1 1h1m1 1h1m0 1h1m-20 2h1m-4 5h1m-3 2h1m-3 1h1m31 0h1m-35 1h1m-4 2h1m-2 1h1m38 1h1m-43 1h1m41 0h1m-44 1h1m-2 2h1m-1 1h1m-1 1h1m43 0h1m-44 3h1m41 2h1m-2 4h1m-53 4h1m10 0h1m36 0h1m-2 1h1m-36 1h1m3 4h1m27 0h1m-25 1h1m15 0h1m1 0h1m-15 3h1m-1 1h1m-80 2h1m-10 1h1m84 0h1m5 0h1m-95 1h1m83 0h1m-86 1h1m85 0h2m-3 1h1m-87 1h1m81 0h1m12 0h1m-5 1h1m3 0h1m-72 1h1m67 0h1m3 0h1m-97 2h1m92 3h1m-97 2h1m34 0h1m-38 1h1m13 1h1m21 0h1m-28 1h1m16 0h1m66 0h1m-2 1h1m-86 1h1m26 1h1m-36 1h1m6 0h1m20 0h1m5 0h1m-34 1h1m4 0h1m23 0h3"/><path stroke="#ff5c00" d="M132 3h2m4 0h1m-9 1h1m10 0h1m-13 1h1m13 0h1m-16 1h1m-2 1h1m-2 1h1m-2 2h1m20 0h1m-23 2h1m-3 3h1m-7 3h1m-2 1h1m36 2h1m-42 1h1m-4 7h1m43 0h1m-55 4h2m-4 1h1m54 0h1m-41 1h1m-1 1h1m-7 2h1m3 2h1m-6 1h1m4 1h1m34 2h1m-10 4h1m5 0h1m-12 2h1m-94 4h1m75 0h1m6 0h1m-88 1h1m75 1h1m-81 2h1m86 0h2m-4 1h1m3 0h1m-68 1h1m2 1h1m3 0h1m62 1h1m-1 1h1m-1 1h1m-94 2h1m-2 1h1m15 0h1m18 0h1m60 0h1m-7 1h1m-95 2h1m-2 2h1m9 0h1m17 0h1m62 0h1m-92 1h1m-1 1h1m8 0h1m20 2h1m3 0h1m-32 1h4"/><path stroke="#ff4c00" d="M131 3h1m7 0h1m2 1h1m2 2h1m0 2h1m-22 1h1m20 0h1m-23 2h1m22 1h1m-30 5h1m33 3h1m-41 1h1m-3 1h1m-2 1h1m-2 2h1m43 5h1m-58 5h1m7 0h1m47 0h1m-42 3h1m-5 2h1m-2 1h1m2 0h1m3 5h1m30 0h1m-27 2h1m11 3h1m-9 2h1m-86 1h1m73 0h1m-66 1h1m70 1h2m7 0h1m-17 1h1m-61 2h1m69 1h1m-65 1h3m1 0h1m60 0h1m-58 3h1m-36 1h1m34 0h1m57 0h1m6 0h1m-15 2h2m11 0h1m-103 1h1m16 0h1m69 0h1m-74 2h1m-18 1h1m11 0h1m25 0h1m51 0h1m-81 2h1m17 0h1m8 0h1m-29 2h1m-9 1h1m6 0h1m-7 1h1m4 0h1"/><path stroke="#ff3d00" d="M130 3h1m9 0h2m-13 1h1m-2 1h1m15 0h1m-18 1h1m-2 1h1m19 0h1m-24 6h1m24 0h1m1 2h1m-31 1h1m-4 1h1m-3 1h1m-2 1h1m37 0h1m-40 1h1m-3 1h1m-4 3h1m-1 6h1m43 1h1m-56 2h1m2 0h1m1 1h1m1 2h1m46 0h1m-2 2h1m-45 1h1m2 0h1m39 0h1m-43 1h2m39 0h1m-52 1h1m8 0h2m39 0h1m-40 1h1m37 0h1m-38 1h1m35 0h1m-36 1h1m0 1h1m1 2h1m18 2h1m-5 3h1m-2 1h1m-93 1h1m90 0h1m-95 1h1m76 0h1m-80 1h1m15 0h1m78 1h1m-9 2h1m7 1h1m-66 1h1m65 0h1m-65 1h1m-35 2h1m99 0h1m-102 2h1m93 0h1m-96 1h1m19 0h1m69 0h1m5 0h1m-82 2h1m19 0h1m56 0h1m-1 1h1m-84 1h1m-3 1h1m16 2h1m-29 1h1m27 0h1m7 0h1m-28 1h1m19 0h1m5 0h1m-28 1h1m22 0h3"/><path stroke="#ff2e00" d="M129 3h1m-2 1h1m14 0h1m-17 1h1m17 0h1m-20 1h1m-2 2h1m-2 2h1m22 1h1m-26 3h1m26 0h1m-29 1h1m29 1h1m0 2h1m-41 2h1m-4 2h1m43 3h1m-1 1h1m-1 1h1m-2 5h1m-43 1h1m-17 4h1m10 0h1m-12 1h1m0 2h1m48 5h1m-30 3h2m3 1h1m17 0h2m-102 4h4m70 0h1m-79 1h1m9 0h1m70 1h1m2 0h1m-90 2h1m17 0h1m77 1h1m-11 1h2m8 0h1m-74 1h1m-25 1h1m-1 1h1m91 0h1m6 0h1m-100 1h1m34 0h1m-1 3h1m64 0h1m-85 1h2m67 0h1m-90 1h1m23 0h1m13 0h1m55 0h1m6 0h1m-103 1h1m25 0h1m-28 1h1m17 0h1m19 2h1m56 0h1m-3 1h1m-84 1h1m26 0h1m-38 2h1m27 0h1m-28 1h1m7 0h1m19 0h2m3 0h1"/><path stroke="#ff1f00" d="M142 3h1m1 1h1m1 2h1m-22 1h1m-2 2h1m-2 3h1m-5 4h1m-4 1h1m-3 1h1m-2 1h1m-4 2h1m-3 2h1m44 1h1m-47 1h1m-1 1h1m-1 1h1m45 1h1m-45 4h1m-9 1h1m50 0h1m-1 1h1m-2 3h1m-46 1h1m0 1h2m-2 3h1m37 2h1m-32 4h1m27 0h1m-3 1h1m-20 1h1m-85 3h1m73 0h1m-79 1h1m80 0h1m-84 1h1m16 3h1m-21 1h1m81 0h1m-83 1h1m24 0h1m58 0h1m5 0h1m0 1h1m0 2h1m-1 1h1m-94 1h1m92 0h1m-1 1h1m-96 1h1m91 0h1m3 0h1m2 1h1m1 0h1m-66 2h1m-26 1h1m81 0h1m-98 1h1m12 0h1m-14 1h1m11 0h1m80 0h1m1 0h1m-96 1h1m-1 1h1m10 0h1m-1 1h1m-11 1h1"/><path stroke="#ff1200" d="M128 3h1m14 0h1m-17 1h1m17 0h1m-20 1h1m19 0h1m-22 1h1m-2 2h1m22 0h1m-1 1h1m-1 1h1m-25 1h1m-6 5h1m-4 1h1m36 0h1m-40 1h1m-2 1h1m-2 1h1m-3 1h1m-2 1h1m44 1h1m-47 1h1m-1 4h1m45 1h1m-44 8h1m-2 1h1m-16 1h1m1 2h1m8 1h2m1 1h1m37 0h1m-38 1h1m0 1h1m0 1h1m0 1h1m30 0h1m-11 2h1m3 0h1m-7 1h1m-96 3h1m5 0h1m70 0h1m2 2h1m9 0h1m-99 3h1m80 0h1m-60 1h1m3 1h1m58 0h1m-53 1h1m66 2h1m-103 3h1m36 1h1m48 0h1m5 0h3m-2 1h1m3 0h1m-13 1h1m7 0h1m-9 1h1m-91 1h1m11 3h1m15 1h1m-29 1h1m27 0h1m8 0h1m-27 1h1m17 0h1m6 0h1"/><path stroke="#ff0600" d="M127 3h1m16 0h1m-19 1h1m-2 1h1m-2 2h1m22 0h1m-25 3h1m-2 3h1m-6 3h1m-4 1h1m-4 2h1m-2 1h1m42 2h1m-47 1h1m-1 6h1m45 1h1m-46 1h1m-11 1h2m3 2h1m0 1h1m47 0h1m-59 1h1m55 3h1m-2 1h1m-2 1h1m-45 1h1m42 0h1m-4 4h1m-32 2h1m22 1h1m4 0h1m-12 2h1m-10 1h1m-87 1h1m-4 1h1m76 0h1m7 1h1m-89 1h1m25 4h3m53 0h1m2 0h1m2 0h1m8 0h1m-8 2h1m-93 2h1m91 2h1m8 1h1m-106 1h1m87 0h1m8 0h1m1 0h1m4 0h1m-106 1h1m39 0h1m-22 1h1m-5 1h2m22 0h1m50 1h1m-53 1h1m-12 1h1m-17 1h1m25 0h1m-39 2h1m27 0h1"/><path stroke="#fc0000" d="M126 3h1m18 0h1m-21 1h1m20 0h1m-23 2h1m22 0h1m-25 2h1m-1 1h1m24 3h1m-28 2h1m28 0h1m-31 1h1m30 0h1m-37 1h2m35 0h1m-40 1h1m-2 1h1m-3 1h1m-2 1h1m43 0h1m-46 1h1m44 0h1m-47 1h1m45 9h1m-54 1h1m-5 1h1m5 0h1m7 1h1m-6 2h1m46 0h1m-46 2h1m43 0h1m-49 4h1m3 1h1m37 2h1m-12 4h2m-15 2h1m-88 2h1m8 0h1m66 0h1m-66 1h1m73 0h1m-90 1h1m15 0h1m61 1h1m17 0h1m-99 1h1m22 2h1m6 1h1m56 0h1m2 1h1m0 2h1m-1 1h1m-56 1h1m54 0h1m-2 1h1m-95 1h1m18 1h1m19 0h1m57 0h1m-80 1h1m-22 1h1m27 0h1m69 0h1m-81 1h1m-5 1h1m82 0h1m-99 1h1m13 0h1m14 0h1m63 0h1m3 0h1m-98 1h1m-1 1h1m-1 1h1m12 0h1m14 0h1m-16 1h1m14 0h1m9 0h1"/><path stroke="#f70000" d="M124 5h1m22 0h1m-25 2h1m-2 5h1m26 1h1m-36 3h1m-3 1h1m-2 1h1m41 1h1m-46 1h1m-3 4h1m-1 1h1m47 0h1m-49 1h1m47 0h1m-1 1h1m-1 1h1m-48 2h1m-11 2h1m55 0h1m-1 1h1m-59 1h1m14 2h1m-5 1h1m1 1h1m-7 4h1m5 2h1m37 0h1m-35 4h1m-75 4h2m72 0h1m16 0h1m-97 1h1m86 0h1m7 0h1m-98 1h1m83 0h1m11 0h1m-20 1h1m-50 5h1m56 0h1m10 1h1m-65 1h1m-37 1h1m36 1h1m-39 1h1m102 0h1m-105 1h1m38 0h1m49 0h4m2 3h1m-59 1h1m-23 1h1m70 0h1m7 0h1m-100 1h1m28 0h1m11 0h1m-2 2h1m-13 1h1m10 1h1m-40 1h1m26 0h1"/><path stroke="#ef0004" d="M125 3h1m20 0h1m-23 1h1m-2 2h1m-2 4h1m-1 1h1m25 0h1m-30 4h1m-7 1h1m-3 1h1m-2 1h1m42 0h1m-45 1h1m-3 2h1m-2 2h1m47 1h1m-49 3h1m47 2h1m-54 3h1m2 2h1m48 0h1m-44 1h1m41 2h1m-59 3h1m6 2h1m4 1h1m40 0h1m-39 2h1m0 1h1m0 1h1m32 0h1m-2 1h1m-31 1h2m4 0h1m12 1h1m-97 2h2m2 0h1m70 0h1m1 0h1m0 1h1m-68 3h1m60 1h1m17 0h1m-78 1h1m2 1h1m73 0h1m-100 1h1m-1 1h1m34 0h1m-36 1h1m100 0h1m-65 1h1m64 1h1m-12 1h1m-6 1h1m15 0h1m-19 1h1m-90 1h1m24 0h1m80 0h1m-108 1h1m103 0h1m-106 2h1m28 0h1m-31 3h1m14 0h1m80 0h1m-97 1h1m14 0h1m-16 1h1m14 0h1m12 0h1m-29 1h1m14 0h1m10 0h2m12 0h1"/><path stroke="#e5000c" d="M124 3h1m-2 1h1m23 0h1m-25 1h1m24 1h1m-27 1h1m25 0h1m-27 1h1m25 0h1m-27 1h1m25 0h1m-1 1h1m-36 5h6m33 0h1m-42 1h2m-3 1h1m42 0h1m-45 1h1m-2 1h1m-2 1h1m-2 2h1m47 1h1m-49 5h1m47 2h1m-56 1h1m8 1h1m-6 1h1m5 0h1m-16 2h1m10 0h1m47 0h1m-45 2h1m-15 4h1m3 1h2m47 0h1m-44 1h1m1 1h1m37 2h1m-4 3h1m-4 1h1m-106 2h2m5 0h1m-10 1h1m11 0h1m-16 2h1m-2 1h1m19 1h1m-22 1h1m98 0h1m-100 1h1m25 0h4m3 1h1m49 0h1m1 1h1m4 0h1m0 1h1m-93 2h1m85 2h1m-90 1h1m40 0h1m-2 2h1m57 0h4m1 0h1m-107 1h1m99 0h1m-80 1h1m20 0h1m-44 1h1m16 0h1m-18 1h1m98 0h1m-71 1h1m65 0h1m1 0h1m-70 1h1m12 0h1m-43 1h1m26 0h2m-29 1h1m24 0h2"/><path stroke="#da0016" d="M123 3h1m23 0h1m-26 2h1m25 0h1m-27 1h1m-2 7h1m-2 1h1m30 0h1m-40 1h1m-3 1h1m42 0h1m-45 1h1m-2 1h1m-2 1h1m-2 1h1m-1 1h1m-2 3h1m-1 1h1m0 4h1m-9 2h1m1 0h1m6 0h1m46 0h1m-2 5h1m-61 1h1m13 0h1m-15 1h1m57 1h1m-2 1h1m-2 1h1m-53 1h2m47 3h1m-35 4h1m2 0h1m-3 1h1m24 0h1m1 0h1m-29 1h2m17 0h1m-23 2h1m-80 1h1m77 0h1m9 0h1m-92 3h1m29 2h1m51 0h1m3 2h1m4 2h1m-1 1h1m-94 1h1m91 0h1m-94 1h1m104 1h1m-86 1h1m65 0h1m-63 1h1m61 0h1m16 0h1m-86 1h1m76 2h1m-85 1h1m25 0h1m-44 1h1m-1 1h1m24 1h2m15 0h1m-26 1h1m6 0h1"/><path stroke="#ce0022" d="M122 4h1m25 0h1m-28 3h1m-1 1h1m-1 4h1m27 0h1m-37 2h2m-4 1h1m-3 1h1m-2 1h1m-2 1h1m-2 1h1m-2 3h1m48 0h1m-50 1h1m-1 3h1m49 0h1m-1 1h1m-59 4h1m-2 1h1m5 0h1m51 0h1m-51 1h1m1 3h1m1 1h1m43 1h1m-60 1h1m53 5h1m-40 1h1m2 3h1m4 1h1m1 0h1m-7 1h1m7 0h1m12 0h1m-101 2h1m8 0h1m-12 1h1m14 1h1m69 0h1m-89 1h1m98 0h1m-70 4h1m68 1h1m-17 1h1m2 0h3m12 2h1m-19 3h1m-91 2h1m42 0h1m-45 1h1m42 1h1m46 0h1m10 0h1m-103 1h1m100 0h1m-84 1h1m1 0h2m-23 1h1m93 0h1m4 1h1m-101 1h1m25 0h4m-30 1h1m17 0h1m6 0h1m-26 1h1m23 0h1m18 0h1"/><path stroke="#c0002f" d="M122 3h1m25 0h1m-28 2h1m-1 1h1m-1 3h1m-1 1h1m-1 1h1m28 2h1m-40 1h2m2 0h1m-7 1h2m-3 1h1m-2 1h1m-2 1h1m-2 2h1m-1 1h1m48 0h1m0 4h1m-51 2h1m49 1h1m-58 2h2m6 0h1m-6 1h1m5 1h1m-13 1h1m58 0h1m-50 1h1m48 0h1m-2 3h1m-58 5h1m7 1h1m1 1h1m2 2h1m0 1h1m6 2h1m-4 1h1m22 0h1m3 0h1m-107 1h5m71 0h1m-80 1h1m77 0h1m3 0h1m15 0h1m-102 2h1m87 0h1m-71 1h1m59 0h1m-81 1h1m79 0h1m-58 2h1m57 0h1m-45 4h1m52 0h1m-92 1h1m89 2h1m-95 2h1m87 0h1m-66 1h2m82 0h1m-87 1h1m20 0h1m63 0h1m-110 1h1m-2 2h1m19 0h1m2 0h1m20 0h1m48 0h1m-64 1h1m-32 1h1m17 0h1m11 0h1m13 0h1m51 0h1m-79 1h1m6 0h1m-27 1h1m24 0h1m-26 1h1m19 0h1m3 0h1"/><path stroke="#b0003d" d="M121 3h1m-1 1h1m27 1h1m-1 1h1m-1 1h1m-1 1h1m-39 5h4m-5 1h1m5 0h2m1 0h1m32 0h1m-45 1h1m44 0h1m-47 1h1m-2 1h1m47 0h1m-50 1h1m48 0h1m-50 1h1m48 0h1m-1 1h1m-51 2h1m-1 1h1m-1 1h1m50 0h1m-52 1h1m0 3h1m49 1h1m-56 1h1m5 1h1m-4 1h1m1 1h1m2 0h1m0 1h1m44 1h1m-62 1h1m15 0h1m-16 5h1m53 2h1m-3 3h1m-2 1h1m-2 1h1m-34 1h1m-1 1h1m22 0h1m1 0h1m-103 1h1m5 0h1m73 0h1m-72 1h1m76 0h1m-91 1h1m14 0h1m69 0h1m12 1h1m-68 6h1m1 1h1m-38 1h1m90 1h1m-53 1h1m51 0h1m-53 1h1m46 0h4m14 0h1m-108 1h1m41 0h1m64 0h1m-9 4h1m1 0h4m-110 1h1m23 0h1m77 1h1m-104 1h1m18 0h1m4 0h2m76 0h1m-104 1h1m24 0h3m74 0h1m-103 1h1m24 0h1m19 0h1m-47 1h1m20 0h1m3 0h1m-26 1h1m21 0h3"/><path stroke="#a10049" d="M120 3h1m-1 1h1m28 0h1m-30 1h1m-1 1h1m-1 1h1m-1 1h1m-1 1h1m28 0h1m-1 2h1m-38 1h2m-4 1h1m4 0h1m4 0h1m-13 1h2m8 0h1m-12 1h1m-2 1h1m47 0h1m-50 1h1m-2 2h1m-1 1h1m-1 1h1m-1 5h1m-7 3h2m-3 1h1m57 0h1m-60 1h1m5 0h1m1 1h1m1 0h1m-1 3h1m0 1h1m46 0h1m-3 3h1m-60 1h1m57 0h1m-2 1h1m-2 1h1m-45 2h1m1 1h1m39 0h1m-5 4h1m-9 1h1m-103 1h1m-3 1h1m97 1h1m-102 1h1m78 0h1m-81 1h1m20 1h1m78 0h1m-102 1h1m80 0h1m-82 1h1m24 0h1m2 0h3m-31 1h1m32 0h1m67 0h1m-102 1h1m-1 1h1m101 0h1m-17 1h2m2 0h1m-52 1h1m-41 1h1m104 0h1m-107 1h1m86 0h1m-2 1h1m-90 1h1m43 0h1m64 0h1m-111 1h1m-2 1h1m109 0h1m-7 1h1m4 0h1m-66 1h1m46 0h1m10 0h1m-105 1h1m24 0h1m-27 1h1m23 0h1m21 0h1m-48 1h1m28 0h1m1 0h1m-32 1h1m24 0h1m74 0h2m-103 1h1m24 0h1m21 0h1m-48 1h1m46 0h1"/><path stroke="#930053" d="M149 3h1m-31 1h1m-1 1h1m-1 1h1m-1 1h1m0 3h1m28 0h1m-40 2h2m2 0h1m-7 1h2m6 0h1m34 0h1m-45 1h1m45 0h1m-48 1h1m47 0h1m-50 1h1m-2 1h1m-1 1h1m-2 2h1m-1 1h1m-1 1h1m-1 1h1m51 0h1m-53 1h1m-1 1h1m52 1h1m-53 1h1m51 0h1m-1 1h1m-60 1h1m2 0h1m4 0h1m-5 1h1m3 1h1m49 0h1m-51 1h1m49 0h1m-50 1h2m-14 1h1m11 0h1m46 4h1m-59 4h1m7 1h1m4 3h1m1 2h1m-77 2h4m77 0h1m26 0h1m-111 1h1m8 0h1m78 0h1m11 0h1m-104 2h1m78 0h1m10 0h1m-14 2h1m-81 1h1m22 1h1m77 0h1m-76 1h2m3 0h1m69 0h1m-18 3h1m0 1h1m2 0h1m14 0h1m-14 2h1m-95 2h1m42 2h1m43 0h1m-1 1h1m-92 1h1m29 0h1m15 0h1m-48 1h1m-2 1h1m31 0h1m-34 1h1m23 0h1m3 0h1m76 0h1m-85 1h1m3 0h1m4 0h1m73 0h1m-106 1h1m21 0h1m77 0h1m2 0h1m-105 1h1m23 0h2m-27 1h2"/><path stroke="#84005e" d="M119 3h1m30 2h1m-1 1h1m-32 2h1m-10 3h5m5 0h1m-13 1h2m5 0h1m4 0h1m29 0h1m-44 1h1m9 0h1m-12 1h1m-2 1h1m-2 1h1m-2 1h1m-1 1h1m-1 1h1m52 6h1m-54 1h1m-1 1h1m-7 1h4m3 0h1m-4 1h1m54 0h1m-61 1h1m5 0h1m2 0h1m-3 1h2m-10 1h1m59 1h1m-1 1h1m-47 1h1m-2 1h1m45 1h1m-63 1h1m-1 1h1m55 5h1m-43 1h1m40 1h1m-39 1h1m36 0h1m-114 3h1m4 0h1m71 1h1m28 0h2m-111 1h1m13 0h1m64 0h1m-64 1h1m-20 1h1m19 0h1m-22 1h1m79 1h1m-49 2h1m3 2h1m46 0h1m-46 1h1m0 1h1m49 0h1m-4 1h2m2 0h1m-6 1h4m-5 1h1m-91 2h1m88 0h1m-91 1h1m110 0h1m-113 1h1m46 0h1m-23 1h1m85 0h1m-82 1h1m73 0h1m2 0h4m-66 1h1m57 0h1m-108 1h1m22 0h2m8 0h1m-35 1h2m24 0h1m22 0h1m49 0h1m-101 1h2m25 0h1m-29 1h2m-2 1h1"/><path stroke="#74006a" d="M150 3h1m-33 1h1m31 0h1m-33 1h1m-1 1h1m-1 1h1m31 0h1m-1 1h1m-32 1h1m-10 1h5m-7 1h2m5 0h1m-9 1h1m8 0h1m-11 1h1m11 0h2m32 0h1m-48 1h1m48 0h1m-51 1h1m-2 1h1m-2 1h1m-1 1h1m-1 1h1m-1 1h1m-1 1h1m-1 1h1m52 0h1m-54 1h1m-1 1h1m-1 1h1m-5 1h5m-6 1h6m-7 1h1m4 0h3m-8 1h1m5 0h1m1 0h1m51 1h1m-50 4h2m-16 1h1m13 0h1m47 0h1m-64 2h1m56 6h1m-5 5h1m-114 2h1m6 0h1m-9 1h1m10 0h1m95 0h1m2 0h1m-27 1h1m15 0h1m-104 1h1m77 1h1m-2 1h1m-81 2h1m34 2h1m47 0h1m-84 4h1m85 0h1m2 0h1m15 0h1m-16 1h1m-93 1h1m-3 1h1m87 0h1m21 0h1m-88 3h1m85 0h1m-114 1h1m91 0h1m20 0h1m-115 1h1m26 0h1m20 0h1m58 0h2m4 0h1m-115 1h1m27 0h1m83 0h3m-117 1h1m30 0h1m66 0h1m9 0h1m6 0h2m-118 1h1m107 0h1m-110 1h1m25 0h2m74 0h1m4 0h1m-109 1h1m-2 1h2"/><path stroke="#640078" d="M117 4h1m-1 1h1m-1 1h1m-1 1h1m-6 1h3m2 0h2m-9 1h6m2 0h1m31 0h1m-43 1h2m5 0h2m2 0h1m-13 1h1m8 0h1m2 0h1m-14 1h1m10 0h1m-14 1h2m47 0h1m-50 1h1m-2 1h1m51 0h1m-54 1h1m52 0h1m-55 1h1m53 0h1m-55 1h1m53 0h1m-56 1h2m-2 1h2m-7 1h3m3 0h1m53 0h1m-61 1h3m3 0h1m-6 1h2m-2 1h3m2 0h1m54 0h1m-61 1h6m-6 1h2m59 0h1m-62 1h1m60 0h1m-1 1h1m-55 1h1m-1 1h2m-10 1h1m60 0h1m-49 4h1m46 1h1m-3 3h1m-62 1h1m59 0h1m-60 1h1m57 0h1m-58 1h1m55 0h1m-49 1h1m1 1h1m43 1h1m-42 1h1m-74 3h3m73 0h1m33 0h1m-105 1h1m69 0h1m8 0h1m-90 1h1m84 0h1m17 0h1m-105 1h1m15 0h1m-19 1h1m79 0h1m8 0h1m-91 1h1m78 0h1m-81 1h1m22 0h1m55 0h1m23 0h1m-104 1h1m79 0h1m-51 1h3m48 0h1m-82 1h1m81 0h1m20 2h1m-19 2h1m4 1h1m-92 1h1m41 0h1m43 0h1m-45 1h1m64 0h1m-66 1h1m-48 1h1m111 0h1m-24 1h1m22 0h1m-85 1h1m17 1h1m-51 1h1m114 0h1m-117 1h1m95 0h1m11 0h1m2 0h2m3 0h1m-119 1h1m114 0h1m2 0h1m-121 1h2m25 0h2m88 0h5m-123 1h2m51 0h1m56 0h1m8 0h3m-123 1h2m52 0h1m52 0h1m13 0h2m-124 1h2m53 0h1"/><path stroke="#570086" d="M151 4h1m-37 1h2m34 0h1m-39 1h4m-6 1h6m-8 1h3m3 0h2m-9 1h2m6 0h2m-11 1h1m9 0h2m31 0h1m-46 1h2m10 0h2m31 0h1m-47 1h2m12 0h2m31 0h1m-49 1h1m-2 1h2m51 0h1m-55 1h2m-2 1h1m-2 1h1m-2 1h2m-5 1h4m55 0h1m-62 1h6m55 0h1m-62 1h1m3 0h3m-7 1h1m3 0h3m-7 1h2m2 0h4m-7 1h1m3 0h2m-6 1h1m-1 1h1m-1 1h1m-1 1h1m-1 1h1m61 0h1m-63 1h1m60 2h1m-63 1h1m61 0h1m-1 1h1m-2 3h1m-2 1h1m-59 5h3m6 2h1m41 2h1m-115 2h1m3 0h1m-7 1h1m9 0h1m74 0h1m26 0h1m-101 1h1m93 0h1m-110 1h1m18 1h1m70 0h1m11 0h1m-106 1h1m77 0h2m-2 1h1m0 1h1m-55 1h1m3 0h1m27 0h1m-24 1h1m21 0h2m-58 1h1m-1 1h1m37 0h1m-39 2h1m40 1h1m43 0h1m20 1h1m-110 1h1m86 0h1m-90 1h1m55 0h2m-12 1h1m9 0h1m31 0h1m-91 1h1m47 0h1m-50 1h1m48 0h1m41 0h1m22 0h1m-116 1h1m114 0h1m-118 1h1m94 0h1m21 0h1m6 0h2m-128 1h2m109 0h2m6 0h1m6 0h3m-131 1h2m33 0h2m16 0h1m58 0h1m2 0h2m4 0h2m-125 1h2m111 0h1m4 0h1m5 0h1m-126 1h2m111 0h1m6 0h1m3 0h1m-125 1h1m106 0h1m1 0h2m10 0h1m2 0h1m-126 1h1"/><path stroke="#550690" d="M151 3h1m-40 3h1m38 0h1m-42 1h1m40 0h1m-45 2h1m-3 1h2m-3 1h1m-2 1h1m48 0h1m-51 1h1m51 0h1m-54 1h1m-2 1h1m-2 1h2m-3 1h2m-4 1h3m-5 1h2m-3 2h1m-1 1h1m62 1h1m-63 1h1m-1 1h1m62 0h1m-64 1h1m-1 1h1m62 3h1m-2 5h1m-65 1h1m-2 2h1m-1 1h1m3 4h1m3 0h1m1 0h1m47 1h1m-44 2h1m41 0h1m-41 1h1m0 1h1m36 0h1m-115 1h1m5 0h1m-9 1h1m-2 1h1m14 0h1m64 0h1m32 0h1m-116 1h1m18 0h1m61 0h1m31 0h1m-115 1h1m76 0h4m10 0h1m-16 1h1m26 0h1m-28 1h1m-54 1h1m53 0h1m-80 1h1m28 0h1m4 0h1m22 0h1m1 1h1m-23 1h1m19 0h2m-58 2h1m39 0h1m43 0h1m19 0h1m-64 1h1m42 2h1m-34 1h2m-3 1h1m2 0h1m29 0h1m23 0h1m-58 1h1m1 0h1m54 0h1m-1 1h1m-1 1h1m-118 1h1m116 0h1m5 0h2m-127 1h1m51 0h1m66 0h1m4 0h1m2 0h1m-131 1h2m52 0h1m67 0h2m2 0h2m-130 1h2m113 0h2m8 0h1m3 0h3m-133 1h1m114 0h1m1 0h2m7 0h1m-128 1h1m105 0h1m8 0h1m3 0h2m5 0h1m-128 1h2m111 0h1m7 0h2m4 0h1m-129 1h2m122 0h4"/><path stroke="#601498" d="M151 8h1m-1 1h1m-1 2h1m1 1h1m1 1h1m-56 1h1m55 0h1m-1 1h1m-1 1h1m-1 1h1m-64 2h1m-1 1h1m-1 3h1m-1 1h1m-1 1h1m0 3h1m63 0h1m-65 1h1m63 0h1m-2 2h1m-64 1h1m62 0h1m-1 1h1m-2 3h1m-66 1h1m62 2h1m-64 1h1m0 1h1m7 2h1m-68 5h4m-6 1h1m7 0h1m105 0h1m-117 1h1m12 0h1m-15 1h1m105 0h1m1 0h1m-111 1h1m105 0h1m6 0h1m1 0h1m-117 1h1m76 0h1m-79 1h1m23 0h1m7 2h1m24 0h2m19 0h1m25 0h1m-78 1h2m27 0h1m2 0h1m21 0h1m-82 1h1m55 0h1m-1 1h1m2 0h1m44 0h1m-48 1h1m48 2h1m-107 1h1m106 0h1m-109 1h1m52 0h2m-57 1h1m53 0h1m2 0h1m29 0h1m23 0h1m-114 1h1m-2 1h1m59 0h1m28 0h1m-91 1h1m57 0h3m29 0h1m-92 1h1m28 0h1m87 0h1m-120 1h1m51 0h1m41 0h1m24 0h5m2 0h1m-130 1h2m120 0h4m4 0h1m-134 1h2m34 0h1m2 0h1m86 0h2m5 0h1m-136 1h2m126 0h3m3 0h1m-136 1h2m56 0h1m47 0h1m11 0h1m10 0h6m-136 1h2m116 0h3m8 0h1m-131 1h2m108 0h1m5 0h2m4 0h1m7 0h1m-131 1h1m59 0h1m63 0h1m4 0h1"/><path stroke="#7027a0" d="M152 3h1m-1 1h1m-1 1h1m-2 5h1m0 1h1m1 1h1m-63 8h1m-1 1h1m-1 1h1m-1 1h1m-1 1h1m64 0h1m-65 2h1m-1 1h1m0 3h1m63 0h1m-65 1h1m-2 3h1m63 0h1m-1 1h1m-2 2h1m-2 1h1m-3 2h1m-2 1h1m-60 1h1m56 1h1m-48 1h1m0 1h1m44 0h1m-45 1h1m42 1h1m-118 1h2m4 0h1m109 0h1m-118 1h1m9 0h1m-13 1h1m14 0h1m73 0h2m25 0h1m-119 1h2m17 0h1m89 0h1m-111 1h1m21 0h1m54 0h3m2 0h1m8 0h1m2 0h1m18 0h1m-115 1h1m76 0h1m-79 1h1m77 0h1m-1 1h1m-47 1h1m1 0h1m25 0h1m17 0h1m-18 1h1m17 0h3m23 0h1m-69 1h1m23 0h1m21 0h1m21 0h1m-65 2h1m15 0h1m1 0h1m25 0h1m-43 1h1m42 1h1m-33 1h2m30 0h1m-35 1h1m2 0h1m53 0h1m-113 1h1m58 0h1m-6 1h1m4 0h1m27 0h1m25 0h1m-60 1h1m4 0h1m53 0h1m-67 1h1m10 0h1m54 0h1m-119 1h1m30 0h1m20 0h1m8 0h2m29 0h1m26 0h6m-128 1h2m30 0h1m96 0h1m-134 1h3m55 0h1m-61 1h2m-3 1h1m104 0h1m30 0h1m-139 1h2m135 0h1m-139 1h2m59 0h1m70 0h2m-135 1h2m60 0h1m57 0h4m9 0h1m-135 1h3m111 0h3m8 0h2m6 0h1m-5 1h3"/><path stroke="#803da8" d="M152 6h1m-1 1h1m-1 3h1m0 1h1m1 1h1m0 1h1m0 1h1m-1 1h1m-2 3h1m-66 3h1m-1 1h1m64 0h1m-65 3h1m-1 1h1m-1 1h1m0 1h1m-1 1h1m64 2h1m-1 1h1m-1 1h1m-67 2h1m64 1h1m-68 2h1m-1 1h1m-1 1h1m0 1h1m59 1h1m-58 1h1m-62 4h3m71 0h1m-78 1h1m7 0h1m-10 1h1m11 0h1m67 0h1m36 0h1m-120 1h1m16 0h1m64 0h1m-85 1h1m20 0h1m69 0h1m26 0h1m-120 1h1m76 0h1m3 0h2m35 0h1m-120 1h1m24 0h1m-27 1h1m77 0h1m-20 1h2m17 0h1m-47 1h1m3 0h1m21 0h1m3 0h1m-26 1h1m19 0h1m21 0h1m-23 1h1m-56 1h1m37 0h1m16 0h1m4 0h1m22 0h1m-43 1h1m13 0h1m3 0h1m-5 1h3m-15 1h1m9 0h3m-13 1h1m7 0h2m2 0h1m-58 1h1m44 0h1m11 0h1m28 0h1m-90 1h1m47 0h1m6 0h1m32 0h1m25 0h1m-116 1h1m48 0h1m-51 1h1m49 0h1m38 0h1m27 0h1m-119 1h1m57 0h1m4 0h1m26 0h1m27 0h2m-62 1h2m2 0h1m61 0h1m-133 1h4m35 0h1m19 0h1m8 0h1m30 0h1m-102 1h2m36 0h1m63 0h1m33 0h1m-139 1h2m39 0h1m19 0h1m43 0h1m32 0h1m-140 1h2m59 0h1m-64 1h2m138 0h1m-142 1h2m134 0h4m-140 1h1m111 0h1m22 0h1m-23 1h1m3 0h2m2 0h4m9 0h1m-9 1h3m3 0h1"/><path stroke="#8f54b0" d="M153 3h1m-2 5h1m-1 1h1m1 2h1m1 1h1m0 1h1m-1 3h1m-2 3h1m-66 1h1m64 1h1m-66 2h1m65 0h1m-67 1h1m-1 1h1m-1 1h1m0 2h1m65 6h1m-1 1h1m-68 1h1m-2 1h1m66 0h1m-69 1h1m66 0h1m-68 1h1m65 0h1m-2 1h1m-63 2h1m2 2h3m52 0h1m-120 3h2m3 0h1m69 0h1m-78 1h1m78 0h1m39 0h1m-122 1h2m13 0h1m-18 1h2m18 0h1m-22 1h1m22 0h1m53 0h3m4 0h1m10 0h1m-97 1h1m24 0h1m51 0h1m-79 1h1m77 0h1m30 0h1m7 0h3m-93 2h1m6 0h2m22 0h1m2 0h1m-5 1h1m20 0h1m-16 1h1m14 0h1m-78 1h1m54 0h1m6 0h1m16 0h4m-28 1h1m-55 1h1m53 0h1m50 0h1m-63 1h1m9 0h2m3 0h1m-59 1h1m51 0h1m3 0h2m49 0h1m-52 1h1m51 0h1m-112 1h1m52 0h1m5 0h1m52 0h1m-116 1h1m61 0h1m-1 1h1m25 0h1m27 0h1m-55 1h1m54 0h1m0 1h3m-132 1h8m64 0h1m26 0h1m34 0h1m-137 1h3m60 0h1m5 0h2m1 0h2m63 0h1m-140 1h3m41 0h1m19 0h1m7 0h2m-76 1h3m42 0h1m-47 1h3m139 0h1m-143 1h1m110 1h1m28 0h1m-5 1h2m-74 1h1m54 0h2m14 0h1m-22 1h2m7 0h3m7 0h2m-5 1h3"/><path stroke="#9d6bb9" d="M153 4h1m-1 1h1m-1 5h1m1 1h1m1 1h1m-1 5h1m-68 3h1m65 0h1m-67 1h1m-1 1h1m-1 1h1m-1 1h1m0 3h1m0 2h1m0 1h1m65 2h1m-67 1h1m65 0h1m-1 1h1m-2 2h1m-70 1h1m-2 1h1m-1 1h1m0 1h1m0 1h1m62 0h1m-61 2h1m-62 3h4m68 0h1m-75 1h1m6 0h1m67 0h1m-79 1h2m10 0h1m-15 1h2m16 0h2m102 0h1m-125 1h2m21 0h2m53 0h3m41 0h1m-124 1h2m24 0h1m51 0h1m3 0h1m-83 1h1m76 0h1m33 0h1m3 0h1m-39 1h1m-18 1h1m16 0h1m-45 1h1m2 0h1m25 0h1m14 0h1m29 0h1m-80 1h1m2 0h1m5 0h1m25 0h1m13 0h1m-22 1h1m21 1h2m-39 1h1m21 0h1m-20 1h1m10 0h1m6 0h1m-61 1h1m51 0h1m6 0h1m24 0h1m21 0h1m-56 1h1m6 0h1m-60 1h1m50 0h1m6 0h1m26 0h1m24 0h1m-115 1h2m60 0h1m25 0h1m-35 1h1m7 0h1m24 0h1m27 0h1m-118 1h1m55 0h1m7 0h1m23 0h1m29 0h1m-120 1h1m56 0h1m7 0h1m23 0h1m30 0h1m-131 1h5m4 0h1m52 0h1m4 0h1m6 0h1m24 0h1m33 0h2m-137 1h3m61 0h1m4 0h1m6 0h1m61 0h1m-141 1h3m64 0h1m2 0h2m5 0h1m26 0h1m-107 1h3m65 0h7m2 0h2m28 0h1m35 0h1m-144 1h1m65 0h1m3 0h8m65 0h1m-73 1h5m-4 1h2m68 0h1m-71 1h2m67 0h1m-70 1h1m65 0h2m-69 1h3m38 0h1m23 0h1m-24 1h1m2 0h1m4 0h2m12 0h1m-12 1h6m3 0h1"/><path stroke="#ac81c3" d="M154 3h1m-2 3h1m-1 1h1m-1 1h1m-1 1h1m0 1h2m0 1h1m1 5h1m-2 2h1m-69 4h1m-1 1h1m0 2h1m-1 1h1m-1 1h1m0 1h1m1 3h1m-1 1h1m65 3h1m-70 1h1m68 0h1m-72 1h1m69 0h1m-72 1h1m69 0h1m-71 1h1m68 0h1m-69 1h1m0 1h1m1 1h1m60 0h1m-2 1h1m-58 1h1m3 0h1m3 0h1m-69 1h1m68 0h1m46 0h1m-120 1h1m4 0h1m-9 1h2m8 0h1m-14 1h2m13 0h3m106 0h1m-127 1h2m20 0h2m101 0h1m-127 1h1m25 0h1m51 0h1m3 0h1m-84 1h1m77 0h1m5 0h1m1 0h1m36 0h1m-28 1h1m25 0h1m-6 1h1m3 0h1m-94 1h1m7 0h1m22 0h2m1 0h2m13 0h1m31 0h1m9 0h2m-83 1h1m19 0h1m5 0h1m12 0h1m-21 1h1m7 0h1m11 0h1m-39 1h1m25 0h1m12 0h1m-39 1h1m15 0h1m8 0h1m12 0h1m-77 1h1m40 0h1m12 0h1m22 0h4m-37 1h1m8 0h1m8 0h1m-18 1h1m6 0h1m8 0h1m-17 1h1m5 0h1m8 0h1m24 0h1m23 0h1m-65 1h1m13 0h1m-65 1h1m49 0h1m4 0h1m8 0h1m51 0h1m-118 1h1m50 0h1m36 0h1m29 0h1m-32 1h1m-99 1h4m58 0h1m35 0h1m32 0h1m-134 1h2m5 0h4m57 0h1m8 0h1m22 0h1m36 0h1m-141 1h3m65 0h1m2 0h1m8 0h1m23 0h1m37 0h1m-144 1h2m68 0h2m8 0h1m62 0h1m-65 1h2m-14 1h3m8 0h2m28 0h1m-44 1h1m3 0h2m5 0h3m64 0h1m-80 1h1m5 0h2m2 0h4m32 0h1m-41 1h2m2 0h4m64 0h1m-79 1h1m5 0h2m1 0h4m34 0h1m28 0h1m-72 1h2m3 0h3m60 0h2m-27 1h1m4 0h4m15 0h1m-25 1h4m6 0h2m10 0h2m-5 1h3"/><path stroke="#bb98ce" d="M154 4h1m-1 5h1m1 1h1m0 1h1m0 1h1m-1 5h1m-2 5h1m-69 2h1m-1 1h1m-1 1h1m-1 1h1m0 1h1m0 1h1m0 1h1m-1 4h1m-2 1h1m-3 1h1m69 1h1m-74 1h1m71 0h1m-73 1h1m-1 1h2m67 0h1m-69 1h2m65 0h1m-66 1h2m1 1h1m-61 2h2m1 0h2m58 0h2m-68 1h2m6 0h1m-13 1h3m76 0h1m-82 1h2m18 0h3m58 0h1m2 0h1m-86 1h1m24 0h2m51 0h5m3 0h1m40 0h1m-129 1h1m27 0h1m48 0h2m8 0h1m37 0h1m-98 1h1m48 0h1m7 0h1m-58 1h1m48 0h1m19 0h1m15 0h1m1 0h1m-88 1h1m31 0h2m15 0h1m33 0h1m-77 1h1m1 0h2m19 0h1m5 0h1m53 0h1m2 0h1m-89 1h1m23 0h1m7 0h1m53 0h1m-90 1h2m76 0h1m-53 1h1m9 0h1m10 0h1m-1 1h1m-34 1h3m8 0h1m9 0h1m12 0h1m4 0h1m1 0h1m22 0h1m-62 1h1m6 0h1m23 0h4m-29 1h1m25 0h2m31 1h1m-117 1h6m50 0h1m9 0h1m50 0h1m-118 1h1m87 0h2m28 0h1m-54 1h1m19 0h3m-97 1h2m6 0h1m51 0h1m3 0h1m9 0h1m53 0h1m-127 1h2m3 0h1m56 0h1m9 0h1m55 0h4m-73 1h1m12 0h1m59 0h2m-74 1h2m10 0h1m21 0h1m-60 1h1m35 0h2m22 0h1m38 0h1m-100 1h1m35 0h2m23 0h1m37 0h1m-65 1h2m62 0h1m-79 1h1m1 0h1m10 0h3m27 0h1m-41 1h1m8 0h3m62 0h1m-80 1h1m4 0h1m8 0h3m-12 1h1m7 0h3m61 0h1m-77 1h1m2 0h1m8 0h3m31 0h1m27 0h2m-30 1h1m25 0h2m-28 1h1m4 0h1m4 0h1m14 0h1m-26 1h4m7 0h9m3 0h2m-3 1h1"/><path stroke="#c9afd9" d="M155 3h1m-2 2h1m-1 1h1m-1 2h1m0 1h1m1 1h1m0 1h1m-1 7h1m-2 1h1m-70 4h1m-1 1h1m-1 1h1m-1 1h1m-1 1h1m-1 1h2m-1 1h2m0 1h1m-3 5h2m69 1h1m-1 1h1m-76 1h1m73 0h1m-75 1h1m71 0h1m-72 2h1m0 1h2m64 0h1m-63 1h1m-60 1h4m57 0h1m5 0h1m-70 1h2m5 0h1m56 0h1m2 0h1m-73 1h4m9 0h1m56 0h2m6 0h1m45 0h2m-128 1h2m14 0h7m57 0h1m45 0h2m-130 1h2m23 0h3m53 0h2m1 0h2m43 0h1m-131 1h2m27 0h2m46 0h3m50 0h1m-131 1h1m29 0h1m46 0h1m7 0h1m41 0h3m-100 1h1m46 0h1m19 0h1m-21 1h1m-41 1h3m19 0h2m2 0h3m11 0h1m39 0h1m5 0h1m-89 1h1m22 0h1m7 0h2m9 0h1m40 0h1m-79 1h1m26 0h1m8 0h2m41 0h1m1 0h2m-83 1h1m16 0h1m9 0h2m7 0h2m42 0h2m-66 1h1m11 0h1m7 0h2m31 0h1m-63 1h2m7 0h1m10 0h2m8 0h1m31 0h1m-108 1h1m45 0h1m6 0h1m11 0h1m9 0h2m6 0h1m-83 1h1m45 0h1m4 0h1m11 0h1m11 0h1m4 0h1m3 0h1m-89 1h1m49 0h1m15 0h1m12 0h2m2 0h1m28 0h1m-116 1h4m3 0h1m45 0h1m3 0h1m10 0h1m14 0h4m31 0h2m-120 1h1m52 0h1m2 0h1m26 0h5m3 0h1m27 0h1m-67 1h1m2 0h1m10 0h1m16 0h5m31 0h1m-121 1h1m55 0h1m10 0h1m16 0h2m34 0h1m-127 1h2m71 0h1m17 0h3m33 0h2m-127 1h3m68 0h2m16 0h3m38 0h2m-74 1h2m11 0h2m17 0h2m40 0h1m-62 1h2m18 0h1m40 0h2m-63 1h2m19 0h1m40 0h1m-100 1h1m36 0h2m19 0h2m39 0h1m-64 1h2m22 0h2m37 0h1m-79 1h1m14 0h2m60 0h1m-77 1h1m12 0h3m60 0h1m-77 1h1m12 0h2m27 0h1m32 0h1m-76 1h1m11 0h3m59 0h1m-77 1h2m12 0h3m27 0h1m30 0h1m-32 1h1m28 0h1m-23 1h1m2 0h1m16 0h1m-23 1h1m5 0h1m14 0h1m-23 1h1m7 0h4m4 0h3m1 0h2m-3 1h2"/><path stroke="#d7c4e3" d="M156 3h1m-2 1h1m-1 1h1m-2 2h1m0 1h1m0 1h2m0 1h1m-2 10h1m-1 1h1m-71 3h1m-1 1h1m-1 1h1m-1 1h1m-1 1h1m-1 1h2m-2 1h4m-5 1h3m3 0h1m-7 1h2m-2 1h2m0 1h1m-5 4h1m75 0h1m-78 1h2m73 0h1m-75 1h2m70 0h1m-73 1h2m69 0h1m-72 1h3m-54 1h3m48 0h7m61 0h1m-123 1h2m4 0h2m47 0h4m62 0h1m-128 1h6m56 0h2m63 0h1m-130 1h3m18 0h4m47 0h1m2 0h1m53 0h1m-131 1h2m23 0h3m46 0h3m53 0h1m-103 1h2m44 0h7m49 0h1m-101 1h1m44 0h1m8 0h1m45 0h1m-101 1h1m44 0h1m9 0h2m42 0h2m-101 1h1m44 0h1m48 0h1m3 0h1m-100 1h1m7 0h4m17 0h10m7 0h1m38 0h1m8 0h1m-90 1h2m3 0h2m16 0h1m7 0h4m6 0h1m36 0h1m-80 1h1m5 0h1m16 0h1m10 0h3m4 0h2m34 0h1m11 0h1m-94 1h1m2 0h1m14 0h2m7 0h1m10 0h4m2 0h2m42 0h1m4 0h1m-77 1h3m6 0h1m12 0h3m1 0h3m42 0h2m2 0h1m-82 1h1m5 0h3m5 0h1m13 0h7m42 0h5m-81 1h1m2 0h2m2 0h1m4 0h2m13 0h3m1 0h4m40 0h5m-73 1h1m4 0h1m13 0h2m4 0h3m39 0h3m-117 1h1m50 0h1m13 0h2m7 0h2m6 0h1m25 0h1m4 0h3m-118 1h1m2 0h1m46 0h1m2 0h1m12 0h1m9 0h2m5 0h1m28 0h5m-117 1h1m49 0h3m12 0h1m11 0h2m4 0h1m3 0h1m28 0h1m-122 1h1m54 0h2m12 0h1m13 0h1m5 0h3m29 0h1m-121 1h1m54 0h1m12 0h1m13 0h2m-89 1h1m57 0h1m1 0h1m12 0h1m13 0h2m37 0h1m-126 1h1m2 0h1m55 0h1m12 0h2m12 0h3m38 0h6m-76 1h1m1 0h1m13 0h1m13 0h2m43 0h2m-61 1h2m13 0h2m43 0h2m-62 1h2m14 0h2m43 0h1m-101 1h1m38 0h2m15 0h2m42 0h1m-62 1h2m16 0h1m42 0h1m-63 1h3m17 0h2m40 0h1m-63 1h2m22 0h1m36 0h1m-81 1h1m1 0h1m16 0h2m59 0h1m-63 1h3m58 0h1m-80 1h3m15 0h3m24 0h1m32 0h1m-61 1h3m56 0h2m-35 1h1m30 0h3m-25 1h2m18 0h2m-24 1h1m3 0h1m16 0h2m-24 1h2m4 0h1m4 0h4m6 0h2m-23 1h1m6 0h4m5 0h2m2 0h2m-22 1h1m6 0h3m7 0h5m-22 1h1m6 0h2m9 0h3"/><path stroke="#e2d4eb" d="M157 3h3m-4 1h4m-4 1h4m-5 1h5m-5 1h5m-4 1h4m-2 1h2m-1 1h1m-71 21h3m-4 1h5m-5 1h5m-4 1h3m69 3h1m-1 1h1m-80 1h1m76 0h3m-82 1h4m73 0h5m-124 1h2m4 0h2m33 0h5m72 0h6m-132 1h24m23 0h7m70 0h8m-137 1h8m3 0h20m19 0h9m69 0h9m-141 1h9m8 0h20m1 0h26m4 0h4m7 0h2m50 0h10m-142 1h4m14 0h48m2 0h6m4 0h5m49 0h10m-142 1h2m17 0h4m4 0h47m4 0h5m49 0h10m-113 1h46m3 0h5m49 0h10m-111 1h44m57 0h10m-110 1h44m10 0h2m44 0h10m-110 1h44m56 0h10m-110 1h44m22 0h1m27 0h3m1 0h12m-111 1h7m4 0h17m10 0h7m49 0h17m-112 1h5m7 0h16m12 0h6m38 0h3m7 0h18m-112 1h4m7 0h16m14 0h4m37 0h6m6 0h18m-111 1h2m8 0h7m2 0h7m15 0h2m36 0h8m6 0h18m-101 1h6m3 0h6m16 0h1m37 0h8m5 0h19m-100 1h5m3 0h5m55 0h8m5 0h19m-99 1h2m5 0h4m18 0h1m37 0h7m5 0h20m-92 1h4m16 0h4m36 0h6m3 0h23m-141 1h1m48 0h3m16 0h7m9 0h2m24 0h4m3 0h24m-141 1h2m48 0h2m14 0h9m8 0h4m29 0h24m-140 1h2m63 0h11m7 0h3m30 0h24m-147 1h1m70 0h13m39 0h23m-147 1h3m54 0h1m14 0h13m39 0h23m-148 1h4m54 0h1m14 0h13m40 0h22m-147 1h2m54 0h2m15 0h12m47 0h14m-89 1h1m15 0h13m47 0h13m-72 1h13m47 0h12m-72 1h14m46 0h11m-71 1h15m45 0h11m-71 1h16m44 0h11m-71 1h17m43 0h10m-71 1h22m38 0h11m-91 1h1m19 0h24m36 0h11m-92 1h3m18 0h24m35 0h12m-71 1h24m34 0h13m-71 1h24m34 0h13m-14 1h13m-16 1h16m-39 1h3m19 0h17m-39 1h4m17 0h18m-40 1h6m4 0h5m6 0h19m-40 1h6m3 0h7m5 0h19m-40 1h6m2 0h9m3 0h20m-41 1h41m-41 1h41m-40 1h40m-39 1h39m-38 1h38m-37 1h37m-34 1h34m35 0h2m-68 1h30m33 0h6m-68 1h30m32 0h6m-66 1h29m31 0h5m-63 1h27m24 0h6m1 0h4m-59 1h23m23 0h8m4 0h3m-59 1h19m23 0h11m1 0h7m-59 1h15m23 0h21m-57 1h14m3 0h2m6 0h32m-54 1h52m-51 1h48m-48 1h45m-46 1h43m-44 1h42m-42 1h37m-37 1h34m-37 1h33m-34 1h27m-28 1h22m-23 1h21m-21 1h13m-13 1h6m-5 1h2"/></g></g></g><use href="#o"/><path d="M731.5 37.0h0M776.8 37.0h0M587.2 39.5h0M674.0 41.5h0M752.3 59.0h0M597.2 65.3h0M692.2 93.8h0M730.3 96.6h0M565.1 105.1h0M788.6 105.8h0M474.1 106.6h0M715.3 114.6h0M661.0 117.1h0M509.1 120.3h0M436.5 130.6h0M748.5 141.6h0M570.4 146.4h0M686.5 146.4h0M522.1 152.1h0M782.3 157.9h0M638.9 164.1h0M462.1 167.9h0M596.7 173.9h0M545.4 177.1h0M739.8 184.6h0M489.6 187.9h0M575.4 198.9h0M509.6 202.7h0M781.8 204.7h0M653.0 207.2h0M409.5 209.2h0M760.5 221.4h0M505.8 222.2h0M462.8 223.4h0M148.4 224.7h0M596.7 230.9h0M311.7 231.4h0M374.8 234.7h0M699.7 234.7h0M200.4 235.2h0M241.4 237.2h0M763.5 247.9h0M539.1 249.2h0M419.5 253.9h0M633.9 254.7h0M476.3 255.4h0M592.9 257.9h0M221.4 259.7h0M728.0 259.7h0M146.4 262.2h0M280.2 262.2h0M677.2 263.9h0M759.0 274.7h0M517.9 276.0h0M378.5 276.5h0M652.7 276.7h0M255.4 279.2h0M607.2 280.5h0M692.2 285.5h0M461.6 286.5h0M558.4 286.5h0M212.2 288.5h0M411.5 291.0h0M313.5 291.5h0M162.1 296.5h0M652.7 301.0h0M357.8 303.0h0M716.0 303.5h0M536.6 304.7h0M115.8 310.5h0M430.8 316.0h0M577.9 318.5h0M789.1 318.5h0M477.8 319.0h0M750.5 319.7h0M304.2 320.2h0M243.4 323.0h0M630.2 324.7h0M693.5 325.5h0M74.6 331.5h0M187.1 331.5h0M383.0 332.2h0M747.3 332.2h0M349.8 333.0h0M657.7 341.8h0M451.3 343.0h0M232.2 352.3h0M572.9 352.8h0M514.6 354.3h0M274.2 356.0h0M617.7 359.8h0M699.7 360.5h0M130.1 363.5h0M769.8 364.8h0M188.9 370.3h0M547.1 372.8h0M480.8 374.0h0M328.0 376.0h0M43.8 377.3h0M444.5 377.3h0M727.3 380.6h0M651.5 383.7h0M594.2 401.7h0M698.5 404.9h0M763.5 407.9h0M642.9 411.2h0M719.8 436.9h0M763.0 447.9h0M741.0 463.2h0M702.2 484.5h0M895.4 495.5h0M816.6 509.5h0M726.5 515.0h0M714.8 528.3h0M737.3 532.0h0M771.5 541.3h0M719.8 544.5h0M695.2 547.5h0" stroke="#808080" stroke-width="27.5" stroke-linecap="round" fill="none"/><g font-size="21" font-weight="bold" text-anchor="middle"><text x="731.5" y="44.3">70</text><text x="776.2" y="44.3" letter-spacing="-1.6">100</text><text x="587.2" y="46.8">88</text><text x="674.0" y="48.8">54</text><text x="752.3" y="66.3">88</text><text x="597.2" y="72.6">88</text><text x="692.2" y="101.1">23</text><text x="730.3" y="103.9">23</text><text x="565.1" y="112.4">70</text><text x="788.0" y="113.1" letter-spacing="-1.6">100</text><text x="474.1" y="113.9">88</text><text x="715.3" y="121.9">18</text><text x="661.0" y="124.4">39</text><text x="509.1" y="127.6">88</text><text x="436.5" y="137.9">99</text><text x="748.5" y="148.9">54</text><text x="570.4" y="153.7">23</text><text x="686.5" y="153.7">23</text><text x="522.1" y="159.4">88</text><text x="782.3" y="165.2">88</text><text x="638.9" y="171.4">23</text><text x="461.5" y="175.2" letter-spacing="-1.6">100</text><text x="596.7" y="181.2">23</text><text x="545.4" y="184.4">88</text><text x="739.8" y="191.9">54</text><text x="489.6" y="195.2">39</text><text x="575.4" y="206.2">39</text><text x="509.6" y="210.0">54</text><text x="781.8" y="212.0">99</text><text x="653.0" y="214.5">23</text><text x="408.9" y="216.5" letter-spacing="-1.6">100</text><text x="759.9" y="228.7" letter-spacing="-1.6">100</text><text x="505.2" y="229.5" letter-spacing="-1.6">100</text><text x="462.2" y="230.7" letter-spacing="-1.6">100</text><text x="148.4" y="232.0">99</text><text x="596.7" y="238.2">39</text><text x="311.1" y="238.7" letter-spacing="-1.6">100</text><text x="374.2" y="242.0" letter-spacing="-1.6">100</text><text x="699.7" y="242.0">54</text><text x="200.4" y="242.5">99</text><text x="241.4" y="244.5">99</text><text x="762.9" y="255.2" letter-spacing="-1.6">100</text><text x="538.5" y="256.5" letter-spacing="-1.6">100</text><text x="418.9" y="261.2" letter-spacing="-1.6">100</text><text x="633.9" y="262.0">54</text><text x="475.7" y="262.7" letter-spacing="-1.6">100</text><text x="592.3" y="265.2" letter-spacing="-1.6">100</text><text x="221.4" y="267.0">88</text><text x="727.4" y="267.0" letter-spacing="-1.6">100</text><text x="146.4" y="269.5">88</text><text x="279.6" y="269.5" letter-spacing="-1.6">100</text><text x="676.6" y="271.2" letter-spacing="-1.6">100</text><text x="758.4" y="282.0" letter-spacing="-1.6">100</text><text x="517.9" y="283.3">88</text><text x="377.9" y="283.8" letter-spacing="-1.6">100</text><text x="652.1" y="284.0" letter-spacing="-1.6">100</text><text x="254.8" y="286.5" letter-spacing="-1.6">100</text><text x="607.2" y="287.8">54</text><text x="692.2" y="292.8">99</text><text x="461.6" y="293.8">99</text><text x="558.4" y="293.8">54</text><text x="212.2" y="295.8">39</text><text x="411.5" y="298.3">88</text><text x="312.9" y="298.8" letter-spacing="-1.6">100</text><text x="162.1" y="303.8">54</text><text x="652.1" y="308.3" letter-spacing="-1.6">100</text><text x="357.2" y="310.3" letter-spacing="-1.6">100</text><text x="715.4" y="310.8" letter-spacing="-1.6">100</text><text x="536.0" y="312.0" letter-spacing="-1.6">100</text><text x="115.2" y="317.8" letter-spacing="-1.6">100</text><text x="430.2" y="323.3" letter-spacing="-1.6">100</text><text x="577.9" y="325.8">88</text><text x="788.5" y="325.8" letter-spacing="-1.6">100</text><text x="477.2" y="326.3" letter-spacing="-1.6">100</text><text x="749.9" y="327.0" letter-spacing="-1.6">100</text><text x="304.2" y="327.5">54</text><text x="243.4" y="330.3">39</text><text x="630.2" y="332.0">54</text><text x="692.9" y="332.8" letter-spacing="-1.6">100</text><text x="74.0" y="338.8" letter-spacing="-1.6">100</text><text x="187.1" y="338.8">39</text><text x="383.0" y="339.5">88</text><text x="746.7" y="339.5" letter-spacing="-1.6">100</text><text x="349.2" y="340.3" letter-spacing="-1.6">100</text><text x="657.7" y="349.1">88</text><text x="450.7" y="350.3" letter-spacing="-1.6">100</text><text x="232.2" y="359.6">99</text><text x="572.9" y="360.1">54</text><text x="514.6" y="361.6">99</text><text x="274.2" y="363.3">39</text><text x="617.7" y="367.1">88</text><text x="699.7" y="367.8">88</text><text x="130.1" y="370.8">54</text><text x="769.2" y="372.1" letter-spacing="-1.6">100</text><text x="188.9" y="377.6">88</text><text x="546.5" y="380.1" letter-spacing="-1.6">100</text><text x="480.2" y="381.3" letter-spacing="-1.6">100</text><text x="327.4" y="383.3" letter-spacing="-1.6">100</text><text x="43.8" y="384.6">88</text><text x="443.9" y="384.6" letter-spacing="-1.6">100</text><text x="726.7" y="387.9" letter-spacing="-1.6">100</text><text x="651.5" y="391.0">88</text><text x="593.6" y="409.0" letter-spacing="-1.6">100</text><text x="697.9" y="412.2" letter-spacing="-1.6">100</text><text x="762.9" y="415.2" letter-spacing="-1.6">100</text><text x="642.3" y="418.5" letter-spacing="-1.6">100</text><text x="719.2" y="444.2" letter-spacing="-1.6">100</text><text x="762.4" y="455.2" letter-spacing="-1.6">100</text><text x="740.4" y="470.5" letter-spacing="-1.6">100</text><text x="701.6" y="491.8" letter-spacing="-1.6">100</text><text x="894.8" y="502.8" letter-spacing="-1.6">100</text><text x="816.0" y="516.8" letter-spacing="-1.6">100</text><text x="725.9" y="522.3" letter-spacing="-1.6">100</text><text x="714.2" y="535.6" letter-spacing="-1.6">100</text><text x="736.7" y="539.3" letter-spacing="-1.6">100</text><text x="770.9" y="548.6" letter-spacing="-1.6">100</text><text x="719.2" y="551.8" letter-spacing="-1.6">100</text><text x="694.6" y="554.8" letter-spacing="-1.6">100</text></g><text transform="translate(8.5,537.5) scale(0.9799,1)" font-size="64">Latest Wetbulb Temp</text><path d="M714.7 565.5v-4.5" stroke="#000" stroke-width="1.5"/></g>
<g transform="translate(1005,833.5)"><rect x="0" y="0" width="976" height="565.5" fill="#fff" stroke="#222" stroke-width="1.5"/><g clip-path="url(#c)"><g filter="url(#b)"><g transform="scale(5) translate(0,.5)" stroke-width="1.25" fill="none"><path stroke="#0000d2" d="M143 19h2m-3 1h3m-3 1h2"/><path stroke="#0000e6" d="M143 18h2m-6 1h4m2 0h1m-7 1h3m-2 1h2m2 0h1m-3 1h2"/><path stroke="#0000f8" d="M138 18h5m2 0h1m-9 1h2m-1 1h1m6 0h1m-7 1h1m0 1h2"/><path stroke="#030dff" d="M138 17h7m-8 1h1m-2 1h1m9 0h1m-10 1h1m-1 1h2m6 0h1m-7 1h1m4 0h1m-4 1h3"/><path stroke="#0927ff" d="M137 17h1m7 0h1m-10 1h1m9 0h1m-12 1h1m-1 1h2m9 0h1m-11 1h1m0 1h2m0 1h2"/><path stroke="#0d3fff" d="M137 16h7m-8 1h1m-2 1h1m-2 2h1m-1 1h2m10 0h1m-12 1h2m8 0h1m-9 1h2m5 0h1m-5 1h3"/><path stroke="#0f55ff" d="M138 15h3m-5 1h1m7 0h1m-10 1h1m10 0h1m-13 1h1m-2 1h2m-2 1h1m-1 1h1m-2 1h3m-3 1h5m1 1h2m3 0h1"/><path stroke="#0d69ff" d="M136 15h2m3 0h3m-9 1h1m9 0h1m-12 1h1m-2 1h1m13 0h1m-16 1h1m14 0h1m-16 1h1m14 0h1m-17 1h2m-2 1h1m-1 1h1m13 0h1m-15 1h7m6 0h1m-5 1h2m-23 8h2m-2 1h2"/><path stroke="#087cff" d="M137 14h5m-7 1h1m8 0h1m-11 1h1m11 0h1m-14 1h1m-2 1h1m-2 1h1m-2 1h2m-2 1h1m-2 1h2m15 0h1m-18 1h2m-1 1h1m-1 1h10m2 0h1m-24 7h2m-3 1h1m2 0h1m-4 1h1m2 0h1m-4 1h3"/><path stroke="#038fff" d="M135 14h2m5 0h2m-10 1h1m10 0h1m-14 1h2m-3 1h2m14 0h1m-17 1h1m-2 1h1m-2 1h1m-1 1h1m17 0h1m-20 1h1m-1 1h1m-1 1h2m-2 1h2m13 0h1m-15 1h12m-22 5h2m-3 1h1m2 0h1m-5 1h1m-1 1h1m3 1h1m-3 1h2"/><path stroke="#00a2ff" d="M136 13h7m-9 1h1m9 0h1m-13 1h2m12 0h1m-16 1h1m15 0h1m-18 1h1m-2 1h2m-3 1h2m-2 1h1m-2 1h2m-2 1h1m-1 1h1m18 0h1m-21 1h2m17 0h1m-20 1h2m16 0h1m-18 1h2m12 0h2m-16 1h9m-18 3h4m-5 1h2m2 0h2m-6 1h1m4 0h1m-1 1h1m-1 1h1m-6 1h1m4 0h1m-5 1h1m2 0h1"/><path stroke="#00b6ff" d="M137 12h5m-8 1h2m7 0h1m-12 1h2m11 0h1m-15 1h1m-2 1h1m-2 1h1m-2 1h1m19 0h1m-22 1h1m20 0h1m-22 1h1m20 0h1m-23 1h1m-2 1h2m20 0h1m-23 1h2m-3 1h2m-2 1h2m-3 1h4m16 0h1m-21 1h4m9 0h5m-20 1h14m-17 1h14m-15 1h1m4 0h3m-9 1h1m6 0h2m-9 1h1m6 0h1m-8 1h1m6 0h1m-8 1h1m6 0h1m-7 2h1m4 0h1m-4 1h2"/><path stroke="#00caff" d="M139 11h2m-6 1h2m5 0h2m-12 1h2m10 0h2m-16 1h2m14 0h1m-18 1h2m16 0h1m-20 1h2m-3 1h2m19 0h1m-22 1h1m-2 1h1m-2 1h2m-3 1h2m-2 1h1m-2 1h2m-3 1h2m22 0h1m-26 1h3m21 0h1m-26 1h3m21 0h1m-26 1h4m18 0h2m-26 1h4m14 0h3m-22 1h2m14 0h3m-20 1h2m8 0h7m-7 1h2m-3 1h2m-2 1h1m-1 1h1m-9 1h1m6 0h1m-1 1h1m-6 1h1m2 0h1"/><path stroke="#00e0ff" d="M136 11h3m2 0h3m-12 1h3m9 0h1m-15 1h2m14 0h1m-18 1h1m17 0h1m-20 1h1m-2 1h1m20 0h1m-23 1h1m-2 1h2m-3 1h2m-2 1h1m-2 1h1m24 0h1m-27 1h2m-3 1h2m24 0h1m-28 1h2m-3 1h2m-3 1h2m-4 1h3m24 0h1m-29 1h2m21 0h3m-27 1h2m19 0h2m-23 1h1m17 0h3m-20 1h1m11 0h6m-18 1h1m10 0h3m-14 1h1m9 0h2m-2 1h1m-2 1h2m-10 1h1m7 0h1m-8 1h1m4 0h1m-4 1h2"/><path stroke="#00f4ff" d="M137 10h7m-11 1h3m8 0h1m-15 1h2m13 0h2m-19 1h2m-3 1h2m-3 1h2m20 0h1m-23 1h1m-2 1h1m-2 1h1m-2 1h1m-2 1h2m-3 1h2m-3 1h2m26 0h1m-30 1h2m-3 1h2m-3 1h2m27 0h1m-32 1h3m27 0h1m-32 1h2m-2 1h1m26 0h2m-30 1h1m23 0h3m-5 1h1m-22 1h1m18 0h1m-5 1h4m-6 1h4m-16 1h1m10 0h3m-14 1h1m10 0h1m-2 1h1m-10 1h1m6 0h2m-8 1h2m2 0h2"/><path stroke="#00fbf3" d="M138 9h6m-9 1h2m7 0h2m-17 1h4m12 0h2m-19 1h2m-3 1h1m19 0h1m-22 1h1m21 0h1m-24 1h1m-1 1h1m-2 1h1m24 0h1m-27 1h1m25 0h1m-28 1h1m26 0h1m-29 1h1m27 0h1m-30 1h1m-2 1h1m-2 1h1m-2 1h1m29 0h1m-33 1h2m-3 1h1m-2 1h1m30 0h1m-32 1h1m29 0h1m-4 1h2m-29 1h1m22 0h3m-5 1h2m-22 1h1m18 0h2m-21 1h1m16 0h2m-4 1h3m-5 1h3m-15 1h1m10 0h3m-4 1h3m-12 1h1m6 0h2m-7 1h4"/><path stroke="#00f4dc" d="M138 8h7m-9 1h2m6 0h2m-18 1h7m11 0h1m-20 1h2m18 0h1m-22 1h2m19 0h1m-22 1h1m21 0h1m-24 1h1m-2 1h1m-1 1h1m24 0h1m-27 1h1m-2 1h1m-3 1h2m-3 1h2m-3 1h2m29 0h1m-33 1h2m-3 1h2m30 0h1m-34 1h2m-3 1h1m-2 1h1m32 0h1m-35 1h1m32 0h1m-34 1h1m31 0h1m-33 1h1m29 0h1m-4 1h2m-28 1h1m22 0h2m-3 1h1m-3 1h2m-21 1h1m17 0h2m-4 1h2m-3 1h3m-17 1h1m12 0h3m-6 1h5m-13 1h1m4 0h3m-6 1h3"/><path stroke="#00edc8" d="M138 7h7m-9 1h2m7 0h1m-19 1h9m10 0h1m-21 1h2m19 0h1m-22 1h1m-2 1h1m22 0h1m-24 1h1m-2 1h1m24 0h1m-1 1h1m-27 1h1m-2 1h1m-3 1h2m-3 1h1m-2 1h1m-2 1h1m-2 1h1m-2 1h1m-2 1h1m-2 1h1m33 0h1m-36 1h1m30 3h1m-32 1h1m28 0h1m-4 1h2m-27 1h1m22 0h2m-3 1h1m-2 1h1m-21 1h1m17 0h2m-20 1h1m17 0h1m-2 1h1m-17 1h1m14 0h2m-16 1h1m8 0h6m-14 1h2m3 0h4m1 0h3m-11 1h3"/><path stroke="#00e8b8" d="M137 6h8m-17 1h4m4 0h2m7 0h1m-20 1h10m10 0h1m-21 1h1m20 0h1m-23 1h1m-1 1h1m22 0h1m-25 1h1m24 0h1m-26 1h1m24 0h1m-27 2h1m-2 1h1m-2 1h1m-3 1h1m-3 1h2m-3 1h2m-3 1h2m-3 1h2m33 0h1m-36 1h1m-2 1h1m34 0h1m-37 1h1m-2 1h1m35 0h1m-37 1h1m34 0h1m-36 1h1m33 0h1m-35 1h1m32 0h1m-34 1h1m30 0h2m-32 1h1m27 0h2m-4 1h2m-27 1h1m22 0h1m-2 1h1m-2 1h1m-2 1h1m-20 1h1m17 0h1m-1 1h1m-18 1h1m15 0h1m-16 1h1m9 0h1m3 0h2m-15 1h2m3 0h3m2 0h3m-12 1h4m-3 1h2m-2 1h2"/><path stroke="#00e3a8" d="M137 4h4m-13 1h5m2 0h10m-19 1h11m8 0h1m-21 1h3m4 0h4m10 0h1m-23 1h2m21 0h1m-24 1h2m22 0h1m-25 1h1m23 0h1m-25 1h1m24 0h1m-27 2h1m-1 1h1m-2 1h1m27 0h1m-30 1h1m28 0h1m-32 1h2m29 0h1m-34 1h2m31 0h1m-35 1h1m33 0h1m-36 1h1m34 0h1m-37 1h1m-2 1h1m-2 1h2m35 0h1m-39 1h2m-2 1h1m36 0h1m-39 1h1m-1 1h1m-1 1h1m35 0h1m-2 1h1m-35 2h1m30 0h1m-31 1h1m27 0h2m-41 1h2m34 0h2m-38 1h2m10 0h1m22 0h1m-24 1h1m21 0h1m-2 1h1m-2 1h2m-21 1h1m18 0h1m-20 1h1m17 0h1m-18 1h1m0 1h1m8 0h2m3 0h2m-15 1h1m4 0h3m-7 1h1m2 0h2m-5 1h1m2 0h1m-3 1h2m-67 25h1m-1 1h2"/><path stroke="#00dc98" d="M127 3h15m-17 1h12m4 0h3m-20 1h4m5 0h2m10 0h1m-23 1h3m20 0h1m-25 1h3m22 0h1m-26 1h2m-1 1h1m-1 1h1m25 0h1m-27 1h1m-1 1h1m26 0h1m-1 1h1m-29 1h1m27 0h1m-30 1h1m-2 1h1m-5 1h3m-4 1h2m-3 1h2m-3 1h2m-2 1h1m36 0h1m-39 1h1m-2 1h1m-2 1h1m38 0h1m-40 1h1m36 2h1m-38 2h1m-1 1h1m33 0h1m-2 1h1m-43 1h2m39 0h1m-40 1h1m8 0h1m26 0h2m-38 1h1m33 0h2m-38 1h2m33 0h2m-25 1h1m21 0h2m-24 1h1m21 0h1m-2 1h1m-2 1h1m-20 1h1m17 0h1m-18 1h1m16 0h1m-17 1h1m8 0h6m-14 1h1m5 0h2m-8 1h1m4 0h1m-5 1h1m2 0h1m-67 25h1"/><path stroke="#00d488" d="M123 3h4m15 0h2m-24 1h5m19 0h2m-29 1h7m22 0h1m-31 1h7m24 0h1m-32 1h6m-6 1h6m26 0h1m-28 1h2m26 0h1m-28 1h1m-1 1h1m27 0h1m-29 1h1m-1 1h1m-8 3h5m-7 1h3m-3 1h2m-3 1h2m-2 1h1m-2 1h2m-3 1h2m38 0h1m-41 1h1m-2 1h1m-1 1h1m-1 1h1m38 0h1m-40 1h1m-1 1h1m37 0h1m-39 1h1m36 0h1m-2 1h1m-36 1h1m33 0h1m-42 1h1m7 0h1m31 0h1m-44 1h1m40 0h2m-43 1h1m11 0h1m26 0h2m-41 1h1m2 0h1m34 0h1m-38 1h1m35 0h1m-2 1h1m-24 1h1m21 0h1m-23 1h1m20 0h1m-2 1h1m-3 2h1m-16 1h1m8 0h5m-7 1h1m-2 1h1m-69 24h2m-3 1h1m2 0h1m-4 1h1m2 0h1m-3 1h2"/><path stroke="#00cd77" d="M119 3h4m21 0h2m-29 1h3m26 0h1m-32 1h2m30 0h1m-34 1h2m-2 1h2m32 0h1m-35 1h2m33 0h1m-36 1h7m0 1h1m28 0h1m-30 3h1m29 0h1m-31 1h1m29 0h1m-40 1h5m2 0h2m30 0h1m-40 1h3m36 0h1m-41 1h2m38 0h1m-42 1h3m38 0h1m-42 1h2m-2 1h2m-3 1h2m-2 1h1m-2 1h2m40 0h1m-43 1h1m-1 1h1m40 0h1m-42 1h1m-1 1h1m39 0h1m-41 1h1m0 2h1m36 0h1m-46 1h2m42 0h1m-46 1h1m43 0h1m-41 1h1m6 0h1m31 0h1m-45 1h1m4 0h1m36 0h1m-43 1h1m12 0h1m26 0h2m-41 1h1m1 0h1m9 0h1m25 0h1m-2 1h1m-2 1h1m-2 1h1m-23 1h1m20 0h1m-21 1h1m18 0h1m-19 1h1m16 0h1m-3 1h2m-16 1h1m7 0h4m-11 1h1m5 0h1m-5 1h3m-69 23h1m2 0h1m-4 3h1m2 0h1m-3 1h1"/><path stroke="#00c664" d="M146 3h1m0 1h1m-35 2h1m34 0h1m-36 1h1m35 0h1m-37 1h1m-2 1h2m36 0h1m-39 1h9m-9 1h5m4 0h1m29 0h1m-40 1h4m5 0h1m29 0h1m-41 1h5m-6 1h7m3 0h1m-11 1h2m5 0h2m-10 1h3m-4 1h3m-3 1h2m-2 1h2m41 0h1m-44 1h2m41 0h1m-44 1h1m-2 1h2m-2 1h1m-1 1h1m42 0h1m-44 1h1m-1 1h1m41 0h1m-43 1h1m40 1h1m-41 1h1m38 0h1m-40 1h1m-9 1h1m2 0h1m5 0h1m36 0h1m-43 1h1m5 0h1m34 0h1m-47 1h1m44 0h1m-3 1h2m-40 1h1m36 0h1m-43 1h1m3 0h1m35 0h2m-41 1h3m9 0h1m25 0h1m-27 1h1m24 0h1m-26 1h1m23 0h1m-2 1h1m-23 1h1m20 0h1m-21 1h1m18 0h1m-19 1h1m16 0h1m-5 1h3m-7 1h2m-8 1h1m3 0h2m-70 22h2m-4 2h1m4 0h1m-6 1h1m4 0h1m-5 2h1m1 0h1"/><path stroke="#00bf51" d="M147 3h1m0 1h1m-1 1h1m-37 1h1m36 0h1m-39 1h2m-2 1h2m-3 1h2m-2 1h2m-3 1h3m5 0h4m-12 1h3m4 0h1m3 0h1m-13 1h3m5 0h1m3 0h1m-13 1h2m7 0h3m-13 1h3m-4 1h3m-3 1h2m-2 1h2m-2 1h2m-2 1h2m-2 1h2m43 0h1m-46 1h1m-1 1h1m-1 1h1m-1 1h1m43 0h1m-45 1h1m42 1h1m-43 1h1m-1 1h1m40 0h1m-48 1h2m44 0h1m-44 1h1m3 0h1m-10 1h1m5 0h1m40 0h1m-42 1h1m39 0h1m-41 1h1m5 0h1m32 0h1m-47 1h1m43 0h2m-46 1h1m5 0h1m36 0h1m-43 1h1m3 0h1m35 0h2m-40 1h1m36 0h1m-2 1h1m-26 1h1m23 0h1m-2 1h1m-2 1h1m-21 1h1m18 0h1m-19 1h1m15 0h1m-16 1h1m9 0h3m-12 1h1m6 0h2m-73 22h1m2 0h1m-5 1h1m4 0h1m-6 3h1m4 0h1m-2 1h1"/><path stroke="#00b93e" d="M148 3h1m0 2h1m-40 2h1m-2 1h2m39 0h1m-43 1h2m-2 1h2m41 0h1m-45 1h2m-2 1h2m8 0h3m32 0h1m-47 1h2m9 0h3m32 0h1m-48 1h3m44 0h1m-48 1h2m45 0h1m-49 1h2m46 0h1m-49 1h2m46 0h1m-49 1h2m-1 1h1m-1 1h1m-1 1h1m-1 1h1m45 0h1m-47 1h1m45 0h1m-47 1h1m-1 1h1m44 1h1m-45 1h1m-1 1h1m42 0h1m-44 1h1m-7 1h1m2 0h2m1 0h2m-9 1h1m5 0h3m39 0h1m-42 1h1m2 0h1m-12 1h1m11 0h1m35 0h1m-49 1h1m46 0h1m-41 1h1m5 0h1m32 0h1m-34 1h1m30 0h2m-46 1h1m5 0h1m6 0h1m29 0h1m-43 1h2m1 0h2m7 0h1m27 0h1m-29 1h1m26 0h1m-2 1h1m-26 1h1m23 0h1m-24 1h1m21 0h1m-2 1h1m-3 1h1m-4 1h2m-5 1h2m-8 1h5m-65 17h1m-8 3h4m-5 1h1m4 0h1m0 2h1m-7 3h1m4 0h1m-5 1h3"/><path stroke="#00b32a" d="M149 4h1m0 3h1m-44 2h1m43 0h1m-46 1h2m-3 1h2m45 0h1m-48 1h2m-3 1h2m-3 1h2m-2 1h2m-2 1h1m-1 1h1m-1 1h1m48 0h1m-49 1h1m47 0h1m-49 1h1m-1 1h1m-1 1h1m46 2h1m-47 2h1m-1 1h1m44 0h1m-46 1h1m-5 1h5m-7 1h1m5 0h1m42 0h1m-51 2h1m8 0h2m38 0h1m-42 1h1m2 0h1m-4 1h1m3 0h1m35 0h1m-2 1h1m-49 1h1m7 0h1m38 0h1m-3 1h1m-39 1h1m35 0h2m-3 1h1m-29 1h1m26 0h1m-28 1h1m25 0h1m-26 1h1m23 0h1m-24 1h1m21 0h1m-22 1h1m18 0h1m-19 1h1m15 0h1m-16 1h1m11 0h2m-11 1h1m5 0h3m-86 10h1m-2 1h2m-1 1h1m5 5h2m9 0h1m-23 1h2m9 0h3m7 0h3m-24 1h2m18 0h4m-10 1h2m4 0h2m-8 1h1m6 0h1m-8 1h1m6 0h1m-8 1h1m-1 1h1m6 0h1m-8 1h1m6 0h1m-7 2h1m3 0h1"/><path stroke="#06b018" d="M149 3h1m0 2h1m-1 1h1m0 2h1m-47 2h1m46 0h1m-49 1h1m-2 1h2m-3 1h2m49 0h1m-52 1h1m50 0h1m-52 1h1m50 0h1m-52 1h1m-1 1h1m-1 1h1m-1 1h2m-1 1h1m48 0h1m-50 1h1m48 0h1m-50 1h1m0 1h1m-1 1h1m-1 1h1m46 0h1m-48 1h1m-2 1h2m-4 1h4m-6 1h2m48 0h1m-52 2h1m49 0h1m-42 2h2m38 0h1m-51 1h1m49 0h1m-51 1h1m8 0h1m3 0h1m35 0h1m-37 1h1m34 0h1m-49 1h1m7 0h1m4 0h1m32 0h2m-47 1h1m11 0h1m31 0h1m-43 1h4m6 0h1m29 0h1m-31 1h1m28 0h1m-2 1h1m-2 1h1m-2 1h1m-24 1h1m20 0h1m-21 1h1m17 0h2m-4 1h2m-14 1h1m9 0h2m-7 1h5m-87 9h1m1 1h1m-3 1h1m1 0h1m-3 1h2m4 3h3m9 0h2m-24 1h2m8 0h1m2 0h1m7 0h1m2 0h1m-26 1h1m2 0h1m7 0h1m3 0h1m5 0h1m3 0h1m-26 1h1m2 0h1m9 0h8m-20 1h2m11 0h1m8 0h2m-2 1h1m-1 1h1m-1 1h1m-9 3h1m6 0h1m-2 1h1m-5 1h4"/><path stroke="#12b008" d="M150 3h1m-1 1h1m0 3h1m1 5h1m-53 2h1m-1 1h1m-1 1h1m51 0h1m-53 1h1m51 0h1m-53 1h1m-1 1h1m0 1h1m-1 1h1m-1 1h1m49 0h1m-50 1h1m48 0h1m-50 1h1m-1 1h1m-2 1h2m47 0h1m-51 1h2m-4 1h2m49 0h1m-53 2h1m50 0h1m-53 2h1m50 0h1m-52 1h1m50 0h1m-42 1h3m37 1h1m-42 1h1m39 0h1m-41 1h1m38 0h1m-49 1h1m7 0h2m2 0h1m33 0h1m-45 1h1m4 0h2m3 0h1m31 0h2m-34 1h1m30 0h1m-31 1h1m28 0h1m-29 1h1m26 0h1m-27 1h1m24 0h1m-3 1h1m-2 1h1m-20 1h1m16 0h1m-16 1h1m12 0h1m-10 1h2m5 0h1m-5 1h4m-85 8h1m-4 1h1m-1 1h1m-1 1h1m2 0h1m-3 1h3m-6 2h2m6 0h1m3 0h1m7 0h1m2 0h1m-26 1h1m2 0h2m5 0h1m4 0h1m5 0h1m-18 1h1m5 0h1m5 0h5m-17 1h1m7 0h1m12 0h1m-26 1h1m2 0h1m9 0h1m0 1h1m9 0h1m-11 1h1m8 2h1m-1 1h1m-9 2h1m6 0h1m-7 1h1m4 0h1m-5 1h3"/><path stroke="#22b300" d="M151 4h1m-1 1h1m-1 1h1m0 3h1m0 2h1m-54 3h1m-1 1h1m-1 1h1m-1 1h1m-1 1h1m52 0h1m-54 1h1m52 0h1m-53 1h1m-1 1h1m-1 1h1m0 1h1m-1 1h1m49 0h1m-52 1h2m-3 1h2m-3 1h2m50 0h1m-54 1h1m-1 1h1m51 0h1m-54 1h1m-1 1h1m51 0h1m-2 3h1m-53 1h1m10 0h3m38 0h1m-53 1h1m10 0h1m1 0h1m37 0h1m-52 1h1m10 0h3m36 0h1m-40 1h2m35 0h2m-48 1h1m7 0h3m34 0h1m-42 1h1m5 0h1m32 0h1m-33 1h1m30 0h1m-31 1h1m28 0h1m-29 1h1m26 0h1m-27 1h1m23 0h1m-24 1h1m21 0h1m-22 1h1m18 0h1m-18 1h1m14 0h1m-12 1h1m8 0h1m-7 1h1m4 0h1m-5 1h3m-86 6h2m-3 1h1m3 1h1m-1 1h1m-1 1h1m-6 1h2m3 0h1m-7 1h11m-12 1h1m2 0h6m-5 1h2m1 0h2m6 0h1m3 0h1m5 0h1m-28 1h1m5 0h1m3 0h1m16 0h1m-28 1h1m11 0h1m14 0h1m-28 1h1m4 0h1m20 0h1m-26 1h4m20 1h1m-11 1h1m9 0h1m-11 1h1m-1 1h1m-1 1h1m8 0h1m-10 1h1m0 1h1m6 0h1m-8 1h2m3 0h2m-5 1h3"/><path stroke="#36b900" d="M151 3h1m0 5h1m0 2h1m0 2h1m-1 1h1m-1 1h1m-1 1h1m-56 1h1m54 0h1m-56 1h1m-1 1h1m-1 1h1m-1 1h2m52 0h1m-54 1h1m-1 1h1m-1 1h2m-2 1h2m-3 1h2m51 0h1m-55 1h2m-2 1h1m-2 1h1m53 0h1m-55 1h1m52 1h1m-55 2h1m52 0h1m-54 1h1m52 0h1m-54 1h1m11 2h1m39 0h1m-2 1h1m-2 1h1m-3 1h1m-44 1h1m1 0h5m34 0h1m-35 1h1m32 0h1m-33 1h1m30 0h1m-31 1h1m28 0h1m-29 1h1m25 0h2m-3 1h1m-3 1h2m-21 1h1m16 0h2m-4 1h2m-10 1h1m6 0h1m-3 1h1m-3 1h2m-6 4h2m-80 1h1m67 0h2m7 0h3m15 0h1m-95 1h1m66 0h3m6 0h3m-84 1h1m-1 1h1m-1 1h1m5 0h1m-8 1h1m6 0h2m-10 1h1m11 0h1m9 0h2m-25 1h1m14 0h1m5 0h1m4 0h1m-28 1h1m7 0h1m9 0h3m-14 1h3m-4 1h2m3 0h1m29 0h2m-37 1h1m6 0h1m13 0h1m13 0h2m-43 1h1m4 0h1m8 0h1m11 0h1m-1 1h1m52 0h2m-2 1h2m-56 1h1m78 0h1m-80 1h1m78 0h1m-81 2h1m-10 1h1m8 0h1m-10 1h1m7 0h1m-8 1h2m3 0h2"/><path stroke="#4cc100" d="M152 3h1m-1 1h1m-1 3h1m1 4h1m-57 6h1m55 0h1m-57 1h1m-1 1h1m-1 1h1m-1 1h2m53 0h1m-56 1h2m53 0h1m-56 1h2m-2 1h2m-2 1h1m-2 1h1m54 0h1m-56 1h1m-2 2h1m54 0h1m-56 1h1m-1 1h1m53 0h1m-2 3h1m-2 3h1m-53 1h1m50 0h1m-51 1h1m47 0h1m-46 1h1m42 0h1m-38 1h2m34 0h1m-35 1h1m32 0h1m-2 1h1m-2 1h1m-28 1h1m24 0h1m-25 1h1m22 0h1m-23 1h1m19 0h1m-16 1h1m12 0h1m-3 1h1m-8 1h1m4 0h1m-5 1h1m2 0h1m-4 1h2m-4 2h2m-12 1h1m10 0h1m-84 1h1m72 0h1m9 0h1m13 0h1m-99 1h1m74 0h1m4 0h1m17 0h2m-28 1h3m6 0h3m-85 1h1m6 0h1m-8 1h1m-2 1h1m9 0h1m-12 1h1m13 0h1m7 0h1m2 0h1m-27 1h1m16 0h2m1 0h2m-23 1h1m-1 1h1m28 0h1m-30 1h1m8 0h3m-12 1h1m7 0h1m4 0h1m14 1h1m13 0h1m37 0h3m-81 1h4m9 0h1m63 0h1m2 0h1m-56 1h1m54 0h1m-56 1h1m52 0h2m22 0h1m-90 1h1m88 0h1m-90 1h1m10 0h1m-12 1h1m10 0h1m-12 1h1m-1 1h1m9 0h1m-11 1h2m7 0h2"/><path stroke="#64cb00" d="M152 5h1m-1 1h1m0 3h1m1 3h1m-1 1h1m-1 1h1m-1 1h1m-60 3h2m56 0h1m-58 1h1m-1 1h1m-1 1h1m-1 1h1m-1 1h1m55 0h1m-57 1h1m55 0h1m-58 1h2m-2 1h1m-1 1h1m55 0h1m-57 1h1m53 4h1m-56 1h1m-1 1h1m-1 1h1m53 0h1m-55 1h1m53 0h1m-55 1h1m50 2h1m-48 1h1m44 0h1m-41 1h2m37 0h1m-37 1h1m34 0h1m-34 1h1m31 0h1m-32 1h1m29 0h1m-30 1h1m26 0h2m-28 1h1m24 0h1m-25 1h1m21 0h1m-18 1h1m14 0h1m-13 1h1m9 0h1m-10 1h1m6 0h1m-7 1h1m4 0h1m-6 1h1m2 0h1m-4 1h3m-5 1h1m2 0h1m-84 1h2m68 0h1m1 0h1m6 0h1m3 0h1m12 0h2m-29 1h1m3 0h1m4 0h1m19 0h1m-30 1h1m4 0h1m2 0h1m4 0h1m-86 1h1m6 0h1m68 0h2m2 0h2m-8 1h3m4 0h3m-85 1h1m8 0h1m-11 1h1m11 0h1m-14 1h1m15 0h1m5 0h1m4 0h1m-29 1h1m19 0h1m8 1h1m12 1h2m-45 1h1m29 0h1m11 0h1m2 0h1m-36 1h1m2 0h1m16 0h1m11 0h1m2 0h1m35 0h3m-83 1h1m6 0h1m6 0h1m26 0h1m1 0h2m34 0h1m3 0h1m-83 1h1m4 0h1m21 0h1m54 0h1m-69 1h1m12 0h1m50 0h1m3 0h1m21 0h1m-91 1h1m66 0h1m23 0h1m-80 1h1m-1 1h1m-14 1h1m-1 1h1m11 0h1m-14 1h2m11 0h1m-14 1h2m11 0h1"/><path stroke="#7ed500" d="M153 3h1m-1 1h1m-1 4h1m0 2h1m0 1h1m-1 5h1m-60 3h1m57 0h1m-59 1h1m-1 1h1m-1 1h1m-1 1h1m-2 1h2m-2 1h1m57 0h1m-59 1h1m57 0h1m-59 1h1m-1 1h1m56 0h1m-58 1h1m-1 1h1m55 0h1m-57 1h1m-1 1h1m54 1h1m-1 1h1m-2 3h1m-55 1h1m52 0h1m-53 1h1m50 0h1m-50 1h1m46 0h1m-44 1h2m40 0h1m-39 1h1m36 0h1m-36 1h1m33 0h1m-34 1h1m31 0h1m-32 1h1m29 0h1m-3 1h1m-3 1h2m-23 1h3m16 0h2m-4 1h1m-3 1h1m-4 2h1m-6 1h1m-12 1h2m12 0h1m-86 1h1m2 0h1m66 0h1m3 0h1m24 0h1m-101 1h1m4 0h1m70 0h1m2 0h1m5 0h1m11 0h1m-99 1h1m77 0h2m6 0h1m11 0h1m2 0h1m-30 1h1m5 0h2m5 0h1m13 0h2m-102 1h1m8 0h1m64 0h1m3 0h4m3 0h1m-87 1h1m10 0h1m65 0h3m2 0h5m-88 1h1m13 0h1m8 0h3m-9 1h5m6 1h1m-31 1h1m-1 1h1m41 0h1m2 0h1m35 1h3m-84 1h1m10 0h2m33 0h1m33 0h1m3 0h1m-85 1h1m8 0h1m4 0h1m15 0h1m48 0h1m-79 1h1m6 0h1m6 0h1m14 0h1m12 0h2m34 0h1m-78 1h6m97 0h1m-77 1h1m50 0h1m3 0h1m19 0h1m-76 1h1m52 0h1m21 0h1m2 0h1m-93 1h1m-2 1h1m13 0h1m-16 1h2m13 0h1m-17 1h2m14 0h1m-18 1h3m14 0h1"/><path stroke="#9adf00" d="M154 3h1m-2 2h1m-1 1h1m-1 1h1m0 2h1m1 3h1m-1 1h1m-1 1h1m-1 1h1m-2 2h1m-62 2h2m-1 1h1m58 0h1m-60 1h1m58 0h1m-60 1h1m-2 1h2m-2 1h1m-1 1h1m-1 1h1m-1 1h1m58 0h1m-60 1h1m-1 1h1m57 0h1m-59 1h1m-1 1h1m56 0h1m-58 3h1m-1 1h1m55 0h1m-57 1h1m2 4h1m48 0h1m-46 1h1m43 0h1m-41 1h1m38 0h1m-38 1h1m0 1h1m2 2h1m27 0h1m-28 1h1m25 0h1m-26 1h2m21 0h1m-17 1h1m12 0h2m-4 1h1m-10 1h1m6 0h1m-8 1h1m3 1h1m-17 1h1m2 0h1m6 0h1m16 0h2m-20 1h1m5 0h1m10 0h1m-99 1h1m70 0h1m6 0h2m-73 1h1m63 0h1m-73 1h1m86 0h1m-89 1h1m86 0h1m-89 1h1m12 0h1m63 0h1m3 0h2m5 0h1m-74 1h1m6 0h1m3 0h1m51 0h10m-89 1h1m80 0h8m-90 1h1m82 0h8m-48 1h2m37 0h10m-93 1h1m31 0h1m14 0h1m34 0h6m3 0h3m-94 1h1m31 0h1m9 0h1m4 0h1m33 0h1m3 0h3m5 0h1m-94 1h1m31 0h1m9 0h1m37 0h1m5 0h2m-88 1h1m10 0h1m30 0h1m4 0h1m38 0h2m10 0h1m-99 1h2m8 0h1m32 0h1m2 0h1m39 0h1m-86 1h2m6 0h1m6 0h1m14 0h1m12 0h2m34 0h1m5 0h1m18 0h1m2 0h1m-93 1h1m14 0h1m-16 1h1m65 0h1m1 0h1m-91 1h2m19 0h1m14 0h1m75 0h2m-94 1h1m15 0h1m-20 1h3m16 0h1m66 0h1m-88 1h3m-3 1h2m18 0h1"/><path stroke="#b0e700" d="M154 4h1m0 6h1m0 1h1m0 2h1m-2 3h1m-2 2h1m-63 1h1m-1 1h2m-2 1h2m-2 1h2m59 0h1m-62 1h1m60 0h1m-63 1h2m60 0h1m-63 1h2m60 0h1m-63 1h2m-2 1h2m-1 1h1m-1 1h1m-1 1h1m58 0h1m-59 2h1m56 0h1m-58 1h1m56 0h1m-2 3h1m-57 1h1m54 1h1m-55 1h1m52 0h1m-2 1h1m-48 1h1m45 0h1m-43 1h1m1 1h1m36 0h1m-2 1h1m-34 1h1m31 0h1m-32 1h1m29 0h1m-30 1h1m27 0h1m-28 1h1m24 0h2m-4 1h2m-16 1h1m10 0h1m-3 1h1m-3 1h1m-18 1h3m7 0h1m5 0h1m-14 1h1m11 0h1m9 0h1m2 0h1m-101 1h1m4 0h1m64 0h1m5 0h1m2 0h1m6 1h1m-89 1h1m-2 1h1m9 0h1m89 0h1m-102 1h1m11 0h1m62 0h1m13 0h1m-14 1h1m12 0h1m-91 1h1m16 0h2m2 0h2m5 0h1m49 0h1m10 0h2m-92 1h1m29 0h1m49 0h2m8 0h2m-12 1h3m8 0h2m-94 1h1m31 0h1m10 0h1m2 0h1m34 0h2m10 0h2m-15 1h2m6 0h3m3 0h2m-16 1h1m7 0h5m1 0h4m-99 1h1m48 0h1m30 0h1m8 0h12m-101 1h1m12 0h3m17 0h1m15 0h1m30 0h1m8 0h1m5 0h4m1 0h2m-102 1h1m11 0h1m3 0h1m16 0h1m9 0h1m4 0h1m20 0h4m7 0h1m7 0h1m7 0h6m-103 1h3m9 0h1m21 0h1m10 0h1m2 0h2m20 0h4m15 0h1m8 0h4m4 0h1m-111 1h17m21 0h1m11 0h2m21 0h4m15 0h1m10 0h2m5 0h1m-112 1h8m8 0h1m21 0h1m31 0h7m15 0h1m11 0h2m5 0h1m-112 1h1m2 0h4m10 0h2m2 0h1m16 0h1m30 0h5m30 0h2m6 0h1m-113 1h7m10 0h4m48 0h4m30 0h3m-124 1h3m15 0h7m9 0h2m52 0h3m30 0h1m1 0h1m-124 1h4m15 0h6m9 0h1m20 0h1m65 0h3m-124 1h3m17 0h5m8 0h2m21 0h1"/><path stroke="#c0ec00" d="M155 3h2m-2 1h1m-2 1h1m-1 2h1m-1 1h1m0 1h1m0 1h1m0 1h1m-1 1h1m-1 2h1m-1 1h1m-2 2h1m-2 2h1m-66 1h3m-3 1h3m-2 1h2m-3 1h3m-3 1h2m-1 1h1m-1 1h1m62 0h1m-64 1h1m0 1h1m60 0h1m-62 1h1m0 2h1m-1 1h1m57 2h1m-1 1h1m-2 2h1m-57 1h1m1 2h1m2 1h1m3 1h1m41 0h1m-41 1h1m38 0h1m-38 1h1m35 0h1m-36 1h1m33 0h1m-2 1h1m-2 1h1m-2 1h1m-28 1h4m3 0h1m17 0h2m-6 1h3m-15 1h1m9 0h1m-20 1h1m8 0h1m7 0h1m-20 1h1m26 0h3m-100 1h3m66 0h1m9 0h1m-82 1h1m69 0h1m7 0h2m8 0h1m8 0h1m4 0h1m-104 1h1m7 0h1m62 0h1m26 0h1m4 0h1m-105 1h1m88 0h1m9 0h1m-101 1h1m73 0h1m15 0h1m13 0h1m-106 1h1m102 0h1m-104 1h1m14 0h1m8 0h3m-28 1h1m19 0h2m56 0h1m-80 1h1m79 0h1m12 0h1m-94 1h1m31 0h1m47 0h1m13 0h1m-96 1h1m47 0h1m32 0h1m14 0h1m-97 1h1m42 0h1m5 0h1m30 0h1m16 0h1m-98 1h1m48 0h1m30 0h1m18 0h2m-102 1h1m101 0h1m-103 1h1m34 0h1m7 0h1m25 0h5m17 0h5m-97 1h2m13 0h1m20 0h1m7 0h1m6 0h1m17 0h2m4 0h1m15 0h2m3 0h2m6 0h1m3 0h3m-114 1h4m13 0h1m21 0h1m8 0h1m5 0h1m15 0h4m4 0h1m15 0h1m5 0h2m4 0h2m1 0h1m-111 1h1m17 0h1m3 0h1m26 0h2m2 0h3m13 0h5m4 0h1m8 0h1m6 0h1m7 0h2m2 0h2m2 0h1m-112 1h1m8 0h3m3 0h2m1 0h2m3 0h1m16 0h1m9 0h6m13 0h2m7 0h1m10 0h1m4 0h1m8 0h2m2 0h2m2 0h1m-112 1h1m7 0h3m5 0h2m2 0h2m29 0h3m15 0h1m5 0h3m13 0h3m9 0h2m2 0h1m-125 1h4m12 0h2m7 0h2m6 0h2m21 0h1m29 0h1m4 0h2m27 0h1m3 0h1m-126 1h1m3 0h1m12 0h2m7 0h2m6 0h1m22 0h1m29 0h2m3 0h1m28 0h1m3 0h1m-126 1h1m4 0h1m11 0h3m6 0h3m4 0h2m22 0h1m30 0h4m29 0h1m3 0h1m-126 1h1m3 0h2m11 0h4m5 0h5m1 0h2m24 0h1m63 0h3"/><path stroke="#d0f100" d="M157 3h1m-2 1h1m-2 1h1m-2 1h1m0 2h1m0 1h1m0 1h1m0 1h1m-1 1h1m-2 4h1m-3 4h1m-67 2h2m-2 1h1m-1 1h1m-1 1h2m-2 1h2m-1 1h1m63 0h1m-65 1h2m-1 1h1m61 0h1m-62 1h1m-1 1h1m59 0h1m-1 1h1m-60 1h1m-1 1h1m-1 1h1m-1 1h1m57 0h1m-59 1h1m56 1h1m-57 1h1m54 0h1m-55 1h1m52 0h1m-52 1h2m48 0h1m-2 1h1m-2 1h1m-40 1h1m37 0h1m-2 1h1m-35 1h1m32 0h1m-33 1h1m30 0h1m-31 1h1m28 0h1m-25 1h3m20 0h1m-28 1h3m5 0h1m15 0h3m-27 1h2m18 0h2m2 0h3m-28 1h1m1 0h1m23 0h3m-26 1h1m5 0h1m7 0h1m7 0h1m-98 1h1m3 0h1m64 0h1m6 0h1m11 0h1m7 0h1m4 0h1m-15 2h1m-92 1h1m10 0h1m61 0h1m31 0h1m-107 1h1m100 0h1m-103 1h1m91 0h1m10 0h1m1 0h1m-106 1h1m16 0h1m5 0h2m3 0h1m48 0h1m14 0h1m-94 1h1m30 0h1m61 0h1m-62 1h1m46 0h1m14 0h1m-96 1h1m44 0h4m31 0h1m15 0h1m-48 1h1m30 0h1m16 0h1m-99 1h1m34 0h1m44 0h1m18 0h2m-101 1h1m34 0h1m7 0h1m7 0h1m19 0h1m8 0h1m21 0h1m-104 1h1m35 0h1m7 0h1m7 0h1m15 0h8m5 0h1m22 0h1m-106 1h2m51 0h1m13 0h4m5 0h2m4 0h1m22 0h1m-108 1h3m16 0h2m34 0h2m10 0h5m7 0h1m4 0h1m11 0h3m9 0h3m-112 1h1m18 0h1m2 0h1m18 0h1m6 0h1m7 0h2m9 0h4m15 0h1m9 0h5m8 0h1m-111 1h1m19 0h1m20 0h2m5 0h2m7 0h2m8 0h3m10 0h1m15 0h1m4 0h2m6 0h2m6 0h1m-119 1h1m12 0h3m5 0h3m18 0h1m6 0h2m6 0h4m7 0h2m10 0h1m15 0h1m6 0h1m6 0h2m-128 1h3m12 0h2m11 0h1m3 0h1m24 0h1m6 0h4m3 0h6m7 0h2m9 0h1m11 0h1m3 0h1m7 0h1m5 0h1m3 0h1m3 0h1m-135 1h1m4 0h1m10 0h1m11 0h2m3 0h1m24 0h1m5 0h13m8 0h2m7 0h2m24 0h1m5 0h1m-128 1h1m5 0h2m9 0h1m11 0h2m3 0h1m24 0h1m5 0h13m9 0h1m6 0h1m26 0h1m5 0h1m-128 1h1m6 0h1m8 0h2m12 0h4m25 0h1m4 0h14m9 0h2m4 0h1m-94 1h1m6 0h2m6 0h3m14 0h1m27 0h17m11 0h5m29 0h1"/><path stroke="#dff700" d="M158 3h2m-3 1h2m-3 1h1m-2 1h1m-1 1h1m0 1h1m0 1h1m0 1h1m-2 7h1m-2 1h1m-2 3h1m-1 1h1m-68 1h1m66 0h1m-69 1h2m66 0h1m-69 1h2m66 0h1m-68 1h1m66 0h1m-68 1h2m-1 1h1m64 0h1m-65 1h1m0 1h1m61 0h1m-63 1h1m0 1h1m-1 1h1m59 0h1m-61 1h1m59 0h1m-2 3h1m-59 1h1m55 2h1m-54 1h1m51 0h1m-47 1h1m44 0h1m-44 1h1m41 0h1m-2 1h1m-39 1h1m36 0h1m-37 1h1m34 0h1m-2 1h1m-33 1h1m30 0h1m-31 1h1m28 0h1m-30 1h1m27 0h1m-29 1h1m2 0h1m19 0h2m3 0h1m-30 1h1m3 0h1m15 0h2m3 0h2m-28 1h1m5 0h1m19 0h1m4 0h1m-103 1h1m5 0h1m62 0h1m8 0h3m-82 1h1m7 0h1m60 0h2m-72 1h1m70 0h1m-74 1h1m57 0h1m33 0h1m-94 1h1m13 0h1m44 0h1m15 0h1m-77 1h1m15 0h1m60 0h1m-78 1h1m18 0h5m-25 1h1m78 0h1m15 0h1m-96 1h1m-2 1h1m34 0h1m9 0h1m4 0h1m29 0h1m-81 1h1m34 0h1m8 0h1m20 0h4m11 0h1m18 0h1m-101 1h1m51 0h1m12 0h9m6 0h1m21 0h1m-103 1h1m63 0h8m1 0h4m2 0h2m23 0h1m-106 1h1m53 0h1m9 0h5m8 0h5m-83 1h1m38 0h1m15 0h2m6 0h5m11 0h4m24 0h2m-111 1h1m40 0h1m5 0h1m10 0h3m3 0h4m13 0h1m33 0h1m-117 1h1m20 0h2m20 0h1m4 0h1m10 0h9m13 0h1m35 0h1m-119 1h1m21 0h2m20 0h5m11 0h8m30 0h4m-117 1h1m13 0h1m43 0h6m12 0h7m13 0h1m7 0h1m7 0h2m2 0h2m15 0h1m-136 1h1m3 0h2m9 0h1m14 0h3m26 0h6m13 0h7m12 0h1m9 0h1m5 0h2m4 0h1m7 0h3m-131 1h1m6 0h1m7 0h2m14 0h3m26 0h5m13 0h8m11 0h1m12 0h4m6 0h1m7 0h1m4 0h1m-135 1h1m8 0h1m5 0h3m14 0h3m26 0h5m13 0h9m8 0h2m23 0h1m-123 1h2m8 0h8m44 0h4m14 0h5m1 0h3m7 0h2m25 0h1m5 0h1m-130 1h2m9 0h6m62 0h6m1 0h4m5 0h2m26 0h1m4 0h1m-4 1h3"/><path stroke="#edfc00" d="M159 4h1m-3 1h3m-4 1h4m-4 1h4m-3 1h3m-2 1h2m-1 1h1m-2 6h1m-3 3h1m-70 7h1m-1 1h1m67 0h1m-68 1h1m-1 1h2m-1 1h2m-1 1h1m62 0h1m-63 1h1m0 3h1m59 0h1m-61 1h1m59 0h1m-61 1h1m58 1h1m-59 1h1m56 0h1m-57 1h1m6 2h1m3 2h1m40 0h1m-41 1h1m38 0h1m-2 1h1m-36 1h1m33 0h1m-2 1h1m-33 1h1m30 0h1m-27 1h1m24 0h1m-31 1h1m9 0h1m19 0h1m-32 1h1m10 0h1m11 0h3m5 0h1m-101 1h3m65 0h1m10 0h1m9 0h1m4 0h1m-98 1h1m65 0h4m21 0h1m5 0h1m6 0h1m-106 1h1m65 0h4m21 0h1m6 0h1m6 0h1m-107 1h1m10 0h1m55 0h5m27 0h1m6 0h1m-109 1h1m57 0h1m1 0h1m13 0h1m26 0h1m-103 1h1m48 0h3m7 0h1m1 0h2m31 0h1m13 0h1m-110 1h1m17 0h1m7 0h3m21 0h3m7 0h5m30 0h1m8 0h1m3 0h1m-109 1h1m30 0h1m18 0h2m9 0h4m13 0h1m16 0h1m9 0h2m-108 1h1m33 0h1m27 0h6m-68 1h1m46 0h4m11 0h8m10 0h1m16 0h1m-47 1h1m10 0h10m26 0h1m-100 1h1m51 0h1m10 0h3m4 0h4m6 0h1m20 0h1m-58 1h1m8 0h1m8 0h3m9 0h3m2 0h1m23 0h1m-105 1h1m37 0h1m15 0h1m7 0h3m13 0h2m-81 1h1m38 0h1m5 0h1m10 0h2m4 0h3m42 0h1m-110 1h2m45 0h1m11 0h6m46 0h3m-115 1h1m42 0h1m3 0h1m14 0h3m18 0h3m-87 1h1m44 0h4m34 0h1m3 0h1m-89 1h1m82 0h1m5 0h1m-107 1h3m1 0h2m10 0h1m100 0h2m-120 1h2m6 0h1m6 0h2m83 0h1m16 0h4m-122 1h2m8 0h7m83 0h1m10 0h1m4 0h6m9 0h4m1 0h1m-138 1h2m10 0h5m83 0h1m13 0h3m4 0h2m8 0h1m-133 1h2m85 0h1m12 0h1m22 0h2m-126 1h3m85 0h1m11 0h1m24 0h1m0 1h2"/><path stroke="#f7fb00" d="M158 17h1m-2 1h1m-2 6h1m-1 1h1m-1 1h1m-70 2h1m-1 1h1m66 0h1m-67 1h1m0 1h1m0 1h1m62 0h1m-64 1h2m-1 1h1m-1 1h1m-1 1h1m60 1h1m-61 1h1m57 2h1m-56 1h1m53 0h1m-52 1h3m47 0h1m-46 1h1m43 0h1m-43 2h1m1 1h1m37 0h1m-38 1h1m0 1h1m32 1h1m-33 1h1m5 0h1m2 0h1m21 0h1m-27 1h1m25 0h1m-27 1h1m25 0h1m-104 1h2m3 0h1m58 0h6m8 0h1m13 0h1m2 0h1m7 0h1m-106 1h1m64 0h2m-68 1h1m65 0h1m-69 1h2m56 0h3m6 0h2m25 0h1m-96 1h1m14 0h1m33 0h3m6 0h1m3 0h2m4 0h7m-76 1h1m52 0h1m5 0h1m4 0h2m2 0h5m3 0h1m26 0h1m-80 1h2m3 0h2m18 0h1m3 0h1m5 0h1m5 0h6m6 0h1m-79 1h1m32 0h1m16 0h1m2 0h1m6 0h2m4 0h6m33 0h1m2 0h1m-60 1h4m8 0h1m6 0h4m7 0h1m17 0h1m-99 1h1m35 0h1m10 0h1m4 0h1m9 0h1m8 0h3m6 0h1m-81 1h1m44 0h1m16 0h1m10 0h2m5 0h1m19 0h1m-102 1h1m37 0h1m6 0h1m8 0h1m7 0h2m11 0h2m3 0h1m22 0h2m-105 1h1m37 0h1m23 0h1m15 0h2m25 0h1m-107 1h1m44 0h1m10 0h2m3 0h2m44 0h1m-109 1h1m58 0h4m46 0h1m-112 1h1m42 0h1m3 0h1m67 0h1m-117 1h1m44 0h3m-50 1h2m84 0h1m1 0h1m-105 1h5m10 0h2m-19 1h2m6 0h2m6 0h2m84 0h1m-105 1h3m9 0h6m-19 1h3m-3 1h2m101 0h1m11 0h1m3 0h4m-123 1h1m101 0h1m18 0h3m9 0h1m-33 1h2m21 0h1m7 0h1m-8 1h1m5 0h1m-5 1h4"/><path stroke="#fcf400" d="M158 18h1m-3 2h1m-1 1h1m-1 1h1m-1 1h1m-1 4h1m-2 1h1m-69 2h1m66 0h1m-67 1h1m-1 1h2m-1 1h1m63 0h1m-64 1h1m62 0h1m-64 1h1m62 0h1m-63 2h1m60 1h1m-61 1h1m58 0h1m-59 1h1m0 1h1m1 1h2m51 0h1m-2 1h1m-45 1h1m42 0h1m-2 1h1m-41 1h1m0 1h1m36 0h1m-2 1h1m-35 1h1m7 1h2m23 0h1m-34 1h1m-8 1h4m1 0h2m-72 1h1m6 0h1m56 0h1m15 0h2m12 0h2m-98 1h1m9 0h1m54 0h1m28 0h1m3 0h1m-100 1h1m11 0h1m53 0h1m27 0h1m4 0h1m-102 1h1m57 0h1m3 0h2m3 0h1m-69 1h1m52 0h1m4 0h1m6 0h4m27 0h1m13 0h1m-112 1h1m17 0h1m9 0h1m21 0h1m4 0h1m3 0h1m7 0h2m5 0h3m20 0h1m-98 1h1m19 0h1m2 0h2m7 0h1m26 0h1m12 0h2m23 0h1m6 0h1m-106 1h1m34 0h1m14 0h1m4 0h1m4 0h1m12 0h1m24 0h1m-99 1h1m35 0h1m11 0h2m4 0h1m6 0h1m11 0h1m33 0h1m-62 1h1m6 0h1m7 0h1m12 0h1m24 0h1m-101 1h1m37 0h1m15 0h1m7 0h1m13 0h1m3 0h1m21 0h1m-48 1h1m5 0h1m15 0h3m25 0h1m-107 1h1m44 0h1m10 0h2m3 0h2m44 0h1m-109 1h1m40 0h1m17 0h3m47 0h1m-112 1h2m41 0h1m68 0h1m-114 1h1m44 0h1m1 0h1m69 0h1m-120 1h2m118 0h1m-137 1h4m11 0h1m87 0h1m-108 1h4m5 0h2m7 0h1m86 0h1m3 0h1m-111 1h3m10 0h6m92 0h1m-112 1h1m111 0h1m-9 1h1m8 0h1m0 1h1m19 0h1m-32 1h1m11 0h6m-18 1h1m16 0h4m-1 1h2m0 1h2"/><path stroke="#ffec00" d="M157 19h1m-1 5h1m-1 1h1m-1 1h1m-3 3h1m-70 2h2m66 0h1m-68 1h1m0 1h1m0 1h1m-1 1h1m0 1h1m62 0h1m-64 1h1m62 0h1m-63 1h1m-1 1h1m0 1h1m58 0h1m-59 1h1m56 0h1m-56 1h1m6 1h1m45 1h1m-45 1h1m42 0h1m-43 1h1m40 0h1m-41 1h1m38 0h1m-38 1h1m35 0h1m-2 1h1m-35 1h1m-8 1h3m3 0h1m7 0h1m2 0h1m22 0h1m-105 1h5m58 0h1m4 0h1m9 0h1m2 0h1m22 0h1m-108 1h2m63 0h1m41 0h1m-109 1h1m64 0h1m30 0h1m1 0h1m9 0h1m-111 1h2m56 0h5m3 0h2m42 0h1m-112 1h1m50 0h2m5 0h1m6 0h3m29 0h1m4 0h1m-104 1h1m49 0h1m4 0h2m1 0h1m44 0h1m-105 1h1m26 0h2m1 0h2m25 0h3m-60 1h1m21 0h2m26 0h1m5 0h4m15 0h1m2 0h1m32 0h1m-63 1h1m6 0h1m2 0h1m14 0h1m4 0h1m25 0h1m4 0h1m-112 1h1m47 0h1m7 0h1m4 0h1m13 0h1m4 0h1m19 0h1m5 0h2m1 0h1m-110 1h1m37 0h1m16 0h1m5 0h1m14 0h1m3 0h1m20 0h1m-103 1h1m55 0h1m5 0h1m15 0h3m23 0h4m-108 1h1m39 0h1m16 0h1m3 0h1m45 0h1m-109 1h1m40 0h1m17 0h3m47 0h1m-111 1h1m110 0h1m-114 1h1m44 0h1m2 0h1m65 0h2m-117 1h1m46 0h1m-69 1h8m11 0h1m-21 1h5m4 0h2m8 0h1m-20 1h1m11 0h7m88 0h1m-2 1h1m-2 1h1m35 0h1m-2 1h1m-37 1h1m8 0h1m21 0h3m-34 1h1m9 0h1m19 0h1m-31 1h1m10 0h5m13 0h1m-14 1h3m9 0h1m-10 1h2m6 0h1m-6 1h4"/><path stroke="#ffe400" d="M157 20h1m-1 3h1m-1 4h1m-2 1h1m-71 4h1m67 0h1m-68 1h1m66 0h1m-67 1h1m65 0h1m-1 1h1m-66 1h1m-1 1h1m0 1h1m61 1h1m-62 1h1m59 1h1m-58 1h1m55 0h1m-55 1h2m51 0h1m-47 1h1m44 1h1m-45 1h1m42 0h1m-43 1h1m40 0h1m-40 1h1m37 0h1m-38 1h1m35 0h1m-43 1h3m3 0h1m34 0h1m-43 1h1m3 0h3m9 0h1m-82 1h2m5 0h1m56 0h1m16 0h2m-85 1h1m10 0h1m53 0h1m-68 1h2m12 0h1m51 0h1m32 0h1m-101 1h1m57 0h1m5 0h3m31 0h1m2 0h1m-103 1h1m16 0h1m33 0h1m2 0h5m53 0h1m-114 1h1m57 0h1m40 0h1m-80 1h1m5 0h1m5 0h1m17 0h1m53 0h1m7 0h1m-114 1h1m34 0h1m14 0h1m26 0h2m26 0h1m-106 1h1m36 0h1m11 0h1m8 0h2m16 0h1m23 0h1m-63 1h1m18 0h1m1 0h2m15 0h1m33 0h1m-112 1h1m46 0h1m9 0h1m3 0h1m16 0h1m1 0h1m22 0h1m1 0h5m-70 1h1m5 0h1m10 0h1m3 0h1m46 0h1m-110 1h1m45 0h1m12 0h3m47 0h1m-111 1h1m-2 1h1m43 0h1m2 0h1m-50 1h1m46 0h2m68 0h1m-136 1h5m11 0h2m-13 1h2m8 0h1m-9 1h2m4 0h2m123 0h1m-35 1h2m32 0h1m-38 3h1m6 0h1m-8 1h1m32 0h1m-26 1h1m0 1h1m0 1h5m0 1h3m0 1h3m4 0h1m-5 1h3"/><path stroke="#ffdc00" d="M157 21h1m-1 1h1m-1 6h1m-2 1h1m-2 1h1m-70 3h1m67 3h1m-67 1h1m65 0h1m-66 1h1m63 0h1m-64 1h1m61 1h1m-61 1h1m0 1h1m0 1h2m2 0h4m48 0h1m-2 1h1m-47 1h1m44 1h1m-45 1h1m42 0h1m-44 1h3m39 0h1m-45 1h6m37 0h1m-45 1h1m3 0h3m36 0h1m-108 1h6m57 0h1m17 0h1m24 0h1m-110 1h2m8 0h1m54 0h1m43 0h1m-112 1h2m64 0h1m-68 1h1m58 0h5m2 0h1m-68 1h1m51 0h2m4 0h1m42 0h1m-103 1h1m50 0h1m48 0h1m2 0h1m-105 1h1m19 0h1m7 0h5m18 0h1m52 0h1m-105 1h1m25 0h1m7 0h1m65 0h1m-102 1h1m36 0h1m63 0h1m-102 1h1m38 0h1m38 0h3m25 0h1m-107 1h1m47 0h1m10 0h1m18 0h3m21 0h1m3 0h1m-67 1h1m17 0h3m18 0h1m24 0h1m5 0h1m-112 1h1m58 0h3m48 0h1m-69 1h1m67 0h1m-113 1h1m43 0h1m2 0h1m64 0h1m-115 1h2m45 0h2m66 0h1m-132 1h3m12 0h1m-13 1h1m9 0h1m121 0h1m-131 1h1m5 0h2m-6 1h4m90 2h1m2 0h1m31 0h1m-37 1h1m4 0h1m-7 3h1m29 0h1m-31 1h1m7 0h1m20 0h1m-22 1h2m18 0h1m-21 1h7m12 0h1m-14 1h4m8 0h1m-9 1h3m3 0h1"/><path stroke="#ffd400" d="M158 28h1m-4 3h1m-1 3h1m-1 1h1m-68 3h1m65 0h1m-66 1h1m63 0h1m-64 1h1m0 1h1m60 0h1m-61 1h1m58 0h1m-59 1h1m1 1h3m4 0h1m47 0h1m-2 1h1m-47 1h1m-1 1h1m44 0h1m-47 1h2m43 0h1m-47 1h1m44 0h1m-47 1h1m-67 1h3m6 0h2m54 0h1m44 0h1m-113 1h2m11 0h1m-15 1h1m14 0h1m44 0h1m51 0h1m-114 1h1m57 0h2m5 0h2m46 0h1m-115 1h1m17 0h1m33 0h1m2 0h4m42 0h1m12 0h1m-116 1h1m28 0h3m70 0h2m-105 1h1m27 0h1m5 0h1m67 0h1m12 0h1m-116 1h1m22 0h1m1 0h2m9 0h2m13 0h1m53 0h1m-68 1h1m11 0h1m54 0h1m-57 1h1m55 0h1m7 0h1m-115 1h1m40 0h1m6 0h1m55 0h3m6 0h1m-114 1h1m41 0h1m4 0h1m64 0h1m-71 1h1m3 0h1m64 0h1m19 0h2m-134 1h1m43 0h3m-49 1h1m45 0h2m66 0h1m-130 1h1m12 0h1m116 0h1m-130 1h1m9 0h2m119 0h1m-131 1h2m6 0h1m-7 1h5m125 0h1m-35 3h2m-4 2h1m5 1h1m26 0h1m-28 1h1m23 0h1m-31 1h1m5 0h1m-1 1h1m-2 1h2m-2 1h8m-5 1h9m7 0h1m-8 1h6"/><path stroke="#ffcc00" d="M157 29h2m-3 1h1m-2 2h1m-1 1h1m-1 3h1m-1 1h1m-69 1h1m0 1h1m65 0h1m-67 1h2m63 0h1m-65 1h2m0 1h1m60 0h1m-61 1h1m58 0h1m-58 1h1m3 0h1m-3 1h1m5 0h1m47 0h1m-2 1h1m-48 1h1m46 0h1m-49 1h1m46 0h1m-50 1h2m46 0h1m-113 1h10m54 0h1m45 0h1m-114 1h2m11 0h2m51 0h1m-68 1h1m14 0h1m51 0h1m45 0h1m-116 1h2m58 0h2m1 0h2m2 0h2m46 0h1m-117 1h2m17 0h1m39 0h1m-61 1h2m51 0h1m-54 1h1m20 0h1m7 0h1m3 0h2m17 0h1m63 0h1m-118 1h1m27 0h1m7 0h2m14 0h1m51 0h2m-106 1h1m24 0h1m13 0h1m63 0h1m-104 1h1m39 0h1m9 0h1m52 0h1m11 0h1m-116 1h1m40 0h1m7 0h1m53 0h1m-62 1h1m3 1h1m84 0h2m-134 1h1m43 0h3m-48 1h1m112 0h1m19 0h2m-138 1h2m-14 1h2m8 0h2m118 0h1m-130 1h2m6 0h1m-7 1h1m4 0h1m89 5h1m3 1h1m29 0h1m-36 1h1m-1 1h1m30 0h1m-31 1h1m3 0h1m23 0h1m-27 1h3m22 0h1m-2 1h1m-2 1h1m-2 1h1m-17 1h8m6 0h1m-15 1h3m3 0h2m1 0h3"/><path stroke="#ffc400" d="M157 30h1m-2 1h1m-1 2h1m-1 1h1m-1 1h1m-1 1h1m-1 1h1m-71 1h1m68 0h1m-69 1h1m-1 1h1m0 1h1m64 0h1m-65 1h2m-1 1h2m60 0h1m-61 1h2m5 0h3m49 0h1m-59 1h3m1 0h2m52 0h1m-57 1h3m4 0h1m47 0h1m-104 1h1m53 0h1m48 0h1m-106 1h4m50 0h2m48 0h1m-115 1h13m50 0h1m49 0h1m-116 1h2m10 0h3m50 0h1m47 0h2m-117 1h1m15 0h1m97 0h1m-117 1h2m16 0h1m41 0h4m4 0h1m-70 1h1m18 0h1m40 0h1m5 0h2m-70 1h2m54 0h5m57 0h1m-119 1h1m29 0h6m82 0h1m-120 1h2m28 0h1m6 0h2m-39 1h1m23 0h1m14 0h2m-41 1h1m40 0h1m10 0h1m52 0h2m10 0h1m-118 1h1m41 0h1m62 0h2m-107 1h1m42 0h1m5 0h1m55 0h2m-107 1h1m47 0h1m83 0h2m-134 1h1m43 0h1m1 0h1m67 0h1m16 0h1m2 0h1m-136 1h1m113 0h1m17 0h1m2 0h1m-137 1h1m114 0h1m-120 1h2m117 0h1m-128 1h1m6 0h1m121 0h1m-129 1h1m4 0h1m123 0h1m-129 1h4m125 0h1m-33 5h1m-4 1h1m3 1h1m28 0h1m-34 1h1m3 0h1m-4 1h1m1 0h1m19 5h1m-13 1h3m2 0h1m3 0h2m-14 1h7m-7 1h1"/><path stroke="#ffbc00" d="M158 30h1m-2 1h2m-3 1h2m-1 1h1m-1 1h1m-1 1h1m-1 1h1m-1 1h1m-73 1h1m70 0h1m-71 1h1m68 0h1m-2 1h1m-68 1h1m66 0h1m-67 1h1m64 0h1m-65 1h1m63 0h1m-64 1h2m60 0h1m-62 1h2m6 0h1m1 0h1m-57 1h4m44 0h2m3 0h4m49 0h1m-108 1h3m1 0h2m45 0h6m-66 1h3m4 0h3m4 0h1m47 0h2m51 0h1m-118 1h2m13 0h2m47 0h1m51 0h1m-119 1h2m15 0h1m48 0h1m50 0h1m-120 1h2m17 0h1m40 0h3m5 0h1m48 0h2m-121 1h2m59 0h1m4 0h4m48 0h2m-122 1h3m58 0h2m57 0h1m-122 1h2m31 0h5m19 0h1m63 0h1m-121 1h1m22 0h1m6 0h1m6 0h3m14 0h1m-26 1h1m9 0h3m11 0h1m65 0h1m-121 1h1m28 0h1m12 0h2m9 0h1m65 0h1m-120 1h1m42 0h1m8 0h1m-9 1h1m6 0h1m-7 2h1m2 0h1m67 0h1m15 0h1m2 0h1m-136 1h1m45 0h1m-48 1h1m115 0h1m-121 1h4m133 0h1m2 0h1m-149 1h1m6 0h1m120 0h1m-128 1h1m4 0h1m-5 1h1m2 0h1m126 3h1m-36 3h2m32 0h1m-36 2h1m2 1h1m27 0h1m-30 1h1m26 0h1m-3 2h1m-2 1h1m-2 1h1m-2 1h1m-3 1h1m-8 1h6m-12 1h6m-7 1h3"/><path stroke="#ffb400" d="M158 32h2m-2 1h2m-2 1h2m-2 1h2m-2 1h2m-2 1h1m-75 1h1m72 0h1m-73 1h1m70 0h1m-71 1h1m68 0h1m-70 1h1m0 1h1m66 0h1m-68 1h2m-42 1h1m40 0h2m63 0h1m-110 1h6m39 0h2m9 0h1m51 0h2m-111 1h2m4 0h2m38 0h4m59 0h1m-118 1h2m5 0h2m6 0h1m39 0h5m56 0h2m-120 1h2m3 0h4m8 0h2m38 0h3m1 0h3m54 0h1m-121 1h2m17 0h1m38 0h3m4 0h1m53 0h1m-123 1h3m18 0h2m38 0h4m3 0h1m52 0h2m-125 1h3m20 0h1m38 0h1m3 0h2m2 0h1m51 0h3m-127 1h3m21 0h1m38 0h1m59 0h3m-127 1h2m23 0h1m8 0h6m21 0h2m60 0h2m-126 1h2m24 0h1m7 0h1m5 0h4m14 0h1m65 0h1m-82 1h2m78 0h1m-97 1h1m17 0h1m-18 1h3m15 0h1m-46 1h1m44 0h1m-46 1h2m44 0h1m4 0h1m-51 1h1m44 0h1m3 0h1m67 0h1m15 0h2m-135 1h1m45 0h2m-55 1h3m120 0h1m19 0h1m-144 1h6m-6 1h2m120 0h1m-128 1h1m4 0h1m122 0h1m16 0h2m-146 1h1m2 0h1m124 0h1m-128 1h2m126 0h1m0 2h1m-1 2h1m-36 3h1m1 0h1m-3 1h1m1 0h1m-3 1h2m25 2h1m-6 5h1m-3 1h2m-8 1h5m-9 1h4m-6 1h3"/><path stroke="#ffac00" d="M160 36h1m-2 1h2m-3 1h2m-76 1h1m72 0h2m-74 1h1m70 0h1m-72 1h1m69 0h1m-70 1h1m68 0h1m-111 1h4m37 0h1m67 0h2m-113 1h4m1 0h3m36 0h1m66 0h1m-113 1h2m6 0h2m35 0h2m65 0h1m-121 1h4m3 0h2m8 0h2m35 0h1m64 0h2m-122 1h2m2 0h5m9 0h2m35 0h2m63 0h1m-123 1h2m19 0h1m35 0h2m3 0h1m58 0h1m-126 1h4m20 0h2m35 0h1m3 0h4m55 0h2m-130 1h5m23 0h2m35 0h1m4 0h3m55 0h2m-132 1h5m24 0h1m7 0h1m28 0h1m6 0h2m55 0h2m-131 1h2m25 0h1m6 0h8m22 0h1m63 0h3m-131 1h1m32 0h2m6 0h4m13 0h4m64 0h5m-98 1h1m10 0h2m11 0h1m67 0h5m-98 1h1m12 0h2m9 0h1m67 0h3m-96 1h1m14 0h2m7 0h1m67 0h1m-77 1h1m6 0h1m67 0h1m-76 1h1m5 0h1m67 0h1m-122 1h1m47 0h1m2 0h1m68 0h1m-122 1h3m46 0h3m83 0h1m2 0h1m-141 1h2m2 0h1m131 0h1m4 0h1m-145 1h1m3 0h4m131 0h1m-142 1h3m123 0h1m14 0h1m-143 1h4m123 0h1m-128 1h4m124 0h1m14 0h1m2 0h1m-146 1h2m127 2h1m-1 4h1m-35 2h1m-1 1h1m29 1h1m-3 1h1m-4 3h1m-2 1h1m-2 1h1m-2 1h1m-5 2h2m-7 1h4m-7 1h3m-5 1h3"/><path stroke="#ffa400" d="M161 37h1m-2 1h2m-79 1h1m75 0h3m-78 1h1m72 0h3m-116 1h2m110 0h2m-117 1h10m34 0h1m70 0h2m-118 1h5m4 0h3m33 0h1m70 0h1m-122 1h8m8 0h2m33 0h1m68 0h3m-124 1h8m10 0h2m32 0h1m68 0h2m-124 1h1m4 0h3m12 0h2m31 0h2m67 0h2m-126 1h2m20 0h2m32 0h1m66 0h3m-136 1h10m22 0h3m31 0h1m65 0h3m-136 1h7m26 0h5m29 0h1m65 0h2m-135 1h3m30 0h8m26 0h1m65 0h2m-104 1h7m1 0h7m20 0h1m66 0h2m-105 1h1m3 0h2m8 0h4m17 0h1m67 0h2m-106 1h1m4 0h1m12 0h2m10 0h1m73 0h2m-106 1h1m4 0h1m13 0h2m8 0h1m73 0h3m-106 1h1m19 0h2m78 0h5m-84 1h1m75 0h5m-81 1h1m4 0h1m69 0h1m-76 1h2m1 0h2m-4 1h2m83 0h4m-5 1h1m4 0h1m-140 1h2m118 0h1m-1 3h1m13 0h1m-14 2h1m0 1h1m-3 8h1m-6 3h1m-2 1h1m-4 4h1m-3 1h1m-2 1h1m-4 1h2m-6 1h3m-5 1h3m-5 1h2"/><path stroke="#ff9c00" d="M82 39h1m0 1h1m76 0h2m-124 1h2m44 0h1m73 0h4m-128 1h7m10 0h3m30 0h1m73 0h4m-128 1h6m12 0h4m28 0h1m72 0h5m-141 1h2m10 0h2m18 0h3m28 0h2m72 0h4m-142 1h5m7 0h2m20 0h3m28 0h1m71 0h5m-142 1h6m5 0h2m22 0h2m28 0h1m71 0h5m-141 1h10m24 0h3m28 0h1m70 0h5m-106 1h4m26 0h1m69 0h6m-104 1h4m24 0h1m68 0h7m-101 1h7m18 0h1m68 0h7m-96 1h4m15 0h1m69 0h7m-111 1h3m14 0h3m8 0h6m70 0h7m-109 1h1m15 0h2m7 0h1m76 0h7m-109 1h1m16 0h2m83 0h2m4 0h1m-109 1h1m17 0h1m5 0h1m76 0h3m-107 1h1m1 0h1m18 0h1m4 0h1m74 0h6m-86 1h4m71 0h4m2 0h7m-87 1h1m71 0h1m10 0h5m-17 1h1m11 0h1m4 0h1m-19 1h1m18 0h1m-21 2h1m-1 1h1m0 2h1m0 1h1m13 0h2m-15 3h1m-3 5h1m-3 2h1m-3 1h1m-5 4h1m-2 1h1m-3 2h1m-2 1h1m-3 1h1m-4 1h2m-4 1h2m-5 1h3m-4 1h2"/><path stroke="#ff9400" d="M82 40h1m0 1h1m-52 1h2m49 0h1m-59 1h1m6 0h2m49 0h1m-61 1h4m5 0h1m23 0h2m25 0h1m-59 1h2m4 0h1m25 0h2m24 0h2m-59 1h5m26 0h3m24 0h1m-27 1h3m23 0h2m-26 1h9m16 0h1m-24 1h9m14 0h1m-18 1h4m13 0h1m-16 1h2m6 0h4m2 0h1m-14 1h1m6 0h1m-29 1h3m18 0h2m4 0h1m-28 1h1m21 0h1m4 0h1m79 0h4m-109 1h1m19 0h1m3 0h1m80 0h4m-110 1h1m20 0h4m81 0h4m-11 1h2m7 0h2m-16 1h2m5 0h3m5 0h2m-8 1h1m6 0h1m-8 1h1m-13 1h1m11 0h1m-1 1h1m-1 1h1m-13 1h1m12 1h1m0 1h1m-13 2h1m-1 2h1m-8 8h1m-2 1h1m-2 1h1m-3 3h1m-2 1h1m-2 1h1m-3 1h1m-3 1h1m-3 1h2m-4 1h2m-4 1h2"/><path stroke="#ff8c00" d="M80 40h2m-3 1h4m-53 1h2m45 0h2m3 0h1m-57 1h6m43 0h4m3 0h1m-56 1h2m1 0h2m27 0h4m1 0h19m-56 1h4m28 0h3m2 0h19m-23 1h24m-23 1h23m-15 1h16m-14 1h11m2 0h1m-13 1h11m1 0h1m-13 1h6m4 0h2m-12 1h6m-5 1h1m2 0h1m-26 1h2m20 0h1m2 0h1m-27 1h2m21 0h3m85 0h1m-1 1h1m-1 1h1m-15 1h5m-8 1h1m7 0h2m-1 1h1m-12 2h1m-1 1h1m0 1h1m10 0h1m-12 1h1m0 2h1m13 0h1m-15 4h1m-2 2h1m-5 4h1m-5 4h1m-2 1h1m-2 2h1m-4 2h1m-3 1h2m-3 1h1m-3 1h1m-3 1h2m-3 1h1"/><path stroke="#ff8200" d="M79 42h3m-3 1h3m-53 1h1m33 0h1m-2 1h2m18 4h2m-1 1h1m-10 3h2m-2 1h2m69 5h4m1 0h2m-9 1h1m-1 1h1m9 0h1m-11 2h1m0 2h1m-1 1h1m10 0h1m0 1h2m-20 11h1m-3 2h1m-3 3h1m-3 2h1m-2 1h1m-2 1h1m-3 1h1m-3 1h2m-3 1h1m-3 1h2"/><path stroke="#ff7600" d="M149 59h1m-6 1h2m6 0h1m-10 2h1m9 0h1m-10 2h1m9 1h1m-10 2h1m-1 1h1m-1 1h1m-1 1h1m-2 2h1m-4 4h1m-5 3h1m-3 3h1m-2 2h1m-2 1h1m-2 1h1m-2 1h1m-3 1h1m-2 1h1m-3 1h1m-2 1h1"/><path stroke="#ff6a00" d="M146 60h6m-8 1h2m6 0h1m-9 1h1m-1 1h1m8 0h1m-1 1h1m-9 1h1m-1 1h1m8 0h1m0 1h1m1 1h2m-14 3h1m-4 4h1m-3 2h1m-5 4h1m-2 2h1m-2 2h1m-2 1h1m-2 1h1m-3 1h1m-2 1h1m-3 1h2m-3 1h1m-2 1h1"/><path stroke="#ff5c00" d="M146 61h1m-2 1h1m6 0h1m-8 1h1m-1 1h1m7 1h1m0 2h1m-9 1h1m9 0h1m-11 1h1m-4 5h1m-5 4h1m-2 1h1m-2 1h1m-2 2h1m-2 2h1m-2 2h1m-2 1h1m-3 1h1m-2 1h1m-2 1h1m-3 1h1m-2 1h1"/><path stroke="#ff4c00" d="M147 61h2m1 0h2m-6 1h1m-1 1h1m5 0h1m-7 1h1m-1 1h1m-1 1h1m6 0h1m-8 1h1m8 1h1m1 1h1m-12 1h1m-3 3h1m-9 10h1m-1 1h1m-2 1h1m-2 2h1m-3 1h1m-2 1h1m-2 1h1m-3 1h1m-2 1h1m-2 1h1"/><path stroke="#ff3d00" d="M149 61h1m-3 1h1m3 0h1m0 2h1m0 3h1m-7 1h1m6 0h1m-8 1h1m7 0h2m-11 2h1m-2 1h1m-4 4h1m-2 1h1m-2 1h1m-4 3h1m-1 1h1m-2 3h1m-2 1h1m-3 2h1m-2 1h1m-4 2h1m-2 1h1m-2 1h1"/><path stroke="#ff2e00" d="M148 62h1m1 0h1m-4 1h1m-1 1h1m-1 1h1m4 0h1m-6 1h1m4 0h1m-6 1h1m5 1h1m-6 1h1m5 0h1m-8 1h1m8 0h2m-19 9h1m-2 1h1m-2 3h1m-1 1h1m-2 2h1m-2 1h1m-2 1h1m-2 1h1m-3 1h1m-2 1h1m-2 1h1m-2 1h1m-1 1h1"/><path stroke="#ff1f00" d="M149 62h1m-2 1h1m2 0h1m-4 4h1m3 0h1m-5 1h1m3 0h1m-4 1h1m2 0h2m-6 1h1m5 0h2m-9 1h1m8 0h2m-12 1h1m-4 3h1m-3 3h1m-4 3h1m-2 4h1m-1 1h1m-2 1h1m-2 1h1m-2 1h1m-3 1h2m-3 1h1m-2 1h1m-2 1h1"/><path stroke="#ff1200" d="M149 63h2m-3 1h1m2 0h1m-4 1h1m2 0h1m-4 1h1m2 0h1m-3 1h1m1 0h1m-3 1h3m-2 1h2m-3 1h5m-6 1h3m2 0h3m-9 1h1m8 0h1m-12 1h1m-2 1h1m-3 3h1m-3 2h1m-2 1h1m-2 2h1m-1 1h1m-1 1h1m-1 1h1m-2 2h1m-2 1h1m-2 1h2m-3 1h1m-3 1h1m-2 1h1m-2 1h1m-2 1h1"/><path stroke="#ff0600" d="M149 64h2m-2 2h2m-1 1h1m0 4h2m-5 1h8m-1 1h2m-16 6h1m-3 2h1m-2 5h1m-1 1h1m-2 1h1m-1 1h1m-3 1h2m-4 1h1m-4 3h1"/><path stroke="#fc0000" d="M149 65h2m-5 8h1m2 0h6m-3 1h5m-2 1h2m-14 1h1m-2 2h1m-3 2h1m-2 2h1m-1 1h1m-1 1h1m-1 1h1m-1 1h1m-1 1h1m-2 1h1m-1 1h1m-2 1h1m-4 1h3m-5 1h2m-3 1h1m-1 1h1m-2 1h1"/><path stroke="#f70000" d="M147 73h2m-4 1h1m4 0h2m-1 1h4m-3 1h5m-14 1h1m9 0h4m-2 1h1m-14 1h1m-2 1h2m-3 1h2m-2 1h1m-1 1h1m-1 1h1m-1 1h1m-1 1h1m-2 2h1m-1 1h1m-2 1h2m-3 1h2m-5 1h5m-7 1h1m-2 2h1"/><path stroke="#ef0004" d="M148 74h2m-6 1h1m5 0h1m-1 1h2m-1 1h2m-10 1h1m7 0h4m-12 1h1m7 0h5m-13 1h1m7 0h5m-14 1h2m8 0h4m-15 1h3m-3 1h2m-2 1h1m-1 1h1m-2 2h1m-1 1h1m-1 1h1m10 0h1m-12 1h1m-2 1h2m-2 1h2m-8 1h8m-9 1h1m3 0h5m-9 1h1m4 0h4m-3 1h3"/><path stroke="#e5000c" d="M146 74h2m1 1h1m-1 1h1m0 1h1m-2 1h2m-2 1h2m-7 1h2m2 0h3m-7 1h8m-8 1h12m-13 1h13m-14 1h2m3 0h9m-14 1h1m6 0h7m-15 1h1m7 0h7m-15 1h1m7 0h7m-15 1h1m6 0h8m-15 1h1m6 0h3m1 0h3m-14 1h1m5 0h7m-13 1h2m3 0h7m-12 1h11m-11 1h9m-17 1h3m5 0h3m-11 1h4m4 0h2m-10 1h5m3 0h2m-8 1h7"/><path stroke="#da0016" d="M148 75h1m-5 1h1m-1 1h1m4 0h1m-6 1h1m3 0h1m-5 1h2m1 0h2m-3 1h2m-4 4h3m-4 1h6m-7 1h1m4 0h2m-7 1h1m4 0h2m-7 1h1m4 0h1m-6 1h1m3 0h2m7 0h1m-14 1h5m7 0h2m-13 1h3m7 0h3m-4 1h3m-5 1h3m-9 1h7m-8 1h6m-6 1h2m-3 1h2m-7 1h5"/><path stroke="#ce0022" d="M145 75h1m1 0h1m0 1h1m-1 1h1m-4 1h1m1 0h1m-2 1h1m-4 7h4m-4 1h4m-4 1h4m-4 1h3m7 4h3m-5 1h3m-5 1h3m-7 1h5m-6 1h3m-5 1h3m-6 1h3"/><path stroke="#c0002f" d="M146 75h1m0 1h1m-3 1h1m1 0h1m-2 1h1m7 16h3m-5 1h5m-7 1h4m-7 1h4m-6 1h4m-7 1h5"/><path stroke="#b0003d" d="M145 76h2m-1 1h1m44 14h2m-5 1h6m-6 1h6m-6 1h5m-39 2h2m-5 1h3m-5 1h3m-5 1h4m-9 1h8m-5 1h4m-3 1h3m-12 6h1m-2 1h2m-3 1h3m-3 1h2m-2 1h2m-1 1h1"/><path stroke="#a10049" d="M181 95h6m1 0h4m-13 1h8m4 0h3m-17 1h11m1 0h7m-21 1h21m-45 1h2m3 0h2m6 0h12m6 0h14m-46 1h19m-26 1h2m4 0h3m10 0h3m-20 1h1m3 0h2m-5 1h5m-4 1h3m-3 1h3m-2 1h1m-11 2h1m-1 1h1m-1 1h1m-2 1h2m-2 1h2m-2 1h1"/><path stroke="#930053" d="M176 99h6m-13 1h25m-42 1h10m3 0h26m-48 1h2m6 0h37m-43 1h1m5 0h2m6 0h26m-39 1h1m3 0h2m10 0h5m13 0h3m-37 1h1m3 0h1m-4 1h1m1 0h1m-12 1h1m8 0h3m-11 1h1m-1 1h1m-1 1h1m-1 1h2m-2 1h2"/><path stroke="#84005e" d="M144 103h1m8 0h6m-14 1h1m6 0h10m5 0h13m-29 1h2m5 0h20m-32 1h1m3 0h2m8 0h15m-36 1h1m6 0h1m3 0h1m11 0h9m-25 1h4m-10 1h1m6 0h2m-9 1h2m-1 1h1"/><path stroke="#74006a" d="M142 103h2m0 1h1m0 1h1m7 0h5m-13 1h1m6 0h2m2 0h4m-15 1h1m5 0h2m4 0h5m-22 1h1m4 0h1m4 0h2m6 0h6m-23 1h1m3 0h2m2 0h2m-9 1h9m-9 1h6"/><path stroke="#640078" d="M141 104h1m2 1h1m9 1h2m-16 1h1m12 0h4m-16 1h1m2 0h1m7 0h2m1 0h3m-16 1h3m6 0h3m1 0h3m-7 1h5"/><path stroke="#570086" d="M142 104h2m-3 1h1m-1 1h1m2 0h1m-4 1h1m2 0h1m-3 1h2m10 0h1m-1 1h1"/><path stroke="#550690" d="M142 105h2m-2 1h2m-2 1h2"/></g></g></g><use href="#o"/><path d="M731.5 37.0h0M776.8 37.0h0M587.2 39.5h0M674.0 41.5h0M752.3 59.0h0M597.2 65.3h0M520.9 82.6h0M692.2 93.8h0M730.3 96.6h0M565.1 105.1h0M788.6 105.8h0M474.1 106.6h0M715.3 114.6h0M661.0 117.1h0M509.1 120.3h0M436.5 130.6h0M748.5 141.6h0M570.4 146.4h0M686.5 146.4h0M522.1 152.1h0M782.3 157.9h0M638.9 164.1h0M512.1 166.6h0M462.1 167.9h0M684.7 168.4h0M596.7 173.9h0M545.4 177.1h0M739.8 184.6h0M489.6 187.9h0M575.4 198.9h0M509.6 202.7h0M781.8 204.7h0M653.0 207.2h0M409.5 209.2h0M760.5 221.4h0M505.8 222.2h0M462.8 223.4h0M148.4 224.7h0M596.7 230.9h0M311.7 231.4h0M374.8 234.7h0M699.7 234.7h0M200.4 235.2h0M241.4 237.2h0M763.5 247.9h0M539.1 249.2h0M419.5 253.9h0M633.9 254.7h0M476.3 255.4h0M592.9 257.9h0M221.4 259.7h0M728.0 259.7h0M146.4 262.2h0M280.2 262.2h0M677.2 263.9h0M759.0 274.7h0M517.9 276.0h0M378.5 276.5h0M652.7 276.7h0M255.4 279.2h0M607.2 280.5h0M692.2 285.5h0M461.6 286.5h0M558.4 286.5h0M212.2 288.5h0M411.5 291.0h0M313.5 291.5h0M162.1 296.5h0M652.7 301.0h0M357.8 303.0h0M716.0 303.5h0M536.6 304.7h0M115.8 310.5h0M430.8 316.0h0M577.9 318.5h0M789.1 318.5h0M477.8 319.0h0M750.5 319.7h0M304.2 320.2h0M243.4 323.0h0M630.2 324.7h0M693.5 325.5h0M74.6 331.5h0M187.1 331.5h0M383.0 332.2h0M747.3 332.2h0M349.8 333.0h0M657.7 341.8h0M451.3 343.0h0M232.2 352.3h0M572.9 352.8h0M514.6 354.3h0M274.2 356.0h0M617.7 359.8h0M699.7 360.5h0M130.1 363.5h0M769.8 364.8h0M188.9 370.3h0M547.1 372.8h0M480.8 374.0h0M328.0 376.0h0M43.8 377.3h0M444.5 377.3h0M727.3 380.6h0M651.5 383.7h0M594.2 401.7h0M698.5 404.9h0M763.5 407.9h0M642.9 411.2h0M719.8 436.9h0M763.0 447.9h0M741.0 463.2h0M666.7 471.2h0M702.2 484.5h0M895.4 495.5h0M816.6 509.5h0M726.5 515.0h0M714.8 528.3h0M737.3 532.0h0M771.5 541.3h0M719.8 544.5h0M695.2 547.5h0" stroke="#808080" stroke-width="27.5" stroke-linecap="round" fill="none"/><g font-size="21" font-weight="bold" text-anchor="middle"><text x="731.5" y="44.3">29</text><text x="776.8" y="44.3">49</text><text x="587.2" y="46.8">31</text><text x="674.0" y="48.8">29</text><text x="752.3" y="66.3">31</text><text x="597.2" y="72.6">36</text><text x="520.9" y="89.9">36</text><text x="692.2" y="101.1">12</text><text x="730.3" y="103.9">12</text><text x="565.1" y="112.4">31</text><text x="788.6" y="113.1">55</text><text x="474.1" y="113.9">45</text><text x="715.3" y="121.9">12</text><text x="661.0" y="124.4">17</text><text x="509.1" y="127.6">40</text><text x="436.5" y="137.9">49</text><text x="748.5" y="148.9">36</text><text x="570.4" y="153.7">24</text><text x="686.5" y="153.7">24</text><text x="522.1" y="159.4">36</text><text x="782.3" y="165.2">58</text><text x="638.9" y="171.4">24</text><text x="512.1" y="173.9">29</text><text x="462.1" y="175.2">49</text><text x="684.7" y="175.7">29</text><text x="596.7" y="181.2">17</text><text x="545.4" y="184.4">40</text><text x="739.8" y="191.9">40</text><text x="489.6" y="195.2">36</text><text x="575.4" y="206.2">29</text><text x="509.6" y="210.0">40</text><text x="781.8" y="212.0">61</text><text x="653.0" y="214.5">29</text><text x="409.5" y="216.5">65</text><text x="760.5" y="228.7">58</text><text x="505.8" y="229.5">58</text><text x="462.8" y="230.7">58</text><text x="148.4" y="232.0">65</text><text x="596.7" y="238.2">31</text><text x="311.7" y="238.7">65</text><text x="374.8" y="242.0">65</text><text x="699.7" y="242.0">45</text><text x="200.4" y="242.5">61</text><text x="241.4" y="244.5">58</text><text x="763.5" y="255.2">61</text><text x="539.1" y="256.5">55</text><text x="419.5" y="261.2">65</text><text x="633.9" y="262.0">40</text><text x="476.3" y="262.7">61</text><text x="592.9" y="265.2">55</text><text x="221.4" y="267.0">55</text><text x="728.0" y="267.0">58</text><text x="146.4" y="269.5">58</text><text x="280.2" y="269.5">61</text><text x="677.2" y="271.2">49</text><text x="759.0" y="282.0">61</text><text x="517.9" y="283.3">49</text><text x="378.5" y="283.8">65</text><text x="652.7" y="284.0">55</text><text x="255.4" y="286.5">65</text><text x="607.2" y="287.8">40</text><text x="692.2" y="292.8">40</text><text x="461.6" y="293.8">49</text><text x="558.4" y="293.8">40</text><text x="212.2" y="295.8">36</text><text x="411.5" y="298.3">49</text><text x="313.5" y="298.8">55</text><text x="162.1" y="303.8">49</text><text x="652.7" y="308.3">58</text><text x="357.8" y="310.3">61</text><text x="716.0" y="310.8">65</text><text x="536.6" y="312.0">55</text><text x="115.8" y="317.8">61</text><text x="430.8" y="323.3">55</text><text x="577.9" y="325.8">45</text><text x="789.1" y="325.8">55</text><text x="477.8" y="326.3">49</text><text x="750.5" y="327.0">75</text><text x="304.2" y="327.5">36</text><text x="243.4" y="330.3">36</text><text x="630.2" y="332.0">45</text><text x="693.5" y="332.8">58</text><text x="74.6" y="338.8">61</text><text x="187.1" y="338.8">36</text><text x="383.0" y="339.5">40</text><text x="747.3" y="339.5">75</text><text x="349.8" y="340.3">55</text><text x="657.7" y="349.1">45</text><text x="451.3" y="350.3">49</text><text x="232.2" y="359.6">49</text><text x="572.9" y="360.1">40</text><text x="514.6" y="361.6">45</text><text x="274.2" y="363.3">29</text><text x="617.7" y="367.1">49</text><text x="699.7" y="367.8">40</text><text x="130.1" y="370.8">45</text><text x="769.8" y="372.1">75</text><text x="188.9" y="377.6">49</text><text x="547.1" y="380.1">61</text><text x="480.8" y="381.3">45</text><text x="328.0" y="383.3">49</text><text x="43.8" y="384.6">45</text><text x="444.5" y="384.6">49</text><text x="727.3" y="387.9">82</text><text x="651.5" y="391.0">45</text><text x="594.2" y="409.0">55</text><text x="698.5" y="412.2">75</text><text x="763.5" y="415.2">78</text><text x="642.9" y="418.5">55</text><text x="719.8" y="444.2">81</text><text x="763.0" y="455.2">78</text><text x="741.0" y="470.5">78</text><text x="666.7" y="478.5">78</text><text x="702.2" y="491.8">78</text><text x="895.4" y="502.8">84</text><text x="816.6" y="516.8">84</text><text x="726.5" y="522.3">84</text><text x="714.8" y="535.6">90</text><text x="737.3" y="539.3">84</text><text x="771.5" y="548.6">88</text><text x="719.8" y="551.8">88</text><text x="695.2" y="554.8">84</text></g><text transform="translate(10.9,537.5) scale(0.9948,1)" font-size="64">24 h Avg Temp</text><path d="M714.7 565.5v-4.5" stroke="#000" stroke-width="1.5"/></g>
<g transform="translate(2000.5,833.5)"><rect x="0" y="0" width="976" height="565.5" fill="#fff" stroke="#222" stroke-width="1.5"/><g clip-path="url(#c)"><g filter="url(#b)"><g transform="scale(5) translate(0,.5)" stroke-width="1.25" fill="none"><path stroke="#000033" d="M114 29h1"/><path stroke="#000048" d="M113 29h1m0 1h1"/><path stroke="#00005d" d="M114 28h1m0 1h1m-1 1h1"/><path stroke="#000074" d="M113 28h1m-1 2h1"/><path stroke="#00008c" d="M115 28h1m-2 3h2m-1 8h1"/><path stroke="#0000a0" d="M112 29h1m3 0h1m-1 1h1m-2 8h2m-3 1h1m1 0h1"/><path stroke="#0000b0" d="M113 31h1m2 0h1m-2 6h2m-3 1h1m0 2h1"/><path stroke="#0000c0" d="M114 27h1m-3 1h1m3 0h1m-5 2h1m1 2h3m-17 3h1m-2 1h2m-3 1h3m16 1h1m-4 2h1m1 0h1"/><path stroke="#0000d2" d="M113 27h1m1 0h1m1 2h1m-1 1h1m-1 1h1m9 1h1m-2 1h2m-28 1h2m-4 1h2m1 0h1m-5 1h2m2 0h1m13 0h3m-21 1h1m3 0h1m12 0h1m2 0h1m-20 1h4m15 1h1"/><path stroke="#0000e6" d="M117 32h1m8 0h1m1 0h1m-29 1h2m13 0h3m10 0h1m-30 1h1m2 0h1m13 0h2m-21 1h1m18 0h2m-22 1h1m21 1h1m-22 1h1m1 1h3m11 0h1m3 1h1"/><path stroke="#0000f8" d="M112 27h1m3 0h1m0 1h1m-7 1h1m6 1h1m-7 1h1m5 0h1m7 0h2m-15 1h1m4 0h1m6 0h1m-27 1h1m2 0h1m11 0h1m3 0h1m6 0h1m-33 1h1m3 0h2m16 0h1m2 0h1m7 0h2m-34 1h3m5 0h1m12 0h1m2 0h1m-24 1h1m6 0h1m15 0h1m-23 1h1m5 0h1m-1 1h1m10 0h1m4 0h1m-21 1h1m19 0h1m-18 1h1m11 0h1m0 1h2"/><path stroke="#030dff" d="M111 28h1m6 1h1m-8 1h1m13 1h1m2 0h1m-28 1h1m17 0h1m4 0h1m-33 1h3m3 0h1m20 0h1m4 0h1m-34 1h2m1 0h3m22 0h1m4 0h2m2 0h1m-37 1h2m25 0h1m-26 1h1m19 0h1m4 0h1m-25 1h1m23 0h1m-24 1h1m5 1h1m-3 1h1m15 1h1"/><path stroke="#0927ff" d="M136 29h2m-19 1h1m-1 1h1m4 0h1m-26 1h2m1 0h1m17 0h4m5 0h1m-39 1h1m3 0h3m22 0h4m5 0h1m-27 1h1m10 0h1m5 0h4m-33 1h1m22 0h1m5 0h2m3 0h2m-35 1h2m26 0h1m-27 1h1m18 0h1m-19 1h1m23 0h1m-23 1h1m1 1h1m2 0h1m15 0h1"/><path stroke="#0d3fff" d="M114 26h2m1 1h1m0 1h1m17 0h2m-19 1h1m5 1h3m-8 1h4m5 0h1m-39 1h4m3 0h1m-9 1h1m12 0h1m9 0h1m-24 1h1m-1 1h1m12 0h1m18 0h3m2 0h1m-37 1h1m11 0h1m17 0h1m-29 1h1m9 0h1m16 0h1m-18 1h1m-8 1h1m6 0h1m15 0h1m-39 1h2m15 0h1m-18 1h2m30 0h1m3 0h1"/><path stroke="#0f55ff" d="M113 26h1m-3 1h1m23 2h1m-16 1h2m1 0h2m3 0h1m-28 1h1m-12 1h1m4 0h3m5 0h1m8 0h1m-24 2h1m39 0h1m-2 1h1m-39 1h1m22 0h1m8 0h4m-34 1h1m28 0h1m-28 1h1m25 0h1m-39 1h1m29 0h1m-30 1h1m13 0h1m5 0h1m8 0h1m-30 1h1m16 0h3m12 1h1"/><path stroke="#0d69ff" d="M112 26h1m3 0h1m1 1h1m0 1h1m-10 1h1m9 0h1m17 0h1m-17 1h1m13 0h2m-47 1h3m5 0h2m1 0h1m8 0h1m18 1h1m-42 1h1m40 0h1m-18 1h1m-25 1h1m-1 1h1m36 0h2m-38 1h2m30 0h1m-30 1h1m18 0h1m8 0h1m-39 1h1m11 0h1m24 0h1m-41 1h1m3 0h1m34 0h1m-40 1h1m18 0h1m18 0h1m-38 1h2m31 0h1m1 0h1"/><path stroke="#087cff" d="M110 28h1m24 0h1m2 0h1m-18 1h7m-18 1h1m18 0h1m5 0h1m-46 1h1m3 0h5m31 0h1m-42 1h1m-2 1h1m-1 1h1m41 0h1m-18 1h1m15 0h1m-41 2h1m33 0h2m-41 1h1m6 0h2m11 0h1m17 0h1m-39 1h1m9 0h1m9 0h1m-9 1h1m-13 1h1m13 0h1m4 0h1m8 0h1m-33 1h1m2 0h1m33 0h1"/><path stroke="#038fff" d="M117 26h1m1 1h1m16 0h2m-18 1h1m7 1h1m5 0h1m-5 1h1m-42 1h1m13 0h1m-16 1h1m-2 1h1m16 0h1m-1 1h1m-1 1h1m-1 1h1m23 0h1m-41 1h1m15 0h1m7 0h1m12 0h2m-42 1h2m2 0h2m32 0h1m-39 1h1m7 0h1m27 0h1m-37 1h1m9 0h1m8 0h1m15 0h1m-42 1h1m17 0h1m21 0h1m-7 1h1"/><path stroke="#00a2ff" d="M111 26h1m6 0h1m-9 1h1m10 1h2m-32 2h4m4 0h3m32 0h1m3 0h1m-8 1h1m-45 1h1m16 0h1m26 0h1m-46 1h1m25 0h1m18 0h1m-2 2h1m-4 2h1m-41 1h2m35 0h1m-39 1h2m3 0h2m18 0h1m10 0h1m-29 1h1m16 0h1m9 0h1m-37 1h1m18 0h1m-26 1h1m4 0h1m14 0h4m15 0h1m-38 1h2"/><path stroke="#00b6ff" d="M114 25h3m3 2h1m14 0h1m2 0h1m-30 1h1m13 0h4m7 0h1m-26 1h1m19 0h1m3 0h1m-44 1h1m4 0h4m3 0h1m28 0h1m1 0h1m-47 1h2m15 0h1m5 0h1m-25 1h1m24 0h1m19 2h1m-3 2h1m-5 2h1m-38 1h3m32 0h1m-38 1h1m6 0h1m2 1h1m14 0h1m8 0h1m-23 1h1m4 0h1m8 0h1m-33 1h1m2 0h1m31 0h1"/><path stroke="#00caff" d="M113 25h1m5 1h1m1 1h2m4 1h1m11 0h1m-10 1h1m8 0h1m-52 1h2m13 0h1m5 0h1m22 0h1m-47 1h1m45 0h5m-5 1h1m-21 2h1m-1 2h1m15 1h1m-24 1h1m5 0h1m14 0h1m-22 1h1m18 0h1m-38 1h3m1 0h2m12 0h1m16 0h1m-37 1h1m8 0h1m25 0h1m-37 1h1m33 0h1m-36 1h1m29 0h1m1 0h1"/><path stroke="#00e0ff" d="M112 25h1m4 0h1m-8 1h1m9 0h1m-12 1h1m13 0h2m3 1h1m4 0h1m-44 1h6m35 0h2m-46 1h1m16 0h1m34 0h1m-3 1h1m-33 1h1m26 1h1m-21 2h1m18 0h1m-2 1h1m-2 1h1m-3 1h1m-3 1h1m-36 1h1m19 0h1m12 0h1m-37 1h1m6 0h1m10 0h1m4 0h1m-33 1h1m7 0h1m10 0h1m6 0h1m6 0h1m8 0h1m-42 1h1m33 0h1m3 0h1"/><path stroke="#00f4ff" d="M118 25h1m2 1h2m2 1h2m7 0h1m-27 1h1m20 0h1m-42 1h2m6 0h7m5 0h1m-4 2h1m32 0h1m-6 1h1m-29 1h1m-1 1h1m-1 2h1m-1 1h1m4 2h1m15 0h1m-21 1h1m17 0h1m-37 1h2m3 0h1m12 0h1m15 0h1m-27 1h1m-12 1h1m13 0h4m9 0h1m5 0h1m-38 1h3"/><path stroke="#00fbf3" d="M111 25h1m7 0h2m-12 1h1m13 0h1m12 0h2m-11 1h1m11 0h1m-49 1h2m37 0h1m1 0h1m-46 1h1m15 0h1m1 1h1m2 0h1m0 1h1m24 1h1m-24 1h1m20 1h1m-28 1h1m25 1h1m-21 1h1m18 0h1m-3 1h1m-23 1h1m0 1h1m1 0h1m15 0h1m-36 1h3m16 0h1m13 0h1m-47 1h1m9 0h1m7 0h1m9 0h1m4 0h1m10 0h1m-44 1h1m19 0h1m4 0h1m15 0h1m-40 1h1"/><path stroke="#00f4dc" d="M115 24h3m3 1h1m2 1h2m12 0h1m-31 1h1m-22 1h4m2 0h4m10 0h1m23 0h1m-28 1h4m32 0h1m-35 1h2m-2 1h1m3 1h1m24 0h1m-3 1h1m-2 2h1m-27 3h1m22 0h1m-3 1h1m-20 1h1m17 0h1m-20 1h2m15 0h1m-37 1h1m5 0h1m11 0h1m2 0h1m12 0h1m-46 1h1m8 0h1m10 0h1m6 0h1m6 0h1m8 0h1m-42 1h1m4 0h1m29 0h3"/><path stroke="#00edc8" d="M113 24h2m3 0h2m-10 1h1m11 0h2m2 1h1m8 0h1m-29 1h1m20 0h1m4 0h1m-37 1h4m5 0h1m33 0h1m-34 3h2m30 0h1m-34 1h1m29 0h1m-4 2h1m-2 2h1m-2 1h1m-22 1h1m-4 1h1m1 0h1m18 0h1m-4 2h1m-37 1h5m13 0h2m14 0h1m-37 1h1m8 0h1m8 0h1m4 0h1m10 0h1m-44 1h1m6 0h1m27 0h1m3 0h2"/><path stroke="#00e8b8" d="M112 24h1m7 0h2m-13 1h1m14 0h1m-17 1h1m-22 1h7m35 0h1m-29 1h5m34 2h1m-4 2h1m-32 1h1m27 0h1m-24 1h1m-1 2h1m-6 1h1m23 1h1m-23 1h1m18 1h1m-2 1h1m-3 1h1m-49 1h1m11 0h1m6 0h1m10 0h1m2 0h1m12 0h1m-46 1h1m8 0h1m12 0h4m9 0h1m6 0h1m-40 1h4"/><path stroke="#00e3a8" d="M111 24h1m10 0h1m2 1h1m-19 1h1m19 0h1m11 0h1m-46 1h3m9 0h1m23 0h3m7 0h1m-34 5h1m1 0h1m1 3h1m21 0h1m-1 1h1m-2 1h1m-26 1h1m23 0h1m-3 1h1m-2 1h1m-4 2h1m-51 1h1m13 0h1m4 0h1m12 0h2m14 0h1m-48 1h1m10 0h1m9 0h2m4 0h2m6 0h1m8 0h1m-42 1h1m4 0h1"/><path stroke="#00dc98" d="M116 23h5m2 1h2m-17 1h1m17 0h1m-40 1h5m36 0h1m5 0h1m-38 1h2m6 0h1m34 4h1m-33 1h1m29 0h1m-29 1h1m24 0h1m-30 1h1m27 0h1m-29 1h1m-1 1h1m3 1h1m22 0h1m-26 1h2m22 0h1m-3 1h1m-4 2h1m-2 1h1m-37 1h4m30 0h1m-50 1h1m12 0h1m7 0h1m8 0h1m4 0h1m10 0h2m-45 1h1m6 0h1m29 0h4"/><path stroke="#00d488" d="M115 23h1m5 0h2m-13 1h1m14 0h1m-39 1h1m19 0h1m29 0h1m-46 1h2m12 0h1m-8 1h6m36 1h1m7 0h1m-9 1h1m-3 3h1m-6 3h1m-2 3h1m-3 1h1m-3 1h1m-2 1h1m-4 2h1m-52 1h1m14 0h1m5 0h1m10 0h4m13 0h1m-49 1h3m8 0h1m26 0h2m4 0h2m-95 5h3m-3 1h4m-4 1h4m-2 1h1"/><path stroke="#00cd77" d="M114 23h1m8 0h1m-37 1h1m21 0h1m-22 1h3m36 0h1m8 0h1m1 0h1m-45 1h3m8 0h1m23 0h1m3 0h1m6 0h1m7 2h1m-8 2h1m-35 3h1m28 0h1m-3 3h1m-28 1h1m26 0h1m-3 2h1m-3 1h1m-4 2h1m-103 1h1m100 0h1m-106 1h4m48 0h1m16 0h1m2 0h2m29 0h1m-105 1h5m49 0h1m12 0h1m9 0h6m9 0h1m8 0h1m-101 1h4m55 0h4m-61 1h2m-1 1h4m-4 1h6m-6 1h2m3 0h1m-6 1h2m4 0h1m-6 1h1m4 0h1m-5 1h2m1 0h1"/><path stroke="#00c664" d="M117 22h5m-10 1h2m10 0h1m-37 1h2m18 0h1m17 0h1m-36 1h2m13 0h1m21 0h1m6 0h1m-39 1h2m5 0h1m25 0h1m1 0h1m8 1h1m6 0h2m0 1h1m-3 1h2m-9 2h1m-2 1h1m-32 1h1m27 0h1m-28 1h1m24 0h1m-26 2h1m-2 1h1m24 1h1m-2 1h2m-4 1h1m-94 1h2m4 0h2m83 0h1m-100 1h4m11 0h9m74 0h1m-103 1h3m17 0h5m76 0h1m-103 1h3m19 0h3m10 0h4m8 0h1m18 0h2m32 0h1m-101 1h3m20 0h1m24 0h1m14 0h2m5 0h2m6 0h4m2 0h3m10 0h2m-104 1h1m4 0h3m47 0h5m4 0h2m30 0h4m-99 1h2m2 0h4m-8 1h3m4 0h2m-10 1h4m6 0h1m-11 1h4m6 0h1m-10 1h3m-2 1h3m-2 1h3m4 0h1m-6 1h5"/><path stroke="#00bf51" d="M116 22h1m5 0h2m-36 1h1m21 0h2m13 0h1m-36 1h1m16 0h1m19 0h1m-35 1h1m11 0h1m33 0h1m-41 1h1m3 0h1m27 0h1m15 2h1m-6 1h1m-35 4h1m29 0h1m-4 2h1m-29 1h1m27 0h1m-28 1h1m26 0h1m-1 1h1m-1 1h1m-4 1h3m-5 1h1m-97 1h11m84 0h1m-101 1h7m8 0h2m5 0h5m72 0h1m-101 1h3m14 0h2m3 0h2m7 0h1m4 0h2m4 0h2m54 0h1m-99 1h2m16 0h2m1 0h2m9 0h4m8 0h1m17 0h1m3 0h1m12 0h2m15 0h1m-97 1h2m17 0h3m24 0h1m11 0h2m26 0h2m4 0h1m-92 1h2m-1 1h1m0 1h1m-1 1h1m-1 1h1m-1 1h1m-10 1h1m-1 1h3m5 0h1m-6 1h5m-8 4h2m-2 1h2m-2 1h2"/><path stroke="#00b93e" d="M118 21h4m-7 1h1m8 0h1m-36 1h1m18 0h2m16 0h1m-36 1h1m14 0h1m-13 1h2m33 0h1m4 0h1m-35 1h3m38 0h1m5 1h1m2 0h1m-9 1h1m4 1h1m2 0h1m-9 1h1m-2 2h1m-3 1h1m-33 1h1m28 0h1m-27 1h1m25 2h1m-1 1h1m-1 1h1m-2 1h1m-5 1h4m-99 2h8m-13 1h5m8 0h1m7 0h6m8 0h4m57 0h1m-98 1h4m11 0h1m5 0h2m5 0h2m4 0h1m6 0h1m19 0h3m31 0h2m-97 1h3m13 0h1m3 0h1m9 0h3m10 0h1m14 0h1m7 0h5m11 0h2m7 0h2m-92 1h2m14 0h2m33 0h1m-52 1h1m-1 5h1m-2 2h1m-6 1h5m-6 1h2m-3 1h2m-1 1h1m-4 1h1m2 0h1m-4 1h1m2 0h1m-3 1h2"/><path stroke="#00b32a" d="M117 21h1m4 0h2m-35 1h1m24 0h1m10 0h1m-36 1h1m16 0h1m-16 1h1m12 0h1m22 0h1m-33 1h3m5 0h1m35 0h1m1 2h1m3 1h1m-1 1h1m1 1h1m-7 1h1m-3 2h1m-4 1h1m-31 1h1m28 0h1m-1 1h1m0 1h1m-1 1h1m-1 1h1m-2 1h2m-3 1h2m-7 1h6m-7 1h1m-94 1h8m84 0h1m-95 1h3m7 0h1m8 0h5m7 0h1m4 0h1m56 0h1m-95 1h2m10 0h1m5 0h2m5 0h2m3 0h1m8 0h1m16 0h2m3 0h2m5 0h11m11 0h2m-92 1h1m12 0h1m2 0h2m24 0h7m1 0h4m29 0h4m-88 1h2m-2 1h1m-1 1h1m-1 1h1m-1 1h1m-2 2h1m-1 1h1m-2 1h1m-5 1h4m-5 1h2m-2 1h1m-1 1h1m-6 1h1m0 1h1"/><path stroke="#06b018" d="M116 7h2m1 13h2m-5 1h1m7 0h1m-16 1h1m3 0h1m12 0h1m-36 1h1m14 0h1m20 0h1m-35 1h1m43 0h2m-40 1h1m3 0h1m26 0h1m2 0h1m8 1h1m5 0h2m-4 1h1m-4 1h1m1 0h1m-3 1h1m1 0h1m-3 1h1m3 0h1m1 0h1m-9 3h1m-33 1h1m28 0h2m-3 1h1m-30 1h2m27 0h1m0 1h1m-1 1h1m-1 1h1m-1 1h1m-2 1h1m-2 1h2m-8 1h7m-8 1h2m-94 1h2m2 0h3m22 0h4m58 0h1m-94 1h2m6 0h2m8 0h5m6 0h1m6 0h1m19 0h3m31 0h2m-93 1h1m9 0h2m5 0h1m8 0h2m12 0h1m12 0h2m26 0h1m4 0h2m-88 1h1m11 0h3m-16 1h1m-1 1h1m-2 3h1m-2 3h1m-2 1h2m-5 1h4m-5 1h1m-1 1h1m-8 1h1m5 0h1m-6 1h1m3 0h1m-3 1h1"/><path stroke="#12b008" d="M116 8h2m-1 12h2m2 0h2m-8 1h1m9 0h1m-36 1h1m16 0h2m1 0h3m-8 1h1m-12 1h2m8 0h1m31 0h1m2 0h1m-40 1h3m28 0h2m8 0h1m5 1h1m-5 1h3m-2 1h1m6 0h1m-8 1h1m-1 1h1m1 0h1m3 0h1m-8 1h1m-2 1h1m-35 2h1m31 0h1m-3 1h2m-2 1h1m0 1h1m-1 1h1m-1 1h1m-2 2h1m-1 1h1m-2 1h2m-8 1h8m-100 1h2m88 0h1m7 0h2m-102 1h2m3 0h1m22 0h1m4 0h1m56 0h1m-93 1h2m6 0h1m8 0h8m2 0h2m9 0h1m15 0h10m14 0h2m7 0h2m-89 1h1m9 0h1m3 0h2m66 0h3m-86 1h1m-2 2h1m-1 1h1m-2 2h1m-1 1h1m-2 3h1m-5 1h3m-4 2h1m-8 1h1m5 0h1m-6 1h2m1 0h2"/><path stroke="#22b300" d="M116 6h2m-3 1h1m2 0h1m-4 1h1m0 12h1m6 0h2m-35 1h1m23 0h1m11 0h1m-36 1h1m14 0h1m20 0h1m-36 1h1m35 0h1m-33 1h3m30 0h1m5 0h1m4 0h1m1 1h1m0 1h1m2 0h1m3 0h1m0 1h1m-1 2h1m-7 1h1m-4 3h1m-2 1h1m-34 1h2m30 0h1m-2 1h2m-2 4h1m-1 1h1m-1 1h1m-1 1h1m-1 1h1m-10 1h7m2 0h1m-101 1h3m24 0h4m58 0h2m6 0h4m-103 1h1m4 0h1m21 0h1m7 0h1m26 0h3m5 0h6m11 0h3m-91 1h1m6 0h2m6 0h10m15 0h12m28 0h1m3 0h1m-86 1h1m9 0h3m7 0h2m-23 1h1m-2 3h1m-2 3h1m-1 1h1m-1 1h1m-3 1h2m-5 1h2m-11 2h1m0 1h1"/><path stroke="#36b900" d="M115 6h1m2 0h1m-1 2h1m-3 1h1m0 10h6m-33 1h1m24 0h1m9 0h1m-19 1h4m-6 1h1m-13 1h1m10 0h1m-6 1h1m3 0h1m37 0h1m2 2h2m-2 5h1m-2 1h1m-3 3h1m-2 2h1m-1 1h1m-1 1h1m-1 1h1m-1 1h1m-1 1h1m-1 1h1m-1 1h1m-1 1h1m-11 1h6m4 0h1m-103 1h4m23 0h1m5 0h1m30 0h5m20 0h2m6 0h5m-103 1h1m4 0h1m18 0h2m11 0h2m12 0h10m17 0h1m5 0h1m-86 1h1m7 0h1m3 0h2m3 0h2m2 0h2m-24 1h1m19 0h2m-23 1h1m-1 1h1m-2 2h1m-2 5h1m-4 1h2m-4 1h1m-12 1h2m8 0h1m-11 1h3m6 0h1m-6 1h4"/><path stroke="#4cc100" d="M116 5h2m-4 2h1m-1 1h1m0 1h1m1 0h1m-2 10h1m6 0h2m1 1h1m-36 1h1m14 0h1m4 0h3m13 0h1m-36 1h1m35 0h1m-35 1h1m34 0h1m-30 1h3m27 0h1m3 0h1m8 1h1m7 5h1m-7 1h5m-8 3h1m-2 2h1m-1 1h1m-1 1h1m-1 5h1m-1 1h1m-1 1h1m-76 2h1m2 0h2m58 0h6m5 0h1m-103 1h4m21 0h1m9 0h1m24 0h1m15 0h1m7 0h5m7 0h4m-101 1h1m4 0h2m6 0h3m6 0h1m57 0h3m-84 1h1m17 0h1m2 0h1m-23 1h1m19 0h2m-23 2h1m-2 2h1m-1 1h1m-1 1h1m-3 3h1m-4 1h1m-2 1h1m-14 1h2m-1 1h5m4 0h1"/><path stroke="#64cb00" d="M115 5h1m2 0h1m-5 1h1m4 1h1m-6 2h1m2 9h5m-7 1h1m9 0h1m-35 1h1m15 0h4m3 0h1m-10 1h1m-2 1h1m-10 1h5m3 0h1m32 0h4m-7 1h1m8 0h1m1 1h1m2 0h3m1 1h1m-2 5h1m-7 1h1m-2 1h1m-2 2h1m-2 4h1m-1 1h1m-1 1h1m-1 1h1m-1 4h1m-75 1h2m-5 1h1m7 0h1m26 0h2m10 0h3m13 0h3m2 0h2m4 0h1m-101 1h4m18 0h2m18 0h17m19 0h1m3 0h1m13 0h3m-100 1h1m5 0h5m5 0h1m4 0h1m75 0h2m-79 1h1m-23 1h1m-2 2h1m-2 4h1m-5 3h1m-4 2h1m-13 1h1m10 0h1m-12 1h10"/><path stroke="#7ed500" d="M113 6h1m5 0h1m-7 1h1m-1 1h1m5 0h1m-7 1h1m4 0h1m-5 1h3m-2 8h2m5 0h3m-16 1h1m4 0h1m11 0h1m-21 1h1m4 0h3m13 0h1m-36 1h1m11 0h1m23 0h1m-36 1h1m9 0h1m-4 1h3m32 0h1m4 0h1m-10 1h2m10 0h1m1 1h2m5 3h1m-1 1h1m-8 3h1m-3 2h1m-2 2h1m-1 1h1m-1 5h1m-1 1h1m-1 1h1m-1 1h1m-2 2h1m-77 1h1m5 0h1m29 0h2m2 0h6m19 0h2m7 0h1m-78 1h1m12 0h5m17 0h1m17 0h1m5 0h1m10 0h2m3 0h1m-100 1h1m3 0h1m5 0h2m2 0h1m6 0h1m73 0h1m2 0h1m-101 1h1m17 0h1m3 0h1m75 0h2m-81 1h2m-23 3h1m-2 4h1m-2 1h1m-3 1h1m-3 1h1m-2 1h1m-15 1h1m10 1h1m-11 1h4"/><path stroke="#9adf00" d="M117 4h1m1 1h1m-8 3h1m0 2h1m1 7h2m-7 1h1m2 0h2m10 0h1m-19 1h2m1 0h4m13 0h1m-36 1h1m12 0h1m22 0h1m-26 1h1m-10 1h1m2 0h6m26 0h1m0 1h1m10 0h1m8 2h1m1 2h1m-2 4h1m-6 1h1m-3 1h1m-3 5h1m-1 1h1m-1 1h1m-1 1h1m-1 5h1m-77 2h5m32 0h2m35 0h1m-78 1h1m9 0h2m23 0h1m15 0h1m7 0h10m6 0h1m-100 1h3m8 0h2m8 0h1m31 0h4m21 0h3m17 0h1m-101 1h1m6 0h2m7 0h1m82 0h1m-101 1h1m20 0h1m-23 1h1m-2 3h1m-1 1h1m-4 4h1m-3 1h1m-4 2h1m-14 1h1m11 0h1m-8 1h5"/><path stroke="#b0e700" d="M118 4h1m-7 2h1m-1 1h1m7 0h1m-9 2h1m6 0h1m-8 1h1m4 0h1m-6 1h4m-5 4h2m-3 1h5m-6 1h6m2 0h8m-17 1h2m1 0h2m13 0h1m-21 1h1m-3 1h1m-12 1h1m4 0h5m26 0h1m-35 1h2m37 1h1m7 0h1m1 1h1m7 6h1m-6 2h1m-5 3h1m-1 7h1m-1 1h1m-1 1h1m-80 5h1m7 0h1m26 0h1m13 0h1m25 0h1m-79 1h1m19 0h11m4 0h1m19 0h1m3 0h1m11 0h1m-95 1h1m3 0h2m2 0h1m12 0h1m73 0h1m-80 1h1m79 0h2m-101 2h1m-2 4h1m-2 2h1m-2 1h1m-3 1h1m-3 1h1m-2 1h1m-16 1h1m13 0h1m-14 1h1m9 0h2m-10 1h3"/><path stroke="#c0ec00" d="M119 4h1m0 2h1m-10 1h1m-2 1h2m8 0h1m-11 1h2m-2 1h2m-2 1h2m4 0h1m-7 1h5m-5 1h4m-4 1h5m-6 1h2m2 0h2m-6 1h1m5 0h2m-9 1h1m16 0h1m-19 1h1m19 0h1m-35 1h1m11 0h1m22 0h1m-36 1h1m4 0h6m25 0h1m-34 1h2m32 1h1m5 0h4m-9 1h1m1 0h1m9 0h1m1 1h1m6 2h1m-5 6h2m-5 1h1m-2 1h1m-2 2h1m-1 3h1m-1 1h1m-1 1h1m-1 4h1m-1 1h1m-2 1h1m-2 1h1m-77 1h1m5 0h1m28 0h1m6 0h6m-51 1h1m15 0h3m16 0h1m17 0h1m5 0h1m4 0h3m1 0h2m6 0h1m-100 1h3m5 0h2m3 0h1m79 0h1m4 0h1m-101 1h1m20 0h1m-23 1h1m19 0h1m-22 2h1m-2 4h1m-4 3h1m-3 1h1m-5 3h1m-12 1h1m3 0h5"/><path stroke="#d0f100" d="M120 5h1m-11 2h1m-2 1h1m-3 1h3m-2 1h2m8 0h1m-11 1h2m-2 1h2m5 0h1m-8 1h2m4 0h1m-7 1h2m5 0h1m-8 1h1m6 0h1m-8 1h1m8 0h1m4 0h3m-27 1h2m7 0h1m18 0h2m-32 1h4m6 0h1m21 0h1m-35 1h1m1 0h6m1 0h2m24 0h1m-36 1h1m1 0h2m-4 1h2m34 0h1m4 1h1m4 0h2m-10 1h1m13 1h3m2 1h1m1 3h1m-2 3h1m-3 1h1m-8 5h1m-1 1h1m0 4h1m-1 1h1m-1 1h1m-1 1h1m-2 2h1m-78 2h1m2 0h2m30 0h1m3 0h2m33 0h1m-78 1h1m12 0h2m20 0h1m23 0h1m1 0h2m3 0h1m-81 1h3m8 0h1m23 0h12m22 0h1m-81 1h1m14 0h1m5 0h1m73 0h1m2 0h1m-82 1h1m1 0h1m-22 1h1m-2 2h1m-6 7h1m-3 1h1m-18 1h1m15 0h1m-16 1h1m13 0h1m-14 1h1m9 0h2"/><path stroke="#dff700" d="M119 3h1m0 1h1m0 2h1m-1 1h1m-2 2h1m-16 1h3m-2 1h2m9 0h1m-11 1h1m8 0h1m-10 1h1m7 0h1m-9 1h1m-1 1h1m8 0h1m-18 1h1m7 0h1m10 0h4m3 0h2m-27 1h1m5 0h1m21 0h1m-29 1h2m3 0h1m23 0h1m-35 1h1m6 0h1m-8 1h1m34 0h1m0 2h1m2 0h1m7 0h1m1 1h1m4 1h1m3 5h1m-1 1h1m-3 2h1m-6 1h1m-3 2h1m-1 6h1m-1 5h1m-3 2h1m-76 1h2m33 0h3m36 0h1m9 0h2m-80 1h3m38 0h1m8 0h1m15 0h1m12 0h1m-92 1h1m19 0h3m12 0h1m20 0h1m1 0h1m11 0h1m-93 1h1m3 0h3m-9 1h1m16 0h1m-20 4h1m-2 3h1m-2 1h1m-2 1h1m-4 2h1m-2 1h1m-4 2h1m-11 1h10"/><path stroke="#edfc00" d="M121 5h1m-1 3h1m-3 2h1m-16 1h2m-3 1h4m-1 1h1m9 0h1m-17 1h1m15 0h1m-17 1h1m16 0h1m5 0h3m-26 1h1m26 0h1m-27 1h1m0 1h3m25 1h1m0 2h1m0 1h2m16 2h1m2 3h1m-9 7h1m-2 5h1m-1 1h1m0 2h1m-1 1h1m-1 1h1m-1 1h1m-2 2h1m-2 1h1m7 0h2m0 1h1m-90 1h1m6 0h2m26 0h1m12 0h2m37 0h1m-90 1h1m16 0h2m16 0h1m18 0h1m10 0h4m7 0h1m-99 1h3m3 0h2m4 0h1m7 0h1m71 0h1m-75 1h1m75 0h1m-99 2h1m-2 3h1m-5 5h1m-21 3h1m15 0h1m-16 1h1m13 0h1m-13 1h1m10 0h1m-3 1h2"/><path stroke="#f7fb00" d="M120 3h1m0 1h1m-1 5h1m-4 2h1m-17 2h4m-5 1h1m4 0h1m-6 1h1m4 0h1m11 0h1m2 0h2m3 0h2m-27 1h1m4 0h1m21 0h1m-27 1h1m2 0h1m23 0h1m0 1h1m0 1h1m-1 1h1m0 1h8m3 1h1m1 1h1m6 2h1m0 6h1m-2 1h1m-6 1h1m-4 3h1m-1 1h1m-1 1h1m0 3h1m0 2h1m-1 1h1m-1 1h1m-2 1h1m-1 1h1m4 1h1m2 0h1m-12 1h1m7 0h1m-86 1h2m2 0h2m29 0h1m7 0h4m28 0h1m9 0h1m2 0h1m-91 1h1m14 0h1m36 0h1m4 0h1m5 0h1m24 0h2m-105 1h1m2 0h1m31 0h13m35 0h1m5 0h1m-100 1h1m20 0h1m75 0h1m-99 1h1m18 0h1m-21 2h1m-2 3h1m-2 2h1m-2 1h1m-4 2h1m-2 1h1m-2 1h1m-2 1h1m-15 1h1m12 0h1m-11 1h7m2 0h1m-2 1h2"/><path stroke="#fcf400" d="M122 5h1m-1 1h1m-1 1h1m-1 1h1m-3 2h1m-4 2h1m-1 1h1m-16 1h4m11 0h1m5 0h4m-25 1h1m2 0h1m13 0h2m7 0h1m-27 1h1m2 0h1m23 0h1m-27 1h2m25 0h1m0 1h1m0 1h1m-1 1h2m6 1h2m4 2h1m4 1h1m1 2h1m0 3h1m-7 4h4m-7 7h1m0 2h1m0 3h1m-2 1h2m-2 1h1m2 0h4m-9 1h1m4 0h1m-1 1h1m4 0h1m-88 1h2m32 0h1m4 0h2m33 0h1m-66 1h2m20 0h1m15 0h1m6 0h1m2 0h2m13 0h1m10 0h1m2 0h1m-105 1h2m10 0h1m19 0h2m-30 1h1m79 0h1m-79 1h1m1 0h1m-26 9h1m-2 1h1m-22 2h1m0 1h1m16 0h1m-17 1h1m14 0h1m-14 1h2m10 0h1m-6 1h3m2 0h1m-3 1h2"/><path stroke="#ffec00" d="M121 3h1m0 1h1m0 3h1m-1 1h1m-2 1h1m-2 1h1m-3 1h1m3 2h4m-5 1h1m4 0h1m-25 1h2m24 0h1m-27 1h2m25 0h1m0 1h1m0 1h1m0 1h1m0 1h3m10 3h2m5 5h1m-1 2h1m-2 2h1m-2 1h1m-7 1h1m-2 1h1m0 6h1m0 2h1m-1 1h1m0 1h1m-1 1h3m-4 1h2m4 0h1m-9 1h4m5 0h1m-12 1h1m4 0h1m-47 1h1m2 0h1m43 0h1m4 0h1m-91 1h1m8 0h3m46 0h2m-62 1h1m17 0h1m15 0h1m20 0h1m11 0h2m20 0h2m-114 1h1m20 0h1m71 0h1m3 0h1m-83 1h1m3 0h1m-22 1h1m-2 2h1m-2 3h1m-6 5h1m-22 1h1m19 0h1m-20 1h1m16 2h1m-10 1h3m1 1h2m2 0h1m-3 1h2"/><path stroke="#ffe400" d="M122 3h1m0 2h1m-1 1h1m-1 3h1m-2 1h3m-5 1h5m-7 1h1m4 0h4m-5 1h1m4 0h1m-10 1h4m6 0h1m1 1h1m0 1h1m0 1h1m0 1h1m0 1h1m2 1h2m3 1h1m1 1h1m4 1h1m3 2h1m0 2h1m-1 4h1m-1 1h1m-2 1h1m-9 6h1m1 3h1m0 1h1m-1 1h1m0 1h1m1 1h2m1 1h1m-11 2h2m1 0h1m-45 1h2m37 0h1m5 0h1m-84 1h1m3 0h4m26 0h1m12 0h2m26 0h1m8 0h1m4 0h1m-92 1h1m15 0h1m17 0h1m18 0h1m1 0h1m8 0h2m9 0h1m11 0h1m2 0h1m-114 1h1m3 0h3m5 0h1m29 0h13m-57 1h1m20 0h1m-24 4h1m-3 4h1m-2 1h1m-2 1h1m-2 1h1m-24 1h1m21 0h1m-2 1h1m-19 1h1m16 0h1m-16 1h1m2 1h2m9 0h1m-7 1h1m5 0h1m-5 1h1m2 0h1"/><path stroke="#ffdc00" d="M123 3h1m-1 1h1m0 2h1m-1 1h1m-1 1h1m-1 1h1m0 1h1m-1 1h2m-6 1h2m4 0h1m-10 1h1m2 0h1m6 0h1m0 1h1m2 2h1m0 1h1m0 1h1m0 1h1m3 1h2m9 3h1m1 1h1m1 2h1m0 3h1m-1 1h1m-2 3h1m-8 1h1m3 0h2m-8 2h1m-1 1h1m-1 1h1m0 2h1m0 1h1m0 1h1m0 2h1m0 1h2m1 1h1m1 2h1m-10 1h1m8 0h1m-13 1h1m11 0h1m-90 1h3m40 0h3m-48 1h1m13 0h1m36 0h1m3 0h1m6 0h1m-86 1h3m3 0h2m2 0h1m9 0h1m19 0h1m13 0h1m35 0h1m19 0h2m-100 1h1m2 1h2m-21 1h1m-2 3h1m-2 2h1m-27 6h1m19 1h1m-18 1h1m15 0h1m-15 1h2m12 0h1m-11 1h3m1 1h1m1 1h2"/><path stroke="#ffd400" d="M124 4h1m-1 1h1m0 2h1m-1 1h1m-1 1h1m0 1h1m0 1h1m-9 1h2m7 0h1m-10 1h2m8 0h1m0 1h1m0 1h1m3 3h1m0 1h1m4 1h1m1 1h1m1 1h1m5 1h1m3 5h1m-1 3h1m-1 1h1m-8 2h3m2 0h2m-7 7h1m0 1h1m-1 1h1m0 1h1m1 1h2m0 1h1m0 1h1m-12 3h4m-48 1h1m6 0h2m32 0h1m6 0h1m-72 1h1m20 0h1m21 0h1m4 0h1m13 0h1m9 0h1m4 0h1m-106 1h2m11 0h1m17 0h1m15 0h1m33 0h1m6 0h1m12 0h1m2 0h1m-115 1h1m20 0h1m22 0h8m43 0h1m-80 1h1m2 0h1m-23 5h1m-3 3h1m-2 1h1m-2 1h1m-2 1h1m-24 1h1m21 0h1m-21 1h1m18 1h1m-14 2h2m10 0h1m-9 1h2m5 0h1m-5 1h1m2 0h1"/><path stroke="#ffcc00" d="M124 3h1m0 2h1m-1 1h1m0 2h1m-1 1h1m0 1h1m0 1h1m0 1h1m0 1h1m0 1h1m0 1h1m0 1h1m0 1h1m2 2h2m7 3h1m6 2h1m1 3h1m-1 6h1m-1 1h1m-10 1h1m5 0h3m-1 1h1m-9 3h1m0 1h1m1 1h1m0 1h1m-1 1h1m0 1h2m1 1h1m0 1h1m0 2h1m-1 1h1m-56 2h1m4 0h1m35 0h1m4 0h1m7 0h1m-91 1h2m2 0h5m1 0h2m37 0h1m9 0h1m-62 1h1m15 0h1m49 0h1m-69 1h1m19 0h2m8 0h3m39 0h1m1 0h1m15 0h2m-115 1h1m15 0h1m-18 2h1m-3 5h1m-30 5h2m1 1h1m20 0h1m-20 1h1m1 1h1m1 1h1m2 1h2m1 1h2m4 0h1"/><path stroke="#ffc400" d="M125 3h1m-1 1h1m0 1h1m-1 1h1m-1 1h1m0 1h1m-1 1h1m0 1h1m0 1h1m1 2h1m0 1h1m0 1h1m0 1h1m0 1h1m0 1h1m2 1h1m2 1h1m1 1h1m2 1h3m2 1h1m1 2h1m0 1h1m0 2h1m-1 1h1m-1 1h1m-1 1h1m-1 1h1m-1 1h1m-1 1h1m-6 1h1m3 0h2m-5 1h2m1 0h1m-3 1h3m-3 1h3m-3 1h2m-7 1h1m4 0h1m-4 1h3m-2 1h2m-2 1h3m-1 1h2m0 1h1m0 1h1m-1 1h1m-1 3h1m-52 1h1m37 0h2m1 0h1m-80 1h2m5 0h1m24 0h1m13 0h1m7 0h3m16 0h1m7 0h1m6 0h1m-92 1h1m13 0h1m18 0h1m29 0h2m9 0h1m10 0h1m4 0h1m-103 1h1m27 0h1m13 0h1m37 0h1m17 0h1m2 0h1m-95 1h1m-23 3h1m-2 3h1m-4 4h1m-2 1h1m-2 1h1m-24 1h1m1 1h1m19 0h1m-19 1h1m16 0h1m-16 1h1m2 1h1m10 0h1m-9 1h1m2 1h4"/><path stroke="#ffbc00" d="M126 3h1m-1 1h1m0 2h1m-1 1h1m0 2h1m1 3h1m2 2h1m0 1h1m0 1h1m0 1h1m0 1h1m2 1h1m9 3h1m5 5h1m0 3h1m-1 1h1m-1 1h1m-1 1h1m-1 1h1m-11 1h1m2 0h1m6 0h1m-12 1h1m4 0h1m4 0h2m-6 1h1m3 0h1m-11 1h1m5 0h1m3 0h1m-10 1h1m3 0h2m2 0h2m-8 1h4m1 0h3m-4 1h3m-3 1h3m-2 1h2m-1 1h2m-1 1h1m0 2h1m-1 1h1m-56 3h3m40 0h1m10 0h1m-47 1h3m28 0h1m5 0h1m-83 1h1m50 0h2m8 0h1m21 0h1m-109 1h1m4 0h4m2 0h1m10 0h1m32 0h1m35 0h1m4 0h1m-84 1h1m6 0h1m21 0h10m-54 1h1m17 0h2m-21 3h1m-3 4h1m-2 1h1m-29 4h2m23 0h1m-23 1h1m3 2h1m15 0h1m-15 1h2m1 1h2m8 0h1m-8 1h2"/><path stroke="#ffb400" d="M127 3h1m-1 1h1m-1 1h1m0 2h1m-1 1h1m0 1h1m-1 1h1m0 1h1m0 1h1m0 1h1m5 5h1m2 1h1m1 1h1m7 2h1m1 1h1m0 1h1m0 1h1m1 3h1m-1 1h1m0 2h1m-1 1h1m-1 1h1m-1 1h1m-11 1h2m8 0h1m-1 1h1m-13 1h1m4 0h1m5 0h2m-8 1h1m5 0h2m-11 1h1m1 0h1m6 0h1m-1 1h1m-2 1h2m-2 1h2m-2 1h2m-1 1h1m-1 1h1m-1 1h1m-1 3h1m-1 1h1m-58 2h1m7 0h2m32 0h1m3 0h1m-81 1h5m6 0h1m20 0h1m16 0h1m2 0h1m36 0h1m-112 1h1m4 0h2m12 0h1m15 0h1m16 0h1m52 0h1m4 0h1m-116 1h1m21 0h1m19 0h1m10 0h2m57 0h2m-98 1h1m2 0h1m-22 4h1m-2 2h1m-4 4h1m-2 1h1m-29 1h2m2 1h1m22 0h1m-21 1h1m18 0h1m-2 2h1m-13 1h1m2 1h1m6 0h1m-5 1h3"/><path stroke="#ffac00" d="M128 4h1m-1 1h1m-1 1h1m0 2h1m0 2h1m0 1h1m0 1h1m0 1h1m0 1h1m0 1h1m0 1h1m0 1h1m1 1h2m4 3h1m6 1h1m3 4h1m0 1h1m0 2h1m-1 1h1m0 2h1m-1 1h1m-1 1h1m-1 1h1m-10 1h1m8 0h1m-1 1h1m-13 1h1m2 0h1m8 0h1m-11 1h1m8 0h2m-2 1h2m-2 1h2m-2 1h1m-1 1h1m2 0h1m-4 1h4m-4 1h4m-4 1h4m-4 1h4m-4 1h3m-3 1h2m-2 1h1m-2 1h1m-51 1h1m35 0h3m10 0h1m-86 1h3m2 0h1m37 0h1m4 0h1m5 0h1m13 0h1m7 0h1m-107 1h3m20 0h2m31 0h1m31 0h2m-79 1h1m9 0h1m17 0h1m13 0h1m55 0h1m2 0h1m-100 1h1m4 0h1m22 0h5m-50 5h1m-3 3h1m-2 1h1m-3 3h1m-28 1h3m2 1h1m1 1h1m17 0h1m-17 1h1m1 1h1m12 0h1m-12 1h2m8 0h1m-8 1h2m3 0h1"/><path stroke="#ffa400" d="M128 3h1m0 2h1m-1 1h1m-1 1h1m0 2h1m3 4h1m0 1h1m0 1h1m0 1h1m0 1h1m3 2h1m3 2h1m10 5h1m0 2h1m-12 8h1m12 0h1m-11 1h1m9 0h1m-12 1h1m10 0h1m-1 1h1m-1 1h1m-1 1h1m-2 1h2m-2 1h2m-60 9h1m4 0h1m-33 1h2m23 0h1m13 0h1m10 0h1m15 0h1m5 0h1m9 0h1m-91 1h1m11 0h1m49 0h1m8 0h1m10 0h1m6 0h1m-93 1h1m15 0h1m15 0h1m-43 1h1m6 0h1m20 0h1m5 0h6m-55 1h1m17 0h2m-22 6h1m-3 3h1m-2 1h1m-33 2h4m27 0h1m-24 1h1m21 0h1m-19 2h1m16 0h1m-16 1h1m1 1h1m1 1h2m6 0h1"/><path stroke="#ff9c00" d="M129 3h1m-1 1h1m0 4h1m0 2h1m0 1h1m0 1h1m1 1h1m0 1h1m0 1h1m0 1h1m0 1h2m0 1h1m2 2h1m2 1h5m1 1h1m0 1h1m0 1h1m0 1h1m-9 11h2m-3 1h1m1 0h1m11 0h1m-14 1h1m12 0h1m-1 1h1m-1 1h1m-1 1h1m-1 1h1m-4 9h1m-2 1h1m-46 1h1m7 0h1m2 0h1m17 0h1m3 0h1m-79 1h4m6 0h1m49 0h1m-82 1h6m12 0h1m31 0h1m36 0h2m14 0h1m4 0h1m-94 1h1m18 0h1m12 0h1m-39 1h1m2 0h2m22 0h3m-47 1h1m-2 4h1m-3 3h1m-3 3h1m-34 2h5m2 0h2m2 1h1m19 0h1m-18 2h1m1 1h1m12 0h1m-13 1h2m9 0h1m-8 1h6"/><path stroke="#ff9400" d="M130 3h1m-1 1h1m-1 1h1m-1 1h1m-1 1h1m0 2h1m2 3h1m1 1h1m0 1h1m0 1h1m0 1h1m2 2h1m0 1h1m8 2h1m4 4h1m-10 12h1m11 12h1m-2 1h1m-58 2h1m2 0h1m52 0h1m-50 1h3m9 0h2m19 0h3m12 0h1m-87 1h1m26 0h1m17 0h1m9 0h1m11 0h1m8 0h1m8 0h1m-117 1h1m4 0h1m19 0h2m11 0h1m53 0h1m2 0h1m12 0h1m-110 1h1m12 0h1m9 0h1m16 0h1m14 0h1m55 0h4m-100 1h1m5 0h1m20 0h1m3 0h3m-50 2h1m-1 1h1m-2 3h1m-2 1h1m-3 3h1m-2 2h1m-29 1h2m25 0h1m-33 1h2m8 0h1m1 1h1m18 0h1m-2 1h1m-16 1h1m0 1h1m1 1h3m6 0h1"/><path stroke="#ff8c00" d="M131 3h1m-1 5h1m0 2h1m0 1h1m1 1h1m1 1h1m0 1h1m0 1h1m0 1h1m0 1h1m12 5h1m0 1h1m0 1h1m4 24h1m-1 1h1m-2 1h1m-2 1h1m-57 1h2m-5 1h1m7 0h1m-37 1h2m2 0h1m38 0h1m1 0h1m7 0h1m20 0h1m-80 1h2m28 0h1m32 0h2m23 0h1m-93 1h1m31 0h1m-43 1h1m26 0h1m7 0h5m-38 1h4m23 0h2m-46 3h1m-1 1h1m-3 3h1m-2 1h1m-2 2h1m-33 3h3m27 0h1m-20 2h1m0 1h1m15 0h1m-16 1h1m13 0h1m-13 1h1m10 0h1m-9 1h6"/><path stroke="#ff8200" d="M131 4h1m-1 1h1m-1 1h1m-1 1h1m0 2h1m0 1h1m0 1h1m1 1h1m1 1h1m0 1h1m0 1h1m0 1h1m0 1h1m2 3h1m3 0h4m0 1h1m3 3h1m3 26h1m-2 1h1m-2 1h1m-53 1h1m50 0h1m-85 1h2m23 0h1m14 0h1m3 0h1m20 0h1m5 0h1m11 0h1m-117 1h1m2 0h1m24 0h1m7 0h1m51 0h1m6 0h1m10 0h1m8 0h1m-110 1h5m12 0h2m12 0h1m17 0h1m52 0h1m4 0h1m-103 1h1m8 0h1m17 0h1m13 0h1m-40 1h1m4 0h1m21 0h1m2 0h2m-48 5h1m-2 1h1m-3 3h1m-2 2h1m-2 1h1m-29 1h2m1 0h2m-10 1h3m8 0h1m20 0h1m-2 1h1m-16 3h1m1 1h2m6 0h2"/><path stroke="#ff7600" d="M132 3h1m-1 1h1m-1 1h1m-1 3h1m2 3h1m1 1h1m1 1h1m0 1h1m0 1h1m1 3h1m0 1h1m1 1h3m4 0h1m0 1h1m0 1h1m0 1h1m4 28h1m-2 1h1m-2 1h1m-47 1h1m5 0h1m4 0h1m15 0h1m1 0h3m13 0h1m-116 1h1m26 0h2m26 0h1m28 0h2m-83 1h1m19 0h2m87 0h1m-117 1h1m11 0h1m10 0h2m30 0h1m57 0h1m-100 1h1m6 0h1m19 0h1m5 0h4m-35 1h5m-23 6h1m-2 1h1m-2 2h1m-29 3h1m25 0h1m-31 1h2m-5 1h2m10 0h1m0 1h1m17 0h1m-18 1h1m15 0h1m-16 1h1m13 0h1m-14 1h2m10 0h1"/><path stroke="#ff6a00" d="M133 3h1m-1 1h1m-2 2h1m-1 1h1m0 2h1m0 1h1m1 1h2m0 1h2m0 1h1m0 1h1m0 1h1m-1 1h1m0 1h1m6 2h3m4 4h1m3 29h1m-61 1h1m4 0h1m53 0h1m-50 1h2m28 0h1m17 0h1m-118 1h1m29 0h1m3 0h1m49 0h1m10 0h1m8 0h1m10 0h1m-118 1h1m27 0h1m8 0h1m19 0h1m50 0h1m7 0h1m-109 1h3m13 0h2m12 0h1m16 0h1m54 0h2m1 0h1m-115 1h1m12 0h1m8 0h1m17 0h1m10 0h3m-54 1h1m14 0h1m5 0h1m20 0h3m-45 1h1m17 0h2m-20 1h1m-1 1h1m-1 1h1m-2 1h1m-3 3h1m-3 3h1m-30 2h1m4 0h1m-9 1h2m28 0h1m-33 1h2m11 1h1m17 0h1m-18 1h1m15 0h1m-16 1h1"/><path stroke="#ff5c00" d="M134 3h1m-2 2h1m-1 1h1m-1 2h1m1 2h2m1 1h2m0 1h1m0 1h1m0 1h1m0 2h1m0 2h1m4 1h1m3 0h1m0 1h1m0 1h1m0 1h1m-52 31h1m55 0h1m-62 1h1m7 0h3m9 0h1m2 0h1m36 0h1m-88 1h3m23 0h1m15 0h2m28 0h1m12 0h1m-114 1h1m23 0h1m62 0h3m12 0h1m-101 1h1m18 0h1m29 0h1m57 0h1m-105 1h2m10 0h2m29 0h1m-42 1h2m7 0h1m18 0h1m3 0h2m-31 1h2m2 0h2m-2 1h1m-21 3h1m-2 1h1m-2 1h1m-2 2h1m-2 1h1m-2 2h1m-29 1h1m2 0h1m23 0h1m-30 1h1m6 0h1m-10 1h1m9 0h1m19 0h1m-33 1h2m12 2h1m14 0h1"/><path stroke="#ff4c00" d="M135 3h1m-2 1h1m-1 1h1m-2 2h1m0 2h2m1 1h2m1 1h1m0 1h1m0 1h1m0 1h1m-1 1h1m6 3h4m-9 1h1m2 0h1m5 0h1m-53 34h1m18 1h2m38 0h1m-48 1h1m2 0h1m7 0h1m12 0h1m5 0h1m14 0h2m-91 1h2m4 0h1m21 0h1m32 0h1m3 0h1m21 0h2m-113 1h1m20 0h1m9 0h1m71 0h1m5 0h1m-108 1h2m14 0h1m13 0h1m15 0h1m-45 1h2m10 0h1m16 0h1m6 0h4m-37 1h2m6 0h1m-6 1h3m1 0h2m-22 1h1m18 0h2m-21 1h1m-2 2h1m-2 1h1m-2 1h1m-2 2h1m-2 1h1m-29 2h2m24 1h1m-31 1h1m-2 1h1m29 0h1m-33 1h2m11 0h1m17 0h1m-2 1h1"/><path stroke="#ff3d00" d="M136 3h1m-2 1h2m-2 1h1m-2 1h1m-1 1h1m-1 1h1m1 1h3m0 1h2m0 1h1m0 1h1m0 1h1m0 2h1m-1 1h1m-1 1h1m5 0h4m-5 1h1m4 0h1m-9 1h2m7 1h1m0 1h1m0 1h1m-55 31h2m2 1h1m5 1h1m4 0h1m23 0h2m17 0h1m-118 1h1m27 0h1m2 0h1m53 0h2m15 0h1m12 0h1m-92 1h1m28 0h1m50 0h1m7 0h1m-110 1h1m17 0h2m28 0h1m56 0h2m-106 1h2m13 0h1m26 0h2m-41 1h2m9 0h1m17 0h5m-45 1h1m13 0h2m6 0h1m-6 1h2m2 0h1m-3 1h2m-21 1h1m-2 2h1m-2 1h1m-2 1h1m-4 4h1m-30 1h1m4 0h1m-7 1h1m6 0h1m21 0h1m-31 1h1m8 0h1m-11 1h1m29 0h1m-33 1h2m11 0h1m17 0h1"/><path stroke="#ff2e00" d="M137 3h2m-2 1h2m-3 1h2m-3 1h3m-3 1h4m-4 1h5m-1 1h2m0 1h1m0 1h1m0 1h1m0 1h1m-1 1h1m7 2h1m-4 1h1m4 0h1m-10 1h1m2 0h1m6 0h1m-1 1h1m0 1h1m-56 34h1m4 0h1m-7 1h1m11 0h1m11 0h1m14 0h3m-101 1h1m31 0h2m24 0h1m27 0h2m7 0h1m8 0h1m14 0h2m-122 1h1m4 0h1m23 0h1m6 0h1m21 0h1m58 0h2m-113 1h1m20 0h1m9 0h1m18 0h1m53 0h2m2 0h1m-108 1h1m16 0h2m12 0h1m13 0h1m-53 1h1m7 0h3m12 0h1m15 0h1m5 0h1m-34 1h2m-13 1h1m13 0h2m5 0h1m-22 1h1m16 0h1m2 0h1m-21 1h1m18 0h1m-21 1h1m-1 1h1m-2 1h1m-2 1h1m-2 1h1m-2 1h1m-2 1h1m-30 2h1m27 0h1m-31 2h1m28 0h1m-31 1h1m8 0h1m-11 1h1m9 0h1m19 0h1"/><path stroke="#ff1f00" d="M139 3h2m-2 1h1m-2 1h2m-2 1h2m-1 1h2m-1 1h1m0 1h1m0 1h1m0 1h1m0 1h1m0 2h1m-1 1h1m-1 1h1m3 0h3m1 0h3m-11 1h1m2 0h1m6 0h2m-11 1h2m8 0h1m-1 1h1m0 2h1m-50 34h4m7 0h1m-77 1h1m71 0h2m9 0h1m17 0h1m-75 1h1m4 0h1m71 0h1m11 0h2m-121 1h1m35 0h1m72 0h1m5 0h2m-117 1h1m5 0h1m19 0h1m10 0h1m15 0h1m-47 1h1m16 0h1m13 0h1m7 0h4m-49 1h1m6 0h4m11 0h1m16 0h3m-30 1h2m8 0h1m-22 1h1m14 0h1m4 0h1m-21 1h1m16 0h1m1 0h1m-21 1h1m-1 1h1m-2 1h1m-2 1h1m-4 3h1m-2 1h1m-29 1h1m1 0h1m-5 1h1m28 0h1m-24 1h1m-8 1h1m28 0h1m-31 1h1"/><path stroke="#ff1200" d="M141 3h1m-2 1h2m-2 1h2m13 0h1m-16 1h2m12 0h4m-17 1h1m12 0h4m-17 1h1m12 0h4m-16 1h1m12 0h3m-15 1h1m0 1h1m0 1h1m-1 1h1m0 1h1m8 0h3m-12 1h12m-12 1h3m7 0h3m-13 1h2m9 0h2m-2 1h2m-2 1h1m-1 1h1m-53 34h1m1 1h1m15 0h1m-82 1h1m71 0h1m2 0h1m7 0h1m11 0h1m5 0h1m-73 1h4m24 0h1m46 0h1m14 0h1m-117 1h1m22 0h1m28 0h1m59 0h3m-66 1h1m-49 1h1m18 0h1m11 0h1m12 0h2m-46 1h2m16 0h1m14 0h1m3 0h2m-43 1h2m6 0h3m-10 1h1m11 0h2m6 0h1m-21 1h1m13 0h2m3 0h1m-21 1h2m-2 1h1m-2 1h1m-2 1h1m-3 1h1m-2 1h1m-30 3h1m26 0h1m-26 1h1m-6 1h1m28 0h1m-24 1h1m-8 1h1m6 0h1m21 0h1"/><path stroke="#ff0600" d="M142 3h1m-1 1h1m11 0h4m-16 1h1m10 0h2m1 0h3m-17 1h1m10 0h1m4 0h2m-18 1h1m10 0h1m4 0h2m-18 1h1m10 0h1m4 0h2m-17 1h1m10 0h1m3 0h2m-16 1h1m10 0h5m-15 1h1m9 0h4m-4 1h4m-13 1h1m7 0h4m-11 1h2m3 0h3m-53 40h1m-2 1h1m18 0h1m-21 1h1m12 0h1m28 0h1m-99 1h1m87 0h3m-66 1h1m5 0h1m22 0h1m49 0h1m11 0h2m-117 1h1m21 0h1m8 0h1m18 0h1m55 0h5m-115 1h1m3 0h1m20 0h1m25 0h1m-51 1h4m19 0h1m12 0h1m6 0h2m-43 1h6m14 0h1m15 0h2m-38 1h3m5 0h3m-11 1h1m11 0h1m-13 1h1m14 0h3m-19 1h1m-2 1h1m-2 1h1m-3 1h2m-3 1h1m-2 1h1m-2 1h1m-31 2h1m28 0h1m-31 2h1m28 0h1m-30 1h1m28 0h1"/><path stroke="#fc0000" d="M143 3h2m7 0h8m-17 1h1m8 0h2m4 0h2m-17 1h1m8 0h1m6 0h1m-17 1h1m8 0h1m-10 1h1m8 0h1m-10 1h1m0 1h1m8 0h1m-9 1h1m8 0h1m-1 1h1m-9 1h1m6 0h2m-8 1h1m4 0h2m-5 1h3m-49 40h2m1 1h1m14 0h2m-11 1h1m5 0h1m5 0h1m13 0h1m2 0h1m-101 1h1m84 0h3m2 0h1m3 0h1m9 0h1m-76 1h1m3 0h1m24 0h1m47 0h1m-107 1h1m26 0h1m6 0h1m20 0h2m52 0h1m5 0h6m-118 1h1m31 0h1m16 0h1m-17 1h1m9 0h4m-13 1h2m2 0h2m-37 1h5m12 0h1m-20 1h2m7 0h2m7 0h1m-19 1h1m11 0h2m3 0h1m-19 1h1m-2 1h2m-3 1h2m-3 1h1m-3 1h1m-2 1h1m-32 3h1m1 0h1m-4 1h1m3 0h1m24 0h1m-26 2h1"/><path stroke="#f70000" d="M145 3h7m-8 1h1m5 0h2m-8 1h1m5 0h2m-1 1h1m-1 1h1m-8 1h1m7 0h1m-8 1h1m6 0h1m-7 1h1m6 0h1m-8 1h1m6 0h1m-7 1h1m4 0h1m-5 1h4m-45 43h5m27 0h2m-98 1h1m56 0h1m13 0h4m7 0h1m3 0h2m5 0h1m7 0h1m-104 1h1m2 0h1m26 0h3m-30 1h1m53 0h1m50 0h1m-108 1h2m23 0h1m7 0h1m18 0h1m-29 1h1m9 0h1m14 0h1m-27 1h1m11 0h1m6 0h2m-9 1h5m-35 1h7m-8 1h1m9 0h1m6 0h1m-19 1h1m13 0h3m-17 1h1m-2 1h1m-3 1h2m-4 1h2m-3 1h1m-3 1h1m-2 1h1m-29 1h1m-3 2h1m3 0h1m24 0h1m-30 1h1m28 0h1"/><path stroke="#ef0004" d="M145 4h5m-5 1h1m3 0h1m-6 1h1m4 0h2m-7 1h1m5 0h1m-6 1h1m5 0h1m-6 1h1m4 0h1m-5 1h1m4 0h1m-6 1h1m4 0h1m-5 1h2m1 0h1m-50 43h1m2 0h1m-5 1h1m17 0h1m3 0h1m-11 1h1m29 0h1m-44 1h1m45 0h1m-105 1h2m25 0h1m4 0h1m24 0h1m48 0h1m-54 1h1m56 0h10m-95 1h1m7 0h1m16 0h1m-27 1h1m9 0h1m9 0h3m-24 1h1m10 0h1m5 0h2m-20 1h1m12 0h4m-34 1h2m4 0h3m-10 1h2m10 0h1m3 0h1m-17 1h1m-2 1h2m-3 1h2m-4 1h3m-5 1h2m-4 1h1m-2 1h1m-2 1h1m-30 1h1m1 0h1m26 0h1m-1 1h1m-30 1h3m26 0h1"/><path stroke="#e5000c" d="M146 5h3m-4 1h4m-4 1h2m1 0h2m-4 1h5m-4 1h4m-3 1h1m1 0h2m-4 1h4m-2 1h1m-47 43h1m1 1h1m13 0h1m-79 1h1m58 0h1m6 0h2m2 0h1m5 0h1m5 0h1m12 0h1m4 0h1m-101 1h2m72 0h1m17 0h1m10 0h1m-73 1h1m26 0h1m46 0h1m-80 1h1m5 0h1m21 0h2m53 0h1m-59 1h1m-19 1h1m13 0h2m-16 1h1m8 0h1m-20 1h1m10 0h1m4 0h2m-34 1h4m11 0h1m11 0h4m-32 1h2m6 0h2m5 0h1m-17 1h1m-1 1h1m-2 1h1m-2 1h1m-4 1h3m-6 1h3m-4 1h1m-2 1h1m-30 1h1m-2 1h3"/><path stroke="#da0016" d="M147 7h1m1 3h1m-47 45h1m-2 1h1m2 0h1m15 0h2m-17 1h2m2 0h2m7 0h1m3 0h1m17 0h1m-41 1h1m12 0h2m1 0h1m7 0h3m5 0h1m1 0h1m-66 1h3m28 0h1m-33 1h1m28 0h2m50 0h1m-83 1h1m5 0h1m19 0h1m60 0h6m-94 1h1m23 0h1m-26 1h1m18 0h3m-13 1h1m7 0h1m-9 1h1m4 0h2m-32 1h6m20 0h4m-32 1h2m8 0h5m-15 1h1m-2 1h1m-2 1h1m-2 1h2m-5 1h3m-6 1h4m-5 1h1m-2 1h1m-1 1h1m-1 1h1"/><path stroke="#ce0022" d="M103 56h2m-3 1h1m2 0h1m32 0h3m-39 1h1m4 0h2m4 0h1m4 0h1m5 0h1m3 0h1m3 0h1m3 0h1m7 0h1m1 1h1m-74 1h1m26 0h2m46 0h2m-55 1h1m57 0h2m-81 1h1m17 0h1m67 0h1m-94 1h1m6 0h1m13 0h3m-25 1h1m7 0h1m9 0h2m-21 1h1m16 0h2m-20 1h1m10 0h1m4 0h1m-31 1h2m5 0h1m5 0h1m12 0h3m-30 1h1m-2 1h1m-2 1h2m-2 1h1m-3 1h2m-4 1h2m-6 1h4m-5 1h3m-3 1h3m-3 1h3"/><path stroke="#c0002f" d="M103 57h2m15 0h3m-20 1h4m2 0h4m6 0h1m3 0h1m5 0h3m11 0h1m-42 1h2m10 0h5m5 0h2m-56 1h1m1 0h1m29 0h1m-34 1h1m3 0h1m22 0h5m50 0h2m-85 1h1m24 0h1m63 0h3m-69 1h1m-6 1h2m-22 1h1m7 0h1m9 0h1m-20 1h1m8 0h1m6 0h2m-31 1h5m7 0h1m10 0h1m3 0h2m-31 1h1m8 0h4m13 0h3m-30 1h1m-2 2h1m-2 1h1m-3 1h2m-4 1h2m-4 1h3m-3 1h2m-2 1h1"/><path stroke="#b0003d" d="M120 58h3m14 0h1m4 0h1m-39 1h10m5 0h1m3 0h1m2 0h1m7 0h2m9 0h1m-75 1h1m31 0h2m42 0h1m-47 1h2m47 0h1m-82 1h1m3 0h1m20 0h1m58 0h4m-89 1h1m4 0h1m18 0h1m66 0h1m-93 1h1m5 0h1m14 0h2m-17 1h1m11 0h2m-4 1h2m-20 1h1m8 0h1m6 0h2m-32 1h2m4 0h2m4 0h1m11 0h1m3 0h2m-31 1h1m-2 1h1m-1 1h1m-2 1h1m-2 1h1m-3 1h2m-3 1h2m-3 1h2m-3 1h2"/><path stroke="#a10049" d="M138 58h4m-22 1h3m4 0h1m5 0h1m2 0h1m7 0h1m-40 1h5m4 0h12m20 0h1m-77 1h3m30 0h3m42 0h2m-80 1h1m1 0h1m22 0h8m49 0h1m-84 1h1m2 0h1m82 0h4m-91 1h1m3 0h1m17 0h2m67 0h1m-93 1h1m19 0h2m-23 1h1m6 0h1m11 0h1m-13 1h1m9 0h2m-32 1h4m7 0h1m9 0h1m6 0h2m-32 1h1m7 0h5m11 0h5m-30 1h1m-2 2h1m-2 1h1m-2 1h1m-2 1h1m-2 1h1m-2 1h1"/><path stroke="#930053" d="M128 59h1m3 0h1m4 0h1m-28 1h4m12 0h1m7 0h3m8 0h1m-40 1h4m8 0h7m22 0h1m-77 1h1m31 0h3m45 0h1m-82 1h2m21 0h1m5 0h4m50 0h2m-86 1h1m1 0h1m20 0h1m63 0h3m-91 1h1m3 0h1m16 0h2m68 0h1m-93 1h1m4 0h1m13 0h2m-22 1h1m18 0h1m-21 1h2m6 0h1m9 0h2m-33 1h1m4 0h2m5 0h2m8 0h1m5 0h3m-32 1h1m8 0h3m12 0h5m-30 1h1m-1 1h1m-2 1h1m-2 1h2m-3 1h2m-3 1h2m-3 1h2"/><path stroke="#84005e" d="M129 59h1m1 0h1m6 0h2m2 0h2m-17 1h1m5 0h1m3 0h1m-28 1h8m7 0h2m19 0h1m-41 1h4m9 0h6m25 0h1m-57 1h1m2 0h2m4 0h4m45 0h1m-83 1h1m22 0h1m6 0h3m51 0h2m-87 1h3m19 0h1m64 0h3m-91 1h1m2 0h1m16 0h2m67 0h2m-92 1h1m4 0h1m13 0h2m70 0h1m-92 1h1m4 0h1m12 0h1m-33 1h4m9 0h1m5 0h2m9 0h2m-33 1h1m5 0h2m3 0h3m7 0h2m5 0h3m-32 1h1m8 0h3m11 0h6m-30 2h1m-1 1h1m-2 1h1m-2 1h1m-2 1h2"/><path stroke="#74006a" d="M130 59h1m9 0h2m-4 1h1m5 0h1m-11 1h4m7 0h1m-36 1h4m2 0h3m6 0h1m21 0h3m-55 1h2m10 0h4m9 0h4m27 0h1m-58 1h1m3 0h2m3 0h5m45 0h1m-62 1h1m7 0h4m50 0h2m-87 1h2m19 0h2m62 0h3m-89 1h1m2 0h1m16 0h1m66 0h3m-90 1h1m2 0h1m14 0h2m68 0h3m-92 1h2m2 0h1m13 0h2m70 0h1m-105 1h1m3 0h1m8 0h2m3 0h2m10 0h3m-34 1h1m5 0h2m3 0h4m5 0h2m6 0h4m-33 1h1m8 0h4m9 0h8m-30 1h1m23 0h1m-25 1h1m-2 1h1m-2 1h2m-2 1h1"/><path stroke="#640078" d="M128 60h1m3 0h1m6 0h2m-14 1h1m5 0h1m4 0h1m-25 1h2m10 0h1m7 0h3m9 0h1m-36 1h2m4 0h3m4 0h2m24 0h1m-56 1h3m10 0h3m9 0h4m28 0h1m-60 1h2m2 0h3m4 0h5m43 0h2m-62 1h2m5 0h7m47 0h1m-85 1h2m18 0h2m62 0h2m-86 1h2m17 0h1m65 0h2m-87 1h2m16 0h1m66 0h3m-103 1h3m11 0h3m15 0h2m67 0h3m-101 1h1m9 0h5m12 0h3m69 0h2m-106 1h1m5 0h2m4 0h9m8 0h5m-34 1h1m6 0h7m5 0h4m1 0h6m-30 1h1m21 0h4m-27 1h2m-2 1h2m-3 1h2"/><path stroke="#570086" d="M129 60h1m1 0h1m9 0h3m-16 1h1m3 0h1m6 0h2m3 0h1m-18 1h1m5 0h1m3 0h2m6 0h1m-33 1h4m9 0h2m6 0h3m9 0h4m-39 1h3m3 0h3m4 0h3m24 0h1m-57 1h2m12 0h3m7 0h6m26 0h1m-58 1h5m7 0h5m40 0h2m-62 1h18m42 0h2m-64 1h15m47 0h3m-66 1h2m4 0h5m53 0h2m-66 1h1m6 0h2m55 0h3m-102 1h4m30 0h2m6 0h2m56 0h3m-103 1h1m3 0h1m28 0h4m4 0h3m57 0h3m-104 1h1m3 0h2m7 0h5m11 0h8m4 0h3m58 0h2m-104 1h2m2 0h17m4 0h12m5 0h1m60 0h1m-104 1h2m4 0h4m9 0h8m-27 1h2m-3 1h3"/><path stroke="#550690" d="M130 60h1m-2 1h1m1 0h1m9 0h3m-16 1h1m3 0h1m6 0h2m3 0h1m-17 1h1m3 0h2m3 0h2m5 0h2m-32 1h3m10 0h2m3 0h5m7 0h7m-39 1h3m1 0h3m6 0h4m4 0h2m9 0h7m-40 1h3m4 0h9m18 0h6m-42 1h4m6 0h5m21 0h6m-47 1h8m35 0h4m-61 1h4m5 0h12m29 0h2m6 0h4m-63 1h6m2 0h14m27 0h5m6 0h3m-63 1h6m2 0h4m4 0h6m26 0h6m7 0h3m-99 1h3m33 0h4m3 0h3m6 0h6m25 0h6m7 0h4m-100 1h3m33 0h4m3 0h3m6 0h6m25 0h6m8 0h4m-100 1h2m33 0h5m1 0h3m7 0h6m26 0h4m10 0h4m-101 1h4m4 0h9m8 0h18m9 0h5m41 0h4m-102 1h42m11 0h3m43 0h3m-102 1h7m56 0h2m35 0h2m-40 1h4m-5 1h6m-6 1h6m-5 1h4m-3 1h2m71 9h2m-5 1h6m-6 1h6"/><path stroke="#601498" d="M130 61h1m-2 1h3m9 0h3m-15 1h3m7 0h5m-15 1h3m5 0h7m-29 1h1m13 0h4m2 0h3m2 0h4m-30 1h4m9 0h11m2 0h5m-32 1h6m5 0h21m-33 1h19m1 0h15m-36 1h18m5 0h6m2 0h6m-37 1h4m2 0h10m7 0h4m5 0h6m-48 1h4m6 0h4m4 0h6m9 0h3m6 0h7m-50 1h6m6 0h3m14 0h3m1 0h4m6 0h7m-50 1h6m6 0h3m12 0h10m6 0h8m-52 1h7m6 0h10m4 0h12m4 0h10m-54 1h9m5 0h12m1 0h28m-56 1h4m4 0h3m3 0h34m2 0h7m-92 1h37m7 0h12m2 0h25m3 0h7m-46 1h8m4 0h24m4 0h7m-43 1h3m6 0h23m5 0h6m-42 1h2m6 0h24m5 0h5m-41 1h2m4 0h5m1 0h19m7 0h3m-41 1h3m2 0h4m6 0h16m7 0h3m-40 1h7m10 0h13m7 0h3m-37 1h2m13 0h11m8 0h3m-21 1h10m7 0h4m-20 1h9m7 0h4m-18 1h6m8 0h4m-4 1h4m-3 1h3m-4 1h4m-5 1h5m-22 1h2m13 0h6m-21 1h2m9 0h11m-22 1h2m5 0h16m31 0h5m-53 1h17m24 0h6m1 0h4m-52 1h16m23 0h8m4 0h3m-53 1h13m23 0h11m1 0h7m-50 1h6m23 0h21m-49 1h6m3 0h2m6 0h14m3 0h15m-49 1h29m-29 1h28m-28 1h26m-31 1h29m-30 1h28m-28 1h2m3 0h21m-19 1h17m-26 1h1m12 0h4m-17 1h1"/><path stroke="#7027a0" d="M138 65h2m-2 1h2m-9 2h1m-3 1h5m-19 1h2m10 0h7m-19 1h4m6 0h9m-19 1h14m3 0h1m-18 1h12m-5 1h4m-2 1h1m-24 1h4m40 0h2m-48 1h7m39 0h3m-3 1h4m-38 1h2m32 0h5m-39 1h3m32 0h5m-37 1h1m11 0h1m19 0h7m-29 1h6m16 0h7m-38 1h1m7 0h10m13 0h7m-38 1h4m2 0h13m11 0h8m-38 1h20m10 0h7m-35 1h19m9 0h7m-33 1h19m6 0h8m-30 1h30m-29 1h30m-28 1h27m-26 1h25m-24 1h7m2 0h13m-22 1h7m2 0h9m-17 1h6m2 0h5m-11 1h10m-7 1h7m-5 1h6m-4 1h9m-7 1h8m31 0h3m-39 1h5m29 0h18m-51 1h4m28 0h16m-48 1h4m26 0h15m-17 1h14m-16 1h14m-40 1h3m21 0h11m-37 1h7m17 0h10m-37 1h1m1 0h12m4 0h15m-34 1h2m1 0h24m-28 1h7m3 0h12m-22 1h7m4 0h9m-19 1h5m5 0h1m-10 1h3"/><path stroke="#803da8" d="M115 86h2m-1 1h3m-2 1h5m-4 1h5m-4 1h6m-3 1h4m-1 1h2m-1 1h1m16 16h3m-11 1h1m7 0h4m-12 1h2m5 0h5m-12 1h3m-2 1h2"/></g></g></g><use href="#o"/><path d="M731.5 37.0h0M776.8 37.0h0M587.2 39.5h0M674.0 41.5h0M752.3 59.0h0M597.2 65.3h0M520.9 82.6h0M692.2 93.8h0M730.3 96.6h0M565.1 105.1h0M788.6 105.8h0M474.1 106.6h0M715.3 114.6h0M661.0 117.1h0M509.1 120.3h0M436.5 130.6h0M748.5 141.6h0M570.4 146.4h0M686.5 146.4h0M522.1 152.1h0M782.3 157.9h0M638.9 164.1h0M512.1 166.6h0M462.1 167.9h0M684.7 168.4h0M596.7 173.9h0M545.4 177.1h0M739.8 184.6h0M489.6 187.9h0M575.4 198.9h0M509.6 202.7h0M781.8 204.7h0M653.0 207.2h0M409.5 209.2h0M760.5 221.4h0M505.8 222.2h0M462.8 223.4h0M148.4 224.7h0M596.7 230.9h0M311.7 231.4h0M374.8 234.7h0M699.7 234.7h0M200.4 235.2h0M241.4 237.2h0M763.5 247.9h0M539.1 249.2h0M419.5 253.9h0M633.9 254.7h0M476.3 255.4h0M592.9 257.9h0M221.4 259.7h0M728.0 259.7h0M334.0 260.4h0M146.4 262.2h0M280.2 262.2h0M677.2 263.9h0M759.0 274.7h0M517.9 276.0h0M378.5 276.5h0M652.7 276.7h0M255.4 279.2h0M607.2 280.5h0M692.2 285.5h0M461.6 286.5h0M558.4 286.5h0M212.2 288.5h0M411.5 291.0h0M313.5 291.5h0M162.1 296.5h0M652.7 301.0h0M357.8 303.0h0M716.0 303.5h0M536.6 304.7h0M115.8 310.5h0M430.8 316.0h0M577.9 318.5h0M789.1 318.5h0M477.8 319.0h0M750.5 319.7h0M304.2 320.2h0M243.4 323.0h0M630.2 324.7h0M693.5 325.5h0M74.6 331.5h0M187.1 331.5h0M383.0 332.2h0M747.3 332.2h0M349.8 333.0h0M657.7 341.8h0M451.3 343.0h0M232.2 352.3h0M572.9 352.8h0M514.6 354.3h0M274.2 356.0h0M617.7 359.8h0M699.7 360.5h0M130.1 363.5h0M769.8 364.8h0M375.5 367.8h0M188.9 370.3h0M547.1 372.8h0M480.8 374.0h0M328.0 376.0h0M43.8 377.3h0M444.5 377.3h0M727.3 380.6h0M651.5 383.7h0M594.2 401.7h0M698.5 404.9h0M763.5 407.9h0M642.9 411.2h0M719.8 436.9h0M763.0 447.9h0M741.0 463.2h0M666.7 471.2h0M702.2 484.5h0M895.4 495.5h0M816.6 509.5h0M726.5 515.0h0M714.8 528.3h0M737.3 532.0h0M771.5 541.3h0M719.8 544.5h0M695.2 547.5h0" stroke="#808080" stroke-width="27.5" stroke-linecap="round" fill="none"/><g font-size="21" font-weight="bold" text-anchor="middle"><text x="731.5" y="44.3">79</text><text x="776.8" y="44.3">73</text><text x="587.2" y="46.8">37</text><text x="674.0" y="48.8">71</text><text x="752.3" y="66.3">79</text><text x="597.2" y="72.6">56</text><text x="520.9" y="89.9">53</text><text x="692.2" y="101.1">59</text><text x="730.3" y="103.9">71</text><text x="565.1" y="112.4">43</text><text x="788.6" y="113.1">73</text><text x="474.1" y="113.9">48</text><text x="715.3" y="121.9">48</text><text x="661.0" y="124.4">48</text><text x="509.1" y="127.6">43</text><text x="436.5" y="137.9">31</text><text x="748.5" y="148.9">31</text><text x="570.4" y="153.7">2</text><text x="686.5" y="153.7">13</text><text x="522.1" y="159.4">24</text><text x="782.3" y="165.2">57</text><text x="638.9" y="171.4">10</text><text x="512.1" y="173.9">12</text><text x="462.1" y="175.2">13</text><text x="684.7" y="175.7">34</text><text x="596.7" y="181.2">13</text><text x="545.4" y="184.4">41</text><text x="739.8" y="191.9">64</text><text x="489.6" y="195.2">10</text><text x="575.4" y="206.2">6</text><text x="509.6" y="210.0">13</text><text x="781.8" y="212.0">59</text><text x="653.0" y="214.5">35</text><text x="409.5" y="216.5">15</text><text x="760.5" y="228.7">57</text><text x="505.8" y="229.5">28</text><text x="462.8" y="230.7">34</text><text x="148.4" y="232.0">35</text><text x="596.7" y="238.2">33</text><text x="311.7" y="238.7">35</text><text x="374.8" y="242.0">35</text><text x="699.7" y="242.0">40</text><text x="200.4" y="242.5">40</text><text x="241.4" y="244.5">35</text><text x="763.5" y="255.2">48</text><text x="539.1" y="256.5">48</text><text x="419.5" y="261.2">46</text><text x="633.9" y="262.0">48</text><text x="476.3" y="262.7">46</text><text x="592.9" y="265.2">48</text><text x="221.4" y="267.0">46</text><text x="728.0" y="267.0">59</text><text x="334.0" y="267.7">56</text><text x="146.4" y="269.5">31</text><text x="280.2" y="269.5">43</text><text x="677.2" y="271.2">46</text><text x="759.0" y="282.0">57</text><text x="517.9" y="283.3">79</text><text x="378.5" y="283.8">68</text><text x="652.7" y="284.0">64</text><text x="255.4" y="286.5">64</text><text x="607.2" y="287.8">79</text><text x="692.2" y="292.8">79</text><text x="461.6" y="293.8">64</text><text x="558.4" y="293.8">79</text><text x="212.2" y="295.8">79</text><text x="411.5" y="298.3">64</text><text x="313.5" y="298.8">68</text><text x="162.1" y="303.8">40</text><text x="652.7" y="308.3">89</text><text x="357.8" y="310.3">83</text><text x="716.0" y="310.8">89</text><text x="536.6" y="312.0">84</text><text x="115.8" y="317.8">35</text><text x="430.8" y="323.3">79</text><text x="577.9" y="325.8">89</text><text x="789.1" y="325.8">84</text><text x="477.8" y="326.3">87</text><text x="750.5" y="327.0">89</text><text x="304.2" y="327.5">71</text><text x="243.4" y="330.3">77</text><text x="630.2" y="332.0">89</text><text x="693.5" y="332.8">91</text><text x="74.6" y="338.8">43</text><text x="187.1" y="338.8">68</text><text x="383.0" y="339.5">79</text><text x="747.3" y="339.5">90</text><text x="349.8" y="340.3">87</text><text x="657.7" y="349.1">91</text><text x="451.3" y="350.3">89</text><text x="232.2" y="359.6">79</text><text x="572.9" y="360.1">91</text><text x="514.6" y="361.6">90</text><text x="274.2" y="363.3">89</text><text x="617.7" y="367.1">91</text><text x="699.7" y="367.8">89</text><text x="130.1" y="370.8">53</text><text x="769.8" y="372.1">89</text><text x="375.5" y="375.1">87</text><text x="188.9" y="377.6">79</text><text x="547.1" y="380.1">89</text><text x="480.8" y="381.3">89</text><text x="328.0" y="383.3">89</text><text x="43.8" y="384.6">79</text><text x="444.5" y="384.6">89</text><text x="727.3" y="387.9">91</text><text x="651.5" y="391.0">90</text><text x="594.2" y="409.0">89</text><text x="698.5" y="412.2">90</text><text x="763.5" y="415.2">91</text><text x="642.9" y="418.5">91</text><text x="719.8" y="444.2">91</text><text x="763.0" y="455.2">91</text><text x="741.0" y="470.5">91</text><text x="666.7" y="478.5">91</text><text x="702.2" y="491.8">91</text><text x="895.4" y="502.8">91</text><text x="816.6" y="516.8">90</text><text x="726.5" y="522.3">91</text><text x="714.8" y="535.6">91</text><text x="737.3" y="539.3">91</text><text x="771.5" y="548.6">91</text><text x="719.8" y="551.8">92</text><text x="695.2" y="554.8">91</text></g><text transform="translate(10.4,537.5) scale(0.9722,1)" font-size="64">24 h Avg Irradiance</text><path d="M714.7 565.5v-4.5" stroke="#000" stroke-width="1.5"/></g>
<g transform="translate(9.5,1410.5)"><rect x="0" y="0" width="976" height="565.5" fill="#fff" stroke="#222" stroke-width="1.5"/><g clip-path="url(#c)"><g filter="url(#b)"><g transform="scale(5) translate(0,.5)" stroke-width="1.25" fill="none"><path stroke="#0d3fff" d="M144 19h1m-2 1h2m-3 1h3"/><path stroke="#0f55ff" d="M143 19h1m1 0h1m-4 1h1m2 0h1m-5 1h1m0 1h2"/><path stroke="#0d69ff" d="M143 18h2m-3 1h1m-2 1h1m3 1h1m-5 1h1m2 0h1m-3 1h2"/><path stroke="#087cff" d="M142 18h1m2 0h1m-5 1h1m-2 1h1m-1 1h1m-1 1h1m0 1h1"/><path stroke="#038fff" d="M140 19h1m5 0h1m-8 1h1m6 0h1m-8 1h1m-1 1h1m5 0h1m-6 1h1m3 0h1m-4 1h2"/><path stroke="#00a2ff" d="M143 17h2m-5 1h2m4 0h1m-8 1h1m-2 2h1m-1 1h1m0 1h1m0 1h1m2 0h1"/><path stroke="#00b6ff" d="M141 17h2m2 0h1m-7 1h1m-2 1h1m-1 1h1m-2 1h1m8 0h1m-10 1h1m0 1h1m-1 1h2m4 0h1m-5 1h3m-23 9h1m8 5h2m-2 1h2"/><path stroke="#00caff" d="M139 17h2m-3 1h1m-2 1h1m-1 1h1m-2 1h1m0 2h1m7 0h1m-9 1h1m0 1h2m3 0h1m-18 5h4m-6 1h6m-10 1h10m-11 1h11m-11 1h1m1 0h9m-11 1h4m2 0h5m-2 1h2m-2 1h3m-3 1h3m-3 1h1m2 0h1m-4 1h1m2 0h1m-2 1h1"/><path stroke="#00e0ff" d="M141 16h4m-8 1h2m7 0h1m-11 1h2m-2 1h1m-1 1h1m-2 1h1m0 1h1m9 0h1m-11 1h1m-1 1h1m-1 1h2m0 1h5m-17 2h5m-7 1h8m-10 1h4m4 0h2m-13 1h5m6 0h2m-14 1h2m10 0h2m-14 1h1m11 0h1m-13 1h1m11 0h1m-13 1h1m4 0h2m5 0h1m-12 1h9m2 0h1m-5 1h2m3 0h1m-5 1h1m3 0h1m-5 1h1m1 2h1m1 0h1"/><path stroke="#00f4ff" d="M138 16h3m4 0h1m-10 1h1m-2 1h1m-1 1h1m11 0h1m-13 1h1m11 0h1m-13 2h1m-1 1h1m-1 1h1m9 0h1m-12 1h2m8 0h1m-11 1h4m5 0h1m-19 1h9m5 0h2m-17 1h2m5 0h3m-12 1h2m8 0h2m-16 1h4m10 0h1m-16 1h2m13 0h1m-16 1h1m14 0h1m-16 1h1m13 0h2m-16 1h1m13 0h1m-15 1h1m13 0h1m-14 1h1m12 0h1m-14 1h8m0 1h1m5 0h1m-7 1h1m5 0h1m-6 1h1m4 0h1m-5 1h1"/><path stroke="#00fbf3" d="M138 15h5m-7 1h2m-3 1h1m-2 1h1m12 0h1m-14 1h1m-1 1h1m-1 1h1m12 0h1m-14 1h1m-2 1h2m11 0h1m-14 1h2m-8 1h7m-9 1h9m-11 1h2m9 0h5m2 0h2m-22 1h3m10 0h3m-22 1h7m12 0h1m-19 1h2m15 0h2m-19 1h1m16 0h1m-1 1h1m-1 1h1m-33 1h2m29 0h1m-32 1h2m29 0h1m-16 1h1m14 0h1m-16 1h1m14 0h1m-16 1h9m-1 1h1m0 1h1m0 1h1m1 1h2"/><path stroke="#00f4dc" d="M136 15h2m5 0h2m-11 1h2m10 0h1m-13 1h1m-2 1h1m-1 1h1m-2 1h2m-2 1h2m-2 1h2m-2 1h1m-7 1h7m-9 1h3m18 0h1m-23 1h2m19 0h1m-24 1h2m20 0h1m-29 1h6m16 0h5m-28 1h1m20 0h2m-22 1h1m19 0h1m-21 1h1m18 0h1m-19 1h1m17 0h1m-19 1h1m-1 1h1m16 0h1m-18 1h1m16 0h1m-33 1h1m14 0h1m16 0h1m-18 1h1m16 0h1m-18 1h1m16 0h1m-17 1h3m4 0h1m8 0h1m-2 2h1m-5 1h1m2 0h1"/><path stroke="#00edc8" d="M136 14h6m-8 1h2m9 0h1m-13 1h1m-2 1h2m13 0h1m-16 1h1m-2 1h2m-2 1h1m-2 1h2m-4 1h4m15 0h1m-22 1h6m-8 1h2m20 0h1m-24 1h1m-3 1h2m-7 1h5m23 0h1m-31 1h1m27 0h1m-6 1h5m-28 1h1m21 0h2m-3 1h1m-21 1h1m19 0h1m-35 1h2m31 0h1m-35 1h1m33 0h1m-35 1h1m33 0h1m-35 1h1m1 0h1m-2 1h1m14 2h1m3 0h4m-7 1h4m3 0h2m7 0h1m-8 1h1m-8 2h1"/><path stroke="#00e8b8" d="M136 13h5m-7 1h2m6 0h2m-11 1h1m-2 1h1m-2 1h1m-2 1h2m-2 1h1m-2 1h2m-4 1h3m-4 1h2m-4 1h2m-3 1h1m-3 1h2m23 0h1m-29 1h3m24 0h1m-32 1h2m27 1h1m-31 1h1m28 0h1m-5 1h3m-27 1h1m21 0h2m-2 1h1m-22 1h1m19 0h1m-1 1h1m-21 2h1m18 0h1m-35 1h1m1 0h1m12 0h1m18 0h1m-20 1h1m18 0h1m-20 1h1m0 1h1m4 0h3m-6 1h4m3 0h1m7 0h1m-16 1h4m5 0h1m4 0h1m-13 1h2m-3 1h2"/><path stroke="#00e3a8" d="M136 12h3m-5 1h2m5 0h2m-10 1h1m10 0h1m-13 1h1m13 0h1m-16 1h1m15 0h1m-18 1h1m-2 1h1m-2 1h2m-3 1h2m-3 1h1m-3 1h2m-3 1h1m23 0h1m-27 1h2m-4 1h2m-6 1h3m27 1h1m-33 1h1m30 0h1m-2 1h1m-31 1h1m27 0h2m-5 1h3m-4 1h2m-3 1h1m-34 1h1m11 0h1m20 0h1m-34 1h1m11 0h1m19 0h1m-1 1h1m-1 1h1m-35 1h1m32 1h1m-20 1h1m1 1h1m4 0h3m-3 1h1m3 0h1m-9 1h1m9 0h3m-13 1h1m2 0h1"/><path stroke="#00dc98" d="M135 11h3m-4 1h2m3 0h3m-10 1h2m9 0h1m-13 1h2m12 0h1m-16 1h2m-2 1h1m-2 1h1m-2 1h1m-2 1h1m20 0h1m-23 1h1m21 0h1m-25 1h2m-3 1h1m-3 1h2m-4 1h2m26 0h1m-31 1h2m-5 1h1m31 0h1m-34 1h1m31 1h1m-2 1h1m-2 1h1m-3 1h2m-29 1h1m24 0h2m-41 1h1m36 0h2m-2 1h1m-2 1h1m-34 1h1m32 0h1m-35 2h1m11 0h1m20 0h1m-22 1h1m19 1h1m-19 1h1m0 1h1m5 0h3m-4 1h1m4 0h1m3 0h1m-13 2h2"/><path stroke="#00d488" d="M135 10h3m-5 1h2m3 0h3m-9 1h2m8 0h2m-13 1h1m12 0h1m-15 1h1m15 0h1m-18 1h1m-1 1h1m-2 1h1m-2 1h1m20 0h1m-23 1h1m-3 1h2m-3 1h1m24 0h1m-28 1h2m-3 1h1m-3 1h1m-4 1h2m30 0h1m-2 2h1m-2 2h1m-2 1h1m-32 1h1m29 0h1m-3 1h2m-29 1h1m24 0h2m-3 1h1m-40 1h1m37 0h1m-39 1h1m37 0h1m-35 1h1m10 0h1m21 0h1m-37 1h1m34 1h1m-2 2h1m-2 1h1m-17 1h1m5 0h1m2 0h1m-5 1h1m-2 1h1"/><path stroke="#00cd77" d="M134 9h3m-4 1h2m3 0h3m-9 1h1m8 0h2m-12 1h1m12 0h1m-15 1h1m14 0h1m-17 1h1m-2 1h1m18 0h1m-20 1h1m-2 1h1m20 0h1m-23 1h1m-2 1h1m-3 1h1m-2 1h1m-3 1h1m27 0h1m-31 1h2m-4 1h2m-4 1h1m-2 1h1m33 0h1m-36 2h1m33 0h1m-35 1h1m32 1h1m-2 1h1m-2 1h1m-41 1h1m37 0h2m-29 1h1m24 0h2m-27 1h1m23 0h1m-25 1h1m-16 1h1m37 0h1m-2 1h1m-23 2h1m20 0h1m-21 1h1m0 1h1m7 1h2m6 0h1m-10 1h1m-6 1h1"/><path stroke="#00c664" d="M134 8h3m-4 1h1m3 0h3m-8 1h1m8 0h2m-12 1h1m11 0h2m-15 1h1m14 0h1m-17 1h1m16 0h1m-19 1h1m18 0h1m-21 2h1m-2 1h1m-2 1h1m-2 1h1m-3 1h1m-3 1h2m-4 1h2m-4 1h2m30 0h1m-34 1h1m-3 1h1m-2 2h1m34 0h1m-2 2h1m-35 1h1m32 1h1m-45 1h1m11 0h1m30 0h1m-2 1h1m-45 1h1m41 0h2m-4 1h2m-3 1h2m-2 1h1m-36 1h1m33 0h1m-37 1h2m33 0h1m-2 2h1m-2 1h1m-18 2h1m6 0h1m1 0h5m-9 1h1"/><path stroke="#00bf51" d="M133 8h1m3 0h2m-7 1h1m7 0h3m-12 1h1m11 0h2m-15 1h1m14 0h1m-17 1h1m16 0h1m-19 1h1m18 0h1m-21 1h1m-1 1h1m-2 1h1m21 0h1m-24 1h1m-2 1h1m-2 1h1m-3 1h1m-3 1h1m-3 1h1m-3 1h1m-2 1h1m33 0h1m-37 2h1m34 2h1m-2 2h1m-35 1h1m-11 1h1m42 0h1m-2 1h2m-3 1h2m-4 1h1m-2 1h1m-42 2h1m13 0h1m24 0h1m-2 1h1m-2 1h1m-21 3h1m16 0h1m-9 1h1m5 0h1m-9 1h1"/><path stroke="#00b93e" d="M133 7h5m-6 1h1m6 0h3m-12 1h2m11 0h3m-16 1h1m14 0h1m-17 1h1m16 0h1m-19 1h1m18 0h1m-21 1h1m-2 2h1m21 0h1m-24 1h1m-2 1h1m-2 1h1m-2 1h1m-3 1h1m-4 1h2m-4 1h2m-3 1h1m-2 1h1m-2 1h1m35 0h1m-1 1h1m-1 1h1m-38 1h1m35 1h1m-1 1h1m-2 1h1m-47 1h1m45 0h1m-48 1h1m13 0h1m32 0h1m-2 1h2m-43 1h1m37 0h4m-5 1h1m-29 1h1m25 0h1m-40 2h1m12 0h1m23 1h1m-24 1h1m21 0h1m-22 1h1m19 0h1m-12 3h2m-7 1h3m-85 19h1m-1 1h1m16 4h1m-1 1h1"/><path stroke="#00b32a" d="M134 6h3m-5 1h1m5 0h2m-10 1h2m10 0h4m-17 1h1m-1 1h1m16 0h1m-19 1h1m18 0h1m-21 1h1m20 1h1m-23 1h1m21 0h1m-24 1h1m-4 3h1m-2 1h1m27 0h1m-32 1h2m29 0h1m-35 1h2m-3 1h1m-2 1h1m-3 4h1m36 1h1m-38 1h1m35 2h1m-44 3h1m8 0h1m-1 1h1m32 0h1m-49 1h1m5 0h1m8 0h1m28 0h4m-48 1h1m41 0h1m-2 1h1m-37 1h1m34 0h1m-26 1h1m23 1h1m-2 1h1m-3 1h1m-3 1h1m-16 1h1m8 0h3m-7 1h1m-68 24h1m-1 1h1"/><path stroke="#06b018" d="M132 6h2m3 0h2m-9 1h2m8 0h5m-16 1h1m-2 1h1m17 0h1m-19 1h1m18 0h1m-21 1h1m-2 1h1m21 0h1m-23 1h1m-2 1h1m-2 2h1m-2 1h1m25 0h1m-1 1h1m-31 1h2m-5 1h2m-4 1h1m34 0h1m-37 1h1m35 0h1m-38 1h1m-1 1h1m-2 2h1m36 3h1m-38 1h1m36 0h1m-37 2h1m34 0h1m-1 1h1m-1 1h1m-50 1h1m48 0h1m-2 1h2m-44 1h1m36 0h1m-2 1h1m-2 1h1m-2 1h1m-1 1h1m-2 1h1m-3 1h4m-23 1h1m16 0h1m4 0h2m-11 1h2m7 0h2m-17 1h4m-91 19h1m1 0h1m-3 1h1m1 0h1"/><path stroke="#12b008" d="M132 5h6m-8 1h2m7 0h3m-13 1h1m15 0h1m-18 1h1m17 0h1m-20 1h1m19 0h1m-21 1h1m-2 1h1m21 0h1m-24 2h1m-2 2h1m24 1h1m-28 1h1m-2 1h1m-4 1h1m-5 1h2m-3 1h1m-2 1h1m36 1h1m-1 1h1m-39 1h1m37 0h1m-1 1h1m-1 1h1m-1 1h1m-2 3h1m-7 6h3m-41 1h1m36 0h1m-2 1h1m-2 1h1m-27 1h1m0 1h1m23 0h1m-24 1h1m23 0h1m-6 1h1m1 0h2m-20 2h1m8 0h1m11 0h1m-15 1h2m-90 17h1"/><path stroke="#22b300" d="M133 4h3m-6 1h2m6 0h2m-11 1h1m12 0h3m-17 1h1m17 0h1m-20 1h1m-2 1h1m-1 1h1m21 0h1m-24 2h1m23 0h1m-1 1h1m-26 1h1m24 0h1m-1 1h1m-27 1h1m-4 2h1m-6 1h3m-5 1h1m-2 1h1m-2 2h1m-1 1h1m37 5h1m-39 2h1m-13 1h1m3 0h1m44 0h1m-45 1h1m7 0h1m35 0h1m-51 1h1m49 0h1m-1 1h1m-4 2h2m-49 1h1m13 0h1m29 0h1m-31 1h1m-11 1h1m36 1h1m-1 1h1m-5 2h1m4 0h1m-10 1h1m5 0h1m2 0h1m-13 1h1m9 0h1m-15 1h1m2 0h1m-2 1h1m-89 16h1m15 5h1m-2 1h1m-1 1h1m0 1h1"/><path stroke="#36b900" d="M131 4h2m3 0h3m-10 1h1m10 0h2m-14 1h1m16 0h1m-19 1h1m-2 1h1m20 0h1m-23 2h1m-1 1h1m23 0h1m-27 4h1m-3 2h1m-4 1h2m-7 1h2m-3 1h1m-2 2h1m-2 3h1m-1 1h1m-1 1h1m-1 1h1m-1 1h1m38 1h1m-1 1h1m-38 3h1m35 2h1m-37 1h1m34 0h1m-5 1h1m-45 1h1m4 0h1m36 0h1m-41 1h1m10 0h1m27 0h1m-1 1h1m-1 2h1m-25 2h1m15 0h1m3 0h1m-8 1h1m10 0h1m-18 1h1m1 1h1m1 0h1m-2 1h1m-16 8h2m-77 7h1m2 1h1m-3 2h1m17 2h1m-1 3h1"/><path stroke="#4cc100" d="M131 3h7m-9 1h2m8 0h2m-14 1h2m13 0h2m-18 1h2m-3 1h2m-2 1h1m-1 1h1m22 0h1m-25 3h1m-1 1h1m-3 3h1m-3 1h1m-7 1h4m-6 1h1m-2 2h1m-2 3h1m39 3h1m-1 1h1m-1 1h1m-41 1h1m-11 1h2m9 1h1m37 0h1m-1 1h1m-1 1h1m-38 1h1m-1 1h1m31 2h1m-3 1h1m-40 1h1m37 0h1m-2 2h1m-27 1h1m0 1h1m17 1h1m-4 1h1m6 0h1m-16 1h1m5 0h1m-5 1h1m0 1h1m1 0h1m-2 1h1m-15 6h1m-74 8h1m-4 3h1m1 0h1m14 2h1m2 1h1"/><path stroke="#64cb00" d="M128 3h3m7 0h1m-12 1h2m12 0h1m-16 1h1m17 0h1m-20 1h1m20 0h1m-30 1h1m6 0h1m22 0h1m-24 1h1m-1 1h1m-1 1h1m24 0h1m-26 1h1m25 1h1m-1 1h1m-28 1h1m-5 3h1m-7 1h1m-3 2h1m-2 2h1m-1 1h1m39 2h1m-1 1h1m-1 4h1m-53 3h1m6 2h1m43 0h1m-45 1h1m-9 1h1m7 0h1m42 0h1m-4 1h2m-35 3h1m0 1h1m20 3h2m-19 1h1m3 1h1m17 0h1m-12 1h1m-4 2h1m-15 6h1m9 0h1m-85 7h2m-4 2h1m-1 1h1m3 0h1m16 5h1"/><path stroke="#7ed500" d="M126 3h2m11 0h2m-16 1h2m15 0h2m-20 1h2m19 0h1m-29 1h4m2 0h2m-9 1h1m1 0h2m2 0h2m-7 1h1m5 0h1m-1 1h1m-1 4h1m26 1h1m-29 1h1m27 0h1m-30 1h1m28 0h1m-38 1h6m31 0h1m-39 1h1m37 0h1m-40 1h1m38 0h1m-41 1h1m39 0h1m-41 1h1m39 0h1m-1 1h1m-1 1h1m-1 1h1m-42 1h1m-1 1h1m-8 5h1m7 0h1m39 0h1m-40 2h1m-7 1h1m-9 2h1m51 0h1m-45 2h1m37 1h1m-2 1h1m-2 1h1m-1 1h1m-1 1h1m-1 1h1m-1 1h1m-11 1h1m4 0h1m-17 1h1m8 0h1m8 0h1m-15 2h1m-83 8h1m70 0h1m7 0h1m-80 1h1m69 0h1m-77 5h1m2 0h1m-5 1h1m12 0h1m4 8h1"/><path stroke="#9adf00" d="M124 3h2m15 0h1m-20 1h3m19 0h1m-28 1h7m22 0h1m-31 1h1m4 0h2m-8 1h1m4 0h2m-6 1h1m1 0h2m1 0h2m25 0h1m-26 2h1m-1 1h1m26 0h1m-28 1h1m-4 4h1m-9 1h1m-2 1h1m-2 1h1m-2 3h1m-1 1h1m-1 1h1m-1 3h1m-1 1h1m41 0h1m-1 1h1m-53 2h1m50 1h1m-1 1h1m-40 5h1m35 0h1m-43 1h1m5 0h1m32 0h1m-45 1h1m3 0h1m6 0h1m20 6h1m7 1h1m-18 1h1m3 2h1m-15 6h1m8 0h1m-82 1h1m-1 1h1m7 6h1m75 0h1m-72 4h1m1 1h1"/><path stroke="#b0e700" d="M121 3h3m18 0h2m-27 1h5m23 0h1m-30 1h1m-2 1h1m31 0h1m-33 2h1m4 0h1m1 1h1m26 0h1m-28 5h1m-2 1h1m-10 1h5m-6 1h1m-2 1h1m-2 2h1m-1 1h1m41 5h1m-1 1h1m-43 2h1m41 1h1m-1 1h1m-54 1h1m11 0h1m0 2h1m38 0h1m-54 1h1m52 0h1m-40 2h1m-15 1h1m0 1h1m46 0h1m-3 1h1m-2 1h1m-31 1h1m0 1h1m0 1h1m0 1h1m17 1h1m1 0h1m5 0h1m-23 1h1m10 0h1m6 0h1m-9 1h1m-2 1h1m-5 1h1m0 1h2m-5 4h1m-3 2h1m1 0h1m-10 1h1m-73 1h2m-5 3h1m8 1h2m-9 1h1m6 0h1m-8 1h1m84 0h1m-91 2h1m3 0h1m13 1h1m1 0h1m-4 2h1m3 2h1"/><path stroke="#c0ec00" d="M119 3h2m-6 2h1m-2 1h1m-1 1h1m33 0h1m-35 1h1m0 1h4m2 0h1m0 1h1m-1 3h1m-10 2h2m-4 1h1m5 0h3m-10 1h1m-2 2h1m-2 3h1m-1 1h1m-1 1h1m-1 1h1m42 0h1m-43 5h1m-6 2h1m46 0h1m-47 1h1m5 2h1m-1 1h1m37 1h1m-2 1h1m-38 3h1m30 1h1m-27 4h1m17 0h1m-23 9h1m8 0h1m-80 1h1m77 0h1m-78 1h1m-4 1h1m2 0h1m67 0h1m9 0h1m-82 1h1m2 0h1m-3 1h2m-6 2h1m1 0h1m-5 1h1m4 0h1m8 0h1m74 1h1m1 0h1m-78 1h1m76 0h1m-90 3h1m14 1h1m-1 2h1m1 2h1"/><path stroke="#d0f100" d="M144 3h1m1 1h1m0 1h1m-35 2h1m-1 1h1m0 1h1m4 0h2m-7 1h2m34 0h1m-29 1h1m-1 1h1m28 1h1m-40 1h2m-3 1h2m2 0h1m-6 1h1m-2 2h1m-2 2h1m-1 1h1m42 3h1m-44 2h1m43 3h1m-1 1h1m-2 3h1m-55 1h1m52 2h1m-45 1h1m-1 1h1m3 1h1m35 0h1m-3 1h1m-2 1h1m-2 2h1m-1 1h1m-12 3h1m-10 1h1m0 1h1m0 2h1m-14 4h1m11 0h1m-83 1h1m68 0h1m12 0h1m-84 1h1m69 0h1m3 0h1m5 1h1m-81 2h1m2 0h1m-5 1h3m-6 1h1m3 0h1m5 1h1m78 0h1m-92 2h1m13 0h1m75 0h1m-91 1h1m5 0h1m-5 2h1m18 5h1"/><path stroke="#dff700" d="M145 3h1m-33 3h1m35 2h1m-37 1h1m-1 1h1m2 0h2m3 0h1m-9 1h2m-3 1h2m37 0h1m-40 1h3m-4 1h1m2 0h2m5 0h1m29 0h1m-42 1h1m5 0h1m3 0h1m30 0h1m-43 1h1m-1 1h1m-2 1h1m-1 1h1m42 4h1m-44 4h1m43 0h1m-1 1h1m-53 2h1m2 1h1m5 0h1m42 0h1m-43 2h1m40 1h1m-46 1h1m-1 1h1m3 2h1m-5 1h1m-8 1h1m5 0h1m4 0h1m7 7h1m17 0h1m-9 3h1m-2 1h1m-3 1h1m-83 4h1m75 1h1m-6 1h1m7 0h1m-84 1h1m-1 1h1m-2 1h1m3 0h1m-2 1h1m5 0h1m-7 1h1m82 0h1m-91 1h1m6 0h1m4 0h1m3 0h1m-1 1h1m-13 3h1m13 0h1m3 0h1m0 2h1m-6 2h1m0 1h1"/><path stroke="#edfc00" d="M112 6h1m35 0h1m-37 1h1m-1 1h1m-1 1h1m-2 1h2m5 0h1m1 0h1m-10 1h2m2 0h1m5 0h1m-11 1h1m2 0h2m-6 1h2m3 0h1m-6 1h1m-2 1h1m7 0h3m31 1h1m-44 1h1m42 0h1m-1 1h1m-1 1h1m-45 1h1m43 0h1m-45 1h1m43 0h1m-45 1h1m43 0h1m-45 1h1m-1 1h1m44 2h1m-45 2h1m-10 2h1m1 0h1m-4 1h1m10 1h1m42 0h1m-56 1h1m8 1h1m44 1h1m-42 2h1m36 2h1m-3 1h1m-36 1h1m0 1h1m31 0h1m-32 1h1m0 1h1m0 1h1m27 0h1m-11 2h1m2 0h1m5 0h1m-12 1h1m7 0h2m-11 1h1m-6 3h1m-3 2h2m-11 1h1m-74 1h1m73 0h1m8 1h1m-85 1h1m79 0h1m-76 1h1m67 0h2m-76 1h1m5 0h1m-8 1h1m5 0h1m-9 1h1m6 0h1m2 0h2m1 0h1m-4 1h1m77 1h1m-77 1h1m77 1h1m-73 1h2m2 4h1"/><path stroke="#f7fb00" d="M146 3h1m0 1h1m-37 3h1m-1 1h1m-2 1h2m-2 1h1m8 0h1m-10 1h1m5 0h1m34 0h1m-43 1h2m10 0h1m-13 1h1m11 0h1m-13 1h1m6 0h1m-9 1h1m-1 1h1m-2 2h1m-1 1h1m-1 6h1m0 4h1m44 0h1m-1 1h1m-1 1h1m-2 2h1m-43 1h1m-1 2h1m-15 1h1m53 0h1m-44 1h1m41 0h1m-53 1h1m9 0h1m1 0h1m-4 1h1m2 0h1m34 1h1m-30 5h1m17 1h2m-14 1h1m18 0h1m-18 2h1m2 2h1m-3 1h1m-84 2h2m77 0h1m-2 1h1m-81 1h1m4 1h1m-7 1h1m81 0h2m-86 2h1m7 0h2m-3 1h2m-11 1h1m7 0h1m1 0h1m5 0h1m72 0h1m2 0h1m-86 2h1m9 0h1m75 0h1m-2 1h1m-93 1h1m17 0h1m2 0h1m-21 1h1m21 1h1m-2 4h1"/><path stroke="#fcf400" d="M148 5h1m-39 2h1m38 0h1m-41 1h2m-2 1h1m40 0h1m-42 1h1m-1 1h1m7 0h1m2 0h1m-13 1h1m7 0h1m-9 1h1m7 0h1m-9 1h1m8 0h1m2 0h1m-14 1h1m-1 1h1m-1 1h1m-2 2h1m-1 1h1m-1 1h1m-1 1h1m-1 1h1m45 2h1m-46 1h1m45 2h1m-46 2h1m-4 2h1m47 0h1m-48 1h1m2 0h1m42 1h1m-43 1h1m-15 1h1m54 0h1m-45 1h1m0 1h2m-2 1h1m37 1h1m-45 1h3m38 2h1m-2 3h1m-26 1h1m13 1h1m5 0h1m-15 5h1m0 1h1m-82 1h1m66 0h1m-67 2h1m70 0h1m-1 1h1m7 0h1m-10 1h1m7 0h1m-86 1h1m8 1h1m2 1h1m74 0h1m-82 1h1m-2 1h1m2 0h1m5 0h1m71 1h1m-75 1h3m-12 1h1m-2 1h1m17 4h1"/><path stroke="#ffec00" d="M147 3h1m-40 6h1m-1 1h1m-2 1h2m9 0h2m-13 1h1m-1 1h1m-1 1h1m10 0h2m-14 2h1m-1 1h1m-1 1h1m-1 6h1m45 0h1m0 3h1m-56 3h1m3 0h1m51 0h1m-47 1h1m45 0h1m-58 1h1m10 0h1m45 0h1m-2 1h1m-58 2h1m55 0h1m-46 1h1m1 1h1m-14 1h1m51 1h1m-42 1h2m-8 1h1m7 0h1m0 1h1m0 1h1m0 1h1m30 0h1m-22 5h1m0 2h1m-1 1h1m1 1h1m-86 2h1m83 0h1m-86 1h1m78 1h1m-81 1h1m71 0h1m7 0h1m0 1h1m-75 1h1m-11 1h1m11 0h1m-14 1h1m88 0h1m1 0h1m-83 2h2m82 0h1m-82 1h1m-6 1h1m10 0h2m70 0h1m-74 1h1m4 0h1m-6 1h1m5 0h1"/><path stroke="#ffe400" d="M148 4h1m-42 5h1m-2 1h2m43 0h1m-46 1h1m-1 1h1m10 0h1m2 0h1m-15 1h1m10 0h1m2 0h1m31 0h1m-47 1h1m45 0h1m-47 1h1m-2 3h1m-1 1h1m-1 1h1m-1 1h1m-1 1h1m0 3h1m0 2h1m-8 2h1m53 0h1m-51 2h1m1 1h1m0 1h2m-2 1h1m1 0h1m43 0h1m-47 1h1m1 1h1m-2 1h1m42 0h1m-54 3h1m6 1h1m2 0h1m36 0h1m-2 1h1m-32 3h1m0 1h1m21 2h1m-7 1h1m-2 1h1m-2 1h1m-87 3h1m69 0h1m8 0h1m-78 2h1m70 0h1m8 0h1m-87 1h1m77 0h1m-1 1h2m-81 1h1m7 0h1m65 0h1m3 0h1m2 0h1m4 0h1m-88 1h1m83 0h3m-1 3h1m-90 1h1m88 0h1m-90 1h1m8 0h1m9 0h1m-20 1h1m14 0h1m5 0h1m72 0h1m-94 2h1m16 1h1m-1 1h1m0 3h1m1 1h1"/><path stroke="#ffdc00" d="M149 6h1m0 2h1m-46 2h1m-1 1h1m-1 1h1m12 0h1m33 0h1m-48 1h1m12 0h1m-14 1h1m-1 1h1m46 0h1m-48 1h1m46 0h1m-48 1h1m-1 6h1m46 0h1m-48 1h1m47 2h1m-47 2h1m46 0h1m-56 1h1m55 1h1m-59 1h1m57 0h1m-49 1h1m47 0h1m-2 1h1m-47 1h1m0 1h1m-2 1h1m43 0h1m-3 2h1m-4 2h1m-42 1h2m1 1h1m33 3h1m-28 2h1m3 1h1m11 0h1m-6 4h1m-6 1h1m-82 1h1m1 0h1m67 0h1m2 1h1m3 1h1m-2 1h1m-81 1h1m-2 1h1m79 0h2m-83 1h1m10 0h1m66 0h2m4 0h1m3 0h1m-90 1h1m13 0h1m72 0h3m-74 1h1m71 0h1m-90 1h1m17 0h1m3 3h1m-23 1h1m16 0h1m-15 2h2m13 2h1m1 3h1m1 0h1"/><path stroke="#ffd400" d="M148 3h1m-45 8h1m-1 1h1m14 0h1m-16 1h1m14 0h1m-16 1h1m-1 1h1m-1 1h1m-1 1h1m47 0h1m-49 1h1m47 0h1m-49 1h1m-1 1h1m-1 1h1m47 0h1m-49 1h1m47 0h1m-47 4h1m-9 3h1m2 0h1m5 0h1m47 0h1m-49 2h1m-12 3h1m57 0h1m-47 1h1m44 0h1m-5 4h1m-40 4h1m33 0h1m-3 4h1m-10 1h1m1 0h1m5 0h1m-29 6h1m11 0h1m-87 1h1m4 0h1m-7 1h1m70 0h1m14 1h1m-80 1h1m69 2h1m2 0h1m1 1h1m3 0h1m-4 1h1m-70 2h1m-10 1h1m1 0h1m7 0h1m68 0h1m0 1h1m-67 1h1m-20 2h1m19 1h1"/><path stroke="#ffcc00" d="M149 5h1m-47 7h1m-1 1h1m-1 1h1m-1 1h1m-1 1h1m-1 1h1m-1 1h1m-1 1h1m48 0h1m-50 1h1m48 0h1m-49 3h1m0 2h1m47 0h1m0 2h1m-58 3h1m9 0h1m-3 1h1m50 0h1m-2 2h1m-4 4h1m-53 4h1m45 0h1m-39 1h1m36 0h1m-35 2h1m0 1h1m2 2h1m18 1h1m-4 1h1m7 0h1m-14 4h1m-87 1h1m78 1h1m-4 1h1m-80 1h1m7 0h1m63 0h1m-74 1h1m87 0h1m-90 1h1m-2 1h1m77 0h1m3 0h2m1 1h1m-87 1h1m92 0h1m-6 1h1m5 0h1m-84 2h1m-3 1h1m4 0h1m8 0h1m-16 1h1m83 0h2m-87 1h1m-6 1h1m22 0h1m-1 2h1m-8 1h1m5 1h1m-2 1h1"/><path stroke="#ffc400" d="M150 7h1m0 2h1m0 2h1m-51 2h1m-1 1h1m-1 1h1m-1 1h1m-1 1h1m-1 1h1m-1 1h1m0 2h1m-1 1h1m0 2h1m1 3h1m-9 1h3m54 0h1m-53 2h1m52 0h1m-51 1h1m49 1h1m-61 1h1m58 1h1m-2 1h1m-2 1h1m-3 2h1m-56 1h1m51 1h1m-5 4h1m-32 2h1m29 0h1m-6 3h1m-17 1h1m-81 3h2m0 1h1m65 0h1m-2 1h1m15 0h1m-9 1h1m-72 3h1m77 0h1m-78 1h1m76 0h1m-92 1h1m15 0h1m68 0h1m6 0h1m-6 1h1m0 2h1m-90 1h1m21 0h1m73 0h1m-72 1h1m70 0h1m-80 1h1m77 0h1m-95 1h1m24 0h1m-7 6h1"/><path stroke="#ffbc00" d="M149 4h1m-50 10h2m-2 1h2m-2 1h2m-2 1h2m-1 1h1m-1 1h1m0 1h1m-1 1h1m0 2h1m49 1h1m-50 1h1m0 1h1m48 0h1m-58 3h1m4 0h1m53 0h1m-61 3h1m59 1h1m-62 4h1m1 3h1m9 2h1m1 1h1m4 4h1m4 1h1m17 1h1m2 0h1m-11 1h1m-9 2h1m-82 1h1m-3 1h1m-2 1h1m-2 1h1m7 0h1m-10 1h1m-2 1h1m-2 1h1m-2 1h1m80 1h4m-67 1h1m67 0h1m-88 1h1m19 0h1m67 0h1m-89 1h1m20 0h1m1 1h1m65 0h1m-90 1h1m25 0h1m-1 1h1m65 0h1m-75 1h1m-17 1h1m4 0h1m18 3h1"/><path stroke="#ffb400" d="M149 3h1m3 10h1m-1 1h1m-1 1h1m-55 1h1m-1 1h1m-1 1h2m-2 1h2m-1 1h2m-1 1h1m0 1h1m0 2h1m-6 3h3m54 0h1m-59 1h1m3 0h1m4 0h1m-1 2h1m-11 1h1m60 0h1m-3 4h1m-61 1h1m58 0h1m-2 1h1m-4 2h1m-52 2h1m47 0h1m-43 1h2m38 1h1m-36 1h1m10 5h1m10 0h1m-11 2h1m6 0h1m-90 2h1m3 0h1m75 1h1m-6 1h1m-82 3h1m-2 1h1m76 0h1m2 2h1m-82 1h1m84 0h2m0 1h1m0 1h1m7 0h1m-73 1h3m-13 1h1m75 0h1m-91 1h1m18 6h1m2 2h1"/><path stroke="#ffac00" d="M150 6h1m2 10h1m-56 1h1m-2 1h2m-2 1h2m-2 1h3m-3 1h4m0 1h1m0 1h1m50 0h1m-51 2h1m50 0h1m-58 1h4m3 0h1m-8 1h1m3 0h1m3 0h1m50 1h1m-51 1h1m-11 1h1m60 0h1m-1 2h1m-2 2h1m-62 1h1m59 1h1m-2 1h1m-60 1h1m56 0h1m-49 4h1m41 0h1m-39 1h1m2 2h1m32 0h1m-33 1h1m29 2h1m-7 1h1m-95 3h2m84 0h1m-17 1h1m8 0h1m-8 1h1m11 0h1m-90 1h1m7 0h1m-10 1h1m88 0h1m-91 1h1m10 1h1m-15 2h1m15 0h1m62 0h1m-80 1h1m17 0h1m64 1h2m0 1h2m-65 1h1m4 0h1m59 0h1m-61 1h1m-17 1h1m15 0h1m68 1h1m-97 1h1m0 1h1m16 0h1m2 6h1m1 0h1"/><path stroke="#ffa400" d="M150 5h1m0 3h1m0 2h1m0 2h1m-1 5h1m-58 1h1m-2 1h2m-2 1h2m-2 1h2m-2 1h6m52 0h1m-58 1h6m-6 1h5m1 0h1m-7 1h7m-7 1h1m4 0h1m1 0h1m-8 1h1m-1 1h1m5 0h1m-7 1h1m60 0h1m-54 1h2m51 3h1m-2 2h1m-4 3h1m-5 2h1m-37 7h1m29 0h1m-26 1h1m14 1h1m-93 3h1m2 0h1m66 1h1m15 0h1m-90 1h1m79 1h1m-85 2h1m-2 1h1m75 0h1m-78 1h1m92 1h1m-14 1h1m1 1h1m-62 1h1m61 0h2m-62 1h4m1 0h1m56 0h2m-88 1h1m28 0h1m59 0h1m-90 1h1m12 0h2m75 0h1m-80 1h1m5 0h1m10 0h1m63 0h1m-83 1h1m17 0h1m55 0h1m-76 1h1m18 0h1m54 0h2m-65 5h1m5 0h1"/><path stroke="#ff9c00" d="M150 4h1m2 14h1m-60 1h1m-1 1h1m-1 1h1m-1 1h1m-1 1h2m-1 1h1m5 0h1m-7 1h1m6 1h1m52 0h1m-54 1h1m1 0h1m0 1h1m-3 1h1m53 5h1m-2 2h1m-2 1h1m-2 1h1m-4 1h1m-49 3h1m3 1h1m1 1h1m35 0h1m-12 5h2m5 0h1m-11 1h1m-93 3h1m73 0h1m-69 1h1m63 0h1m-74 1h1m79 0h1m-82 1h1m72 0h1m16 1h1m-79 2h1m78 2h1m-96 1h1m20 0h1m60 0h1m13 0h1m-97 1h1m-1 1h1m84 0h1m-1 1h4m-60 1h1m68 0h1m-99 1h1m83 0h1m-2 1h1m1 0h1m10 0h1m-96 1h1m2 1h3m12 0h1m8 0h1m54 0h2m-90 2h2m-2 1h1m31 0h1m-7 2h1m3 0h1m73 1h1"/><path stroke="#ff9400" d="M150 3h1m-58 16h1m59 0h1m-61 1h1m59 0h1m-61 1h1m59 0h1m-61 1h1m-1 1h1m0 1h1m59 0h1m-61 1h1m0 1h1m-1 1h1m7 0h1m52 0h1m-62 1h1m7 0h2m52 0h1m-54 1h2m52 1h1m-1 1h1m-1 1h1m-64 2h1m60 3h1m-2 1h1m-61 1h1m0 1h1m1 1h1m49 0h1m-3 2h1m-37 2h1m33 1h1m-28 2h1m-76 3h2m-4 1h1m4 1h1m-9 1h1m70 1h1m8 0h1m-85 2h1m12 0h1m-15 1h1m92 0h1m-1 1h1m-95 1h1m17 0h1m-19 1h1m19 0h1m2 2h1m3 0h3m53 0h1m0 1h1m-1 1h1m13 0h1m-15 1h4m1 0h1m-7 1h1m1 0h1m12 0h1m-99 1h1m94 0h1m1 0h1m-98 1h1m84 0h1m-84 1h2m3 0h1m-13 1h2m22 0h1m8 0h1m-35 1h1m2 0h1m-4 1h1m1 0h1m102 2h1m-2 1h1"/><path stroke="#ff8c00" d="M153 11h1m0 3h1m-1 1h1m-63 5h1m-1 1h1m-1 1h1m-1 1h1m0 1h1m-1 1h1m0 1h1m-1 1h1m0 2h1m62 0h1m-64 1h1m-1 3h1m62 0h1m-2 2h1m-2 3h1m-5 1h1m-51 3h1m44 0h1m-42 1h1m4 3h1m0 1h1m1 1h3m21 2h2m-96 1h1m85 0h1m-93 2h1m71 0h1m-76 2h1m90 0h1m-93 1h1m-4 3h1m21 3h1m1 1h3m70 0h1m-68 1h1m52 0h1m-54 1h1m52 0h1m-1 1h1m4 0h1m-90 1h1m29 0h1m56 0h1m4 0h1m-93 1h1m18 0h1m63 0h1m3 0h1m7 0h1m-13 1h1m-82 1h1m83 0h1m-92 1h1m2 0h2m20 1h1m-23 1h1m-3 1h2m23 1h1m77 0h1m-77 1h2"/><path stroke="#ff8200" d="M151 7h1m0 2h1m1 4h1m-1 3h1m-64 4h1m-1 1h1m-1 1h1m-1 1h1m0 1h1m-1 1h1m62 0h1m-63 1h1m0 2h1m0 3h1m-1 1h1m62 2h1m-2 2h1m-5 3h3m-6 1h1m-43 4h1m36 1h1m-33 3h1m6 1h1m0 1h1m10 0h1m-92 1h1m-3 1h1m5 0h1m-10 2h1m78 0h1m3 0h1m-87 2h1m12 0h1m-15 1h1m75 0h1m-78 1h1m80 4h1m0 1h1m-84 1h1m-1 1h1m-1 1h1m30 0h1m-19 1h1m3 0h1m65 0h1m4 0h1m2 0h1m-62 1h1m68 0h1m-101 1h2m86 0h1m-92 1h6m7 0h1m73 0h1m-84 1h1m84 0h1m-87 1h1m29 0h1m-31 1h1m20 0h1m-26 1h1m2 0h1m29 0h1m71 0h1m-74 1h1m73 0h1m-80 1h1m2 0h1m75 0h1m-2 1h1"/><path stroke="#ff7600" d="M90 20h1m-1 1h1m-1 1h1m-1 1h1m63 0h1m-65 1h2m-1 1h1m0 1h1m63 0h1m-64 1h1m63 0h1m0 1h1m0 4h1m-2 3h1m-65 1h1m-1 1h1m62 0h1m-64 1h1m62 0h1m-2 1h1m-60 2h1m7 2h1m40 1h1m-4 4h1m-7 2h1m2 0h1m-29 2h1m8 0h1m7 0h1m-93 1h1m76 0h1m-80 1h1m-2 1h1m12 3h1m0 1h1m61 1h1m-81 1h1m21 0h1m58 0h1m-82 1h1m23 0h1m-25 1h1m30 0h1m51 1h1m15 0h1m-17 1h1m-1 1h1m5 1h2m9 0h1m-102 1h1m12 0h1m75 0h1m5 0h1m-97 1h1m12 0h1m-11 2h3m80 0h1m-91 1h1m5 0h1m-7 1h1m25 1h1m78 0h1m1 0h1m-76 2h1"/><path stroke="#ff6a00" d="M151 3h1m-1 1h1m-1 1h1m-1 1h1m2 6h1m-1 5h1m-66 5h1m-2 1h2m-2 1h2m-2 1h3m0 1h1m0 1h1m0 1h1m0 1h1m64 4h1m-2 3h1m-2 3h1m-57 3h1m5 2h1m1 1h1m34 2h1m-3 2h1m-101 1h3m88 0h1m2 0h1m-97 1h1m4 0h1m75 0h1m-84 1h1m72 0h1m1 0h1m-78 1h1m71 1h1m18 0h1m-82 1h1m60 0h1m-76 1h1m93 0h1m-96 1h1m-2 2h1m-1 1h1m19 0h1m75 0h1m-72 2h1m2 0h2m52 1h1m-84 3h1m100 0h1m-102 1h1m31 0h1m-34 1h1m101 0h1m-104 1h1m32 0h1m67 0h2m-105 1h1m14 0h1m76 0h1m-94 1h1m9 0h1m81 0h1m-86 1h1m-2 1h1m99 0h1m-107 1h1m4 0h1m-5 1h4m21 0h1m77 0h1m-78 1h1m76 0h1m0 1h1m1 0h1"/><path stroke="#ff5c00" d="M153 10h1m0 8h1m-68 6h1m-1 1h1m0 1h3m0 1h1m2 3h1m64 4h1m-66 1h1m63 2h1m-64 3h1m55 0h1m3 0h2m-8 1h1m-3 2h1m-38 3h1m34 0h1m-35 1h1m0 1h1m0 1h1m20 1h2m-97 1h1m-3 1h1m71 1h1m10 0h1m7 0h1m-95 1h1m11 0h1m-14 1h1m73 1h1m1 3h1m-54 3h2m-29 2h1m-1 1h1m32 0h1m-19 2h1m1 0h1m65 0h1m-1 1h1m6 0h1m3 0h1m-98 1h1m85 0h1m5 0h1m8 0h1m2 0h1m-71 1h1m-26 1h1m-4 1h1m-2 1h1m27 0h1m69 0h1m1 0h1m-102 1h1m-2 1h1m102 0h1m-81 2h3"/><path stroke="#ff4c00" d="M155 14h1m-1 1h1m-2 7h1m0 2h1m0 1h1m-70 1h1m69 0h1m-69 1h2m1 1h1m0 1h1m65 6h1m-2 3h1m-65 1h1m63 0h1m-7 1h1m1 0h1m2 0h1m-62 1h1m51 1h1m-45 1h1m41 2h1m-33 4h1m-74 1h1m3 0h1m95 0h1m-30 1h1m18 0h1m-97 2h1m10 0h1m56 2h2m21 2h1m-97 1h1m51 0h1m43 1h1m-74 2h1m73 0h1m-68 1h1m50 0h1m-83 1h1m32 1h1m49 0h1m-1 1h1m17 0h1m-55 1h1m35 0h1m-85 1h1m102 0h1m-105 1h1m33 0h1m69 0h1m-107 1h1m23 0h1m76 0h1m4 0h1m-108 1h1m104 0h2m-95 1h2m22 0h1m52 0h1m-91 1h1m9 0h1m96 0h1m-108 1h1m7 1h1m96 0h1m3 0h1m-109 1h1m5 0h1m27 0h1m-34 1h4m21 0h1m6 0h1m74 0h1m-82 1h1m3 0h1"/><path stroke="#ff3d00" d="M152 8h1m1 3h1m0 2h1m-1 3h1m-2 3h1m-1 2h1m-68 6h2m2 1h1m2 3h1m-1 3h1m64 2h1m-1 1h1m-7 3h1m-54 2h1m5 2h1m1 1h1m3 4h1m-73 1h1m72 0h1m-76 1h1m74 0h1m-78 1h1m9 0h1m-13 1h1m-2 1h1m69 0h2m2 0h1m8 0h1m1 0h1m-87 1h1m72 0h2m-76 1h1m-2 1h1m16 0h1m60 1h1m17 0h1m-78 1h1m-21 1h1m21 0h1m-23 1h1m24 0h1m-26 1h1m98 0h1m-101 4h1m33 0h1m14 0h1m-33 1h1m-20 1h1m21 0h1m71 0h3m-82 2h1m70 0h1m15 0h1m2 0h1m-109 1h1m14 0h1m78 0h1m11 0h2m-16 1h1m13 0h1m1 0h1m-100 1h1m-10 1h1m35 0h1m-29 1h1m17 0h1m-21 1h2m19 1h1m5 0h1m71 0h1"/><path stroke="#ff2e00" d="M152 3h1m1 17h1m-66 8h2m1 1h1m1 3h1m-1 1h1m64 5h1m-2 2h1m-3 1h2m-11 3h1m-105 5h2m70 0h1m3 0h1m-8 1h1m-76 1h1m8 0h1m91 0h2m-105 1h1m74 0h1m3 0h1m-10 2h2m-5 1h1m1 1h1m1 0h1m-25 1h1m24 0h1m-27 1h1m-53 1h1m25 2h1m5 1h1m0 1h1m48 0h1m17 0h1m-102 2h1m47 0h2m53 1h1m-105 1h1m15 1h1m-2 1h1m18 0h1m57 0h1m5 0h1m-8 1h1m-80 1h1m91 0h1m-98 1h1m25 0h1m53 0h1m1 0h1m-84 1h1m15 0h1m78 0h1m3 0h1m-101 1h1m16 0h1m-27 1h1m0 1h1m6 0h1m17 0h1m-25 1h5m19 0h1m82 0h1"/><path stroke="#ff1f00" d="M155 12h1m-1 5h1m-69 11h2m4 2h1m66 6h1m-68 1h1m-1 1h1m65 1h1m-66 1h1m55 1h1m4 0h1m-57 1h1m9 4h1m35 1h1m-35 1h1m32 0h1m-103 1h1m100 0h1m-105 1h1m74 0h1m-79 1h1m74 0h1m20 0h1m4 0h1m2 0h1m-107 1h1m95 0h1m-98 1h1m74 0h1m6 0h1m-84 1h1m69 0h1m14 0h1m-87 1h1m95 0h1m-98 1h1m72 0h1m1 0h1m-25 1h1m-53 1h1m18 0h1m34 0h1m-3 1h2m-31 1h1m3 1h3m51 0h1m-83 3h1m82 0h1m18 0h1m-20 1h1m-85 1h1m83 0h1m-50 1h1m13 0h2m33 0h1m-87 1h1m85 0h1m20 0h1m-109 1h1m107 0h1m-110 1h1m25 0h1m77 0h1m4 0h1m-93 1h1m87 0h1m3 0h1m-98 1h1m13 0h1m78 0h1m3 0h1m-111 1h1m-1 1h1m9 1h1m94 0h1m-105 1h1m8 0h1m15 0h1m9 0h1m68 0h1m-104 1h1m5 0h2m16 0h1m8 0h1m72 1h1"/><path stroke="#ff1200" d="M152 4h1m-1 3h1m0 2h1m2 4h1m-1 1h1m-1 1h1m-2 8h1m1 2h1m-68 4h2m1 7h1m66 1h1m-2 3h1m-65 1h1m62 0h1m-61 1h1m4 1h1m44 0h1m-44 1h1m1 1h1m38 1h1m-37 1h1m-70 2h1m3 0h1m70 0h1m-79 1h1m7 0h1m95 0h1m-108 1h1m78 0h1m-12 2h2m-58 3h1m54 0h1m-74 1h1m53 0h1m-25 4h1m-32 1h1m-1 1h1m49 2h1m52 0h1m-57 1h1m2 0h1m-53 1h1m105 0h1m-71 1h1m48 1h1m-51 1h1m-13 1h1m68 0h1m-97 1h1m94 0h1m-84 1h1m25 0h1m-28 1h1m93 0h1m5 0h1m-112 1h1m25 0h1m10 0h1m73 0h1m-1 1h1m-111 1h1m8 0h1m14 0h1m81 1h1m1 0h1"/><path stroke="#ff0600" d="M152 5h1m-1 1h1m3 18h1m-70 5h3m2 1h1m0 1h1m66 7h1m-68 1h1m60 2h1m-6 1h1m-3 3h1m-108 4h1m70 0h1m6 0h1m-83 1h2m73 0h1m8 0h1m-87 1h1m98 0h1m2 0h1m-104 1h1m-2 1h1m69 0h1m26 0h1m-99 1h1m-2 1h1m49 3h1m-31 1h1m32 0h1m-56 1h1m24 0h1m73 0h1m-100 1h1m34 3h1m12 0h2m-51 1h1m35 0h1m11 0h1m-53 4h1m96 0h1m3 0h1m-6 1h1m6 0h1m-105 1h1m18 0h1m19 0h1m50 0h1m14 0h1m-92 1h1m76 0h1m19 0h1m-1 1h1m-101 2h1m-12 1h1m10 0h1m13 0h1m-15 1h1m12 0h1m11 0h1"/><path stroke="#fc0000" d="M154 10h1m0 1h1m0 1h1m-1 4h1m-2 2h1m-63 17h1m67 2h1m-2 2h1m-10 2h1m1 0h1m5 0h1m-63 1h1m58 0h2m-52 3h1m-65 3h3m-6 1h1m6 0h1m70 0h1m-83 1h1m98 1h2m5 0h1m-95 1h1m61 0h1m10 0h1m-16 1h3m11 0h1m-19 1h1m26 0h1m-82 1h1m53 0h1m-73 1h1m52 0h1m23 1h1m-79 1h1m-1 1h1m51 0h1m-27 1h2m25 0h2m26 0h1m-50 1h1m1 1h1m47 0h1m-84 2h1m50 0h1m-53 2h1m36 0h1m46 0h1m21 0h1m-108 1h1m49 0h1m2 0h1m31 0h1m-87 1h1m22 0h1m85 0h1m-72 1h1m58 0h1m11 0h1m-112 1h1m19 0h1m68 0h1m21 0h1m-1 1h1m-7 1h1m-107 1h1m93 0h1m11 0h1m-107 1h1m12 0h1m13 0h1m11 0h1m-40 1h1m25 0h1m-3 1h2m12 0h1m-38 1h1m11 0h1m8 0h3m81 0h1m0 1h1m3 0h1"/><path stroke="#f70000" d="M153 3h1m3 11h1m-3 8h1m-68 8h4m1 2h1m-1 2h1m-2 3h1m68 1h1m-2 2h1m-9 1h1m-57 1h1m61 0h1m-51 4h1m37 1h1m-102 1h1m-9 1h2m-5 1h1m12 0h1m67 0h1m-83 1h1m13 0h1m62 0h1m-79 1h1m98 0h1m6 0h2m-109 1h1m15 0h1m-18 1h1m16 0h1m33 2h1m1 0h1m17 0h1m25 0h1m-100 1h1m51 0h1m3 0h1m17 0h4m-22 1h1m-29 2h2m5 3h1m46 0h1m-1 1h1m-1 1h1m-48 2h1m-20 1h1m65 0h1m-63 1h1m73 0h2m-103 3h1m15 0h5m19 0h1m56 0h1m-84 1h1m78 0h1m1 0h1m-83 2h1m-14 1h1m12 0h1m7 0h3m-24 1h1m20 0h1m16 0h1m73 0h1"/><path stroke="#ef0004" d="M157 13h1m-1 2h1m-2 2h1m-2 2h1m-69 11h1m4 1h1m0 2h1m-2 5h1m68 1h1m-69 1h1m0 1h1m65 0h1m-6 1h1m3 0h1m-58 1h1m1 1h1m43 0h1m-2 2h1m-107 2h1m4 0h1m63 0h1m34 0h1m-111 1h2m83 2h1m-19 1h2m11 0h1m21 0h1m2 0h1m-40 1h1m-73 2h1m18 2h1m0 1h1m57 0h1m-57 1h1m32 0h1m23 0h1m18 0h1m-48 1h1m47 1h1m-102 2h1m49 0h1m-3 1h1m55 0h1m-106 1h1m52 0h1m52 0h1m-54 1h1m-56 1h1m108 0h1m-111 1h1m39 0h1m12 0h2m-56 1h1m20 0h1m66 0h1m-49 1h1m57 0h1m13 0h1m-114 1h1m20 0h1m76 0h1m14 0h1m-1 1h1m-115 1h1m27 0h1m68 0h1m16 0h1m-115 1h1m113 0h1m-115 1h1m21 0h5m13 0h1m65 0h1m7 0h1m-115 1h1m20 0h1m84 0h1m-107 1h1m14 0h1m5 0h1"/><path stroke="#e5000c" d="M153 4h1m-1 4h1m2 3h1m0 1h1m-1 4h1m-3 5h1m0 2h1m0 1h1m-66 12h1m-1 3h1m68 1h1m-12 2h1m-46 3h1m-63 2h3m63 0h1m-70 1h1m-7 1h1m12 0h1m96 0h1m-112 1h1m109 0h1m-112 1h1m-2 1h1m72 0h1m27 0h1m-103 1h1m85 0h1m-17 2h1m-73 1h1m72 1h1m25 0h1m-1 1h1m-76 1h1m5 1h1m24 0h1m-57 1h1m33 0h1m19 0h1m-55 1h1m101 0h1m-54 1h1m1 0h1m51 0h1m-52 1h1m-55 2h1m48 0h1m-30 2h2m87 1h1m-114 1h1m103 0h1m0 1h1m-107 1h1m91 0h1m-77 1h1m3 0h3m18 0h1m-27 1h1m5 0h3m3 0h1m78 0h1m-92 1h1m5 0h1m-23 1h1m15 0h1m24 0h1m73 0h1m-116 1h1m16 0h1m3 0h1"/><path stroke="#da0016" d="M154 3h1m0 17h1m-70 11h6m0 4h1m68 6h1m-67 1h1m58 0h1m5 0h1m-12 1h1m6 0h3m-11 2h1m-42 1h1m-66 1h1m104 0h1m-113 1h5m7 0h1m-15 1h1m76 0h1m-79 1h1m77 0h1m-80 1h1m83 0h1m26 0h1m-42 1h1m6 0h1m27 0h1m4 0h1m-4 1h2m-111 1h1m70 0h1m-73 1h1m51 1h1m3 0h1m15 0h1m-74 1h1m-1 1h1m51 0h1m-53 1h1m25 0h2m24 0h1m-53 1h1m31 0h1m19 0h1m0 1h1m1 0h1m-4 2h1m-54 1h1m37 1h1m9 0h1m34 0h1m-1 1h1m23 0h1m-55 1h1m29 0h1m-35 1h1m2 0h1m30 0h1m24 0h1m-72 1h1m-44 2h1m41 0h1m48 0h1m23 0h1m-94 1h1m83 0h1m8 0h1m-117 1h1m19 0h1m73 0h1m4 0h1m7 0h1m8 0h1m-117 1h1m20 0h1m3 0h1m90 0h1m-117 1h1m20 0h1m-23 1h1m17 0h1m3 0h1m-23 1h1m18 0h3m20 0h1m65 0h1m0 1h1m5 0h1m-4 1h2"/><path stroke="#ce0022" d="M153 5h1m0 4h1m0 1h1m2 2h1m-3 6h1m-70 14h1m4 0h1m-2 5h1m-1 1h1m0 2h1m0 1h1m65 2h1m-117 3h3m-5 1h1m4 0h1m-13 1h1m111 0h1m-99 2h1m-1 1h1m-19 1h1m74 0h1m27 0h1m-105 1h1m70 0h1m17 0h1m11 0h1m6 0h1m2 0h1m-59 2h1m45 0h1m-102 1h1m57 1h1m14 0h1m-16 1h1m16 0h2m-49 1h2m22 2h1m29 0h1m-47 1h1m14 0h3m-17 2h1m-1 2h1m-42 1h1m40 0h1m9 0h1m59 0h1m-113 1h1m-2 1h1m26 1h1m61 0h1m10 0h1m2 0h1m10 0h1m0 1h1m-118 1h1m28 0h1m70 0h1m16 0h1m-100 1h2m4 0h1m-26 1h1m17 0h1m8 0h2m14 0h1m53 0h2m-99 1h1m17 0h1m98 0h1m-119 1h1m21 0h1m-23 1h1m116 0h1m-6 2h1m2 0h1"/><path stroke="#c0002f" d="M153 7h1m3 4h1m0 5h1m-2 1h1m-72 15h1m1 0h2m2 2h1m-2 2h1m-1 3h1m69 3h1m-61 1h1m58 0h1m-119 3h1m3 0h1m59 0h1m41 0h1m-115 1h7m6 0h1m-15 1h1m-2 1h1m15 0h1m-18 1h1m84 0h1m2 0h1m-90 1h1m71 0h2m5 0h1m-62 1h1m57 0h2m26 0h2m-19 1h1m-90 1h1m109 0h2m-113 1h1m53 0h1m1 0h1m-36 1h1m30 1h1m-30 1h1m50 0h1m2 0h1m1 0h1m-50 1h1m27 0h1m-2 1h1m-23 1h1m15 0h1m-2 1h1m3 0h1m-56 1h1m37 0h1m10 0h1m4 0h1m-7 1h1m5 0h1m28 0h1m22 0h1m-108 1h1m54 0h1m52 0h1m-110 1h1m55 0h1m27 0h1m-1 1h1m-30 1h1m29 1h1m25 0h1m-116 1h1m22 0h1m19 0h1m72 0h1m-118 1h1m28 0h1m71 0h1m16 0h1m-76 1h1m74 0h1m-120 1h1m28 0h1m88 0h1m-120 1h1m21 0h1m74 0h1m2 0h1m18 0h1m-120 1h1m21 0h1m-24 1h1m20 0h2m86 0h1m-111 1h2"/><path stroke="#b0003d" d="M155 3h1m-2 1h1m-2 2h1m4 5h1m-69 21h2m-6 1h3m3 0h1m-2 2h1m-2 1h1m-1 1h1m-1 1h1m3 4h1m56 0h1m1 0h1m-57 1h1m57 0h1m-53 1h1m45 0h1m7 0h3m-117 1h3m58 0h1m-70 1h2m4 0h1m5 0h1m-15 1h1m74 0h1m-77 1h1m15 0h1m60 0h1m-79 1h1m113 0h1m-116 1h1m70 1h1m2 0h1m-76 1h1m70 0h1m-73 1h1m19 0h1m87 0h1m-110 1h1m101 0h1m7 0h1m2 0h1m-42 1h1m37 0h3m-114 1h1m58 0h1m13 0h1m38 0h1m-113 1h1m-1 1h1m73 0h1m4 0h1m-48 1h1m1 1h1m17 0h1m49 0h1m-46 1h1m-8 1h1m32 0h1m-1 1h1m21 0h1m2 3h1m-113 1h1m57 0h1m-60 1h1m42 0h1m43 0h1m26 0h1m-116 1h1m23 0h1m31 0h2m44 1h2m-81 1h1m81 0h1m12 0h1m-121 1h1m24 0h1m94 0h2m-123 1h1m26 0h1m74 0h1m17 0h2m-123 1h1m20 0h2m79 0h1m-104 1h2m20 0h2m22 0h1m63 0h1m-117 1h2m3 0h2m45 0h1m73 0h1m-127 1h6m111 1h1m7 0h1m-7 1h1"/><path stroke="#a10049" d="M156 3h1m-1 7h1m-1 12h1m0 1h1m-69 10h3m-4 1h1m2 0h1m-2 1h1m-2 1h1m-1 1h1m0 2h1m0 1h1m0 1h1m59 1h1m-57 1h1m1 0h3m60 0h1m-120 1h4m110 0h1m3 0h1m-126 1h2m4 0h2m3 0h2m-15 1h2m2 0h4m64 0h1m-74 1h1m15 0h1m99 0h1m-118 1h1m115 0h1m-118 1h1m113 1h1m-116 1h1m113 0h1m-116 1h1m87 0h1m25 0h1m-116 1h1m103 0h1m9 0h1m-94 1h1m50 0h1m-74 1h1m21 0h1m31 0h1m3 0h1m-6 1h1m57 0h1m1 0h1m-91 1h1m36 0h1m4 0h2m6 0h1m38 0h1m-53 1h1m-61 1h1m51 0h1m22 0h2m-77 1h1m-1 1h1m50 0h1m-52 1h1m55 0h1m-2 1h1m-57 1h1m82 1h1m-86 1h1m83 1h1m-34 1h1m-28 1h1m16 0h1m13 0h1m57 0h1m-118 1h1m117 0h1m-120 1h1m44 0h1m75 0h1m-123 1h1m93 0h1m8 0h1m-105 1h1m45 0h1m49 0h1m26 0h1m-131 1h1m5 0h1m109 0h1m11 0h1m-131 1h8m121 0h1m-130 1h2m2 0h3m-7 1h2m52 0h1m63 0h1m9 0h1m-3 2h1"/><path stroke="#930053" d="M157 3h3m-3 7h3m-2 7h1m-3 2h1m-68 15h2m-2 1h1m-2 2h1m0 1h1m-48 4h3m48 0h1m-53 1h6m48 0h1m54 0h1m-116 1h4m1 0h2m4 0h2m113 0h1m-128 1h1m2 0h4m7 0h1m100 0h1m8 0h2m-112 1h1m0 1h1m57 0h1m-59 1h1m-1 1h1m-21 1h1m19 0h1m52 0h2m5 0h1m-82 1h1m-2 1h1m91 0h1m-21 1h1m35 0h1m-110 1h1m109 0h1m4 0h1m-6 1h1m3 0h1m-55 1h1m4 0h2m5 0h1m29 0h1m-39 1h1m2 0h1m43 0h1m-87 1h1m2 0h3m21 0h1m12 0h3m5 0h1m-14 1h1m13 0h1m2 0h1m3 0h1m-23 1h1m22 0h1m20 1h1m-66 1h1m65 0h1m-50 2h1m26 0h1m24 0h1m-110 1h1m40 0h1m15 0h1m-1 1h1m25 0h1m-87 1h1m113 0h1m-116 1h1m59 0h1m26 0h1m-89 1h1m55 0h1m32 0h1m0 1h1m28 0h1m-29 1h1m10 0h1m18 0h1m-16 1h1m14 0h1m-126 1h1m29 0h2m78 0h1m-119 1h2m1 0h5m98 0h1m5 0h1m18 0h1m-133 1h1m108 0h3m-112 1h1m129 0h1m-131 1h1m120 2h1"/><path stroke="#84005e" d="M155 4h1m-2 4h1m0 1h1m1 9h1m-70 20h1m0 1h1m0 1h1m-53 1h2m4 0h2m45 0h1m-57 1h7m3 0h3m-14 1h7m6 0h1m106 0h1m-122 1h2m4 0h1m8 0h1m106 0h1m-123 1h1m123 0h1m2 0h1m-129 1h1m16 0h1m99 0h1m-119 1h1m-2 1h1m117 0h1m-120 1h1m79 0h1m36 0h1m-119 1h1m72 0h1m15 0h1m-91 1h1m21 0h1m50 0h1m4 0h1m2 0h1m7 0h1m-91 1h1m-1 1h1m105 0h3m-110 1h1m-1 1h1m59 0h1m12 0h1m-74 1h1m61 0h1m1 0h2m2 0h1m42 0h1m3 0h1m-116 1h1m61 0h3m4 0h1m3 0h1m37 0h1m2 0h1m-88 1h2m3 0h1m29 0h1m1 0h2m3 0h1m3 0h1m38 0h1m-79 1h1m31 0h2m6 0h1m28 0h1m-68 1h1m15 0h1m-15 1h1m12 0h1m7 0h1m-10 1h1m7 0h1m-10 1h1m7 0h1m49 0h1m-68 1h1m7 1h1m33 0h1m26 0h1m-113 1h1m42 0h1m7 0h1m32 0h1m-42 1h1m7 0h1m7 0h1m24 0h1m-1 1h1m29 0h1m-58 1h1m27 0h1m29 0h1m-120 1h1m45 0h1m74 0h1m-123 1h1m106 0h1m-110 1h2m27 0h1m2 0h1m-41 1h8m105 0h1m19 0h1m-135 1h1m55 0h1m76 0h1m-135 1h1m108 0h1m3 0h1m5 0h1m12 0h1m-133 1h1m118 0h1m-120 1h1m118 0h1m0 1h1m5 2h1"/><path stroke="#74006a" d="M158 4h2m-6 1h1m4 4h1m-4 11h1m-1 1h1m-70 17h1m0 1h1m0 1h1m-56 2h1m13 0h1m-16 1h1m14 0h2m44 0h1m-46 1h1m-18 1h1m16 0h1m106 0h1m4 0h1m-131 1h1m18 0h1m53 0h1m52 0h3m-130 1h1m19 0h1m55 0h1m42 0h1m-121 1h1m20 0h1m98 0h1m-122 1h1m21 0h1m96 0h1m-121 1h1m76 0h1m13 0h1m-93 1h1m92 0h1m-95 1h1m23 0h1m49 0h1m-75 1h1m116 0h1m-119 1h1m56 0h3m14 0h1m36 0h1m-50 1h1m3 0h3m48 0h1m-54 1h1m5 0h2m1 0h1m-20 1h1m16 0h3m30 0h1m-104 1h1m62 0h1m6 0h3m30 0h1m7 0h1m1 0h1m-62 1h1m9 0h1m2 0h1m2 0h2m3 0h1m5 0h1m-5 1h3m-78 3h1m39 0h1m42 0h1m-27 1h1m-60 1h1m81 1h1m29 0h1m-116 1h1m84 0h1m-87 1h1m45 0h1m39 0h1m-88 1h1m26 0h1m19 0h1m8 0h1m5 0h1m57 0h1m-122 1h1m26 0h1m63 0h1m31 0h1m-125 1h1m-9 1h7m48 0h1m57 0h1m-116 1h1m-2 1h1m114 0h1m3 0h1m-121 1h1m57 0h1m56 0h1m18 0h1m-135 1h1m-2 1h2m57 0h1m73 0h1m-2 1h1m-10 1h1m7 0h1m-5 1h1m1 0h1"/><path stroke="#640078" d="M156 4h2m1 1h1m-1 3h1m-4 1h3m-1 9h1m-72 21h1m0 1h1m1 1h1m-59 1h2m15 0h2m41 0h1m-61 1h1m17 0h1m-19 1h1m17 0h1m45 0h1m5 0h1m-72 1h1m18 0h1m52 0h1m-74 1h1m20 0h1m104 0h1m3 0h2m-133 1h1m21 0h1m53 0h1m-79 1h2m79 0h1m-83 1h2m74 0h2m44 0h1m-124 1h2m23 0h1m49 0h1m44 0h1m-121 1h1m73 0h1m6 0h2m-84 1h1m118 0h1m-120 1h1m59 1h1m45 0h1m11 0h1m-64 1h1m7 0h3m3 0h1m3 0h1m37 0h1m-40 1h1m38 0h1m5 0h1m-118 1h1m115 0h1m-83 1h1m80 0h1m-115 1h1m62 0h2m5 0h3m7 0h2m-21 1h1m4 0h2m6 0h1m-15 1h1m14 0h2m6 0h1m-84 1h1m105 0h1m1 1h1m-110 1h1m48 0h1m33 0h1m26 0h1m-53 1h1m22 0h2m-86 1h1m60 0h1m21 0h1m-1 1h1m-32 1h1m7 0h1m22 0h1m-59 1h1m58 0h2m32 0h1m-64 1h3m-64 1h1m28 0h1m19 0h1m44 0h1m12 0h2m17 0h1m-136 1h2m133 0h1m-138 1h2m115 0h1m2 0h1m-122 1h2m135 0h1m-139 1h2m116 0h1m2 0h1m-122 1h2m58 0h1m53 0h1m6 0h1m13 0h1m-137 1h2m120 0h1m0 1h1m4 2h1m3 0h1"/><path stroke="#570086" d="M158 5h1m-5 1h1m4 0h1m-6 1h1m4 0h1m-3 12h1m-1 3h1m-72 16h1m2 3h1m-59 1h1m19 0h1m39 0h1m-61 1h1m19 0h2m40 0h1m57 0h1m1 0h1m-123 1h1m19 0h2m42 0h1m1 0h1m52 0h1m3 0h1m-125 1h1m20 0h2m102 0h1m-127 1h1m-4 1h3m75 0h1m45 0h1m5 0h6m-137 1h2m24 0h1m98 0h1m-127 1h2m25 0h1m49 0h1m2 0h1m44 0h1m-126 1h1m80 0h1m-83 1h2m25 0h1m93 0h1m-122 1h1m93 0h1m-95 1h1m74 0h1m-76 1h1m56 0h1m4 0h1m4 0h2m5 0h1m36 0h1m-41 1h3m32 0h1m-81 1h1m28 0h1m-29 1h1m4 0h3m77 0h1m-112 1h1m52 0h1m-18 1h1m75 0h3m-114 1h1m36 0h1m13 0h1m10 0h1m1 0h2m2 0h2m2 0h2m4 0h1m-79 1h1m38 0h1m10 0h1m23 0h1m2 0h1m-38 1h1m8 0h1m9 0h1m15 0h3m5 0h1m-26 1h1m17 0h1m-1 1h2m-81 1h1m79 0h3m30 0h1m-116 1h1m81 0h2m-85 1h1m62 0h1m19 0h2m32 0h1m-119 1h1m83 0h2m33 0h1m-121 1h1m63 0h1m21 0h2m-89 1h1m30 0h1m17 0h1m13 0h1m26 0h2m33 0h1m-136 1h9m32 0h1m-44 1h2m39 0h2m63 0h1m13 0h1m-123 1h2m59 0h1m47 0h1m29 0h1m-141 1h2m109 0h1m8 0h1m1 0h1m-124 1h2m111 0h1m7 0h2m16 0h1m-140 1h2m113 0h1m1 0h6m15 0h1m-139 1h1m124 2h1m9 0h1"/><path stroke="#550690" d="M155 5h1m2 3h1m-74 30h1m0 1h1m0 1h1m0 1h1m-59 1h1m21 0h2m36 0h1m-61 1h1m22 0h1m98 0h1m-123 1h1m22 0h1m40 0h1m-67 1h2m23 0h1m96 0h1m-126 1h4m23 0h1m97 0h1m4 0h1m-132 1h2m26 0h1m102 0h1m-133 1h2m27 0h1m50 0h3m1 0h1m43 0h1m3 0h6m-138 1h1m76 0h1m49 0h3m-131 1h2m27 0h1m47 0h1m8 0h1m37 0h1m-125 1h1m-1 1h1m75 0h1m19 0h1m-97 1h1m26 0h1m93 0h1m-122 1h1m63 0h4m2 0h1m40 0h1m0 1h1m7 0h1m-89 2h1m86 0h1m-83 1h1m75 0h1m4 0h1m-53 2h1m6 0h2m-6 1h2m5 0h1m4 0h1m-5 1h1m32 0h1m-60 1h1m25 0h2m1 0h2m30 0h1m-69 1h1m16 0h1m16 0h1m2 0h4m-41 1h1m16 0h1m16 0h2m-36 1h1m33 0h2m-36 1h1m34 0h1m-36 1h1m15 0h1m18 0h1m36 0h1m-66 1h1m27 0h2m37 0h1m-136 1h6m4 0h1m59 0h1m4 0h1m21 0h4m-103 1h3m136 0h1m-143 1h4m60 0h1m57 0h1m19 0h1m-143 1h2m120 0h2m-124 1h1m121 0h1m18 0h1m-2 1h1m-27 1h1m7 1h1m14 0h1m-15 1h1m12 0h1m-13 1h1m3 1h1m5 0h1"/><path stroke="#601498" d="M156 5h2m0 1h1m-1 1h1m-4 1h1m1 0h1m-74 30h1m0 1h1m0 1h1m0 1h1m1 1h1m-65 1h5m24 0h2m36 0h1m-69 1h6m24 0h2m3 0h4m35 0h1m-76 1h5m26 0h1m4 0h4m91 0h1m-133 1h3m28 0h2m5 0h3m40 0h1m-82 1h2m29 0h1m49 0h1m47 0h1m2 0h1m-133 1h1m79 0h1m3 0h1m45 0h3m6 0h1m-141 1h2m29 0h1m52 0h1m2 0h1m44 0h8m-140 1h1m125 0h7m-133 1h1m95 0h1m-29 2h2m6 0h1m-49 1h1m29 0h1m13 0h2m1 0h1m34 0h2m-84 1h1m84 1h1m7 0h1m-85 1h1m18 0h1m-54 2h1m51 0h1m58 0h1m3 0h1m-77 1h1m40 0h1m2 0h1m21 0h1m5 0h3m-73 1h1m20 0h1m2 0h2m2 0h5m32 0h1m-33 1h1m4 0h1m29 0h2m-111 1h1m41 0h1m17 0h1m13 0h1m8 0h1m-85 1h1m75 0h1m35 0h1m-115 1h1m77 0h1m-81 1h1m63 0h1m15 0h1m36 0h1m-119 1h1m64 0h1m15 0h2m-1 1h1m-97 1h6m6 0h1m49 0h1m15 0h1m17 0h1m40 0h1m-142 1h5m6 0h4m51 0h1m7 0h1m6 0h1m18 0h2m40 0h1m-143 1h3m62 0h1m35 0h5m1 0h2m-13 1h3m24 0h1m-29 1h4m43 0h1m-80 1h1m31 0h4m-3 1h2m15 1h1m25 0h1m-77 1h1m51 0h2m3 0h2m0 1h1m0 1h1m3 1h1m3 1h3"/><path stroke="#7027a0" d="M156 8h1m0 12h1m-1 1h1m-72 20h1m0 1h2m2 1h1m-71 1h3m32 0h2m5 0h1m29 0h1m59 0h1m-133 1h2m32 0h4m4 0h1m31 0h2m-77 1h2m33 0h1m2 0h2m3 0h1m90 0h1m-134 1h1m32 0h1m5 0h3m89 0h2m-133 1h1m31 0h1m47 0h1m-82 1h1m78 0h1m61 0h1m-142 1h1m85 0h1m47 0h6m-109 1h1m46 0h1m46 0h1m-96 1h1m93 0h1m-64 1h4m2 0h2m2 0h1m3 1h1m47 0h1m-66 1h1m64 0h1m-88 1h2m71 0h1m-79 1h3m80 0h1m-112 1h1m110 0h1m-74 1h1m13 1h1m62 0h1m-65 1h1m12 0h2m45 0h3m-71 1h1m18 0h1m5 0h3m2 0h2m37 0h1m-32 1h1m30 0h1m-52 1h1m13 0h1m-79 1h1m51 0h1m25 0h1m-27 1h1m25 0h1m-27 1h1m25 0h1m38 0h1m-134 1h5m8 0h1m54 0h1m10 0h1m14 0h2m39 0h1m-139 1h3m6 0h2m3 0h1m67 0h1m14 0h2m-55 1h1m36 0h1m14 0h3m-55 1h1m31 0h4m15 0h5m5 0h1m-12 1h1m3 0h5m-5 1h3m-8 1h1m4 0h1m-37 1h1m31 0h1m2 0h1m13 0h1m28 0h1m-79 1h1m32 0h2m16 1h1m2 0h3m18 0h1m-18 1h1m15 0h1m-2 1h1m-12 1h2m8 0h1m-6 1h1m3 0h1"/><path stroke="#803da8" d="M155 6h1m1 0h1m-1 1h1m-74 32h1m0 1h1m2 3h3m-27 1h1m34 0h1m1 0h1m49 0h1m-132 1h1m43 0h1m29 0h1m2 0h1m4 0h1m-47 1h2m6 0h1m86 0h1m1 0h1m-99 1h5m3 0h1m38 0h1m-49 1h1m5 0h3m37 0h1m-48 1h1m52 0h1m-55 1h1m45 0h1m8 0h1m52 0h2m-13 1h12m-72 1h2m6 0h1m-18 1h1m4 0h2m5 0h1m40 2h1m-79 1h1m2 0h1m18 0h1m65 0h1m-85 1h1m82 0h1m-83 1h1m15 0h1m64 0h1m-8 1h1m5 0h1m-117 1h1m39 0h1m40 0h1m28 0h1m-111 1h1m79 0h1m28 0h1m3 0h1m-114 1h1m48 0h1m12 0h1m2 0h2m3 0h2m8 0h1m2 0h1m-11 1h1m7 0h2m-85 1h1m49 0h1m24 0h1m-79 1h1m64 0h1m12 0h1m38 0h1m-119 1h1m65 0h1m12 0h1m-92 1h3m75 0h1m12 0h1m-89 1h2m73 0h1m12 0h1m42 0h1m-129 1h3m52 0h1m4 0h1m11 0h1m11 0h2m44 0h1m-76 1h1m5 0h1m9 0h1m11 0h2m46 0h1m-98 1h1m19 0h1m9 0h1m4 0h2m12 0h1m47 0h1m-79 1h1m28 0h1m9 0h2m3 0h1m33 0h1m-80 1h1m29 0h1m7 0h2m-4 1h2m9 0h1m30 0h1m-49 1h1m4 0h2m-6 1h1m2 0h2m40 0h1m-28 1h1m25 0h1m-20 1h1m1 1h1m0 1h2"/><path stroke="#8f54b0" d="M156 6h1m-2 1h2m-74 32h1m0 1h1m0 1h1m0 1h1m0 1h1m-23 1h1m22 0h5m7 0h1m51 0h1m-88 1h1m27 0h1m57 0h1m1 0h1m-89 1h1m29 0h3m4 0h1m49 0h1m-89 1h1m-10 1h5m3 0h1m35 0h1m-46 1h1m6 0h1m36 0h1m8 0h1m-55 1h1m-2 1h1m65 0h1m27 0h3m12 0h1m-75 1h2m2 0h1m63 0h7m-83 1h1m13 0h1m2 0h1m47 0h1m-67 1h1m65 0h1m-88 1h1m-4 1h1m78 0h1m-5 1h1m-1 1h1m-107 1h1m51 0h1m53 0h1m-65 1h1m8 0h1m31 0h1m32 0h1m-74 1h1m40 0h1m23 0h2m-46 1h2m16 0h1m30 0h1m-114 1h1m43 0h1m4 0h1m12 0h1m3 0h8m39 0h1m-117 1h2m45 0h1m17 0h1m10 0h1m39 0h1m-119 1h1m48 0h1m17 0h1m10 0h1m-89 1h2m57 0h1m17 0h1m10 0h1m40 0h1m-129 1h2m6 0h1m49 0h1m17 0h1m10 0h1m41 0h1m-128 1h1m4 0h1m50 0h1m17 0h1m9 0h2m44 0h1m-47 1h1m47 0h1m-98 1h1m37 0h1m9 0h1m-28 1h1m7 0h1m7 0h1m10 0h1m-16 1h4m10 0h1m12 0h3m-16 1h1m10 0h1m5 0h1m32 0h1m-51 1h1m8 0h2m-11 1h1m7 0h2m39 0h1m-49 1h1m5 0h1m11 0h1m28 0h1m-78 1h1m30 0h5m13 1h7m18 0h1m-18 1h1m15 0h1m-16 1h1m13 0h1m-8 1h1m5 0h1m-4 1h3"/><path stroke="#9d6bb9" d="M82 39h1m2 3h1m0 1h1m-21 1h1m19 0h2m-22 1h1m20 0h3m2 0h1m5 0h1m53 0h1m-59 1h1m-30 1h1m30 0h2m3 0h1m-38 1h1m32 0h2m-44 1h1m2 0h3m1 0h2m25 1h1m7 0h1m-10 1h3m6 0h1m-47 1h1m28 0h2m4 0h1m5 0h1m52 0h1m4 0h5m-105 1h1m43 0h2m60 0h6m-106 2h1m1 0h1m18 0h1m52 0h1m1 0h1m11 0h1m-95 1h1m8 0h1m84 0h1m-69 1h1m56 0h1m9 0h1m-69 1h1m66 0h1m-121 1h1m39 0h1m78 0h1m-9 1h1m-61 1h1m31 0h1m32 0h1m-72 1h1m38 0h1m30 0h1m19 0h3m-74 1h3m67 0h4m-142 1h2m70 0h6m61 0h2m-66 1h3m-86 1h1m6 0h1m68 0h1m7 0h2m-10 1h1m7 0h2m43 0h1m-128 1h1m2 0h1m70 0h1m7 0h1m47 0h1m-75 1h1m2 0h1m13 0h1m8 0h1m-27 1h1m3 0h1m12 0h1m7 0h1m50 0h1m-77 1h1m5 0h1m9 0h2m7 0h1m50 0h1m-79 1h1m10 0h2m4 0h2m-5 1h3m22 0h1m-2 1h1m38 0h1m-41 1h1m7 0h1m-19 1h1m7 0h2m-9 1h1m5 0h2m10 0h1m27 0h1m-29 1h1m0 1h3m4 0h1m2 2h4m1 0h1m2 1h1m3 0h1"/><path stroke="#ac81c3" d="M83 40h1m0 1h1m-1 1h1m0 1h1m-19 1h2m16 0h1m-19 1h1m18 0h1m3 0h2m-26 1h2m19 0h7m4 0h1m-33 1h1m21 0h3m3 0h2m2 0h3m-36 1h1m22 0h3m5 0h1m-41 1h2m6 0h1m23 0h3m6 0h1m-44 1h1m4 0h4m25 0h1m1 0h1m-38 1h1m33 0h1m3 0h1m-13 1h1m2 0h4m10 0h1m49 0h4m-72 1h1m66 0h1m8 0h2m-99 1h2m86 0h1m10 0h6m-107 1h1m3 0h1m71 0h1m13 0h1m12 0h4m-109 1h1m6 1h1m83 0h1m-84 1h1m71 0h1m-71 1h1m10 0h1m58 0h1m-111 1h1m42 0h1m73 0h1m16 0h3m-93 1h1m38 0h1m32 0h1m16 0h5m-144 1h3m52 0h1m83 0h1m3 0h1m-143 1h5m132 0h1m-70 1h4m66 0h1m2 0h1m-143 1h1m53 0h1m14 0h7m64 0h3m-89 1h1m15 0h1m4 0h2m-83 1h1m4 0h1m54 0h1m15 0h1m5 0h1m46 0h2m-129 1h2m53 0h1m2 0h1m15 0h1m5 0h1m49 0h1m-58 1h1m6 0h1m50 0h1m-76 1h3m14 0h1m-18 1h5m12 0h1m5 0h1m-26 1h3m15 0h1m6 0h1m51 0h1m-80 1h1m12 0h2m3 0h2m7 0h1m13 0h1m37 0h1m-81 1h1m15 0h4m8 0h1m12 0h1m-25 1h2m9 0h1m11 0h1m-41 1h1m27 0h1m10 0h2m6 0h1m30 0h1m-50 1h1m8 0h2m37 0h1m-3 1h1m-28 1h1m3 0h1m2 0h1m18 0h1m-27 1h3m6 0h1m15 0h1m-16 1h1m4 0h1m8 0h1m-14 1h1m6 0h1m1 1h3"/><path stroke="#bb98ce" d="M82 40h1m0 1h1m-9 2h1m8 0h1m-16 1h4m11 0h1m-17 1h3m14 0h1m13 0h1m1 0h1m-34 1h2m15 0h2m14 0h1m-35 1h1m18 0h2m3 0h3m-28 1h1m20 0h1m3 0h2m2 0h1m-31 1h1m21 0h1m3 0h1m4 0h1m-42 1h4m4 0h1m23 0h1m3 0h1m-38 1h1m3 0h5m16 0h2m5 0h1m5 0h1m-41 1h1m6 0h3m16 0h1m14 0h3m-38 1h3m85 0h1m1 0h6m-104 1h1m5 0h1m2 0h1m17 0h1m76 0h2m-102 1h1m101 0h2m-98 1h1m15 0h1m53 0h1m1 0h1m12 0h1m11 0h5m-87 1h1m69 0h1m11 0h5m-19 1h1m13 0h5m-98 1h3m75 0h1m13 0h6m-141 1h2m44 0h1m5 0h1m56 0h1m1 0h1m8 0h1m13 0h2m3 0h2m-143 1h2m2 0h1m44 0h1m86 0h1m-140 1h1m3 0h1m2 0h1m44 0h1m69 0h1m16 0h1m-139 1h1m50 0h1m2 0h1m65 0h1m-121 1h1m50 0h1m2 0h1m65 0h1m17 0h1m-145 1h1m125 0h1m17 0h2m-146 1h1m4 0h1m71 0h4m46 0h1m17 0h3m-147 1h1m55 0h1m19 0h1m2 0h2m49 0h2m-56 1h1m3 0h1m51 0h1m-76 1h2m16 0h1m4 0h1m52 0h1m-59 1h1m3 0h2m52 0h1m-59 1h1m3 0h1m53 0h1m-76 1h2m4 0h1m9 0h1m4 0h1m53 0h1m-77 1h2m14 0h2m4 0h1m15 0h1m1 0h1m-32 1h2m4 0h2m5 0h1m18 0h1m33 0h1m-81 1h1m14 0h2m2 0h2m6 0h1m13 0h1m37 0h1m-74 1h1m8 0h5m7 0h1m13 0h1m-41 1h1m3 0h4m6 0h5m8 0h1m11 0h2m5 0h1m-1 1h1m28 0h1m-30 1h1m5 0h2m-8 1h1m3 0h2m3 0h1m-7 1h1m6 0h1m15 0h1m-17 1h2m1 0h2m10 0h1m-15 1h2m7 0h1m3 0h1m-3 1h2"/><path stroke="#c9afd9" d="M80 40h2m-3 1h1m-3 1h2m4 0h1m-8 1h2m5 0h1m-11 1h5m5 0h1m-13 1h7m5 0h2m15 0h1m-31 1h8m6 0h1m14 0h2m-33 1h5m4 0h1m7 0h1m-19 1h2m8 0h1m8 0h1m6 0h2m-29 1h1m10 0h2m7 0h1m5 0h1m-29 1h2m11 0h3m6 0h1m5 0h1m3 0h1m-42 1h3m5 0h1m13 0h2m2 0h2m2 0h1m7 0h1m2 0h1m-44 1h1m3 0h2m3 0h1m14 0h1m-27 1h1m4 0h2m3 0h1m15 0h1m69 0h1m-93 1h1m4 0h1m85 0h4m3 0h1m-104 1h1m9 0h1m15 0h1m69 0h2m6 0h2m-105 1h2m78 0h1m14 0h2m7 0h2m-27 1h1m1 0h1m13 0h1m8 0h2m-83 1h1m69 0h2m9 0h2m-90 1h1m5 0h1m58 0h1m21 0h2m-88 1h1m62 0h1m22 0h1m-134 1h1m50 0h1m67 0h1m13 0h1m-134 1h2m46 0h1m1 0h1m81 0h2m-140 1h2m52 0h1m84 0h1m-139 1h1m137 0h1m-143 1h1m3 0h1m51 0h1m85 0h1m-143 1h1m55 0h1m70 0h5m11 0h1m-143 1h3m73 0h2m53 0h2m10 0h3m-90 1h2m18 0h3m53 0h1m-58 1h4m54 0h1m-59 1h3m55 0h1m-59 1h3m55 0h1m-75 1h4m11 0h4m-25 1h3m2 0h2m4 0h1m9 0h4m17 0h1m36 0h1m-77 1h3m14 0h1m3 0h1m15 0h1m-38 1h3m6 0h1m6 0h2m3 0h1m-22 1h1m1 0h2m4 0h2m5 0h2m4 0h1m52 0h1m-78 1h3m4 0h6m5 0h2m4 0h2m14 0h1m3 0h1m31 0h1m-34 1h2m30 0h1m-3 1h1m-23 1h1m1 0h1m18 0h1m-24 1h2m3 0h1m-6 1h1m4 0h1m5 0h1m2 0h1m7 0h1m-17 1h1m2 0h2m10 0h1m-16 1h4m7 0h1m2 0h2m-4 1h3"/><path stroke="#d7c4e3" d="M80 41h3m-4 1h2m1 0h1m-5 1h2m2 0h1m-5 1h5m-5 1h5m-5 1h6m-11 1h4m1 0h4m1 0h2m-16 1h8m1 0h3m4 0h1m-19 1h10m2 0h2m4 0h1m7 0h3m-30 1h1m3 0h7m3 0h2m3 0h1m7 0h1m-30 1h2m10 0h1m6 0h2m10 0h1m-42 1h3m6 0h2m11 0h1m-25 1h4m6 0h2m12 0h1m-23 1h1m6 0h1m14 0h1m73 0h3m-100 1h1m7 0h1m86 0h3m2 0h1m-93 1h1m13 0h1m72 0h2m3 0h2m-94 1h1m5 0h2m5 0h1m72 0h3m3 0h2m-93 1h1m2 0h4m4 0h1m56 0h1m1 0h1m13 0h4m3 0h2m-87 1h1m61 0h1m12 0h2m2 0h2m3 0h2m-85 1h1m2 0h1m69 0h1m9 0h2m-132 1h1m46 0h1m1 0h1m69 0h1m10 0h2m-84 1h1m68 0h1m12 0h1m-139 1h1m55 0h1m67 0h1m13 0h2m-141 1h1m1 0h1m53 0h2m82 0h1m-85 1h2m67 0h1m4 0h2m8 0h1m-141 1h1m1 0h1m54 0h1m73 0h3m6 0h2m-86 1h2m75 0h2m6 0h2m-10 1h2m7 0h4m-12 1h2m7 0h2m-11 1h2m-2 1h2m-3 1h2m-75 1h1m2 0h1m69 0h1m-82 1h1m2 0h1m3 0h1m4 0h1m9 0h3m17 0h1m37 0h1m-78 1h1m3 0h2m3 0h1m9 0h3m16 0h1m3 0h1m33 0h1m-80 1h1m1 0h2m4 0h4m9 0h4m16 0h1m3 0h1m33 0h1m-59 1h4m17 0h1m1 0h1m33 0h1m-2 1h1m-3 1h2m-24 1h1m20 0h1m-23 1h3m18 0h1m-23 1h4m7 0h2m-14 1h6m5 0h1m3 0h1m6 0h1m-23 1h6m4 0h1m5 0h1m5 0h1m-23 1h11m5 0h2m3 0h1m-18 1h7m6 0h5m-15 1h3m8 0h3"/><path stroke="#e2d4eb" d="M81 42h1m-2 1h2m0 4h1m-2 1h4m-4 1h4m-18 1h3m12 0h3m9 0h2m-30 1h10m18 0h1m-30 1h11m-12 1h12m-25 1h3m8 0h14m-25 1h2m9 0h14m75 0h2m-91 1h13m75 0h3m-91 1h5m2 0h5m57 0h1m18 0h3m-90 1h2m4 0h4m58 0h1m18 0h3m-84 1h4m58 0h1m13 0h2m2 0h3m-82 1h2m71 0h9m-82 1h1m71 0h10m-12 1h12m-13 1h13m-138 1h1m123 0h15m-140 1h3m123 0h4m2 0h8m-139 1h1m54 0h1m77 0h6m-5 1h6m-6 1h7m-6 1h7m-7 1h9m-9 1h9m-10 1h9m-83 1h2m71 0h10m-91 1h2m5 0h4m31 0h2m36 0h11m-92 1h3m6 0h3m30 0h3m35 0h12m-91 1h1m40 0h3m35 0h12m-49 1h1m35 0h13m-14 1h13m-14 1h14m-16 1h16m-17 1h17m-18 1h18m-29 1h3m8 0h18m-30 1h5m7 0h18m-30 1h5m6 0h19m-41 1h4m7 0h6m5 0h19m-40 1h6m3 0h8m3 0h20m-39 1h39m-38 1h38m-37 1h37m-34 1h34m35 0h2m-68 1h30m33 0h6m-68 1h30m32 0h6m-66 1h29m31 0h5m-63 1h27m24 0h6m1 0h4m-59 1h23m23 0h8m4 0h3m-59 1h19m23 0h11m1 0h7m-59 1h15m23 0h21m-57 1h14m3 0h2m6 0h32m-54 1h52m-51 1h48m-48 1h45m-46 1h43m-44 1h42m-42 1h37m-37 1h34m-37 1h33m-34 1h27m-28 1h22m-23 1h21m-21 1h13m-13 1h6m-5 1h2"/></g></g></g><use href="#o"/><path d="M731.5 37.0h0M776.8 37.0h0M587.2 39.5h0M674.0 41.5h0M752.3 59.0h0M597.2 65.3h0M520.9 82.6h0M692.2 93.8h0M730.3 96.6h0M565.1 105.1h0M788.6 105.8h0M474.1 106.6h0M715.3 114.6h0M661.0 117.1h0M509.1 120.3h0M436.5 130.6h0M748.5 141.6h0M570.4 146.4h0M686.5 146.4h0M522.1 152.1h0M782.3 157.9h0M638.9 164.1h0M512.1 166.6h0M462.1 167.9h0M684.7 168.4h0M596.7 173.9h0M545.4 177.1h0M739.8 184.6h0M489.6 187.9h0M575.4 198.9h0M509.6 202.7h0M781.8 204.7h0M653.0 207.2h0M409.5 209.2h0M760.5 221.4h0M505.8 222.2h0M462.8 223.4h0M148.4 224.7h0M596.7 230.9h0M311.7 231.4h0M374.8 234.7h0M699.7 234.7h0M200.4 235.2h0M241.4 237.2h0M763.5 247.9h0M539.1 249.2h0M419.5 253.9h0M633.9 254.7h0M476.3 255.4h0M592.9 257.9h0M221.4 259.7h0M728.0 259.7h0M334.0 260.4h0M146.4 262.2h0M280.2 262.2h0M677.2 263.9h0M759.0 274.7h0M517.9 276.0h0M378.5 276.5h0M652.7 276.7h0M255.4 279.2h0M607.2 280.5h0M692.2 285.5h0M461.6 286.5h0M558.4 286.5h0M212.2 288.5h0M411.5 291.0h0M313.5 291.5h0M162.1 296.5h0M652.7 301.0h0M357.8 303.0h0M716.0 303.5h0M536.6 304.7h0M115.8 310.5h0M430.8 316.0h0M577.9 318.5h0M789.1 318.5h0M477.8 319.0h0M750.5 319.7h0M304.2 320.2h0M243.4 323.0h0M630.2 324.7h0M693.5 325.5h0M74.6 331.5h0M187.1 331.5h0M383.0 332.2h0M747.3 332.2h0M349.8 333.0h0M657.7 341.8h0M451.3 343.0h0M232.2 352.3h0M572.9 352.8h0M514.6 354.3h0M274.2 356.0h0M617.7 359.8h0M699.7 360.5h0M130.1 363.5h0M769.8 364.8h0M375.5 367.8h0M188.9 370.3h0M547.1 372.8h0M480.8 374.0h0M328.0 376.0h0M43.8 377.3h0M444.5 377.3h0M727.3 380.6h0M651.5 383.7h0M594.2 401.7h0M698.5 404.9h0M763.5 407.9h0M642.9 411.2h0M719.8 436.9h0M763.0 447.9h0M741.0 463.2h0M666.7 471.2h0M702.2 484.5h0M895.4 495.5h0M816.6 509.5h0M726.5 515.0h0M714.8 528.3h0M737.3 532.0h0M771.5 541.3h0M719.8 544.5h0M695.2 547.5h0M694.4 424.8h0M608.2 436.2h0M653.7 441.1h0" stroke="#808080" stroke-width="27.5" stroke-linecap="round" fill="none"/><g font-size="21" font-weight="bold" text-anchor="middle"><text x="731.5" y="44.3">39</text><text x="776.8" y="44.3">94</text><text x="587.2" y="46.8">43</text><text x="674.0" y="48.8">34</text><text x="752.3" y="66.3">43</text><text x="597.2" y="72.6">56</text><text x="520.9" y="89.9">56</text><text x="692.2" y="101.1">22</text><text x="730.3" y="103.9">17</text><text x="565.1" y="112.4">39</text><text x="788.6" y="113.1">94</text><text x="474.1" y="113.9">62</text><text x="715.3" y="121.9">16</text><text x="661.0" y="124.4">27</text><text x="509.1" y="127.6">62</text><text x="436.5" y="137.9">69</text><text x="748.5" y="148.9">39</text><text x="570.4" y="153.7">27</text><text x="686.5" y="153.7">27</text><text x="522.1" y="159.4">62</text><text x="782.3" y="165.2">56</text><text x="638.9" y="171.4">22</text><text x="512.1" y="173.9">27</text><text x="462.1" y="175.2">83</text><text x="684.7" y="175.7">30</text><text x="596.7" y="181.2">22</text><text x="545.4" y="184.4">56</text><text x="739.8" y="191.9">39</text><text x="489.6" y="195.2">39</text><text x="575.4" y="206.2">29</text><text x="509.6" y="210.0">39</text><text x="781.8" y="212.0">69</text><text x="653.0" y="214.5">22</text><text x="409.5" y="216.5">99</text><text x="760.5" y="228.7">94</text><text x="505.8" y="229.5">94</text><text x="462.8" y="230.7">94</text><text x="148.4" y="232.0">90</text><text x="596.7" y="238.2">33</text><text x="311.7" y="238.7">90</text><text x="374.8" y="242.0">98</text><text x="699.7" y="242.0">39</text><text x="200.4" y="242.5">83</text><text x="241.4" y="244.5">83</text><text x="763.5" y="255.2">90</text><text x="539.1" y="256.5">94</text><text x="418.9" y="261.2" letter-spacing="-1.6">100</text><text x="633.9" y="262.0">43</text><text x="475.7" y="262.7" letter-spacing="-1.6">100</text><text x="592.9" y="265.2">94</text><text x="221.4" y="267.0">62</text><text x="728.0" y="267.0">94</text><text x="333.4" y="267.7" letter-spacing="-1.6">100</text><text x="146.4" y="269.5">83</text><text x="280.2" y="269.5">99</text><text x="677.2" y="271.2">83</text><text x="759.0" y="282.0">99</text><text x="517.9" y="283.3">69</text><text x="377.9" y="283.8" letter-spacing="-1.6">100</text><text x="652.7" y="284.0">94</text><text x="254.8" y="286.5" letter-spacing="-1.6">100</text><text x="607.2" y="287.8">43</text><text x="692.2" y="292.8">83</text><text x="461.6" y="293.8">83</text><text x="558.4" y="293.8">39</text><text x="212.2" y="295.8">43</text><text x="411.5" y="298.3">69</text><text x="312.9" y="298.8" letter-spacing="-1.6">100</text><text x="162.1" y="303.8">62</text><text x="652.7" y="308.3">98</text><text x="357.2" y="310.3" letter-spacing="-1.6">100</text><text x="715.4" y="310.8" letter-spacing="-1.6">100</text><text x="536.6" y="312.0">94</text><text x="115.8" y="317.8">98</text><text x="430.8" y="323.3">94</text><text x="577.9" y="325.8">62</text><text x="789.1" y="325.8">94</text><text x="477.8" y="326.3">94</text><text x="749.9" y="327.0" letter-spacing="-1.6">100</text><text x="304.2" y="327.5">62</text><text x="243.4" y="330.3">43</text><text x="630.2" y="332.0">43</text><text x="692.9" y="332.8" letter-spacing="-1.6">100</text><text x="74.0" y="338.8" letter-spacing="-1.6">100</text><text x="187.1" y="338.8">34</text><text x="383.0" y="339.5">69</text><text x="746.7" y="339.5" letter-spacing="-1.6">100</text><text x="349.2" y="340.3" letter-spacing="-1.6">100</text><text x="657.7" y="349.1">69</text><text x="451.3" y="350.3">98</text><text x="232.2" y="359.6">94</text><text x="572.9" y="360.1">62</text><text x="514.6" y="361.6">90</text><text x="274.2" y="363.3">33</text><text x="617.7" y="367.1">90</text><text x="699.7" y="367.8">83</text><text x="130.1" y="370.8">62</text><text x="769.2" y="372.1" letter-spacing="-1.6">100</text><text x="374.9" y="375.1" letter-spacing="-1.6">100</text><text x="188.9" y="377.6">83</text><text x="546.5" y="380.1" letter-spacing="-1.6">100</text><text x="480.8" y="381.3">90</text><text x="327.4" y="383.3" letter-spacing="-1.6">100</text><text x="43.8" y="384.6">83</text><text x="444.5" y="384.6">99</text><text x="726.7" y="387.9" letter-spacing="-1.6">100</text><text x="651.5" y="391.0">62</text><text x="594.2" y="409.0">98</text><text x="697.9" y="412.2" letter-spacing="-1.6">100</text><text x="762.9" y="415.2" letter-spacing="-1.6">100</text><text x="642.9" y="418.5">98</text><text x="719.2" y="444.2" letter-spacing="-1.6">100</text><text x="762.4" y="455.2" letter-spacing="-1.6">100</text><text x="740.4" y="470.5" letter-spacing="-1.6">100</text><text x="666.1" y="478.5" letter-spacing="-1.6">100</text><text x="701.6" y="491.8" letter-spacing="-1.6">100</text><text x="894.8" y="502.8" letter-spacing="-1.6">100</text><text x="816.0" y="516.8" letter-spacing="-1.6">100</text><text x="725.9" y="522.3" letter-spacing="-1.6">100</text><text x="714.2" y="535.6" letter-spacing="-1.6">100</text><text x="736.7" y="539.3" letter-spacing="-1.6">100</text><text x="770.9" y="548.6" letter-spacing="-1.6">100</text><text x="719.2" y="551.8" letter-spacing="-1.6">100</text><text x="694.6" y="554.8" letter-spacing="-1.6">100</text><text x="693.8" y="432.1" letter-spacing="-1.6">100</text><text x="608.2" y="443.5">99</text><text x="653.1" y="448.4" letter-spacing="-1.6">100</text></g><text transform="translate(8.0,548.5) scale(0.9636,1)" font-size="64">Latest Surface Estimate</text><path d="M714.7 565.5v-4.5" stroke="#000" stroke-width="1.5"/></g>
<g transform="translate(2000.5,1410.5)"><rect x="0" y="0" width="976" height="565.5" fill="#fff" stroke="#222" stroke-width="1.5"/><g clip-path="url(#c)"><g filter="url(#b)"><g transform="scale(5) translate(0,.5)" stroke-width="1.25" fill="none"><path stroke="#00c664" d="M114 29h1"/><path stroke="#00bf51" d="M115 29h1m-2 1h3m1 3h3m-3 1h3m-3 1h2"/><path stroke="#00b93e" d="M114 28h2m-3 1h1m2 0h1m0 1h1m-3 1h4m-3 1h5m-4 1h1m3 0h1m-5 1h1m3 0h1m-5 1h1m2 0h2m-5 1h4m-5 1h3m-3 1h2m-3 1h2"/><path stroke="#00b32a" d="M113 28h1m2 0h1m0 1h1m-5 1h1m4 0h1m-5 1h1m4 0h3m2 0h4m-13 1h1m5 0h8m-13 1h1m5 0h7m-13 1h1m5 0h5m-11 1h1m5 0h1m-7 1h1m4 0h1m-7 1h1m3 0h1m-5 1h1m2 0h1m-2 1h1m-2 1h1"/><path stroke="#06b018" d="M141 22h2m-2 1h2m-29 4h2m1 1h1m0 1h1m0 1h10m-7 1h2m4 0h1m0 1h1m-3 2h2m-6 1h4m-5 1h1m-3 1h2m-3 1h1m-6 1h1m3 0h1m-4 1h1m1 0h1"/><path stroke="#12b008" d="M141 21h2m-3 1h1m2 0h1m-4 1h1m2 0h1m-3 1h2m-27 3h1m1 1h1m0 1h10m0 1h1m-1 1h1m-16 1h1m0 1h1m13 0h1m-15 1h1m13 0h1m-15 1h1m11 0h2m-14 1h1m7 0h3m-4 1h1m-9 1h1m5 0h1m-2 1h1m-2 1h1"/><path stroke="#22b300" d="M140 21h1m2 0h1m-5 1h1m-1 1h1m-1 1h2m2 0h1m-4 1h2m-29 2h1m3 0h1m-6 1h1m6 0h10m-17 1h1m16 0h1m0 1h1m-18 1h1m16 0h1m-1 1h1m-1 1h1m-2 2h1m-4 1h3m-15 1h1m8 0h3m-5 1h2m-3 1h1m-7 1h1m4 0h1m-5 1h4"/><path stroke="#36b900" d="M139 20h4m-4 1h1m-2 1h1m5 0h1m-7 1h1m5 0h1m-7 1h1m-2 1h3m2 0h1m-29 1h3m19 0h5m-23 1h3m2 0h5m7 0h4m-10 1h2m4 0h3m-8 1h2m-20 1h1m18 0h1m-1 1h1m-1 1h1m-18 1h1m15 1h1m-17 2h1m14 0h1m-4 1h2m-5 1h2m-4 1h1m-2 1h1m-2 1h1"/><path stroke="#4cc100" d="M138 20h1m4 0h1m-6 1h1m5 0h1m-8 1h1m-1 1h1m-2 1h2m6 0h1m-9 1h1m6 0h1m-27 1h2m5 0h4m6 0h2m5 0h2m-31 1h1m8 0h2m5 0h7m4 0h2m-10 1h4m3 0h2m-8 1h6m-6 1h2m-2 1h1m-20 1h1m17 1h1m-31 1h1m12 0h1m16 0h1m-31 1h1m12 0h1m15 0h1m-1 1h1m-3 1h2m-5 1h3m-15 1h1m8 0h2m-3 1h1m-8 1h1m5 0h1m-5 1h4"/><path stroke="#64cb00" d="M138 19h5m-6 1h1m6 0h1m-8 1h1m-2 1h1m-1 1h1m-2 1h1m-11 1h2m7 0h2m8 0h1m-32 1h1m5 0h5m4 0h6m9 0h1m-3 1h1m-2 1h1m-3 1h2m-6 1h3m-25 1h1m20 0h1m-2 1h1m-32 1h1m30 0h1m-33 1h1m1 0h1m-3 1h1m1 0h1m28 0h1m-32 1h2m28 1h1m-18 1h1m14 0h2m-6 1h4m-15 1h1m8 0h2m-3 1h1m-2 1h1m-3 1h3"/><path stroke="#7ed500" d="M138 18h3m-5 1h2m5 0h1m-8 1h1m-1 1h1m8 0h1m-11 1h1m9 0h1m-11 1h1m9 0h1m-12 1h1m-20 1h10m2 0h7m8 2h1m-32 1h1m29 0h1m-31 1h1m28 0h1m-4 1h2m-5 1h1m-2 1h1m-32 1h1m10 0h1m18 1h1m-1 1h1m-31 1h1m28 0h1m-32 1h2m11 0h1m17 0h1m-2 1h1m-3 1h2m-6 1h3m-5 1h1m-8 1h1m5 0h1m-5 1h1m3 0h1m-4 1h3"/><path stroke="#9adf00" d="M136 18h2m3 0h2m-8 1h1m8 0h1m-10 1h1m-1 1h1m-2 1h1m-1 1h1m-14 1h13m11 0h1m-32 1h1m-3 1h1m31 0h1m-34 1h1m31 0h1m-2 1h1m-2 1h1m-31 1h1m27 0h1m-5 1h1m-36 2h1m32 0h1m-35 2h1m-1 1h1m13 0h1m18 0h1m-31 1h1m29 0h1m-2 1h1m-2 1h2m-5 1h4m-18 1h1m9 0h2m-11 1h1m7 0h1m-7 1h1m4 1h1"/><path stroke="#b0e700" d="M137 17h4m-6 1h1m7 0h1m-10 1h1m-1 1h1m10 0h1m-13 1h2m-2 1h1m-12 1h12m-17 1h4m-8 1h1m31 0h1m-2 2h1m-2 1h1m-2 1h1m-3 1h1m-5 1h3m-27 1h1m21 0h1m-36 2h1m3 0h1m9 0h1m19 0h1m-31 1h1m9 0h1m19 0h1m-35 2h1m0 1h3m29 0h1m-21 1h1m18 1h1m-7 1h5m-7 1h2m-3 1h1m-6 1h1m1 1h2"/><path stroke="#c0ec00" d="M135 17h2m4 0h1m-8 1h1m-2 1h1m11 0h1m-13 1h1m-3 1h2m13 0h1m-24 1h10m13 0h1m-28 1h3m24 0h1m-32 1h2m29 0h1m-35 1h1m-2 1h1m33 0h1m-5 4h1m-3 1h2m-40 1h1m33 0h1m-33 1h1m30 0h1m-37 3h1m4 0h1m29 0h1m-36 1h1m34 0h1m-35 1h1m12 0h1m20 0h1m-2 1h1m-21 1h1m19 0h1m-3 1h2m-7 1h3m-13 1h1m7 0h1m-2 1h1m-5 1h1m2 0h1"/><path stroke="#d0f100" d="M136 16h5m-7 1h1m7 0h1m-10 1h1m10 0h1m-14 1h2m-4 1h4m13 0h1m-23 1h7m-10 1h2m-6 1h2m-5 1h1m31 1h1m-2 2h1m-36 1h1m33 0h1m-35 1h1m32 0h1m-2 1h1m-32 1h1m29 0h1m-42 1h1m1 0h1m33 0h2m-39 1h1m35 0h1m-2 1h1m-37 1h1m35 0h1m-1 1h1m-32 1h1m30 0h1m-35 2h3m30 0h1m-22 2h1m0 1h1m14 0h3m-7 1h1m-9 1h1m6 0h1m-7 1h1"/><path stroke="#dff700" d="M134 16h2m5 0h1m-9 1h1m9 0h1m-13 1h2m12 0h1m-18 1h3m-6 1h4m-7 1h2m-5 1h2m-5 1h1m-4 1h1m-3 1h1m34 1h1m-37 1h1m35 0h1m-2 1h1m-2 1h1m-2 1h1m-2 1h1m-5 1h4m-30 1h1m-15 1h1m36 0h1m-1 1h1m-24 2h1m-15 1h1m4 0h1m30 0h1m-1 1h1m-2 1h1m-2 1h1m-2 1h1m-18 1h1m10 0h4m-5 1h1m-3 1h1m-4 1h2"/><path stroke="#edfc00" d="M135 15h6m-8 1h1m8 0h1m-12 1h2m11 0h1m-17 1h3m-5 1h2m18 0h1m-24 1h2m-5 1h2m-5 1h2m28 0h1m-34 1h2m31 0h1m-36 1h1m34 0h1m-1 1h1m-38 1h1m36 0h1m-2 2h1m-2 1h1m-36 1h1m33 0h1m-2 1h2m-46 1h1m11 0h1m30 0h2m-8 1h6m-30 1h1m-9 1h1m7 1h1m22 0h1m-39 1h1m37 0h1m-1 1h1m-37 1h1m3 0h1m31 0h1m-2 1h1m-2 1h1m-2 1h1m-4 1h2m-16 1h1m9 0h1m-3 1h1m-3 1h1"/><path stroke="#f7fb00" d="M137 14h1m-5 1h2m6 0h1m-11 1h2m10 0h1m-16 1h3m-5 1h2m18 0h1m-23 1h2m-5 1h2m24 0h1m-30 1h2m27 0h1m-32 1h1m-4 1h1m33 4h1m-1 1h1m-2 1h1m-2 1h1m-1 1h1m-43 1h1m40 0h1m-47 1h1m43 0h2m-40 1h1m31 0h6m-30 1h1m23 0h1m-40 1h1m6 0h1m31 0h1m-33 1h1m31 0h1m-1 1h1m-26 1h1m24 0h1m-36 1h2m8 0h1m23 0h1m-2 1h1m-23 1h1m20 0h1m-21 1h1m17 0h1m-6 1h3m-13 1h1m7 0h1m-7 1h1m3 0h1"/><path stroke="#fcf400" d="M134 14h3m1 0h3m-10 1h2m9 0h1m-15 1h3m13 0h1m-19 1h2m17 0h1m-22 1h2m-4 1h2m23 0h1m-29 1h2m-4 1h1m-3 1h1m-4 1h1m-2 1h1m-2 1h1m37 1h1m-40 1h1m38 0h1m-40 1h1m37 1h1m-2 1h1m-47 1h2m8 0h1m35 0h1m-2 1h1m-42 1h1m39 0h1m-3 1h3m-48 1h1m39 0h6m-6 1h3m-3 1h2m-42 1h1m6 0h1m6 0h1m25 0h2m-41 1h1m5 0h1m32 0h1m-38 1h1m35 0h1m-26 1h1m23 0h2m-3 1h1m-3 1h1m-19 1h1m14 0h2m-6 1h2m-4 1h1"/><path stroke="#ffec00" d="M135 13h4m-8 1h3m7 0h1m-13 1h2m12 0h1m-17 1h1m-3 1h1m20 0h1m-24 1h1m-4 1h2m-4 1h1m-4 1h2m-3 1h1m33 0h1m-1 1h1m-39 1h1m37 0h1m-1 1h1m-40 1h1m38 2h1m-40 1h1m38 0h1m-2 1h1m-49 1h1m2 0h1m44 0h1m-50 1h1m47 0h1m-36 1h1m33 0h2m-50 1h1m47 0h1m-3 1h2m-5 1h3m-4 1h2m-2 1h1m-2 1h1m-36 1h1m33 0h2m-2 1h1m-3 1h2m-4 1h2m-4 1h1m-17 1h1m11 0h2m-12 1h1m6 0h2"/><path stroke="#ffe400" d="M131 13h4m4 0h2m-12 1h2m11 0h1m-16 1h2m15 0h1m-20 1h2m18 0h1m-22 1h1m-3 1h1m24 0h1m-29 1h1m-4 1h2m30 0h1m-35 1h1m33 0h1m-37 1h2m-3 1h1m-3 2h1m39 1h1m-1 1h1m-1 1h1m-41 2h1m38 0h1m-2 2h1m-1 1h1m-2 1h1m-2 1h2m-51 1h1m46 0h3m-50 1h1m14 0h1m29 0h2m-3 1h2m-3 1h2m-42 1h1m4 0h1m5 0h1m28 0h1m-2 1h1m-28 1h1m25 0h2m-27 1h1m22 0h4m-26 1h1m18 0h2m3 0h3m-11 1h1m8 0h2m-14 1h2m-7 1h2m-69 23h2m-2 1h2"/><path stroke="#ffdc00" d="M132 12h8m-11 1h2m10 0h2m-16 1h2m14 0h1m-18 1h1m-3 1h1m-2 1h1m-4 1h2m-5 1h2m29 0h1m-34 1h1m-3 1h1m-3 1h1m-2 1h1m-2 1h1m39 0h1m-1 1h1m-1 4h1m-52 2h1m49 0h1m-39 1h1m37 0h1m-52 1h1m13 1h1m35 0h1m-52 1h1m8 0h1m41 0h1m-43 1h1m40 0h1m-42 1h1m37 0h2m-40 1h1m36 0h1m-46 1h1m7 0h1m4 0h1m30 0h1m-2 1h1m-31 1h1m28 0h1m-1 1h1m-1 1h1m-6 1h3m-23 1h1m15 0h2m5 0h1m2 0h1m-25 1h1m11 0h1m9 0h2m-21 1h2m2 0h4"/><path stroke="#ffd400" d="M133 11h6m-10 1h3m8 0h2m-15 1h2m14 0h1m-18 1h1m17 0h1m-20 1h1m19 0h1m0 1h1m-25 1h1m24 0h1m-29 1h1m-5 1h2m-3 1h1m-3 1h1m-3 1h1m38 0h1m-41 1h1m39 0h1m-42 2h1m-1 1h1m-1 1h1m41 0h1m-43 1h1m41 0h1m-52 2h2m48 0h1m-41 1h1m39 0h1m-53 1h1m6 0h1m43 1h1m-44 1h1m42 0h1m-38 1h1m36 0h1m-38 1h1m35 0h1m-3 1h2m-51 1h1m13 0h1m32 0h2m-3 1h1m-45 1h1m6 0h1m35 0h1m-40 1h1m37 0h1m-31 1h1m29 0h1m-30 1h1m28 0h1m-1 1h1m-9 1h2m1 0h2m-8 1h1m7 0h1m2 0h1m-14 1h1m-91 18h1m-1 1h1m16 3h2m-3 1h1m-1 1h1m0 1h1"/><path stroke="#ffcc00" d="M129 11h4m6 0h3m-15 1h2m13 0h1m-17 1h1m-2 1h1m-2 1h1m-2 1h1m-3 1h1m-6 1h3m29 0h1m-35 1h1m-3 1h2m35 0h1m-40 1h2m37 0h1m-41 1h1m-2 1h1m-1 1h1m41 1h1m-1 1h1m-43 3h1m41 0h1m-50 1h1m48 0h1m-48 1h1m45 1h1m-45 1h1m43 0h1m-54 1h1m51 2h1m-2 1h1m-3 1h1m-40 1h1m2 0h1m33 0h1m-35 1h1m32 0h1m-42 1h1m1 0h2m4 0h1m31 0h1m-1 1h1m-1 1h1m-30 1h1m28 0h1m-8 1h1m-20 1h1m14 0h2m-14 1h1m9 0h1m10 0h1m-17 1h5m-92 16h3m-3 1h1m1 0h1m-3 1h1m1 0h1m14 3h1m2 1h1m-1 1h1m-2 1h1"/><path stroke="#ffc400" d="M129 10h12m-14 1h2m13 0h1m-17 1h1m16 0h1m-19 1h1m18 0h1m-21 1h1m20 0h1m-23 1h1m22 0h1m-25 1h1m24 0h1m-29 1h2m27 0h1m-35 1h2m-4 1h2m35 0h1m-40 1h2m-3 1h1m-2 1h1m41 1h1m-44 1h1m42 0h1m-44 1h1m-1 1h1m-10 4h1m9 0h1m-12 1h1m52 0h1m-55 2h1m13 0h1m38 1h1m-1 1h1m-55 1h1m-1 1h1m14 0h1m37 0h1m-43 1h1m39 0h1m-51 1h1m47 0h1m-39 1h3m34 0h1m-44 1h1m4 0h1m2 0h1m33 0h1m-34 1h1m3 3h1m27 0h1m-10 1h1m2 0h2m-20 1h1m11 0h1m8 0h1m1 0h1m-19 1h1m5 0h1m-4 1h2m-90 14h1m-3 2h1m18 3h1m1 1h1m-4 3h1"/><path stroke="#ffbc00" d="M128 9h13m-14 1h2m12 0h2m-17 1h1m16 0h1m-19 1h1m18 0h1m-21 1h1m20 0h1m0 1h1m-26 2h1m-8 1h5m-7 1h2m35 0h1m-40 1h2m-3 1h1m-2 1h1m-2 1h1m42 0h1m-44 1h1m43 3h1m-45 1h1m43 0h1m-1 1h1m-53 1h2m50 0h1m-50 1h1m48 0h1m-44 1h1m-13 1h1m8 0h1m3 0h1m40 0h1m-1 1h1m-56 2h1m53 1h1m-44 1h1m-12 1h1m13 0h1m37 0h1m-41 1h2m36 0h1m-49 1h1m46 0h1m-39 1h2m35 0h1m-2 1h1m-33 1h1m31 0h1m-32 1h1m2 2h1m18 0h2m6 0h1m-12 1h1m6 0h1m-14 2h1m2 0h1m-87 8h2m-2 1h2m-2 1h1m-6 4h1m1 0h1m-4 1h1m3 0h1m-1 1h1m-5 1h1m0 1h2m15 1h1m1 0h1m0 4h1"/><path stroke="#ffb400" d="M128 8h13m-15 1h2m13 0h2m-18 1h2m16 0h1m-19 1h1m18 0h1m-21 1h1m20 0h1m-23 2h1m-2 1h1m24 0h1m-28 1h1m27 0h1m-38 1h3m-5 1h3m-4 1h2m-3 1h2m41 0h1m-44 1h1m42 0h1m-45 1h1m-1 1h1m-1 1h1m44 0h1m-46 1h1m44 0h1m-45 3h1m-10 1h1m-2 1h1m6 1h1m46 0h1m-57 3h1m10 0h1m3 0h1m39 0h1m-45 1h1m43 0h1m-45 1h1m3 0h1m38 1h1m-43 1h2m39 0h1m-3 1h1m-48 2h1m8 1h1m34 0h1m-35 1h1m32 1h1m-31 1h1m29 0h1m-27 2h1m14 0h2m3 0h1m-16 1h1m7 0h1m-7 1h1m4 0h1m-4 1h2m-87 7h1m-1 1h1m2 0h1m-4 1h1m1 0h1m-3 1h3m-7 2h4m-5 1h1m3 0h1m8 0h1m-1 1h2m-11 2h1m-2 1h1m17 1h1m-5 1h1m-1 1h1m-1 1h1m1 2h2"/><path stroke="#ffac00" d="M127 7h13m-15 1h3m13 0h2m-18 1h1m17 0h1m-20 1h1m19 0h1m-21 1h1m20 0h1m-23 2h1m22 0h1m0 1h1m-36 1h2m-4 1h10m-11 1h2m38 0h1m-42 1h1m-2 1h1m42 0h1m-45 1h1m-1 1h1m44 2h1m-46 3h1m45 1h1m-1 1h1m-56 1h1m3 0h1m5 0h1m44 0h1m-50 1h1m3 0h1m44 0h1m-57 1h1m9 1h1m1 0h1m42 0h1m-57 1h1m10 0h1m2 0h1m41 0h1m-42 2h1m39 1h1m-44 1h1m1 0h1m-15 2h1m51 0h1m-52 1h1m48 0h1m-48 1h1m45 0h1m-41 1h4m35 1h1m-34 1h1m2 2h1m28 0h1m-28 1h1m17 0h3m5 0h1m-22 1h1m9 0h1m7 0h2m-16 2h1m2 0h1m-88 6h3m-4 1h1m3 0h1m-5 1h1m-1 1h1m3 0h1m-6 1h2m3 0h1m-8 1h7m-8 1h1m4 0h1m-7 1h1m5 0h1m6 0h1m1 0h1m-16 1h1m5 0h1m6 0h1m-14 1h1m5 0h1m8 0h1m-16 1h1m0 1h1m17 0h3m-4 1h1m4 1h1m-1 1h1m-1 1h1m-6 1h1m0 1h1"/><path stroke="#ffa400" d="M128 5h6m-18 1h4m5 0h15m-25 1h5m4 0h3m13 0h4m-29 1h3m5 0h2m18 0h2m-22 1h2m19 0h1m-22 1h1m21 0h1m-23 1h1m-1 1h1m22 0h1m-37 2h4m8 0h1m-14 1h3m2 0h2m5 0h1m26 0h1m-41 1h2m39 0h1m-43 1h2m-3 1h2m42 0h1m-45 1h1m-2 1h1m-1 1h1m-1 1h1m45 0h1m-47 1h1m-1 1h1m-1 1h1m46 0h1m-1 1h1m-47 1h1m-10 1h4m-5 1h1m5 0h1m-7 1h1m8 1h3m44 0h1m-58 1h1m11 0h1m44 0h1m-2 2h1m-1 1h1m-58 1h1m-1 1h1m13 0h1m40 1h1m-4 2h1m-2 1h1m-44 1h2m40 0h1m-37 1h1m34 1h1m-33 1h1m2 2h1m16 1h1m5 0h1m2 0h1m-19 1h1m6 0h1m-2 1h1m-5 1h3m-88 5h1m3 0h1m67 0h2m-2 1h2m-75 1h1m5 0h1m-8 1h2m5 0h1m-11 1h4m6 0h1m-11 1h2m7 0h1m-10 1h1m6 0h2m3 0h3m-8 1h1m4 0h1m-6 1h1m4 0h1m3 0h1m-3 1h1m1 0h1m-11 1h1m-7 1h1m4 0h1m12 0h1m3 0h1m-21 1h2m19 0h1m-2 5h1"/><path stroke="#ff9c00" d="M117 4h3m5 0h12m-22 1h13m6 0h7m-27 1h2m4 0h5m15 0h4m-30 1h1m5 0h4m20 0h1m-31 1h1m3 0h5m22 0h1m-33 1h5m4 0h1m22 0h1m-32 1h1m-2 1h1m32 0h1m-36 1h3m-5 1h6m7 0h1m24 0h1m-40 1h2m4 0h2m32 0h1m-42 1h2m7 0h1m3 0h1m-15 1h2m-3 1h2m43 0h1m-46 1h1m-2 1h2m-2 1h1m46 0h1m-48 1h1m46 0h1m-48 1h1m-1 1h1m-1 1h1m47 0h1m-48 2h1m-9 1h3m-4 1h1m4 0h1m4 0h1m46 0h1m-1 1h1m-59 1h1m10 0h1m46 0h1m-59 1h1m11 2h2m43 0h1m-59 2h1m12 1h1m43 0h1m-2 1h1m-57 1h1m53 1h1m-52 2h1m3 1h1m5 1h1m36 0h1m-36 1h1m33 1h1m-32 1h1m6 2h1m12 0h1m3 0h1m-7 1h1m-8 1h1m3 1h1m-88 4h3m79 0h1m-2 1h2m-85 1h1m5 0h1m-10 1h3m-6 1h5m-4 1h1m-1 1h1m10 0h2m-13 1h1m9 0h3m3 0h1m-17 1h1m8 0h4m4 0h1m-18 1h1m17 0h1m-19 1h1m7 0h1m5 0h1m3 0h1m-19 1h1m16 0h5m-4 1h1m-17 1h1m2 0h1m18 4h1"/><path stroke="#ff9400" d="M119 3h19m-18 1h5m12 0h4m0 1h2m-30 1h1m30 0h1m-33 1h2m31 0h1m-34 1h2m32 0h1m-36 1h2m5 0h4m24 0h1m-37 1h4m1 0h2m5 0h1m23 0h1m-39 1h5m1 0h2m6 0h1m-16 1h4m3 0h1m7 0h1m24 0h1m-42 1h3m6 0h1m-10 1h2m13 0h1m-17 1h2m10 0h3m29 0h1m-46 1h2m-2 1h1m-2 1h2m-2 1h1m47 0h1m-49 1h1m-1 1h1m-1 1h1m48 1h1m-49 2h1m-8 1h3m53 0h1m-58 1h1m3 0h2m3 0h1m47 0h1m-59 1h1m6 0h1m-8 1h1m7 0h1m2 0h1m-3 1h2m47 1h1m-1 1h1m-60 1h1m-1 1h1m12 0h1m1 0h1m42 0h1m-46 1h1m44 0h1m-44 1h1m-16 3h1m0 1h1m51 0h1m-2 1h1m-2 1h1m-40 1h1m37 1h1m-35 1h1m2 2h1m28 0h1m-25 1h1m14 0h3m5 0h1m-13 2h1m-7 1h1m0 1h3m-4 2h1m-85 1h1m3 0h1m67 0h2m8 0h1m1 0h1m-86 1h1m5 0h1m68 0h1m6 0h1m2 0h1m-89 1h3m75 0h1m6 0h3m-91 1h3m77 0h1m-68 1h1m-14 1h1m12 0h1m-14 1h1m13 0h2m-16 1h1m-1 1h1m18 0h1m-10 1h4m0 1h1m5 0h1m-4 1h1m5 0h2m-24 1h1m6 0h1m16 0h1m-24 1h1m4 0h1m11 0h1m-1 1h1m6 0h1m-8 1h1m6 0h1m-8 1h1m0 2h1m1 1h2"/><path stroke="#ff8c00" d="M138 3h3m0 1h2m0 1h2m-33 1h1m32 0h1m-36 1h2m34 0h1m-38 1h3m-5 1h4m-5 1h4m7 0h1m3 0h1m-17 1h3m8 0h1m30 0h1m-43 1h2m8 0h1m-12 1h2m15 0h1m26 0h1m-46 1h3m10 0h1m-14 1h2m-3 1h2m46 0h1m-49 1h2m-3 1h2m48 0h1m-51 1h2m-1 1h1m-1 1h1m49 1h1m-50 1h1m-1 1h1m-8 1h4m3 0h1m49 0h1m-59 1h2m3 0h2m1 0h2m-10 1h1m6 0h1m1 0h1m-11 1h1m10 0h1m48 0h1m-61 1h1m10 0h1m48 0h1m-61 1h1m59 0h1m-61 1h1m59 0h1m-61 1h1m58 1h1m-46 1h1m44 0h1m-45 1h1m-17 1h1m14 0h1m43 0h1m-60 1h1m57 0h1m-2 1h1m-2 1h1m-54 2h1m3 1h1m4 1h1m39 0h1m-38 1h1m2 2h1m31 0h1m-27 2h1m3 1h1m9 0h1m5 0h3m-18 1h1m5 1h1m-6 1h1m-1 1h3m-86 1h3m79 0h1m1 0h1m-87 1h1m74 0h1m-79 1h3m72 0h1m-79 1h3m75 0h1m-80 1h1m13 0h1m65 0h1m1 0h1m7 0h1m-91 1h1m-1 1h1m14 0h1m-16 1h1m16 0h1m1 1h1m-19 2h1m19 0h1m6 0h2m-29 1h1m9 0h1m10 0h3m1 0h3m-28 1h1m8 0h1m6 0h1m8 0h2m-9 1h1m7 0h1m-1 1h1m-1 3h1m-8 1h1m5 1h1m-5 1h1m2 0h1"/><path stroke="#ff8200" d="M141 3h2m0 1h2m0 1h1m0 1h1m0 1h1m-1 1h1m-1 1h1m-43 1h1m12 0h3m26 0h1m-44 1h1m12 0h1m3 0h1m-19 1h2m11 0h1m4 0h1m26 0h1m-47 1h2m12 0h1m-16 1h2m14 0h1m2 0h1m28 0h1m-50 1h3m47 0h1m-51 1h2m-3 1h3m49 0h1m-53 1h2m-2 1h2m-2 1h3m50 0h1m-54 1h3m50 0h1m-56 1h6m-7 1h7m-8 1h8m50 0h1m-60 1h2m4 0h3m-9 1h1m7 0h1m51 0h1m-62 1h2m8 0h1m50 0h1m-62 1h1m9 0h2m-12 1h1m10 0h1m49 3h1m-1 1h1m-62 2h1m14 0h1m44 0h1m-61 3h1m54 2h1m-2 1h1m-50 1h2m46 0h1m-43 1h1m2 1h1m1 1h1m34 0h1m-33 2h1m1 1h3m15 1h1m3 0h1m3 0h1m-11 1h1m-4 2h1m-6 1h1m-85 1h2m3 0h1m77 0h1m-86 1h2m6 0h1m65 0h1m9 0h1m3 0h1m-92 1h2m79 0h1m4 0h1m-89 1h1m13 0h1m68 0h1m4 0h1m3 0h1m-4 1h1m1 0h1m-77 1h1m0 1h1m1 1h1m-19 1h1m19 0h1m-21 1h1m20 0h1m6 0h1m-29 1h1m21 0h1m3 0h2m-16 1h3m10 0h1m3 0h1m-14 1h1m11 0h1m-28 1h1m26 0h1m-27 1h1m1 1h3m20 3h1m-7 2h1"/><path stroke="#ff7600" d="M143 3h2m0 1h1m0 1h1m0 1h1m-30 5h1m1 0h1m27 0h1m-32 1h1m-1 1h1m2 0h1m28 0h1m-50 1h1m17 0h2m-21 2h1m51 0h1m-54 1h1m-3 1h3m53 0h1m-57 1h3m53 0h1m-58 1h4m-4 1h4m-5 1h3m-4 1h3m57 0h1m-61 1h2m-3 1h2m-2 1h2m-2 1h1m-1 1h1m62 0h1m-1 1h1m-63 1h1m61 0h1m-63 1h1m61 0h1m-63 1h1m61 0h1m-63 1h1m-1 1h1m60 0h1m-2 2h1m-2 1h1m-2 1h1m-59 1h1m56 0h1m-57 1h1m0 1h1m7 2h1m2 1h1m38 0h1m-36 2h1m33 0h1m-2 1h1m-31 1h1m28 0h1m-10 1h3m5 0h1m-20 2h1m6 0h1m-8 1h1m-84 1h4m83 0h1m-91 1h2m73 0h2m12 0h1m-93 1h3m78 0h1m-83 1h1m12 0h1m78 0h1m-10 1h1m-86 1h1m83 0h1m4 0h1m3 0h1m-94 1h1m81 0h1m8 0h1m-92 1h1m-1 1h1m-1 1h1m22 1h1m4 0h1m1 0h1m-7 1h3m4 0h1m-31 1h1m29 0h1m-31 1h1m10 0h1m17 0h1m-30 1h1m9 0h1m7 0h1m-18 1h1m7 0h1m9 0h1m8 0h1m-27 1h2m3 0h1m20 0h1m-34 2h2m-3 1h3m-2 1h1m24 0h1m2 2h2"/><path stroke="#ff6a00" d="M145 3h1m0 1h1m0 1h1m0 2h1m-1 1h1m-1 1h1m-1 1h1m-30 1h1m0 1h1m-3 1h1m31 1h1m0 1h1m0 2h1m-60 2h3m-3 1h2m-3 1h3m-3 1h2m59 0h1m-63 1h2m-2 1h2m-2 1h1m62 0h1m-64 1h1m-1 1h1m63 0h1m-65 1h1m-1 1h2m-1 1h1m62 3h1m-1 1h1m-64 1h1m61 0h1m-63 1h1m61 0h1m-63 1h1m60 0h1m-62 1h1m59 0h1m-4 2h1m-2 1h1m-52 1h1m49 0h1m-46 1h1m43 0h1m-42 1h1m2 1h1m36 0h1m-35 2h1m0 1h1m7 1h1m10 1h1m-4 2h1m-92 1h2m4 0h1m-10 1h2m8 0h1m65 0h1m2 0h1m-82 1h1m92 0h1m-95 1h1m77 0h1m5 0h1m2 0h1m-89 1h1m85 0h3m5 0h1m-79 1h1m63 0h1m4 0h1m2 0h1m-6 1h1m5 0h2m1 0h1m-75 1h1m1 1h1m1 1h1m-23 1h1m23 0h1m1 0h2m3 0h1m-32 1h1m-1 1h1m-1 1h1m12 0h1m2 0h1m14 0h1m-32 1h1m29 0h1m-30 1h1m0 1h1m6 0h1m10 0h1m-25 1h3m30 0h1m-35 1h1m2 0h1m30 0h1m-32 1h1m-4 1h1m1 0h2m29 0h1m-33 1h1m30 0h1m-5 1h1"/><path stroke="#ff5c00" d="M146 3h1m0 1h1m0 2h1m-31 6h2m29 0h1m-31 1h1m30 0h1m0 1h1m0 2h1m-63 4h3m60 0h1m-64 1h2m61 0h1m-64 1h2m-3 1h2m-2 1h2m63 0h1m-66 1h2m-2 1h2m64 0h1m-67 1h2m-2 1h2m65 0h1m-67 1h1m65 0h1m-66 1h1m64 0h1m-65 1h1m63 0h1m-65 1h1m63 0h1m-65 1h1m63 0h1m-65 1h1m62 1h1m-65 2h1m62 0h1m-2 1h1m-62 1h1m58 0h1m-59 1h1m0 1h1m1 1h1m49 2h1m-40 1h1m36 2h1m-32 2h1m7 1h1m10 0h1m4 0h4m-11 1h1m-93 1h6m-10 1h3m7 0h1m67 0h1m8 0h1m5 0h1m-96 1h2m86 0h1m5 0h1m-96 1h1m13 0h1m63 0h1m9 0h1m-90 1h1m85 0h2m-89 1h1m16 0h1m62 0h1m-81 1h1m86 0h2m6 0h1m-96 1h1m17 0h1m63 0h1m2 0h1m3 0h1m4 0h1m-95 1h1m19 0h1m71 0h2m-94 1h1m21 0h1m-23 1h1m23 0h1m4 0h3m-32 1h1m25 0h1m-27 1h1m94 0h3m-98 1h1m95 0h2m-98 1h1m14 0h2m-17 1h1m12 0h1m5 0h1m-21 1h3m10 0h1m18 0h1m-35 1h6m8 0h1m-16 1h1m3 0h8m13 0h1m-27 1h1m4 0h2m19 0h1m-27 1h1m4 0h1m-6 1h1m4 0h1m-5 1h1m1 0h2m22 0h1m0 1h1m3 0h1"/><path stroke="#ff4c00" d="M147 3h1m0 1h1m-1 1h1m0 3h1m-1 1h1m-1 1h1m-1 1h1m2 4h1m0 2h1m-1 1h1m-1 1h1m-65 3h1m-2 1h1m65 0h1m-68 1h2m-2 1h2m66 0h1m-69 1h2m-2 1h2m67 0h1m-69 1h1m-1 1h2m67 0h1m-69 1h2m66 0h1m-68 1h2m65 0h1m-67 1h1m65 0h1m-67 1h1m-1 1h1m64 0h1m-66 1h1m64 0h1m-66 1h1m63 0h1m-1 1h1m-65 1h1m62 0h1m-3 1h1m-3 1h1m-56 2h1m5 1h1m45 0h1m-44 1h1m1 1h1m39 0h1m-38 1h1m35 0h1m-3 2h1m-32 1h1m1 0h2m3 0h1m22 0h1m-10 1h4m-103 2h4m6 0h1m-13 1h2m77 0h1m1 0h1m-83 1h1m13 0h1m68 0h1m-85 1h1m84 0h1m-87 1h1m95 0h1m-11 3h3m6 0h1m-6 1h2m2 0h1m-72 1h1m69 0h2m-70 1h4m65 0h2m-2 1h3m-64 1h1m60 0h1m-62 1h1m61 0h1m-97 1h1m96 0h2m-99 1h1m32 0h1m-35 1h1m21 0h1m-25 1h1m34 0h1m-37 1h1m12 0h2m-8 1h2m-10 1h1m6 0h1m19 0h1m8 0h1m-37 1h1m6 0h1m19 0h1m-27 1h1m4 0h1m28 0h1m-34 1h3m23 0h1m5 0h1m-5 1h3"/><path stroke="#ff3d00" d="M148 3h1m0 2h1m-1 1h1m-1 1h1m0 5h1m0 1h1m0 1h1m0 2h1m0 6h1m0 2h1m0 2h1m-70 2h1m69 0h1m-71 1h1m-1 1h2m-2 1h3m-2 1h3m-2 1h2m66 0h1m-69 1h2m66 0h1m-69 1h2m-1 1h1m65 0h1m-67 1h1m65 0h1m-67 1h1m64 0h1m-65 1h1m61 0h1m-62 1h1m0 1h1m55 0h1m-2 1h1m-52 1h4m2 1h1m1 1h1m4 2h1m0 1h1m4 1h1m-4 1h1m27 0h1m-108 1h11m76 0h1m9 0h1m-100 1h2m78 0h1m8 0h1m7 0h1m-99 1h1m13 0h1m64 0h1m-81 1h1m78 0h1m-81 1h1m86 0h1m1 0h1m7 0h1m-81 1h1m-19 1h1m96 0h1m-98 1h1m18 0h1m-20 1h1m19 0h1m-21 1h1m21 0h1m61 0h3m3 0h1m5 0h1m-97 1h1m24 0h1m66 0h2m2 0h1m-97 1h1m32 0h1m59 0h2m2 0h1m-98 1h1m33 0h1m59 0h1m3 0h1m-99 1h1m93 0h1m4 0h1m-100 1h1m94 0h1m3 0h1m-101 1h1m34 0h1m61 0h1m2 0h1m-101 1h1m15 0h1m3 0h1m-22 1h1m34 0h1m-38 1h1m89 0h2m-77 1h1m20 0h1m53 0h2m-93 1h1m9 0h1m-3 1h2m-2 1h1m27 0h1m-37 1h1m6 0h1m19 0h1m-27 1h1m3 0h2m-5 1h3m24 0h1m3 0h1"/><path stroke="#ff2e00" d="M149 3h1m-1 1h1m0 5h1m-1 1h1m-1 1h1m0 1h1m0 1h1m0 2h1m0 6h1m1 4h1m0 2h1m0 1h1m-1 1h1m-1 1h1m-73 1h1m71 0h1m-73 1h2m70 0h1m-73 1h3m69 0h1m-71 1h1m69 0h1m-2 1h1m-69 1h1m67 0h1m-70 1h2m67 0h1m-69 1h1m66 0h1m-67 1h1m63 0h2m-65 1h1m59 0h1m-58 2h1m1 1h1m50 1h1m-40 2h1m37 0h1m-2 1h1m-2 1h1m-28 1h2m-86 1h6m1 0h5m67 0h1m1 0h1m-83 1h2m11 0h1m66 0h2m18 0h1m5 0h2m-109 1h1m13 0h1m65 0h1m1 0h1m-84 1h1m83 0h1m13 0h1m-100 1h1m85 0h1m3 0h1m7 0h1m-100 1h1m17 0h1m61 0h1m8 0h1m-90 1h1m79 0h1m0 2h1m15 0h1m-16 1h1m-60 1h1m59 0h1m3 0h3m-64 1h6m58 0h2m5 0h1m-6 1h1m5 0h1m-6 1h1m-1 1h1m-95 1h1m94 0h1m5 0h1m-53 1h1m46 0h1m4 0h1m-103 1h1m35 0h1m62 0h3m-103 1h1m16 0h1m71 0h2m-75 1h1m7 0h1m11 0h1m51 0h1m2 0h1m-94 1h1m16 0h1m75 0h1m-83 1h2m24 0h1m54 0h1m-94 1h1m10 0h1m-12 1h1m9 0h1m-2 1h1m-9 1h1m6 0h1m19 0h1m7 0h1m-35 1h1m3 0h2m21 0h1m5 0h1m-32 1h1m25 0h4"/><path stroke="#ff1f00" d="M150 4h1m-1 1h1m-1 1h1m-1 1h1m-1 1h1m0 3h1m1 3h1m0 1h1m-1 1h1m-1 1h1m-1 1h1m-1 1h1m-1 1h1m0 3h1m1 3h1m1 6h1m-1 1h1m-2 2h1m-1 1h1m-71 2h1m68 0h1m-69 1h1m66 0h1m-67 1h1m61 0h1m-61 1h1m57 0h1m-56 2h1m52 0h1m-47 1h1m1 1h1m42 0h1m-41 1h1m1 1h1m0 1h1m-78 1h4m6 0h2m66 0h1m31 0h1m-113 1h2m6 0h1m5 0h1m74 0h1m21 0h1m-113 1h2m79 0h1m21 0h1m2 0h2m2 0h1m-112 1h2m83 0h1m15 0h1m-103 1h2m16 0h1m62 0h1m10 0h1m-93 1h1m17 0h1m61 0h1m-82 1h1m-1 1h1m98 0h1m-100 1h1m19 0h1m60 0h1m-82 1h1m-1 1h1m21 0h1m75 0h1m-99 1h1m24 0h1m72 0h1m-99 1h1m32 0h1m52 0h2m1 0h2m-91 1h1m34 0h1m56 0h1m-93 1h1m92 0h1m6 0h1m-101 1h1m35 0h1m56 0h1m7 0h1m-66 1h1m12 0h2m43 0h1m-96 1h1m36 0h1m13 0h1m44 0h1m-98 1h1m18 0h3m68 0h1m8 0h1m3 0h2m-106 1h1m23 0h1m13 0h1m50 0h1m2 0h1m-94 1h1m93 0h1m-96 1h1m38 0h1m51 0h1m-92 1h1m13 0h1m77 0h1m1 0h1m-83 1h1m25 0h1m-39 2h1m9 0h1m26 0h1m-38 1h1m8 0h1m17 0h1m-27 1h1m6 0h2m18 0h1m-27 1h2m1 0h4m19 0h2m4 0h1"/><path stroke="#ff1200" d="M150 3h1m0 7h1m0 2h1m0 1h1m0 1h1m1 10h1m0 1h1m1 9h1m-1 1h1m-1 1h1m-2 1h1m-73 1h2m70 0h1m-72 1h2m68 0h2m-70 1h1m63 0h5m-67 1h1m1 1h1m55 0h1m-2 2h1m-46 1h1m1 1h2m40 0h1m-2 1h1m-116 1h6m7 0h2m99 0h1m-116 1h3m4 0h6m2 0h2m-18 1h2m15 0h1m64 0h1m3 0h1m-88 1h2m16 0h1m67 0h1m19 0h2m5 0h1m-114 1h1m17 0h1m63 0h1m20 0h1m-105 1h1m101 0h1m-103 1h1m88 0h1m-91 1h1m80 0h1m19 0h1m-102 1h1m80 0h1m-82 1h1m55 0h1m43 0h1m-101 1h1m21 0h1m33 0h1m-30 2h5m54 1h1m2 0h1m10 0h1m-10 1h2m-56 1h1m54 0h2m-94 1h1m49 0h2m41 0h1m-94 1h1m48 0h1m2 0h1m40 0h2m8 0h1m-105 1h1m49 0h1m2 0h1m41 0h2m7 0h1m-106 1h1m38 0h1m12 0h2m35 0h2m1 0h2m5 0h1m6 0h1m-108 1h1m19 0h1m73 0h1m8 0h5m-109 1h1m19 0h1m19 0h1m-22 1h1m7 0h1m67 0h1m-97 1h1m15 0h3m9 0h1m11 0h1m51 0h1m-93 1h1m27 0h1m-29 1h1m11 0h1m15 0h1m10 0h1m-40 1h1m11 0h1m15 0h1m-29 1h1m10 0h1m26 0h1m-38 1h1m9 0h1m16 0h1m8 0h1m-37 1h2m7 0h1m17 0h1m7 0h1"/><path stroke="#ff0600" d="M151 3h1m-1 1h1m-1 1h1m-1 1h1m-1 1h1m-1 1h1m-1 1h1m0 2h1m0 1h1m0 1h1m0 1h1m-1 1h1m-1 1h1m-1 1h1m-1 5h1m4 14h1m-2 1h1m-76 1h2m73 0h1m-74 1h1m72 0h1m-73 1h2m69 0h1m-70 1h2m60 0h1m4 0h2m-66 1h1m1 1h1m1 1h4m1 0h1m46 1h1m-118 1h5m10 0h1m57 0h1m43 0h1m-119 1h7m7 0h4m60 0h1m38 0h1m-120 1h3m6 0h2m2 0h3m2 0h2m-20 1h2m17 0h1m62 0h1m33 0h1m6 0h3m-127 1h2m18 0h1m104 0h1m-127 1h2m19 0h1m-22 1h2m92 0h1m11 0h1m4 0h4m-115 1h1m76 0h1m4 0h1m6 0h1m-91 1h2m75 0h6m9 0h2m9 0h1m-104 1h1m76 0h5m-82 1h1m21 0h1m33 1h1m1 0h1m-3 1h1m1 0h1m42 0h1m-101 1h1m23 0h1m30 0h2m26 0h1m16 0h1m-101 1h1m31 0h1m51 0h1m15 0h1m-101 1h1m34 0h1m49 0h1m-86 1h1m86 0h4m10 0h1m-102 1h1m90 0h1m10 0h1m-51 1h1m38 0h2m-94 1h1m91 0h2m-95 1h1m89 0h6m10 0h1m-108 1h1m51 0h1m42 0h5m8 0h1m-110 1h1m89 0h1m5 0h1m5 0h2m5 0h1m-111 1h1m90 0h1m5 0h1m8 0h5m-111 1h1m90 0h1m16 0h2m-91 1h1m76 0h1m-98 1h1m14 0h1m25 0h1m52 0h3m-97 1h1m13 0h1m-15 1h1m39 0h1m68 0h2m-111 1h1m12 0h1m14 0h1m80 0h2m-111 1h2m11 0h1m13 0h2m10 0h1m69 0h2m-110 1h1m10 0h2m13 0h2m9 0h1"/><path stroke="#fc0000" d="M152 9h1m-1 1h1m0 1h1m0 1h1m0 1h1m0 2h1m-2 3h1m-1 1h1m-1 1h1m-1 1h1m0 2h1m0 1h1m2 13h1m-1 1h1m-77 1h2m74 0h1m-76 1h2m72 0h1m-74 1h3m63 0h1m1 0h2m2 0h1m-70 1h3m58 0h1m-119 1h4m57 0h1m55 0h1m-120 1h7m8 0h2m48 0h1m4 0h1m-72 1h8m7 0h5m53 0h1m-76 1h4m5 0h2m5 0h3m1 0h2m54 0h1m-78 1h4m7 0h2m3 0h2m4 0h1m99 0h1m-123 1h2m11 0h2m7 0h1m60 0h1m36 0h2m1 0h5m-129 1h3m20 0h1m101 0h1m3 0h1m-130 1h2m21 0h1m61 0h1m5 0h1m2 0h1m23 0h1m7 0h1m1 0h2m-131 1h2m84 0h1m4 0h1m4 0h1m21 0h1m-119 1h2m21 0h1m54 0h2m5 0h1m5 0h1m17 0h1m2 0h1m-113 1h2m21 0h1m53 0h2m1 0h2m13 0h1m10 0h1m-107 1h1m22 0h1m53 0h1m-55 1h1m53 0h1m-21 1h3m18 0h5m20 0h1m-103 1h1m22 0h1m35 0h1m22 0h1m-83 1h1m23 0h1m30 0h1m3 0h1m23 0h1m-58 1h2m1 0h3m23 0h1m2 0h1m-25 1h1m21 0h1m-19 2h1m48 0h1m-37 1h2m36 0h3m-92 1h1m38 0h1m10 0h1m40 0h1m12 0h1m-66 1h1m14 0h1m34 0h3m13 0h1m-108 1h1m40 0h1m48 0h1m17 0h1m-110 1h1m55 0h1m33 0h1m19 0h1m-112 1h1m25 0h1m15 0h1m55 0h5m8 0h1m-85 1h1m70 0h1m6 0h1m5 0h1m-113 1h1m21 0h1m19 0h1m55 0h1m9 0h1m2 0h2m-113 1h1m20 0h1m87 0h3m-113 1h1m16 0h1m80 0h1m11 0h3m-113 1h1m109 0h3m-113 1h1m14 0h1m13 0h1m79 0h1m2 0h1m-113 1h1m14 0h1m12 0h1m12 0h1m67 0h1m2 0h1m-113 1h1m14 0h1m10 0h2m81 0h1m2 0h1m-113 1h2m13 0h1m9 0h3m12 0h1m69 0h2"/><path stroke="#f70000" d="M152 3h1m-1 1h1m-1 1h1m-1 1h1m-1 1h1m-1 1h1m0 2h1m0 1h1m0 1h1m0 1h1m-1 1h1m-1 2h1m-1 1h1m4 20h1m-1 1h1m-80 1h2m77 0h1m-79 1h2m75 0h1m-123 1h2m4 0h2m38 0h2m67 0h1m5 0h2m-131 1h18m38 0h3m67 0h4m-134 1h6m4 0h13m43 0h1m-68 1h5m7 0h2m2 0h4m2 0h3m44 0h1m54 0h1m-126 1h5m8 0h2m3 0h2m5 0h1m45 0h4m-75 1h3m11 0h2m1 0h2m6 0h2m98 0h1m-127 1h3m13 0h3m7 0h2m53 0h4m41 0h2m-128 1h3m23 0h1m98 0h1m5 0h1m-132 1h2m24 0h1m95 0h1m3 0h1m5 0h1m-134 1h3m125 0h1m-129 1h2m24 0h1m52 0h3m47 0h3m-132 1h2m77 0h1m2 0h1m29 0h2m5 0h1m-120 1h2m76 0h1m5 0h2m8 0h1m20 0h4m-119 1h2m76 0h1m27 1h1m-45 1h1m6 0h2m8 0h1m-78 1h1m55 0h1m10 0h2m34 0h1m-103 2h1m27 0h1m3 0h2m25 0h1m-60 1h1m34 0h1m19 0h1m1 0h2m-22 1h1m64 0h1m-17 1h1m16 0h1m-104 1h1m38 0h1m13 0h2m32 0h2m-35 1h1m33 0h3m-92 1h1m49 0h1m37 0h2m17 0h1m-110 1h1m51 0h1m4 0h1m32 0h1m-92 1h1m42 0h1m46 0h1m-92 1h1m23 0h1m31 0h2m33 0h1m-92 1h1m22 0h1m19 0h1m47 0h1m8 0h1m4 0h1m7 0h1m-115 1h1m99 0h1m7 0h1m5 0h1m-115 1h1m42 0h1m49 0h1m5 0h1m9 0h1m3 0h1m-115 1h1m18 0h5m71 0h1m14 0h1m3 0h1m-115 1h1m16 0h1m12 0h1m12 0h1m53 0h2m11 0h1m3 0h1m-116 1h2m28 0h1m84 0h1m-116 1h2m23 0h5m85 0h1m-117 1h3m23 0h3m15 0h1m71 0h1m-117 1h3m16 0h1m5 0h3m84 0h1m2 0h1"/><path stroke="#ef0004" d="M153 3h1m-1 1h1m-1 5h1m0 1h1m0 1h1m0 1h1m0 1h1m-1 1h1m-1 1h1m-1 1h1m-2 2h1m-1 4h1m0 1h1m-78 17h3m78 0h1m-81 1h3m77 0h1m-114 1h3m32 0h3m65 0h1m3 0h1m4 0h1m-136 1h1m23 0h2m34 0h7m64 0h4m-139 1h4m14 0h2m9 0h2m41 0h1m-73 1h3m15 0h3m8 0h2m23 0h1m18 0h1m4 0h3m47 0h1m-130 1h4m16 0h1m10 0h1m44 0h3m3 0h1m-82 1h2m28 0h1m50 0h2m47 0h5m-135 1h2m27 0h1m50 0h3m51 0h1m-136 1h3m27 0h1m49 0h4m42 0h3m-129 1h2m27 0h1m50 0h4m13 0h2m25 0h1m4 0h1m5 0h1m-135 1h1m78 0h1m3 0h1m4 0h1m40 0h1m3 0h1m-107 1h1m51 0h1m4 0h1m2 0h1m43 0h2m-23 1h2m3 0h1m-8 1h1m7 0h3m-59 1h4m5 0h4m6 0h1m37 0h1m-91 1h1m31 0h1m4 0h1m3 0h2m2 0h2m5 0h1m-16 1h1m3 0h2m2 0h2m6 0h6m-83 1h1m25 0h1m4 0h2m22 0h1m5 0h1m4 0h4m33 0h1m-69 1h1m19 0h1m47 0h1m-67 1h1m17 0h1m47 0h1m-103 1h1m37 0h1m15 0h4m27 0h1m-86 1h1m38 0h1m12 0h4m-6 1h1m35 0h1m17 0h1m-106 1h1m49 0h1m5 0h1m31 0h1m17 0h1m-108 1h1m56 0h1m30 0h1m-91 1h1m89 0h1m20 0h1m-113 1h1m53 0h1m4 0h1m53 0h1m-89 1h2m17 0h1m10 0h1m2 0h1m54 0h1m-115 1h1m101 0h4m-107 1h1m29 0h1m14 0h1m47 0h1m8 0h1m5 0h1m7 0h1m-118 1h2m23 0h1m76 0h1m7 0h1m5 0h2m3 0h2m-123 1h1m24 0h1m5 0h1m13 0h1m55 0h1m8 0h1m5 0h1m3 0h3m-124 1h2m18 0h1m3 0h3m71 0h1m2 0h1m9 0h1m5 0h1m-120 1h3m18 0h1m5 0h4m1 0h1m14 0h1m65 0h1m5 0h1m-125 1h2m2 0h4m18 0h1m5 0h1m19 0h1m65 0h1m5 0h1m-125 1h7m19 0h1m4 0h2m85 0h1m-119 1h7m20 0h5m19 0h1m71 0h1m-4 1h2"/><path stroke="#e5000c" d="M154 3h1m-2 2h1m-1 1h1m-1 1h1m-1 1h1m0 1h1m0 1h1m0 1h2m-1 1h2m-1 4h1m-2 1h1m-2 2h1m-1 1h1m-1 1h1m-78 20h2m-30 1h3m23 0h6m69 0h3m6 0h1m-111 1h3m21 0h10m65 0h1m4 0h1m4 0h2m-110 1h2m18 0h7m4 0h10m63 0h5m-141 1h1m31 0h1m19 0h3m1 0h3m7 0h3m4 0h1m62 0h4m-108 1h1m20 0h5m17 0h1m3 0h3m48 0h1m4 0h3m-106 1h1m21 0h3m19 0h6m54 0h2m-107 1h1m46 0h3m3 0h2m2 0h1m47 0h2m-107 1h1m47 0h1m4 0h1m4 0h1m46 0h1m-107 1h1m48 0h1m4 0h1m4 0h1m38 0h1m7 0h1m-108 1h1m49 0h1m16 0h1m26 0h1m5 0h1m5 0h1m-57 1h1m6 0h2m8 0h1m25 0h1m8 0h1m2 0h1m-107 1h1m50 0h1m17 0h2m14 0h3m5 0h1m-53 1h4m6 0h1m36 0h1m3 0h1m-93 1h1m36 0h2m1 0h2m4 0h1m4 0h1m36 0h2m1 0h1m-54 1h3m6 0h1m3 0h1m28 0h1m8 0h2m-60 1h1m6 0h3m6 0h1m4 0h1m-78 1h1m30 0h1m2 0h2m27 0h4m4 0h1m12 0h1m-84 1h1m60 0h1m4 0h3m15 0h1m-85 1h1m53 0h1m5 0h1m24 0h1m-33 1h2m4 0h1m44 0h1m-53 1h1m4 0h1m28 0h1m-87 1h1m40 0h1m14 0h1m-58 1h1m41 0h1m45 0h1m19 0h1m-110 1h1m42 0h1m66 0h1m-113 1h1m44 0h1m14 0h1m29 0h1m22 0h1m-115 1h1m45 0h1m44 0h1m-92 1h1m59 0h1m30 0h1m23 0h1m-117 1h1m45 0h1m45 0h1m23 0h1m-118 1h1m25 0h1m77 0h1m3 0h1m9 0h5m-124 1h1m31 0h1m14 0h1m62 0h1m8 0h3m2 0h1m-127 1h3m95 0h1m6 0h1m6 0h1m7 0h3m3 0h1m-133 1h8m21 0h3m3 0h1m3 0h1m14 0h1m50 0h1m4 0h1m15 0h6m-133 1h7m22 0h1m3 0h1m4 0h1m80 0h1m7 0h1m-129 1h3m2 0h2m23 0h1m3 0h1m85 0h1m-121 1h3m27 0h4m21 0h1m64 0h1m6 0h1m-128 1h3m118 0h1m0 1h1m2 0h1"/><path stroke="#da0016" d="M155 3h1m-2 1h1m-1 1h1m1 5h2m0 1h1m-1 6h1m-2 1h1m-1 4h1m-104 21h2m98 0h1m-101 1h3m13 0h2m7 0h4m67 0h1m4 0h1m5 0h1m-109 1h3m15 0h1m7 0h7m3 0h4m57 0h1m4 0h1m4 0h2m-109 1h2m16 0h2m5 0h2m6 0h4m3 0h2m56 0h4m3 0h3m-108 1h2m17 0h2m3 0h2m16 0h1m62 0h2m-108 1h2m19 0h4m19 0h2m8 0h2m50 0h1m-107 1h1m45 0h1m58 0h2m-108 1h1m46 0h1m46 0h3m9 0h1m-108 1h1m47 0h1m6 0h1m2 0h1m10 0h1m36 0h1m-108 1h1m48 0h1m20 0h1m30 0h1m4 0h1m-68 1h5m5 0h1m43 0h1m9 0h2m-106 1h1m32 0h8m4 0h2m2 0h2m31 0h1m3 0h2m5 0h1m-62 1h1m6 0h1m7 0h4m30 0h1m5 0h1m4 0h1m-62 1h1m16 0h3m37 0h1m2 0h1m-91 1h1m5 0h3m38 0h4m37 0h2m-88 1h3m41 0h1m4 0h5m1 0h1m-84 1h1m36 0h1m17 0h1m7 0h4m3 0h2m-33 1h1m22 0h1m-62 1h1m39 0h1m11 0h1m7 0h1m-61 1h1m40 0h1m9 0h1m6 0h1m46 0h1m-56 1h1m6 0h1m28 0h1m19 0h1m-109 1h1m58 0h1m28 0h1m21 0h1m-113 1h2m51 0h1m7 0h1m28 0h1m-92 1h1m53 0h1m6 1h1m28 0h1m24 0h1m-117 1h1m46 0h1m8 0h1m-58 1h1m26 0h1m2 0h1m28 0h2m57 0h1m-120 1h1m47 0h1m57 0h3m15 0h1m-134 1h9m27 0h1m67 0h1m8 0h1m4 0h1m-121 1h9m29 0h1m19 0h1m-60 1h4m36 0h1m1 0h1m72 0h1m6 0h1m13 0h1m-138 1h4m30 0h3m22 0h1m51 0h4m17 0h4m-136 1h3m31 0h3m94 0h1m-133 1h4m-4 1h4m55 0h1m64 0h1m6 0h1m-7 1h1m4 0h1m-4 1h2"/><path stroke="#ce0022" d="M156 3h3m-4 1h2m-3 2h1m-1 1h1m-1 1h1m0 1h5m-2 1h2m-2 8h1m-2 1h1m-7 24h1m-95 1h1m1 0h11m84 0h1m-99 1h15m83 0h1m-100 1h6m8 0h2m9 0h6m4 0h3m68 0h1m-107 1h3m12 0h2m7 0h2m4 0h10m65 0h2m-108 1h2m15 0h2m4 0h3m7 0h5m2 0h2m63 0h2m-108 1h2m18 0h5m10 0h3m5 0h2m7 0h1m2 0h1m50 0h2m-109 1h1m35 0h3m6 0h1m7 0h1m52 0h2m-72 1h4m5 0h1m8 0h2m36 0h1m3 0h1m8 0h2m-71 1h5m4 0h1m45 0h1m5 0h1m6 0h2m-72 1h2m5 0h2m1 0h2m52 0h2m2 0h2m-76 1h1m14 0h2m34 0h3m8 0h1m-64 1h1m54 0h1m6 0h1m-86 1h2m77 0h1m4 0h1m-87 1h1m3 0h1m19 0h1m49 0h1m7 0h1m2 0h1m-81 1h1m18 0h1m17 0h4m5 0h1m22 0h1m8 0h1m-116 1h1m72 0h1m3 0h4m-80 1h1m53 0h1m8 0h1m2 0h5m34 0h1m-54 1h1m33 0h1m-36 1h1m8 0h1m-61 1h1m42 0h1m15 0h1m48 0h1m-113 1h3m44 0h1m6 0h1m8 0h1m-64 1h1m46 0h1m42 0h1m23 0h1m-116 1h1m62 0h1m27 0h1m24 0h1m-117 1h1m54 0h1m7 0h1m-77 1h2m10 0h1m62 0h1m28 0h1m25 0h1m-135 1h9m6 0h1m48 0h1m9 0h1m2 0h2m29 0h1m26 0h3m-139 1h16m49 0h1m44 0h1m-111 1h7m57 0h1m56 0h1m2 0h1m16 0h1m-142 1h5m39 0h1m2 0h1m72 0h1m4 0h1m15 0h1m-142 1h4m41 0h1m74 0h1m4 0h1m15 0h1m-142 1h3m115 0h2m5 0h1m13 0h1m-140 1h3m59 0h1m62 0h1m9 0h1m-136 1h2m60 0h1m62 0h1m8 0h1m-135 1h2m60 0h1m62 0h1m0 1h1m6 0h1m-6 1h1m2 0h1"/><path stroke="#c0002f" d="M159 3h1m-3 1h3m-5 1h5m-5 1h1m2 0h2m-5 1h1m2 0h2m-5 1h5m-3 12h1m-1 1h1m-6 22h2m-3 1h1m1 0h1m-3 1h3m-93 1h8m-11 1h12m11 0h4m-29 1h15m9 0h2m3 0h2m5 0h2m67 0h1m-107 1h8m6 0h4m5 0h2m6 0h2m3 0h5m10 0h1m54 0h1m-109 1h3m31 0h1m3 0h2m3 0h1m9 0h1m1 0h1m51 0h2m-111 1h2m34 0h1m4 0h1m3 0h1m20 0h1m27 0h1m1 0h1m11 0h2m-111 1h1m35 0h2m5 0h2m1 0h1m20 0h2m29 0h1m9 0h2m-111 1h1m30 0h6m9 0h1m47 0h1m5 0h1m6 0h2m-79 1h1m71 0h6m-101 1h3m74 0h1m8 0h1m-94 1h1m5 0h1m2 0h1m70 0h1m4 0h1m6 0h1m-92 1h1m2 0h1m5 0h1m75 0h1m4 0h1m-81 1h1m74 0h2m1 0h2m-79 1h1m15 0h1m18 0h3m4 0h1m3 0h1m20 0h1m-108 1h2m40 0h1m12 0h1m10 0h2m5 0h2m3 0h3m6 0h1m-90 1h5m41 0h1m19 0h2m3 0h3m36 0h1m-113 1h7m42 0h1m17 0h1m24 0h1m20 0h1m-113 1h5m50 0h1m9 0h1m25 0h1m22 0h1m-115 1h1m90 0h1m23 0h1m-116 1h1m63 0h1m25 0h1m25 0h1m-127 1h2m56 0h1m15 0h1m25 0h1m-103 1h4m7 0h1m48 0h1m40 0h2m26 0h1m-132 1h1m2 0h4m5 0h1m49 0h1m6 0h1m7 0h1m26 0h1m27 0h1m-127 1h6m29 0h2m19 0h1m13 0h1m58 0h2m-97 1h1m2 0h1m93 0h1m-98 1h1m20 0h1m44 0h1m11 0h2m-60 1h1m46 0h1m9 0h2m1 0h1m-62 1h1m48 0h1m8 0h1m2 0h1m-12 1h1m6 0h2m2 0h1m15 0h1m-27 1h6m3 0h2m11 0h3m-15 1h1m10 0h1m-12 1h1m9 0h1m-10 1h1m0 1h2m4 0h1"/><path stroke="#b0003d" d="M156 6h2m-2 1h2m-6 37h1m-71 4h3m-22 1h6m11 0h2m3 0h1m21 0h1m-52 1h25m4 0h2m6 0h3m11 0h1m-55 1h18m7 0h4m3 0h2m6 0h3m22 0h1m27 0h1m14 0h1m-111 1h1m4 0h6m17 0h7m9 0h1m48 0h1m2 0h1m12 0h2m-106 1h5m18 0h1m64 0h1m3 0h1m9 0h4m-113 1h1m6 0h4m83 0h1m5 0h2m6 0h3m-111 1h1m5 0h1m3 0h1m70 0h3m10 0h1m7 0h7m-104 1h1m4 0h1m18 0h1m54 0h1m8 0h1m-92 1h2m76 0h1m4 0h1m6 0h1m-65 1h1m56 0h1m5 0h1m-79 1h1m13 0h1m27 0h3m28 0h4m-75 1h2m9 0h1m20 0h3m3 0h2m-38 1h1m7 0h1m12 0h3m3 0h2m4 0h4m-87 1h1m50 0h1m5 0h1m11 0h1m45 0h1m-116 1h2m49 0h1m16 0h1m48 0h1m-117 1h1m49 0h1m4 0h1m10 0h1m24 0h1m25 0h1m-118 1h1m54 0h1m10 0h1m23 0h1m-98 1h1m6 0h1m54 0h1m10 0h1m22 0h2m27 0h1m-126 1h2m4 0h1m55 0h1m9 0h1m22 0h2m-96 1h5m66 0h1m22 0h3m29 0h1m-64 1h1m6 0h1m25 0h2m32 0h1m-76 1h1m10 0h2m30 0h1m32 0h1m-96 1h1m94 0h1m-98 1h2m76 0h1m18 0h1m-21 1h2m-61 1h1m58 0h2m17 0h1m-79 1h1m56 0h3m16 0h1m-77 1h1m51 0h9m12 0h1m-74 1h1m59 0h1m11 0h1m-12 1h1m9 0h1m-10 1h1m7 0h1m-7 1h5"/><path stroke="#a10049" d="M82 49h3m-4 1h4m-14 1h7m4 0h3m-33 1h4m6 0h10m6 0h1m66 0h2m-97 1h1m3 0h2m5 0h9m8 0h1m66 0h1m1 0h1m-94 1h2m4 0h2m4 0h3m9 0h1m65 0h1m3 0h1m11 0h2m-108 1h1m5 0h1m17 0h1m65 0h1m4 0h2m7 0h4m-109 1h1m6 0h1m69 0h1m1 0h1m10 0h1m7 0h11m-102 1h1m16 0h1m55 0h1m8 0h1m12 0h5m-99 1h1m14 0h1m52 0h1m27 0h2m-96 1h1m11 0h1m53 0h1m4 0h1m4 0h1m17 0h2m-93 1h2m6 0h1m29 0h1m24 0h1m4 0h4m19 0h3m-93 1h1m5 0h1m21 0h4m4 0h1m4 0h1m21 0h1m26 0h3m-74 1h8m4 0h5m5 0h1m23 0h2m22 0h4m-146 1h2m56 0h1m12 0h1m13 0h5m4 0h1m25 0h1m22 0h3m-145 1h2m67 0h1m15 0h4m3 0h1m49 0h2m-148 1h2m3 0h1m50 0h1m16 0h1m15 0h7m28 0h1m-125 1h2m3 0h1m50 0h1m16 0h1m16 0h5m-94 1h4m51 0h1m15 0h1m17 0h4m31 0h1m-70 1h1m4 0h1m10 0h1m17 0h4m33 0h2m-73 1h1m5 0h1m8 0h1m18 0h6m-62 1h1m21 0h1m8 0h1m2 0h3m20 0h3m2 0h2m-64 1h2m19 0h1m42 0h1m-45 1h1m-2 1h1m46 0h1m30 0h1m-31 1h1m0 1h1m26 0h1m-27 1h1m22 0h1m-19 1h4m-1 1h2m-1 1h2m9 0h1m-10 1h2m5 0h1"/><path stroke="#930053" d="M72 52h3m1 0h2m-27 1h3m16 0h2m5 0h1m68 0h1m-97 1h1m11 0h4m3 0h2m74 0h3m-95 1h1m7 0h1m3 0h6m74 0h4m-99 1h1m10 0h1m4 0h4m7 0h1m53 0h1m12 0h2m1 0h4m-90 1h1m4 0h4m6 0h1m53 0h1m1 0h1m10 0h1m7 0h4m5 0h2m-96 1h3m6 0h1m57 0h1m7 0h1m12 0h3m2 0h3m-98 1h5m5 0h1m58 0h1m6 0h1m14 0h2m2 0h3m-94 1h1m4 0h1m31 0h1m1 0h1m25 0h1m4 0h1m16 0h2m3 0h2m-94 1h1m3 0h1m31 0h1m26 0h6m18 0h2m3 0h1m-93 1h1m3 0h1m21 0h4m5 0h1m30 0h2m24 0h1m-93 1h1m2 0h1m14 0h8m3 0h2m5 0h1m2 0h1m27 0h1m20 0h1m-144 1h2m53 0h1m2 0h1m13 0h6m7 0h2m4 0h3m28 0h1m20 0h1m2 0h1m-147 1h3m55 0h1m13 0h2m11 0h2m57 0h3m-147 1h3m55 0h1m13 0h1m12 0h3m35 0h1m-53 1h2m12 0h3m36 0h1m-54 1h2m12 0h3m39 0h2m-74 1h1m3 0h1m10 0h2m12 0h4m41 0h1m-97 1h1m21 0h1m6 0h1m6 0h2m12 0h6m3 0h2m36 0h1m-77 1h1m11 0h3m13 0h11m2 0h1m34 0h1m-78 1h1m28 0h9m6 0h1m32 0h1m-79 1h1m28 0h7m-37 1h1m29 0h6m42 0h1m-79 1h1m30 0h4m13 0h1m28 0h1m-78 1h1m31 0h1m16 0h1m24 0h2m-76 1h1m49 0h5m17 0h1m-17 1h2m13 0h1m-15 1h2m-1 1h3m8 0h1m-10 1h8"/><path stroke="#84005e" d="M75 52h1m-4 1h2m2 0h1m-24 1h1m17 0h2m4 0h1m-28 1h1m11 0h3m6 0h1m5 0h1m-27 1h2m9 0h1m1 0h2m4 0h2m74 0h1m-82 1h1m4 0h2m59 0h1m12 0h7m-89 1h4m3 0h3m2 0h1m55 0h3m9 0h1m8 0h3m-85 1h5m56 0h1m1 0h1m8 0h1m11 0h2m-86 1h4m33 0h1m23 0h3m6 0h1m14 0h1m-86 1h3m33 0h1m1 0h1m29 0h1m16 0h1m-86 1h3m32 0h2m1 0h1m28 0h1m18 0h1m-87 1h2m23 0h3m8 0h2m48 0h1m-87 1h2m20 0h3m2 0h2m57 0h1m-88 1h1m18 0h6m3 0h2m38 0h1m19 0h1m-89 1h1m17 0h4m6 0h2m60 0h1m-91 1h1m2 0h1m14 0h2m7 0h3m40 0h1m-71 1h2m1 0h1m14 0h2m7 0h3m44 0h1m-74 1h3m13 0h2m7 0h3m46 0h1m-75 1h1m3 0h2m9 0h2m8 0h2m-28 1h2m7 0h2m3 0h3m8 0h2m11 0h2m-41 1h2m12 0h3m9 0h2m9 0h2m3 0h1m-44 1h1m26 0h1m7 0h3m39 0h1m-51 1h1m6 0h3m8 0h1m-19 1h2m4 0h3m40 0h1m-49 1h2m1 0h4m11 0h1m27 0h1m-76 1h1m29 0h4m14 0h1m23 0h1m-25 1h7m16 0h1m-23 1h2m4 0h1m14 0h1m-15 1h1m12 0h1m-14 1h3m8 0h2m-13 1h6m-6 1h3m-4 1h4m-5 1h5m-5 1h4m-4 1h4m-2 1h1"/><path stroke="#74006a" d="M74 53h2m-25 1h2m20 0h1m2 0h1m-26 1h2m19 0h1m3 0h1m-14 1h1m8 0h1m3 0h1m-15 1h3m7 0h4m-4 1h2m69 0h8m-20 1h1m10 0h1m8 0h2m-13 1h1m12 0h1m-48 1h1m31 0h1m-33 1h1m30 0h1m16 0h1m-19 1h1m17 0h1m-61 1h2m40 0h1m-68 1h2m22 0h3m59 0h1m-87 1h2m19 0h6m41 0h1m18 0h2m-89 1h2m17 0h7m44 0h4m15 0h1m-89 1h1m17 0h7m48 0h1m-57 1h3m1 0h3m50 0h1m-75 1h3m13 0h4m1 0h3m50 0h1m-75 1h2m4 0h1m8 0h4m1 0h3m51 0h1m-76 1h2m8 0h2m3 0h4m3 0h2m13 0h3m35 0h1m-78 1h3m10 0h6m5 0h2m11 0h2m4 0h1m33 0h1m-80 1h2m15 0h2m7 0h2m10 0h2m38 0h1m-79 1h1m26 0h1m9 0h3m6 0h1m-47 1h1m26 0h2m7 0h3m37 0h1m-76 1h4m22 0h3m4 0h5m8 0h1m25 0h1m-27 1h1m-2 1h3m2 0h4m16 0h1m-26 1h7m1 0h2m14 0h1m-22 1h2m3 0h2m13 0h2m-17 1h2m6 0h5m-14 1h3m3 0h2m-9 1h3m4 0h1m11 0h3m-22 1h2m5 0h1m12 0h3m-23 1h2m4 0h1m14 0h1m-21 1h1m4 0h1m-6 1h3m1 0h1m-3 1h2m11 4h1m-2 1h3m-3 1h2"/><path stroke="#640078" d="M74 54h2m-3 1h3m-3 1h3m67 3h8m-10 1h1m9 0h2m-14 1h2m12 0h1m-16 1h1m14 0h1m-17 1h1m16 1h1m-18 1h1m16 0h1m-17 1h1m16 0h1m-13 1h2m11 0h2m-14 1h1m13 0h1m-69 1h1m54 0h1m-56 1h1m54 0h1m-74 1h4m13 0h1m55 0h1m-75 1h1m6 0h1m9 0h3m54 0h1m-76 1h1m8 0h1m6 0h5m15 0h1m-40 1h4m9 0h2m2 0h7m14 0h1m38 0h1m-79 1h5m9 0h12m13 0h1m37 0h1m-78 1h5m9 0h7m2 0h3m12 0h2m5 0h1m30 0h1m-73 1h2m9 0h5m4 0h2m12 0h2m5 0h1m27 0h2m-31 1h2m25 0h1m-20 2h1m17 0h1m-21 1h3m17 0h1m-22 1h4m13 0h5m-22 1h3m8 0h2m6 0h5m-24 1h2m8 0h1m9 0h1m3 0h1m-25 1h2m19 0h1m-22 1h2m7 0h1m12 0h1m1 0h1m-24 1h2m6 0h1m13 0h1m-22 1h1m5 0h1m-6 1h2m2 0h2m-5 1h3m10 3h1m1 0h2m-5 1h1m3 0h1m-5 1h1m2 0h2m-3 1h2"/><path stroke="#570086" d="M142 60h9m-10 1h1m10 0h1m-14 1h1m12 0h1m-15 1h1m14 0h1m-17 1h1m15 0h1m-1 1h1m-15 1h7m8 0h1m-10 1h1m8 0h2m-11 1h2m8 0h3m-12 1h1m10 0h1m-12 1h2m-2 1h1m-75 1h1m4 0h1m68 0h1m-76 1h1m6 0h1m28 0h3m35 0h1m-75 1h1m6 0h2m26 0h1m3 0h1m34 0h1m-75 1h1m7 0h1m26 0h1m3 0h1m33 0h1m-74 1h2m5 0h2m7 0h2m17 0h1m3 0h1m32 0h1m-72 1h2m4 0h3m5 0h4m16 0h2m1 0h2m30 0h1m-33 1h1m28 0h1m-2 1h1m13 0h3m-4 1h5m-18 1h1m12 0h5m-18 1h2m11 0h5m-27 1h2m2 0h2m5 0h1m11 0h4m-29 1h1m7 0h1m5 0h1m10 0h4m-30 1h1m9 0h1m4 0h1m11 0h3m-30 1h1m10 0h1m3 0h1m10 0h4m-19 1h2m1 0h1m11 0h4m-31 1h1m26 0h4m-31 1h1m26 0h4m-33 1h2m28 0h2m-32 1h1m10 1h3m-5 1h1m4 0h1m-7 1h1m5 0h1m-7 1h1m5 0h1m-2 1h1"/><path stroke="#550690" d="M142 61h10m-12 1h6m-7 1h7m6 0h1m-15 1h1m2 0h5m6 0h1m-15 1h9m-1 1h1m5 0h2m-8 1h2m5 0h1m-7 1h3m3 0h2m-8 1h3m5 0h2m-9 1h2m7 0h1m-11 1h2m-76 1h1m1 0h2m70 0h2m-77 1h1m4 0h1m68 0h2m-76 1h1m34 0h3m36 0h1m-75 1h1m5 0h1m28 0h1m1 0h1m35 0h1m-73 1h1m3 0h1m29 0h3m34 0h1m-71 1h4m30 0h1m33 0h2m6 0h4m-15 1h2m8 0h7m-18 1h1m9 0h3m3 0h2m-19 1h1m10 0h2m5 0h1m-8 1h2m5 0h1m-17 1h1m9 0h1m5 0h1m-26 1h2m8 0h1m8 0h2m4 0h1m-29 1h1m22 0h1m4 0h1m-30 1h1m23 0h2m3 0h1m-21 1h1m14 0h1m4 0h1m-31 1h1m14 0h1m9 0h1m4 0h1m-31 1h1m10 0h4m10 0h1m4 0h1m-19 1h2m16 0h1m-32 1h1m26 0h1m2 0h2m-33 1h2m9 0h3m15 0h3m-23 1h1m3 0h2m-8 1h1m6 0h1m-9 1h1m7 0h1m-1 1h1m-2 1h2m-3 1h1"/><path stroke="#601498" d="M146 62h6m-6 1h2m3 0h1m-13 1h2m5 0h2m-1 1h1m3 0h2m-6 1h5m-4 1h5m-3 1h3m-3 1h5m-5 1h7m-8 1h3m3 0h3m-84 1h1m74 0h2m5 0h1m-84 1h1m2 0h1m71 0h3m-78 1h1m3 0h1m69 0h4m5 0h1m-84 1h1m2 0h2m30 0h1m37 0h7m2 0h2m-83 1h3m68 0h12m-13 1h6m4 0h3m-16 1h8m-10 1h1m3 0h5m-10 1h1m6 0h3m-10 1h1m6 0h3m-8 1h1m5 0h3m-8 1h1m5 0h2m-21 1h1m4 0h1m7 0h1m6 0h2m-23 1h1m6 0h1m6 0h1m7 0h1m-24 1h1m14 0h1m7 0h1m-15 1h1m13 0h1m-10 1h1m-16 1h1m10 0h1m2 0h1m10 0h1m-26 1h1m9 0h5m10 0h1m-26 1h1m7 0h1m3 0h2m12 0h1m3 0h1m-31 1h1m5 0h1m6 0h2m13 0h2m-29 1h4m8 0h2m-12 1h1m9 0h2m-2 1h2m-2 1h2m-4 1h3"/><path stroke="#7027a0" d="M148 63h3m-3 1h4m-4 1h3m1 6h3m-4 1h5m-82 1h2m75 0h6m-83 1h3m74 0h5m-82 1h2m77 0h2m-15 4h3m-4 1h1m1 0h4m-6 1h6m-4 1h5m-4 1h5m-18 1h4m9 0h1m4 0h1m-15 1h1m8 0h1m5 0h1m-15 1h1m13 0h1m-23 1h1m14 0h1m6 0h1m-23 1h1m8 0h1m13 0h1m-24 1h1m8 0h1m4 0h1m8 0h1m-24 1h1m7 0h1m5 0h1m-15 1h1m5 0h1m6 0h2m9 0h1m-25 1h5m9 0h1m10 0h2m-13 1h2m11 0h3m-16 1h2m-2 1h2m-2 1h2m-3 1h3m-5 1h4"/><path stroke="#803da8" d="M140 80h1m2 4h4m-19 1h1m14 0h1m2 0h2m-21 1h1m14 0h1m4 0h1m-14 1h1m-1 1h1m6 0h1m6 0h1m-15 1h1m6 0h1m6 0h1m-16 1h1m7 0h1m7 0h1m-23 1h1m3 0h1m9 0h1m-1 1h2m7 0h1m-9 1h1m8 0h2m-11 1h2m8 0h5m-15 1h2m10 0h3m-15 1h2m-2 1h2m-3 1h2m-4 1h3"/><path stroke="#8f54b0" d="M129 85h1m2 0h1m11 0h2m-13 1h1m9 0h1m2 0h1m-20 1h1m14 0h1m4 0h1m-21 1h1m14 0h1m4 0h1m-21 1h1m14 0h1m4 0h1m-21 1h1m14 0h1m5 0h1m-21 1h3m11 0h2m5 0h1m-7 1h1m5 0h1m-7 1h2m5 0h1m-7 1h1m5 0h2m-8 1h1m6 0h3m-10 1h2m5 0h5m-12 1h2m6 0h2m-11 1h2m-3 1h2m-2 1h1"/><path stroke="#9d6bb9" d="M130 85h2m-4 1h1m15 0h2m-13 1h1m9 0h1m1 0h2m-14 1h1m9 0h1m1 0h2m-14 1h1m9 0h4m-19 1h1m3 0h1m10 0h5m-4 1h5m42 0h2m-49 1h3m1 0h1m39 0h6m-49 1h2m1 0h2m38 0h6m-49 1h5m38 0h4m-47 1h6m30 0h6m1 0h2m-44 1h5m28 0h8m-41 1h6m25 0h8m-40 1h7m23 0h6m-37 1h9m3 0h2m6 0h14m-35 1h32m-32 1h1m7 0h20m-15 1h4"/><path stroke="#ac81c3" d="M129 86h1m2 0h1m-5 1h1m15 0h1m-1 1h1m-17 1h1m0 1h3m15 2h1m-1 1h1m44 1h1m-3 1h2m-1 1h3m-9 1h3m1 0h7m-15 1h15m-18 1h18m-21 1h19m-50 1h7m20 0h20m-48 1h13m4 0h28m-46 1h1m3 0h39m-38 1h36m-36 1h31m-30 1h27m-37 1h2m9 0h22m-34 1h2m-3 1h3m-4 1h4m-4 1h3m-3 1h3m-2 1h1"/><path stroke="#bb98ce" d="M130 86h2m0 1h1m-5 1h1m3 1h1m10 14h3m-5 1h6m-6 1h6m-6 1h2m1 0h4m-8 1h3m1 0h5m-10 1h4m1 0h20m-25 1h19m-19 1h17m-18 1h10m-10 1h3m-4 1h1"/><path stroke="#c9afd9" d="M129 87h1m2 1h1m-4 1h1m1 0h1m11 17h1m-1 1h1m-1 1h1"/><path stroke="#d7c4e3" d="M130 87h2m-3 1h1m1 0h1m-2 1h1"/><path stroke="#e2d4eb" d="M130 88h1"/></g></g></g><use href="#o"/><path d="M731.5 37.0h0M776.8 37.0h0M587.2 39.5h0M674.0 41.5h0M752.3 59.0h0M597.2 65.3h0M520.9 82.6h0M692.2 93.8h0M730.3 96.6h0M565.1 105.1h0M788.6 105.8h0M474.1 106.6h0M715.3 114.6h0M661.0 117.1h0M509.1 120.3h0M436.5 130.6h0M748.5 141.6h0M570.4 146.4h0M686.5 146.4h0M522.1 152.1h0M782.3 157.9h0M638.9 164.1h0M512.1 166.6h0M462.1 167.9h0M684.7 168.4h0M596.7 173.9h0M545.4 177.1h0M739.8 184.6h0M489.6 187.9h0M575.4 198.9h0M509.6 202.7h0M781.8 204.7h0M653.0 207.2h0M409.5 209.2h0M760.5 221.4h0M505.8 222.2h0M462.8 223.4h0M148.4 224.7h0M596.7 230.9h0M311.7 231.4h0M374.8 234.7h0M699.7 234.7h0M200.4 235.2h0M241.4 237.2h0M763.5 247.9h0M539.1 249.2h0M419.5 253.9h0M633.9 254.7h0M476.3 255.4h0M592.9 257.9h0M221.4 259.7h0M728.0 259.7h0M334.0 260.4h0M146.4 262.2h0M280.2 262.2h0M677.2 263.9h0M759.0 274.7h0M517.9 276.0h0M378.5 276.5h0M652.7 276.7h0M255.4 279.2h0M607.2 280.5h0M692.2 285.5h0M461.6 286.5h0M558.4 286.5h0M212.2 288.5h0M411.5 291.0h0M313.5 291.5h0M162.1 296.5h0M652.7 301.0h0M357.8 303.0h0M716.0 303.5h0M536.6 304.7h0M115.8 310.5h0M430.8 316.0h0M577.9 318.5h0M789.1 318.5h0M477.8 319.0h0M750.5 319.7h0M304.2 320.2h0M243.4 323.0h0M630.2 324.7h0M693.5 325.5h0M74.6 331.5h0M187.1 331.5h0M383.0 332.2h0M747.3 332.2h0M349.8 333.0h0M657.7 341.8h0M451.3 343.0h0M232.2 352.3h0M572.9 352.8h0M514.6 354.3h0M274.2 356.0h0M617.7 359.8h0M699.7 360.5h0M130.1 363.5h0M769.8 364.8h0M375.5 367.8h0M188.9 370.3h0M547.1 372.8h0M480.8 374.0h0M328.0 376.0h0M43.8 377.3h0M444.5 377.3h0M727.3 380.6h0M651.5 383.7h0M594.2 401.7h0M698.5 404.9h0M763.5 407.9h0M642.9 411.2h0M719.8 436.9h0M763.0 447.9h0M741.0 463.2h0M666.7 471.2h0M702.2 484.5h0M895.4 495.5h0M816.6 509.5h0M726.5 515.0h0M714.8 528.3h0M737.3 532.0h0M771.5 541.3h0M719.8 544.5h0M695.2 547.5h0M694.4 424.8h0M608.2 436.2h0M653.7 441.1h0" stroke="#808080" stroke-width="27.5" stroke-linecap="round" fill="none"/><g font-size="21" font-weight="bold" text-anchor="middle"><text x="731.5" y="44.3">64</text><text x="776.8" y="44.3">82</text><text x="587.2" y="46.8">61</text><text x="674.0" y="48.8">60</text><text x="752.3" y="66.3">71</text><text x="597.2" y="72.6">69</text><text x="520.9" y="89.9">64</text><text x="692.2" y="101.1">43</text><text x="730.3" y="103.9">48</text><text x="565.1" y="112.4">56</text><text x="788.6" y="113.1">82</text><text x="474.1" y="113.9">67</text><text x="715.3" y="121.9">37</text><text x="661.0" y="124.4">46</text><text x="509.1" y="127.6">66</text><text x="436.5" y="137.9">70</text><text x="748.5" y="148.9">54</text><text x="570.4" y="153.7">34</text><text x="686.5" y="153.7">41</text><text x="522.1" y="159.4">64</text><text x="782.3" y="165.2">68</text><text x="638.9" y="171.4">36</text><text x="512.1" y="173.9">43</text><text x="462.1" y="175.2">69</text><text x="684.7" y="175.7">50</text><text x="596.7" y="181.2">34</text><text x="545.4" y="184.4">66</text><text x="739.8" y="191.9">56</text><text x="489.6" y="195.2">48</text><text x="575.4" y="206.2">36</text><text x="509.6" y="210.0">50</text><text x="781.8" y="212.0">74</text><text x="653.0" y="214.5">46</text><text x="409.5" y="216.5">78</text><text x="760.5" y="228.7">83</text><text x="505.8" y="229.5">75</text><text x="462.8" y="230.7">79</text><text x="148.4" y="232.0">76</text><text x="596.7" y="238.2">47</text><text x="311.7" y="238.7">81</text><text x="374.8" y="242.0">78</text><text x="699.7" y="242.0">55</text><text x="200.4" y="242.5">77</text><text x="241.4" y="244.5">75</text><text x="763.5" y="255.2">74</text><text x="539.1" y="256.5">83</text><text x="419.5" y="261.2">84</text><text x="633.9" y="262.0">60</text><text x="476.3" y="262.7">83</text><text x="592.9" y="265.2">83</text><text x="221.4" y="267.0">70</text><text x="728.0" y="267.0">83</text><text x="334.0" y="267.7">83</text><text x="146.4" y="269.5">73</text><text x="280.2" y="269.5">83</text><text x="677.2" y="271.2">77</text><text x="759.0" y="282.0">82</text><text x="517.9" y="283.3">74</text><text x="378.5" y="283.8">88</text><text x="652.7" y="284.0">82</text><text x="255.4" y="286.5">87</text><text x="607.2" y="287.8">62</text><text x="692.2" y="292.8">79</text><text x="461.6" y="293.8">76</text><text x="558.4" y="293.8">61</text><text x="212.2" y="295.8">58</text><text x="411.5" y="298.3">73</text><text x="313.5" y="298.8">86</text><text x="162.1" y="303.8">63</text><text x="652.7" y="308.3">86</text><text x="357.8" y="310.3">86</text><text x="716.0" y="310.8">89</text><text x="536.6" y="312.0">86</text><text x="115.8" y="317.8">82</text><text x="430.8" y="323.3">84</text><text x="577.9" y="325.8">76</text><text x="789.1" y="325.8">83</text><text x="477.8" y="326.3">86</text><text x="750.5" y="327.0">92</text><text x="304.2" y="327.5">65</text><text x="243.4" y="330.3">59</text><text x="630.2" y="332.0">68</text><text x="693.5" y="332.8">90</text><text x="74.6" y="338.8">85</text><text x="187.1" y="338.8">55</text><text x="383.0" y="339.5">71</text><text x="747.3" y="339.5">91</text><text x="349.8" y="340.3">87</text><text x="657.7" y="349.1">74</text><text x="451.3" y="350.3">87</text><text x="232.2" y="359.6">85</text><text x="572.9" y="360.1">70</text><text x="514.6" y="361.6">84</text><text x="274.2" y="363.3">52</text><text x="617.7" y="367.1">82</text><text x="699.7" y="367.8">77</text><text x="130.1" y="370.8">66</text><text x="769.8" y="372.1">92</text><text x="375.5" y="375.1">92</text><text x="188.9" y="377.6">80</text><text x="547.1" y="380.1">90</text><text x="480.8" y="381.3">84</text><text x="328.0" y="383.3">87</text><text x="43.8" y="384.6">78</text><text x="444.5" y="384.6">88</text><text x="727.3" y="387.9">90</text><text x="651.5" y="391.0">74</text><text x="594.2" y="409.0">87</text><text x="698.5" y="412.2">92</text><text x="763.5" y="415.2">88</text><text x="642.9" y="418.5">86</text><text x="719.8" y="444.2">95</text><text x="763.0" y="455.2">88</text><text x="741.0" y="470.5">95</text><text x="666.7" y="478.5">86</text><text x="702.2" y="491.8">91</text><text x="895.4" y="502.8">95</text><text x="816.6" y="516.8">95</text><text x="726.5" y="522.3">96</text><text x="714.8" y="535.6">97</text><text x="737.3" y="539.3">96</text><text x="771.5" y="548.6">96</text><text x="719.8" y="551.8">97</text><text x="695.2" y="554.8">96</text><text x="694.4" y="432.1">86</text><text x="608.2" y="443.5">85</text><text x="653.1" y="448.4" letter-spacing="-1.6">100</text></g><text transform="translate(8.5,535.9) scale(0.9695,1)" font-size="64">Percentile Average</text><path d="M714.7 565.5v-4.5" stroke="#000" stroke-width="1.5"/></g>
<rect x="2991.5" y="446.7" width="63.5" height="15.3" fill="#eae0f0"/><rect x="2991.5" y="461.7" width="63.5" height="15.3" fill="#e2d4eb"/><rect x="2991.5" y="476.7" width="63.5" height="15.3" fill="#d7c4e3"/><rect x="2991.5" y="491.7" width="63.5" height="15.3" fill="#c9afd9"/><rect x="2991.5" y="506.7" width="63.5" height="15.3" fill="#bb98ce"/><rect x="2991.5" y="521.7" width="63.5" height="15.3" fill="#ac81c3"/><rect x="2991.5" y="536.7" width="63.5" height="15.3" fill="#9d6bb9"/><rect x="2991.5" y="551.7" width="63.5" height="15.3" fill="#8f54b0"/><rect x="2991.5" y="566.7" width="63.5" height="15.3" fill="#803da8"/><rect x="2991.5" y="581.7" width="63.5" height="15.3" fill="#7027a0"/><rect x="2991.5" y="596.7" width="63.5" height="15.3" fill="#601498"/><rect x="2991.5" y="611.7" width="63.5" height="15.3" fill="#550690"/><rect x="2991.5" y="626.7" width="63.5" height="15.3" fill="#570086"/><rect x="2991.5" y="641.7" width="63.5" height="15.3" fill="#640078"/><rect x="2991.5" y="656.7" width="63.5" height="15.3" fill="#74006a"/><rect x="2991.5" y="671.7" width="63.5" height="15.3" fill="#84005e"/><rect x="2991.5" y="686.7" width="63.5" height="15.3" fill="#930053"/><rect x="2991.5" y="701.7" width="63.5" height="15.3" fill="#a10049"/><rect x="2991.5" y="716.7" width="63.5" height="15.3" fill="#b0003d"/><rect x="2991.5" y="731.7" width="63.5" height="15.3" fill="#c0002f"/><rect x="2991.5" y="746.7" width="63.5" height="15.3" fill="#ce0022"/><rect x="2991.5" y="761.7" width="63.5" height="15.3" fill="#da0016"/><rect x="2991.5" y="776.7" width="63.5" height="15.3" fill="#e5000c"/><rect x="2991.5" y="791.7" width="63.5" height="15.3" fill="#ef0004"/><rect x="2991.5" y="806.7" width="63.5" height="15.3" fill="#f70000"/><rect x="2991.5" y="821.7" width="63.5" height="15.3" fill="#fc0000"/><rect x="2991.5" y="836.7" width="63.5" height="15.3" fill="#ff0600"/><rect x="2991.5" y="851.7" width="63.5" height="15.3" fill="#ff1200"/><rect x="2991.5" y="866.7" width="63.5" height="15.3" fill="#ff1f00"/><rect x="2991.5" y="881.7" width="63.5" height="15.3" fill="#ff2e00"/><rect x="2991.5" y="896.7" width="63.5" height="15.3" fill="#ff3d00"/><rect x="2991.5" y="911.7" width="63.5" height="15.3" fill="#ff4c00"/><rect x="2991.5" y="926.7" width="63.5" height="15.3" fill="#ff5c00"/><rect x="2991.5" y="941.7" width="63.5" height="15.3" fill="#ff6a00"/><rect x="2991.5" y="956.7" width="63.5" height="15.3" fill="#ff7600"/><rect x="2991.5" y="971.7" width="63.5" height="15.3" fill="#ff8200"/><rect x="2991.5" y="986.7" width="63.5" height="15.3" fill="#ff8c00"/><rect x="2991.5" y="1001.7" width="63.5" height="15.3" fill="#ff9400"/><rect x="2991.5" y="1016.7" width="63.5" height="15.3" fill="#ff9c00"/><rect x="2991.5" y="1031.7" width="63.5" height="15.3" fill="#ffa400"/><rect x="2991.5" y="1046.7" width="63.5" height="15.3" fill="#ffac00"/><rect x="2991.5" y="1061.7" width="63.5" height="15.3" fill="#ffb400"/><rect x="2991.5" y="1076.7" width="63.5" height="15.3" fill="#ffbc00"/><rect x="2991.5" y="1091.7" width="63.5" height="15.3" fill="#ffc400"/><rect x="2991.5" y="1106.7" width="63.5" height="15.3" fill="#ffcc00"/><rect x="2991.5" y="1121.7" width="63.5" height="15.3" fill="#ffd400"/><rect x="2991.5" y="1136.7" width="63.5" height="15.3" fill="#ffdc00"/><rect x="2991.5" y="1151.7" width="63.5" height="15.3" fill="#ffe400"/><rect x="2991.5" y="1166.7" width="63.5" height="15.3" fill="#ffec00"/><rect x="2991.5" y="1181.7" width="63.5" height="15.3" fill="#fcf400"/><rect x="2991.5" y="1196.7" width="63.5" height="15.3" fill="#f7fb00"/><rect x="2991.5" y="1211.7" width="63.5" height="15.3" fill="#edfc00"/><rect x="2991.5" y="1226.7" width="63.5" height="15.3" fill="#dff700"/><rect x="2991.5" y="1241.7" width="63.5" height="15.3" fill="#d0f100"/><rect x="2991.5" y="1256.7" width="63.5" height="15.3" fill="#c0ec00"/><rect x="2991.5" y="1271.7" width="63.5" height="15.3" fill="#b0e700"/><rect x="2991.5" y="1286.7" width="63.5" height="15.3" fill="#9adf00"/><rect x="2991.5" y="1301.7" width="63.5" height="15.3" fill="#7ed500"/><rect x="2991.5" y="1316.7" width="63.5" height="15.3" fill="#64cb00"/><rect x="2991.5" y="1331.7" width="63.5" height="15.3" fill="#4cc100"/><rect x="2991.5" y="1346.7" width="63.5" height="15.3" fill="#36b900"/><rect x="2991.5" y="1361.7" width="63.5" height="15.3" fill="#22b300"/><rect x="2991.5" y="1376.7" width="63.5" height="15.3" fill="#12b008"/><rect x="2991.5" y="1391.7" width="63.5" height="15.3" fill="#06b018"/><rect x="2991.5" y="1406.7" width="63.5" height="15.3" fill="#00b32a"/><rect x="2991.5" y="1421.7" width="63.5" height="15.3" fill="#00b93e"/><rect x="2991.5" y="1436.7" width="63.5" height="15.3" fill="#00bf51"/><rect x="2991.5" y="1451.7" width="63.5" height="15.3" fill="#00c664"/><rect x="2991.5" y="1466.7" width="63.5" height="15.3" fill="#00cd77"/><rect x="2991.5" y="1481.7" width="63.5" height="15.3" fill="#00d488"/><rect x="2991.5" y="1496.7" width="63.5" height="15.3" fill="#00dc98"/><rect x="2991.5" y="1511.7" width="63.5" height="15.3" fill="#00e3a8"/><rect x="2991.5" y="1526.7" width="63.5" height="15.3" fill="#00e8b8"/><rect x="2991.5" y="1541.7" width="63.5" height="15.3" fill="#00edc8"/><rect x="2991.5" y="1556.7" width="63.5" height="15.3" fill="#00f4dc"/><rect x="2991.5" y="1571.7" width="63.5" height="15.3" fill="#00fbf3"/><rect x="2991.5" y="1586.7" width="63.5" height="15.3" fill="#00f4ff"/><rect x="2991.5" y="1601.7" width="63.5" height="15.3" fill="#00e0ff"/><rect x="2991.5" y="1616.7" width="63.5" height="15.3" fill="#00caff"/><rect x="2991.5" y="1631.7" width="63.5" height="15.3" fill="#00b6ff"/><rect x="2991.5" y="1646.7" width="63.5" height="15.3" fill="#00a2ff"/><rect x="2991.5" y="1661.7" width="63.5" height="15.3" fill="#038fff"/><rect x="2991.5" y="1676.7" width="63.5" height="15.3" fill="#087cff"/><rect x="2991.5" y="1691.7" width="63.5" height="15.3" fill="#0d69ff"/><rect x="2991.5" y="1706.7" width="63.5" height="15.3" fill="#0f55ff"/><rect x="2991.5" y="1721.7" width="63.5" height="15.3" fill="#0d3fff"/><rect x="2991.5" y="1736.7" width="63.5" height="15.3" fill="#0927ff"/><rect x="2991.5" y="1751.7" width="63.5" height="15.3" fill="#030dff"/><rect x="2991.5" y="1766.7" width="63.5" height="15.3" fill="#0000f8"/><rect x="2991.5" y="1781.7" width="63.5" height="15.3" fill="#0000e6"/><rect x="2991.5" y="1796.7" width="63.5" height="15.3" fill="#0000d2"/><rect x="2991.5" y="1811.7" width="63.5" height="15.3" fill="#0000c0"/><rect x="2991.5" y="1826.7" width="63.5" height="15.3" fill="#0000b0"/><rect x="2991.5" y="1841.7" width="63.5" height="15.3" fill="#0000a0"/><rect x="2991.5" y="1856.7" width="63.5" height="15.3" fill="#00008c"/><rect x="2991.5" y="1871.7" width="63.5" height="15.3" fill="#000074"/><rect x="2991.5" y="1886.7" width="63.5" height="15.3" fill="#00005d"/><rect x="2991.5" y="1901.7" width="63.5" height="15.3" fill="#000048"/><rect x="2991.5" y="1916.7" width="63.5" height="15.3" fill="#000033"/><rect x="2991.5" y="1931.7" width="63.5" height="15.3" fill="#00001e"/><rect x="2991.5" y="1946.7" width="63.5" height="15.3" fill="#00000a"/><rect x="2991.5" y="1961.7" width="63.5" height="15.3" fill="#000000"/><path d="M2991.5 461.7h63.5M2991.5 476.7h63.5M2991.5 491.7h63.5M2991.5 506.7h63.5M2991.5 521.7h63.5M2991.5 536.7h63.5M2991.5 551.7h63.5M2991.5 566.7h63.5M2991.5 581.7h63.5M2991.5 596.7h63.5M2991.5 611.7h63.5M2991.5 626.7h63.5M2991.5 641.7h63.5M2991.5 656.7h63.5M2991.5 671.7h63.5M2991.5 686.7h63.5M2991.5 701.7h63.5M2991.5 716.7h63.5M2991.5 731.7h63.5M2991.5 746.7h63.5M2991.5 761.7h63.5M2991.5 776.7h63.5M2991.5 791.7h63.5M2991.5 806.7h63.5M2991.5 821.7h63.5M2991.5 836.7h63.5M2991.5 851.7h63.5M2991.5 866.7h63.5M2991.5 881.7h63.5M2991.5 896.7h63.5M2991.5 911.7h63.5M2991.5 926.7h63.5M2991.5 941.7h63.5M2991.5 956.7h63.5M2991.5 971.7h63.5M2991.5 986.7h63.5M2991.5 1001.7h63.5M2991.5 1016.7h63.5M2991.5 1031.7h63.5M2991.5 1046.7h63.5M2991.5 1061.7h63.5M2991.5 1076.7h63.5M2991.5 1091.7h63.5M2991.5 1106.7h63.5M2991.5 1121.7h63.5M2991.5 1136.7h63.5M2991.5 1151.7h63.5M2991.5 1166.7h63.5M2991.5 1181.7h63.5M2991.5 1196.7h63.5M2991.5 1211.7h63.5M2991.5 1226.7h63.5M2991.5 1241.7h63.5M2991.5 1256.7h63.5M2991.5 1271.7h63.5M2991.5 1286.7h63.5M2991.5 1301.7h63.5M2991.5 1316.7h63.5M2991.5 1331.7h63.5M2991.5 1346.7h63.5M2991.5 1361.7h63.5M2991.5 1376.7h63.5M2991.5 1391.7h63.5M2991.5 1406.7h63.5M2991.5 1421.7h63.5M2991.5 1436.7h63.5M2991.5 1451.7h63.5M2991.5 1466.7h63.5M2991.5 1481.7h63.5M2991.5 1496.7h63.5M2991.5 1511.7h63.5M2991.5 1526.7h63.5M2991.5 1541.7h63.5M2991.5 1556.7h63.5M2991.5 1571.7h63.5M2991.5 1586.7h63.5M2991.5 1601.7h63.5M2991.5 1616.7h63.5M2991.5 1631.7h63.5M2991.5 1646.7h63.5M2991.5 1661.7h63.5M2991.5 1676.7h63.5M2991.5 1691.7h63.5M2991.5 1706.7h63.5M2991.5 1721.7h63.5M2991.5 1736.7h63.5M2991.5 1751.7h63.5M2991.5 1766.7h63.5M2991.5 1781.7h63.5M2991.5 1796.7h63.5M2991.5 1811.7h63.5M2991.5 1826.7h63.5M2991.5 1841.7h63.5M2991.5 1856.7h63.5M2991.5 1871.7h63.5M2991.5 1886.7h63.5M2991.5 1901.7h63.5M2991.5 1916.7h63.5M2991.5 1931.7h63.5M2991.5 1946.7h63.5M2991.5 1961.7h63.5" stroke="#000" stroke-opacity="0.55" stroke-width="0.8" fill="none"/><rect x="2991.5" y="446.7" width="63.5" height="1530.0" fill="none" stroke="#555" stroke-width="1"/><g font-size="64.6" text-anchor="middle"><text x="3124" y="1983.9">0</text><text x="3124" y="1908.9">5</text><text x="3124" y="1833.9">10</text><text x="3124" y="1758.9">15</text><text x="3124" y="1683.9">20</text><text x="3124" y="1608.9">25</text><text x="3124" y="1533.9">30</text><text x="3124" y="1458.9">35</text><text x="3124" y="1383.9">40</text><text x="3124" y="1308.9">45</text><text x="3124" y="1233.9">50</text><text x="3124" y="1158.9">55</text><text x="3124" y="1083.9">60</text><text x="3124" y="1008.9">65</text><text x="3124" y="933.9">70</text><text x="3124" y="858.9">75</text><text x="3124" y="783.9">80</text><text x="3124" y="708.9">85</text><text x="3124" y="633.9">90</text><text x="3124" y="558.9">95</text><text x="3124" y="483.9">100</text></g><text transform="translate(3045.1,389.3) scale(0.9689,1)" font-size="88">%</text>
<text transform="translate(1021.7,1454.2) scale(1.0209,1)" font-size="51.6" font-weight="bold">1) Percentiles Close To 50 Suggest</text><text transform="translate(1020.2,1512.6) scale(1.0247,1)" font-size="51.6" font-weight="bold">Historically Similar Conditions To</text><text transform="translate(1020.2,1571.0) scale(1.0205,1)" font-size="51.6" font-weight="bold">Past Freezing Rain Events</text><text transform="translate(1023.2,1678.6) scale(1.0179,1)" font-size="51.6" font-weight="bold">2) Percentiles Of 0 Or 100 Suggest</text><text transform="translate(1023.3,1737.0) scale(1.0304,1)" font-size="51.6" font-weight="bold">That Variable’s Value Is Outside</text><text transform="translate(1023.3,1795.3) scale(1.0173,1)" font-size="51.6" font-weight="bold">The 99 Case Climatology</text><text transform="translate(1020.2,1900.4) scale(1.0253,1)" font-size="51.6" font-weight="bold">Figure created on:</text><text transform="translate(1020.2,1958.8) scale(1.0218,1)" font-size="51.6" font-weight="bold">Mon, 2026-01-12, at 02:04 PM</text>
<text transform="translate(560.7,2021.8) scale(0.9666,1)" font-size="40.9" font-weight="bold" fill="#808080">Created By Nick Bassill Via COMET Partners Project SUBAWD001611 With Data Provided By The NYS Mesonet</text></g></svg></body></html>
